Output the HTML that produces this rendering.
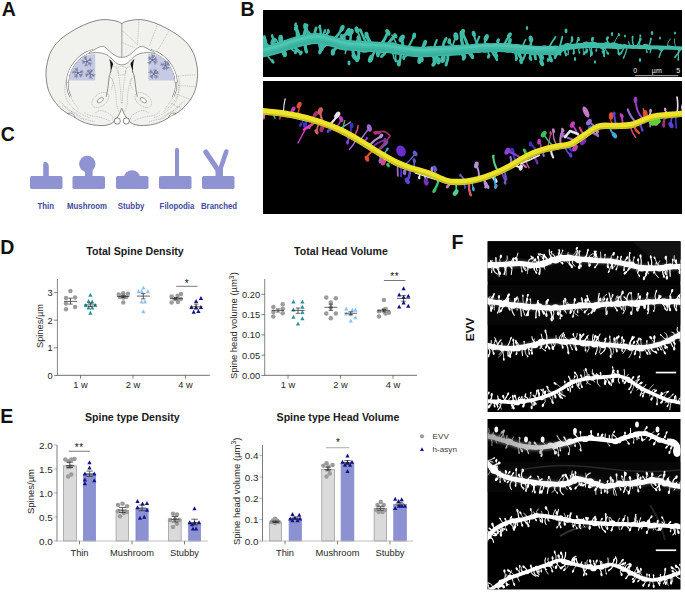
<!DOCTYPE html>
<html><head><meta charset="utf-8"><title>Figure</title>
<style>html,body{margin:0;padding:0;background:#fff;}body{width:685px;height:592px;overflow:hidden;font-family:"Liberation Sans", sans-serif;}svg{display:block;font-family:"Liberation Sans", sans-serif;}</style>
</head><body>
<svg width="685" height="592" viewBox="0 0 685 592">
<defs>
<filter id="bl" x="-5%" y="-20%" width="110%" height="140%"><feGaussianBlur stdDeviation="0.45"/></filter>
<filter id="bl3" x="-20%" y="-20%" width="140%" height="140%"><feGaussianBlur stdDeviation="0.3"/></filter>
<filter id="bl2" x="-5%" y="-20%" width="110%" height="140%"><feGaussianBlur stdDeviation="0.6"/></filter>
<filter id="glow" x="-5%" y="-50%" width="110%" height="200%"><feGaussianBlur stdDeviation="1.6"/></filter>
<clipPath id="cB1"><rect x="263" y="10" width="419" height="67"/></clipPath>
<clipPath id="cB2"><rect x="263" y="81" width="419" height="133"/></clipPath>
<clipPath id="cF1"><rect x="487.5" y="241.5" width="193" height="170.5"/></clipPath>
<clipPath id="cF2"><rect x="487.5" y="419" width="193" height="170.5"/></clipPath>
</defs>
<rect width="685" height="592" fill="#fff"/>
<text x="1.7" y="16" font-size="19.5" font-weight="bold" fill="#111" text-anchor="start">A</text>
<text x="240.4" y="16" font-size="19.5" font-weight="bold" fill="#111" text-anchor="start">B</text>
<text x="0.85" y="140.8" font-size="19.5" font-weight="bold" fill="#111" text-anchor="start">C</text>
<text x="0.2" y="253.5" font-size="19.5" font-weight="bold" fill="#111" text-anchor="start">D</text>
<text x="0.35" y="422.8" font-size="19.5" font-weight="bold" fill="#111" text-anchor="start">E</text>
<text x="451.6" y="248.5" font-size="19.5" font-weight="bold" fill="#111" text-anchor="start">F</text>
<path d="M121.8 23.6C120.83 23.17 119.13 21.67 116 21C112.87 20.33 107.33 19.35 103 19.6C98.67 19.85 94.17 21.13 90 22.5C85.83 23.87 82 25.72 78 27.8C74 29.88 69.62 32.38 66 35C62.38 37.62 58.97 40.42 56.3 43.5C53.63 46.58 51.55 50.08 50 53.5C48.45 56.92 47.67 60.92 47 64C46.33 67.08 46.12 69.5 46 72C45.88 74.5 46.05 76.5 46.3 79C46.55 81.5 46.88 84.5 47.5 87C48.12 89.5 49 91.83 50 94C51 96.17 52.23 98.13 53.5 100C54.77 101.87 56.18 103.62 57.6 105.2C59.02 106.78 60.33 108.12 62 109.5C63.67 110.88 65.93 112.58 67.6 113.5C69.27 114.42 70.77 114.33 72 115C73.23 115.67 73.43 116.45 75 117.5C76.57 118.55 79.07 120.22 81.4 121.3C83.73 122.38 86.48 123.33 89 124C91.52 124.67 94.17 125.05 96.5 125.3C98.83 125.55 101.08 125.58 103 125.5C104.92 125.42 106.5 125.18 108 124.8C109.5 124.42 110.75 124 112 123.2C113.25 122.4 114.42 121.28 115.5 120C116.58 118.72 117.65 116.97 118.5 115.5C119.35 114.03 120.05 112.4 120.6 111.2C121.15 110 121.4 108.3 121.8 108.3C122.2 108.3 122.45 110 123 111.2C123.55 112.4 124.25 114.03 125.1 115.5C125.95 116.97 127.02 118.72 128.1 120C129.18 121.28 130.35 122.4 131.6 123.2C132.85 124 134.1 124.42 135.6 124.8C137.1 125.18 138.68 125.42 140.6 125.5C142.52 125.58 144.77 125.55 147.1 125.3C149.43 125.05 152.08 124.67 154.6 124C157.12 123.33 159.87 122.38 162.2 121.3C164.53 120.22 167.03 118.55 168.6 117.5C170.17 116.45 170.37 115.67 171.6 115C172.83 114.33 174.33 114.42 176 113.5C177.67 112.58 179.93 110.88 181.6 109.5C183.27 108.12 184.58 106.78 186 105.2C187.42 103.62 188.83 101.87 190.1 100C191.37 98.13 192.6 96.17 193.6 94C194.6 91.83 195.48 89.5 196.1 87C196.72 84.5 197.05 81.5 197.3 79C197.55 76.5 197.72 74.5 197.6 72C197.48 69.5 197.27 67.08 196.6 64C195.93 60.92 195.15 56.92 193.6 53.5C192.05 50.08 189.97 46.58 187.3 43.5C184.63 40.42 181.22 37.62 177.6 35C173.98 32.38 169.6 29.88 165.6 27.8C161.6 25.72 157.77 23.87 153.6 22.5C149.43 21.13 144.93 19.85 140.6 19.6C136.27 19.35 130.73 20.33 127.6 21C124.47 21.67 122.77 23.17 121.8 23.6Z" fill="#f1f1ed" stroke="#3a3a3a" stroke-width="0.6" stroke-linejoin="round"/>
<line x1="121.8" y1="23.6" x2="121.8" y2="57.5" stroke="#3a3a3a" stroke-width="0.45"/>
<path d="M138.9 20.3C138.78 22.42 138.42 28.92 138.2 33C137.98 37.08 137.7 42.83 137.6 44.8" fill="none" stroke="#777" stroke-width="0.4" stroke-dasharray="1 0.8"/>
<path d="M121.8 30.3C123.17 31.5 127.37 35.08 130 37.5C132.63 39.92 136.33 43.58 137.6 44.8" fill="none" stroke="#777" stroke-width="0.4" stroke-dasharray="1 0.8"/>
<path d="M121.8 42.2C122.83 42.67 125.8 44.05 128 45C130.2 45.95 133.83 47.42 135 47.9" fill="none" stroke="#777" stroke-width="0.4" stroke-dasharray="1 0.8"/>
<path d="M149.5 46C150.17 44.17 152.13 38.67 153.5 35C154.87 31.33 157 25.83 157.7 24" fill="none" stroke="#777" stroke-width="0.4" stroke-dasharray="1 0.8"/>
<path d="M157.7 50.4C158.67 48.75 161.62 43.73 163.5 40.5C165.38 37.27 168.08 32.58 169 31" fill="none" stroke="#777" stroke-width="0.4" stroke-dasharray="1 0.8"/>
<path d="M177.8 76.1C179.17 75.97 183.07 75.5 186 75.3C188.93 75.1 193.83 74.97 195.4 74.9" fill="none" stroke="#777" stroke-width="0.4" stroke-dasharray="1 0.8"/>
<path d="M178 85.6C179.5 85.67 184.13 85.83 187 86C189.87 86.17 193.83 86.5 195.2 86.6" fill="none" stroke="#777" stroke-width="0.4" stroke-dasharray="1 0.8"/>
<path d="M176 94C177.33 94.5 181.33 96 184 97C186.67 98 190.67 99.5 192 100" fill="none" stroke="#777" stroke-width="0.4" stroke-dasharray="1 0.8"/>
<path d="M171 103C172.17 103.67 175.67 105.75 178 107C180.33 108.25 183.83 109.92 185 110.5" fill="none" stroke="#777" stroke-width="0.4" stroke-dasharray="1 0.8"/>
<path d="M178.5 76C178.67 77.67 179.75 82.67 179.5 86C179.25 89.33 178.42 92.83 177 96C175.58 99.17 173.33 102.33 171 105C168.67 107.67 164.33 110.83 163 112" fill="none" stroke="#777" stroke-width="0.4" stroke-dasharray="1 0.8"/>
<path d="M66 80C65.8 81.67 64.63 86.67 64.8 90C64.97 93.33 65.63 97 67 100C68.37 103 70.67 105.67 73 108C75.33 110.33 78.17 112.33 81 114C83.83 115.67 88.5 117.33 90 118" fill="none" stroke="#777" stroke-width="0.4" stroke-dasharray="1 0.8"/>
<path d="M177.6 80C177.8 81.67 178.97 86.67 178.8 90C178.63 93.33 177.97 97 176.6 100C175.23 103 172.93 105.67 170.6 108C168.27 110.33 165.43 112.33 162.6 114C159.77 115.67 155.1 117.33 153.6 118" fill="none" stroke="#777" stroke-width="0.4" stroke-dasharray="1 0.8"/>
<path d="M59 101C59.67 101.5 61.5 102.5 63 104C64.5 105.5 66 108.5 68 110C70 111.5 73 111.67 75 113C77 114.33 77.83 116.83 80 118C82.17 119.17 85.5 119.33 88 120C90.5 120.67 93.83 121.67 95 122" fill="none" stroke="#777" stroke-width="0.4" stroke-dasharray="1 0.8"/>
<path d="M184.6 101C183.93 101.5 182.1 102.5 180.6 104C179.1 105.5 177.6 108.5 175.6 110C173.6 111.5 170.6 111.67 168.6 113C166.6 114.33 165.77 116.83 163.6 118C161.43 119.17 158.1 119.33 155.6 120C153.1 120.67 149.77 121.67 148.6 122" fill="none" stroke="#777" stroke-width="0.4" stroke-dasharray="1 0.8"/>
<path d="M62 106C62.83 106.25 65.33 106.5 67 107.5C68.67 108.5 70.17 110.75 72 112C73.83 113.25 76 113.75 78 115C80 116.25 83 118.75 84 119.5" fill="none" stroke="#777" stroke-width="0.4" stroke-dasharray="1 0.8"/>
<path d="M181.6 106C180.77 106.25 178.27 106.5 176.6 107.5C174.93 108.5 173.43 110.75 171.6 112C169.77 113.25 167.6 113.75 165.6 115C163.6 116.25 160.6 118.75 159.6 119.5" fill="none" stroke="#777" stroke-width="0.4" stroke-dasharray="1 0.8"/>
<path d="M84 112C85 112.58 87.83 114.75 90 115.5C92.17 116.25 94.67 116 97 116.5C99.33 117 101.83 117.75 104 118.5C106.17 119.25 109 120.58 110 121" fill="none" stroke="#777" stroke-width="0.4" stroke-dasharray="1 0.8"/>
<path d="M159.6 112C158.6 112.58 155.77 114.75 153.6 115.5C151.43 116.25 148.93 116 146.6 116.5C144.27 117 141.77 117.75 139.6 118.5C137.43 119.25 134.6 120.58 133.6 121" fill="none" stroke="#777" stroke-width="0.4" stroke-dasharray="1 0.8"/>
<path d="M95 113C95.83 112.58 98.17 110.67 100 110.5C101.83 110.33 104 111.08 106 112C108 112.92 110.75 114.67 112 116C113.25 117.33 113.25 119.33 113.5 120" fill="none" stroke="#777" stroke-width="0.4" stroke-dasharray="1 0.8"/>
<path d="M148.6 113C147.77 112.58 145.43 110.67 143.6 110.5C141.77 110.33 139.6 111.08 137.6 112C135.6 112.92 132.85 114.67 131.6 116C130.35 117.33 130.35 119.33 130.1 120" fill="none" stroke="#777" stroke-width="0.4" stroke-dasharray="1 0.8"/>
<path d="M112 78C112.42 79.33 113.83 83.17 114.5 86C115.17 88.83 115.67 92 116 95C116.33 98 116 101.17 116.5 104C117 106.83 118.58 110.67 119 112" fill="none" stroke="#777" stroke-width="0.4" stroke-dasharray="1 0.8"/>
<path d="M131.6 78C131.18 79.33 129.77 83.17 129.1 86C128.43 88.83 127.93 92 127.6 95C127.27 98 127.6 101.17 127.1 104C126.6 106.83 125.02 110.67 124.6 112" fill="none" stroke="#777" stroke-width="0.4" stroke-dasharray="1 0.8"/>
<path d="M108.5 76C109.08 76.5 111.25 77.67 112 79C112.75 80.33 113.17 82.17 113 84C112.83 85.83 111.33 89 111 90" fill="none" stroke="#777" stroke-width="0.4" stroke-dasharray="1 0.8"/>
<path d="M135.1 76C134.52 76.5 132.35 77.67 131.6 79C130.85 80.33 130.43 82.17 130.6 84C130.77 85.83 132.27 89 132.6 90" fill="none" stroke="#777" stroke-width="0.4" stroke-dasharray="1 0.8"/>
<path d="M117 68C117.33 69.67 118.42 74.33 119 78C119.58 81.67 120.08 85.67 120.5 90C120.92 94.33 121.33 101.67 121.5 104" fill="none" stroke="#777" stroke-width="0.4" stroke-dasharray="1 0.8"/>
<path d="M126.6 68C126.27 69.67 125.18 74.33 124.6 78C124.02 81.67 123.52 85.67 123.1 90C122.68 94.33 122.27 101.67 122.1 104" fill="none" stroke="#777" stroke-width="0.4" stroke-dasharray="1 0.8"/>
<ellipse cx="100.3" cy="100" rx="9.5" ry="6" transform="rotate(-38 100.3 100)" fill="none" stroke="#777" stroke-width="0.4" stroke-dasharray="1 0.8"/>
<ellipse cx="100.3" cy="100.2" rx="3.6" ry="1.9" transform="rotate(-38 100.3 100.2)" fill="#fff" stroke="#3a3a3a" stroke-width="0.45"/>
<ellipse cx="143.3" cy="100" rx="9.5" ry="6" transform="rotate(38 143.3 100)" fill="none" stroke="#777" stroke-width="0.4" stroke-dasharray="1 0.8"/>
<ellipse cx="143.3" cy="100.2" rx="3.6" ry="1.9" transform="rotate(38 143.3 100.2)" fill="#fff" stroke="#3a3a3a" stroke-width="0.45"/>
<path d="M113 66C113.67 66.25 115.53 67.42 117 67.5C118.47 67.58 120.2 66.5 121.8 66.5C123.4 66.5 125.13 67.58 126.6 67.5C128.07 67.42 129.93 66.25 130.6 66" fill="none" stroke="#777" stroke-width="0.4" stroke-dasharray="1 0.8"/>
<path d="M118 70C118.08 70.67 117.87 73.17 118.5 74C119.13 74.83 120.7 75 121.8 75C122.9 75 124.47 74.83 125.1 74C125.73 73.17 125.52 70.67 125.6 70" fill="none" stroke="#777" stroke-width="0.4" stroke-dasharray="1 0.8"/>
<path d="M93 50.6C92 50.97 89.08 51.73 87 52.8C84.92 53.87 82.5 55.38 80.5 57C78.5 58.62 76.58 60.53 75 62.5C73.42 64.47 72.1 66.63 71 68.8C69.9 70.97 69 73.22 68.4 75.5C67.8 77.78 67.57 81.33 67.4 82.5" fill="none" stroke="#4a4a4a" stroke-width="2.7"/>
<path d="M93 50.6C92 50.97 89.08 51.73 87 52.8C84.92 53.87 82.5 55.38 80.5 57C78.5 58.62 76.58 60.53 75 62.5C73.42 64.47 72.1 66.63 71 68.8C69.9 70.97 69 73.22 68.4 75.5C67.8 77.78 67.57 81.33 67.4 82.5" fill="none" stroke="#fff" stroke-width="1.9"/>
<path d="M67.4 82.5C67.5 83.75 67.48 87.58 68 90C68.52 92.42 70.08 95.83 70.5 97" fill="none" stroke="#4a4a4a" stroke-width="1.9"/>
<path d="M67.4 82.5C67.5 83.75 67.48 87.58 68 90C68.52 92.42 70.08 95.83 70.5 97" fill="none" stroke="#fff" stroke-width="1.1"/>
<path d="M70.5 97C71.17 98.08 73.08 101.5 74.5 103.5C75.92 105.5 78.25 108.08 79 109" fill="none" stroke="#777" stroke-width="0.4" stroke-dasharray="1 0.8"/>
<path d="M150.6 50.6C151.6 50.97 154.52 51.73 156.6 52.8C158.68 53.87 161.1 55.38 163.1 57C165.1 58.62 167.02 60.53 168.6 62.5C170.18 64.47 171.5 66.63 172.6 68.8C173.7 70.97 174.6 73.22 175.2 75.5C175.8 77.78 176.03 81.33 176.2 82.5" fill="none" stroke="#4a4a4a" stroke-width="2.7"/>
<path d="M150.6 50.6C151.6 50.97 154.52 51.73 156.6 52.8C158.68 53.87 161.1 55.38 163.1 57C165.1 58.62 167.02 60.53 168.6 62.5C170.18 64.47 171.5 66.63 172.6 68.8C173.7 70.97 174.6 73.22 175.2 75.5C175.8 77.78 176.03 81.33 176.2 82.5" fill="none" stroke="#fff" stroke-width="1.9"/>
<path d="M176.2 82.5C176.1 83.75 176.12 87.58 175.6 90C175.08 92.42 173.52 95.83 173.1 97" fill="none" stroke="#4a4a4a" stroke-width="1.9"/>
<path d="M176.2 82.5C176.1 83.75 176.12 87.58 175.6 90C175.08 92.42 173.52 95.83 173.1 97" fill="none" stroke="#fff" stroke-width="1.1"/>
<path d="M173.1 97C172.43 98.08 170.52 101.5 169.1 103.5C167.68 105.5 165.35 108.08 164.6 109" fill="none" stroke="#777" stroke-width="0.4" stroke-dasharray="1 0.8"/>
<path d="M89.5 52.3C90.25 51.88 92.42 50.65 94 49.8C95.58 48.95 97.53 47.77 99 47.2C100.47 46.63 101.63 46.27 102.8 46.4C103.97 46.53 104.8 47.15 106 48C107.2 48.85 108.67 50.37 110 51.5C111.33 52.63 112.67 53.92 114 54.8C115.33 55.68 116.7 56.37 118 56.8C119.3 57.23 120.53 57.4 121.8 57.4C123.07 57.4 124.3 57.23 125.6 56.8C126.9 56.37 128.27 55.68 129.6 54.8C130.93 53.92 132.27 52.63 133.6 51.5C134.93 50.37 136.4 48.85 137.6 48C138.8 47.15 139.63 46.53 140.8 46.4C141.97 46.27 143.13 46.63 144.6 47.2C146.07 47.77 148.02 48.95 149.6 49.8C151.18 50.65 153.35 51.73 154.1 52.3C154.85 52.87 155.02 53.15 154.1 53.2C153.18 53.25 150.35 52.67 148.6 52.6C146.85 52.53 145.32 52.53 143.6 52.8C141.88 53.07 139.72 53.67 138.3 54.2C136.88 54.73 136.22 55.2 135.1 56C133.98 56.8 132.73 57.95 131.6 59C130.47 60.05 129.38 61.42 128.3 62.3C127.22 63.18 126.18 63.88 125.1 64.3C124.02 64.72 122.9 64.8 121.8 64.8C120.7 64.8 119.58 64.72 118.5 64.3C117.42 63.88 116.38 63.18 115.3 62.3C114.22 61.42 113.13 60.05 112 59C110.87 57.95 109.62 56.8 108.5 56C107.38 55.2 106.72 54.73 105.3 54.2C103.88 53.67 101.72 53.07 100 52.8C98.28 52.53 96.75 52.53 95 52.6C93.25 52.67 90.42 53.1 89.5 53.2Z" fill="#fff" stroke="#3a3a3a" stroke-width="0.5" stroke-linejoin="round"/>
<path d="M109.2 58.8C109.53 59.17 110.57 60.17 111.2 61C111.83 61.83 112.8 62.88 113 63.8C113.2 64.72 112.68 65.47 112.4 66.5C112.12 67.53 111.58 68.92 111.3 70C111.02 71.08 110.82 73.5 110.7 73C110.58 72.5 110.68 68.75 110.6 67C110.52 65.25 110.27 63.25 110.2 62.5Z" fill="#111"/>
<path d="M111 71C110.7 72 109.67 74.67 109.2 77C108.73 79.33 108.5 82.67 108.2 85C107.9 87.33 107.73 89.03 107.4 91C107.07 92.97 106.4 95.83 106.2 96.8" fill="none" stroke="#3a3a3a" stroke-width="0.55"/>
<path d="M134.4 58.8C134.07 59.17 133.03 60.17 132.4 61C131.77 61.83 130.8 62.88 130.6 63.8C130.4 64.72 130.92 65.47 131.2 66.5C131.48 67.53 132.02 68.92 132.3 70C132.58 71.08 132.78 73.5 132.9 73C133.02 72.5 132.92 68.75 133 67C133.08 65.25 133.33 63.25 133.4 62.5Z" fill="#111"/>
<path d="M132.6 71C132.9 72 133.93 74.67 134.4 77C134.87 79.33 135.1 82.67 135.4 85C135.7 87.33 135.87 89.03 136.2 91C136.53 92.97 137.2 95.83 137.4 96.8" fill="none" stroke="#3a3a3a" stroke-width="0.55"/>
<path d="M95.2 53.9L95.2 80.5L69.1 80.5C69.6 75.5 70.3 72.5 71.4 70.5C72.8 67.5 74.5 65 76.4 63C78.4 60.8 80.4 58.8 82.7 57.3C85 55.8 87.5 54.8 90.2 54.4C91.8 54.1 93.5 53.9 95.2 53.9Z" fill="#c4c7e3" opacity="0.95"/>
<path d="M148.4 53.9L148.4 80.5L174.5 80.5C174 75.5 173.3 72.5 172.2 70.5C170.8 67.5 169.1 65 167.2 63C165.2 60.8 163.2 58.8 160.9 57.3C158.6 55.8 156.1 54.8 153.4 54.4C151.8 54.1 150.1 53.9 148.4 53.9Z" fill="#c4c7e3" opacity="0.95"/>
<path d="M87 61.5Q85.95 63.65 85.8 66.12M86.46 63.58L87.15 65.29M86.46 63.58L85.37 64.23M86.1 64.97L86.81 66M86.1 64.97L84.98 65.58M87 61.5Q84.79 61.27 82.57 61.93M85.01 61.69L84.41 62.9M85.01 61.69L83.41 60.57M83.68 61.82L82.94 63.57M83.68 61.82L81.87 60.29M87 61.5Q86.4 59.03 84.85 56.9M86.03 59.43L84.76 58.91M86.03 59.43L86.38 57.9M85.39 58.05L83.98 57.87M85.39 58.05L86.25 56.28M87 61.5Q89.17 60.69 90.93 59.06M88.77 60.4L89.24 59.22M88.77 60.4L90.76 60.69M89.95 59.67L90.26 58.12M89.95 59.67L91.59 60.24M87 61.5Q88.63 63.38 90.95 64.54M88.78 62.87L90.21 62.44M88.78 62.87L88.83 64.7M89.96 63.78L91.89 63.01M89.96 63.78L90.36 66.12" fill="none" stroke="#5b6088" stroke-width="0.7" stroke-linecap="round" opacity="0.8" filter="url(#bl3)"/>
<circle cx="87" cy="61.5" r="1.1" fill="#5b6088" opacity="0.8"/>
<path d="M78 73Q79.55 74.92 81.8 76.15M79.71 74.42L81.49 74.45M79.71 74.42L80.22 76.35M80.85 75.36L82.66 74.82M80.85 75.36L80.6 76.92M78 73Q76.41 74.73 75.57 77.02M76.91 74.81L77.5 76.45M76.91 74.81L74.57 74.82M76.18 76.01L76.75 77.92M76.18 76.01L74.29 76.8M78 73Q75.57 71.97 72.84 71.95M75.68 72.53L74.61 73.64M75.68 72.53L74.58 70.85M74.13 72.21L72.52 72.91M74.13 72.21L73.28 71.17M78 73Q77.35 70.61 75.78 68.58M77 71.01L75.65 70.37M77 71.01L77.73 68.89M76.33 69.69L74.78 68.91M76.33 69.69L77.23 67.61M78 73Q80.52 72.69 82.82 71.38M80.17 72.27L80.99 70.79M80.17 72.27L82.2 73.27M81.61 71.79L81.85 70.43M81.61 71.79L83 72.31" fill="none" stroke="#5b6088" stroke-width="0.7" stroke-linecap="round" opacity="0.8" filter="url(#bl3)"/>
<circle cx="78" cy="73" r="1.1" fill="#5b6088" opacity="0.8"/>
<path d="M90.1 73.6Q89.9 75.94 90.64 78.26M90.34 75.7L91.24 76.49M90.34 75.7L89.29 76.96M90.5 77.09L92.47 78.36M90.5 77.09L89.16 78.32M90.1 73.6Q87.72 73.96 85.58 75.25M88.06 74.34L86.79 76.23M88.06 74.34L86.26 73M86.71 74.83L86.34 76.46M86.71 74.83L85.52 74.26M90.1 73.6Q89.24 71.83 87.71 70.48M89.03 72.2L87.63 71.79M89.03 72.2L89.07 70.59M88.31 71.26L87.16 70.91M88.31 71.26L88.34 69.94M90.1 73.6Q91.26 72.05 91.75 70.09M90.84 72.02L89.76 70.42M90.84 72.02L92.19 71.36M91.34 70.97L90.81 69.42M91.34 70.97L93.32 69.97M90.1 73.6Q91.82 75.06 94.05 75.78M91.88 74.58L93.11 74.15M91.88 74.58L92.53 76.06M93.06 75.24L95.2 74.74M93.06 75.24L93.52 76.37" fill="none" stroke="#5b6088" stroke-width="0.7" stroke-linecap="round" opacity="0.8" filter="url(#bl3)"/>
<circle cx="90.1" cy="73.6" r="1.1" fill="#5b6088" opacity="0.8"/>
<path d="M152.5 60Q154.52 59.81 156.38 58.83M154.24 59.47L154.73 58.34M154.24 59.47L156.24 60.75M155.41 59.12L155.9 57.14M155.41 59.12L156.89 59.81M152.5 60Q153.95 62.01 156.14 63.36M154.14 61.51L156.26 61.26M154.14 61.51L154.22 62.98M155.23 62.52L157.53 61.91M155.23 62.52L154.79 64.64M152.5 60Q150.41 61.28 148.91 63.34M150.88 61.5L150.68 63.31M150.88 61.5L149.65 61.47M149.8 62.5L149.49 64.01M149.8 62.5L147.77 62.54M152.5 60Q150.92 58.41 148.78 57.5M150.82 58.88L148.71 59.97M150.82 58.88L150.98 57.25M149.71 58.13L148.25 58.3M149.71 58.13L149.31 56.74M152.5 60Q153.2 57.53 152.9 54.88M152.68 57.7L151.24 56.65M152.68 57.7L154.5 56.54M152.8 56.16L151.73 54.48M152.8 56.16L154.73 55.25" fill="none" stroke="#5b6088" stroke-width="0.7" stroke-linecap="round" opacity="0.8" filter="url(#bl3)"/>
<circle cx="152.5" cy="60" r="1.1" fill="#5b6088" opacity="0.8"/>
<path d="M165.5 65.5Q165.88 63.49 165.44 61.4M165.47 63.66L164.12 62.81M165.47 63.66L167.45 62.35M165.45 62.43L164.23 61.27M165.45 62.43L167.26 61.41M165.5 65.5Q167.41 64.88 169 63.52M167.08 64.61L167.93 62.49M167.08 64.61L168.29 65.26M168.13 64.02L168.23 61.64M168.13 64.02L169.61 64.67M165.5 65.5Q166.29 67.35 167.78 68.82M166.52 67L168.74 67.84M166.52 67L165.94 68.73M167.21 67.99L168.92 67.83M167.21 67.99L166.28 69.98M165.5 65.5Q164.22 67.17 163.66 69.28M164.67 67.2L165.1 68.63M164.67 67.2L163.2 67.54M164.12 68.33L164.59 69.61M164.12 68.33L162.5 68.44M165.5 65.5Q163.43 64.4 161.01 64.17M163.48 64.9L162.25 66.08M163.48 64.9L163.08 63.15M162.13 64.51L160.6 65.5M162.13 64.51L161.06 63.15" fill="none" stroke="#5b6088" stroke-width="0.7" stroke-linecap="round" opacity="0.8" filter="url(#bl3)"/>
<circle cx="165.5" cy="65.5" r="1.1" fill="#5b6088" opacity="0.8"/>
<path d="M153.8 73.8Q155.04 75.97 157.09 77.56M155.28 75.49L157.02 75.78M155.28 75.49L154.83 77.3M156.26 76.62L158.08 76.78M156.26 76.62L155.92 78.73M153.8 73.8Q152.13 75.42 151.18 77.64M152.62 75.53L152.81 77.05M152.62 75.53L150.81 75.5M151.83 76.68L152.42 78.71M151.83 76.68L150.11 76.53M153.8 73.8Q152.19 72.18 150 71.26M152.09 72.66L150.13 73.19M152.09 72.66L151.81 70.84M150.95 71.9L148.69 72.47M150.95 71.9L150.88 69.65M153.8 73.8Q155.11 72.15 155.72 70.05M154.66 72.11L153.74 69.97M154.66 72.11L156.02 72.01M155.24 70.99L154.91 69.29M155.24 70.99L156.57 70.32M153.8 73.8Q156.17 73.41 158.29 72.09M155.82 73.03L156.31 70.81M155.82 73.03L157.78 73.67M157.17 72.52L157.54 71.2M157.17 72.52L159.01 74" fill="none" stroke="#5b6088" stroke-width="0.7" stroke-linecap="round" opacity="0.8" filter="url(#bl3)"/>
<circle cx="153.8" cy="73.8" r="1.1" fill="#5b6088" opacity="0.8"/>
<circle cx="117.3" cy="121" r="3.1" fill="#fff" stroke="#3a3a3a" stroke-width="0.6"/>
<circle cx="126.3" cy="121" r="3.1" fill="#fff" stroke="#3a3a3a" stroke-width="0.6"/>
<path d="M67.6 113.5C68.08 113.42 69.52 112.82 70.5 113C71.48 113.18 72.75 113.88 73.5 114.6C74.25 115.32 75.25 117.13 75 117.3C74.75 117.47 72.5 115.88 72 115.6Z" fill="#fff" stroke="#3a3a3a" stroke-width="0.45"/>
<path d="M176 113.5C175.52 113.42 174.08 112.82 173.1 113C172.12 113.18 170.85 113.88 170.1 114.6C169.35 115.32 168.35 117.13 168.6 117.3C168.85 117.47 171.1 115.88 171.6 115.6Z" fill="#fff" stroke="#3a3a3a" stroke-width="0.45"/>
<rect x="30" y="176" width="32.5" height="13" rx="1.8" fill="#8f93d2"/>
<path d="M43.2 177V164.5Q43.2 161.8 45.2 161.8Q48.8 162.5 48.8 167V177Z" fill="#8f93d2"/>
<rect x="72.5" y="176" width="32.5" height="13" rx="1.8" fill="#8f93d2"/>
<circle cx="87.3" cy="164" r="8.2" fill="#8f93d2"/>
<rect x="85" y="165" width="7.6" height="12" fill="#8f93d2"/>
<rect x="116" y="176" width="32.5" height="13" rx="1.8" fill="#8f93d2"/>
<circle cx="132" cy="178.4" r="8.2" fill="#8f93d2"/>
<rect x="159" y="176" width="32.5" height="13" rx="1.8" fill="#8f93d2"/>
<rect x="175" y="148" width="4" height="29" rx="1.6" fill="#8f93d2"/>
<rect x="202" y="176" width="32.5" height="13" rx="1.8" fill="#8f93d2"/>
<path d="M205.8 152L219 171.5L219 177" stroke="#8f93d2" stroke-width="5" stroke-linecap="round" stroke-linejoin="round" fill="none"/>
<path d="M226.3 151.5L219.5 171.5" stroke="#8f93d2" stroke-width="4.6" stroke-linecap="round" fill="none"/>
<rect x="215.5" y="168" width="7.5" height="9" fill="#8f93d2"/>
<text x="0" y="0" font-size="8.9" font-weight="bold" fill="#3f4a9c" text-anchor="middle" transform="translate(45.8 209.3) scale(0.88 1)">Thin</text>
<text x="0" y="0" font-size="8.9" font-weight="bold" fill="#3f4a9c" text-anchor="middle" transform="translate(87 209.3) scale(0.88 1)">Mushroom</text>
<text x="0" y="0" font-size="8.9" font-weight="bold" fill="#3f4a9c" text-anchor="middle" transform="translate(131 209.3) scale(0.88 1)">Stubby</text>
<text x="0" y="0" font-size="8.9" font-weight="bold" fill="#3f4a9c" text-anchor="middle" transform="translate(177 209.3) scale(0.88 1)">Filopodia</text>
<text x="0" y="0" font-size="8.9" font-weight="bold" fill="#3f4a9c" text-anchor="middle" transform="translate(219 209.3) scale(0.88 1)">Branched</text>
<rect x="263" y="10" width="419" height="67" fill="#000"/>
<g clip-path="url(#cB1)">
<g filter="url(#bl)">
<path d="M258 53C260.83 52.33 269.67 50.5 275 49C280.33 47.5 285 45.5 290 44C295 42.5 300.5 40.92 305 40C309.5 39.08 312.83 38.33 317 38.5C321.17 38.67 325.33 39.92 330 41C334.67 42.08 342.5 44.33 345 45" fill="none" stroke="#41bba7" stroke-width="11" stroke-linecap="round"/>
<path d="M345 45C348.33 45.25 358.33 46.08 365 46.5C371.67 46.92 378.33 46.83 385 47.5C391.67 48.17 399.17 49.75 405 50.5C410.83 51.25 414.17 51.92 420 52C425.83 52.08 433.33 51.33 440 51C446.67 50.67 456.67 50.17 460 50" fill="none" stroke="#41bba7" stroke-width="10.5" stroke-linecap="round"/>
<path d="M460 50C463.33 49.67 473.33 48.42 480 48C486.67 47.58 493.33 47.33 500 47.5C506.67 47.67 513.33 48.5 520 49C526.67 49.5 534 50.33 540 50.5C546 50.67 553.33 50.08 556 50" fill="none" stroke="#41bba7" stroke-width="9" stroke-linecap="round"/>
<path d="M556 50C558.33 49.5 565.17 47.75 570 47C574.83 46.25 580 45.75 585 45.5C590 45.25 594.17 45.33 600 45.5C605.83 45.67 616.67 46.33 620 46.5" fill="none" stroke="#41bba7" stroke-width="5.5" stroke-linecap="round"/>
<path d="M620 46.5C623.33 46.58 633.33 46.83 640 47C646.67 47.17 652.33 47.25 660 47.5C667.67 47.75 681.67 48.33 686 48.5" fill="none" stroke="#41bba7" stroke-width="3.8" stroke-linecap="round"/>
<ellipse cx="260.31" cy="52.54" rx="5.79" ry="4.46" fill="#41bba7"/>
<path d="M259.87 54.63Q261.02 58.21 261.12 60.62" fill="none" stroke="#41bba7" stroke-width="1.67" stroke-linecap="round"/>
<ellipse cx="261.12" cy="60.62" rx="1.32" ry="2.15" fill="#41bba7" transform="rotate(21.68 261.12 60.62)"/>
<path d="M266.5 52.98Q267.63 57.23 272.64 61.37" fill="none" stroke="#41bba7" stroke-width="1.61" stroke-linecap="round"/>
<ellipse cx="272.64" cy="61.37" rx="1.53" ry="2.48" fill="#41bba7" transform="rotate(-32.89 272.64 61.37)"/>
<ellipse cx="268.93" cy="50.77" rx="5.39" ry="4.15" fill="#41bba7"/>
<path d="M267.69 48.78Q265.11 43.87 264.3 36.97" fill="none" stroke="#41bba7" stroke-width="3.29" stroke-linecap="round"/>
<path d="M269.79 48.54Q268.05 45.37 264.18 42.59" fill="none" stroke="#41bba7" stroke-width="3.02" stroke-linecap="round"/>
<ellipse cx="264.18" cy="42.59" rx="2.5" ry="4.07" fill="#41bba7" transform="rotate(24.31 264.18 42.59)"/>
<ellipse cx="274.89" cy="49.15" rx="4.61" ry="3.55" fill="#41bba7"/>
<path d="M273.86 47.27Q274.67 43.92 273.26 41.49" fill="none" stroke="#41bba7" stroke-width="1.66" stroke-linecap="round"/>
<ellipse cx="273.26" cy="41.49" rx="2.51" ry="4.08" fill="#41bba7" transform="rotate(18.06 273.26 41.49)"/>
<ellipse cx="276.15" cy="46.84" rx="4.73" ry="3.64" fill="#41bba7"/>
<path d="M276.24 46.55Q273.01 41.81 272.27 36.13" fill="none" stroke="#41bba7" stroke-width="1.74" stroke-linecap="round"/>
<ellipse cx="272.27" cy="36.13" rx="1.36" ry="2.21" fill="#41bba7" transform="rotate(-5.55 272.27 36.13)"/>
<ellipse cx="280.74" cy="48.58" rx="4.81" ry="3.7" fill="#41bba7"/>
<path d="M278.92 45.69Q278.72 42.7 275.68 39.13" fill="none" stroke="#41bba7" stroke-width="1.68" stroke-linecap="round"/>
<ellipse cx="283.18" cy="45.88" rx="4.77" ry="3.67" fill="#41bba7"/>
<path d="M282.15 44.56Q280.4 41.85 280.71 38.74" fill="none" stroke="#41bba7" stroke-width="2.17" stroke-linecap="round"/>
<ellipse cx="280.71" cy="38.74" rx="2.5" ry="4.07" fill="#41bba7" transform="rotate(-1.14 280.71 38.74)"/>
<path d="M285.16 47.47Q285.99 49.85 284.27 53.23" fill="none" stroke="#41bba7" stroke-width="1.84" stroke-linecap="round"/>
<ellipse cx="284.27" cy="53.23" rx="2.48" ry="4.03" fill="#41bba7" transform="rotate(-21.24 284.27 53.23)"/>
<path d="M289.72 45.94Q290.89 49.84 295.75 51.9" fill="none" stroke="#41bba7" stroke-width="1.93" stroke-linecap="round"/>
<ellipse cx="295.75" cy="51.9" rx="1.55" ry="2.52" fill="#41bba7" transform="rotate(22.66 295.75 51.9)"/>
<path d="M292.61 45.03Q295.65 49.11 300.87 52.94" fill="none" stroke="#41bba7" stroke-width="3.03" stroke-linecap="round"/>
<ellipse cx="300.87" cy="52.94" rx="1.58" ry="2.57" fill="#41bba7" transform="rotate(29.22 300.87 52.94)"/>
<ellipse cx="293.59" cy="42.61" rx="3.96" ry="3.04" fill="#41bba7"/>
<ellipse cx="297.08" cy="40.66" rx="5.15" ry="3.96" fill="#41bba7"/>
<path d="M296.77 39.99Q296.91 32.3 295.52 24.26" fill="none" stroke="#41bba7" stroke-width="1.75" stroke-linecap="round"/>
<ellipse cx="295.52" cy="24.26" rx="1.22" ry="1.99" fill="#41bba7" transform="rotate(28.71 295.52 24.26)"/>
<path d="M299.29 39.29Q298.57 33.15 296.02 27.74" fill="none" stroke="#41bba7" stroke-width="3.3" stroke-linecap="round"/>
<ellipse cx="296.02" cy="27.74" rx="1.94" ry="3.16" fill="#41bba7" transform="rotate(16.59 296.02 27.74)"/>
<path d="M303.27 38.57Q304.5 32.32 306.9 25.33" fill="none" stroke="#41bba7" stroke-width="3.12" stroke-linecap="round"/>
<ellipse cx="306.4" cy="40.12" rx="6.57" ry="5.06" fill="#41bba7"/>
<path d="M305.82 41.86Q304.5 47.16 306.53 51.9" fill="none" stroke="#41bba7" stroke-width="3.29" stroke-linecap="round"/>
<path d="M308.1 37.34Q307.99 31.01 305.17 26.33" fill="none" stroke="#41bba7" stroke-width="2.85" stroke-linecap="round"/>
<ellipse cx="305.17" cy="26.33" rx="2.02" ry="3.28" fill="#41bba7" transform="rotate(-1.33 305.17 26.33)"/>
<ellipse cx="311.57" cy="39.19" rx="6.26" ry="4.82" fill="#41bba7"/>
<path d="M310.84 36.92Q310.61 33.94 308.95 32.16" fill="none" stroke="#41bba7" stroke-width="1.81" stroke-linecap="round"/>
<path d="M314.85 36.53Q314.27 32.14 316.1 28.02" fill="none" stroke="#41bba7" stroke-width="2.95" stroke-linecap="round"/>
<path d="M318.31 40.38Q319.69 44.5 321.1 47.28" fill="none" stroke="#41bba7" stroke-width="3.03" stroke-linecap="round"/>
<ellipse cx="321.1" cy="47.28" rx="2.49" ry="4.05" fill="#41bba7" transform="rotate(-15.62 321.1 47.28)"/>
<ellipse cx="320.09" cy="37.84" rx="5.42" ry="4.17" fill="#41bba7"/>
<path d="M320.41 36.88Q321.44 32.64 319.75 26.47" fill="none" stroke="#41bba7" stroke-width="2.31" stroke-linecap="round"/>
<ellipse cx="319.75" cy="26.47" rx="1.24" ry="2.02" fill="#41bba7" transform="rotate(26.1 319.75 26.47)"/>
<ellipse cx="323.63" cy="38.76" rx="6.3" ry="4.84" fill="#41bba7"/>
<path d="M323.81 37.47Q322.45 34.93 324.88 31.07" fill="none" stroke="#41bba7" stroke-width="1.93" stroke-linecap="round"/>
<ellipse cx="324.88" cy="31.07" rx="1.26" ry="2.05" fill="#41bba7" transform="rotate(9.04 324.88 31.07)"/>
<ellipse cx="326.72" cy="41.24" rx="6.03" ry="4.64" fill="#41bba7"/>
<path d="M326.82 38.18Q326.28 33.68 328.32 31.14" fill="none" stroke="#41bba7" stroke-width="2.35" stroke-linecap="round"/>
<ellipse cx="328.32" cy="31.14" rx="1.44" ry="2.35" fill="#41bba7" transform="rotate(-15.94 328.32 31.14)"/>
<ellipse cx="329.36" cy="41.25" rx="6.26" ry="4.81" fill="#41bba7"/>
<path d="M328 42.35Q322.36 47.78 320.02 51.49" fill="none" stroke="#41bba7" stroke-width="2.8" stroke-linecap="round"/>
<ellipse cx="320.02" cy="51.49" rx="1.82" ry="2.95" fill="#41bba7" transform="rotate(8.79 320.02 51.49)"/>
<path d="M333.42 39.97Q339.56 34 342.14 28.18" fill="none" stroke="#41bba7" stroke-width="2.67" stroke-linecap="round"/>
<ellipse cx="342.14" cy="28.18" rx="2.18" ry="3.55" fill="#41bba7" transform="rotate(22.28 342.14 28.18)"/>
<path d="M336.64 41.18Q344.29 36.5 348.13 31.69" fill="none" stroke="#41bba7" stroke-width="2.92" stroke-linecap="round"/>
<ellipse cx="348.13" cy="31.69" rx="2.44" ry="3.96" fill="#41bba7" transform="rotate(24.9 348.13 31.69)"/>
<ellipse cx="337.85" cy="43.52" rx="4.18" ry="3.22" fill="#41bba7"/>
<path d="M339.19 41.76Q339.07 40.26 342.45 37.56" fill="none" stroke="#41bba7" stroke-width="1.81" stroke-linecap="round"/>
<ellipse cx="342.45" cy="37.56" rx="2.27" ry="3.69" fill="#41bba7" transform="rotate(-25.16 342.45 37.56)"/>
<ellipse cx="341.3" cy="45.37" rx="5.65" ry="4.34" fill="#41bba7"/>
<path d="M339.45 45.56Q334.57 48.27 333 52.09" fill="none" stroke="#41bba7" stroke-width="2.45" stroke-linecap="round"/>
<ellipse cx="333" cy="52.09" rx="2.19" ry="3.56" fill="#41bba7" transform="rotate(9.72 333 52.09)"/>
<path d="M343.87 42.79Q345.44 39.38 344.25 34.37" fill="none" stroke="#41bba7" stroke-width="1.87" stroke-linecap="round"/>
<path d="M346.4 47.22Q345.86 50.52 345.3 53.41" fill="none" stroke="#41bba7" stroke-width="1.55" stroke-linecap="round"/>
<path d="M349.89 43.58Q351.08 37.13 350.75 32.42" fill="none" stroke="#41bba7" stroke-width="2.47" stroke-linecap="round"/>
<ellipse cx="350.75" cy="32.42" rx="2.5" ry="4.06" fill="#41bba7" transform="rotate(29.64 350.75 32.42)"/>
<ellipse cx="351.97" cy="45.57" rx="5.5" ry="4.23" fill="#41bba7"/>
<path d="M353.02 47.79Q352.47 52.48 354.39 56.7" fill="none" stroke="#41bba7" stroke-width="3.17" stroke-linecap="round"/>
<ellipse cx="354.39" cy="56.7" rx="2.26" ry="3.67" fill="#41bba7" transform="rotate(-33.4 354.39 56.7)"/>
<ellipse cx="356.09" cy="45.36" rx="4.67" ry="3.59" fill="#41bba7"/>
<path d="M356.37 44.11Q355.88 41.23 358.4 38.3" fill="none" stroke="#41bba7" stroke-width="1.95" stroke-linecap="round"/>
<ellipse cx="358.4" cy="38.3" rx="1.92" ry="3.12" fill="#41bba7" transform="rotate(-4.43 358.4 38.3)"/>
<ellipse cx="358.77" cy="44.93" rx="5.3" ry="4.07" fill="#41bba7"/>
<path d="M358.54 48.15Q359.48 53.66 357.61 58.73" fill="none" stroke="#41bba7" stroke-width="3.04" stroke-linecap="round"/>
<ellipse cx="357.61" cy="58.73" rx="2.21" ry="3.59" fill="#41bba7" transform="rotate(21.74 357.61 58.73)"/>
<path d="M361.14 44.39Q361 37.9 356.87 29.86" fill="none" stroke="#41bba7" stroke-width="1.74" stroke-linecap="round"/>
<ellipse cx="356.87" cy="29.86" rx="2.19" ry="3.56" fill="#41bba7" transform="rotate(-16.84 356.87 29.86)"/>
<ellipse cx="364.54" cy="47.53" rx="6.71" ry="5.16" fill="#41bba7"/>
<ellipse cx="366.73" cy="45.57" rx="6.22" ry="4.78" fill="#41bba7"/>
<path d="M366.89 44.81Q363.76 38.17 360.58 30.49" fill="none" stroke="#41bba7" stroke-width="2.41" stroke-linecap="round"/>
<ellipse cx="360.58" cy="30.49" rx="1.46" ry="2.37" fill="#41bba7" transform="rotate(-30.06 360.58 30.49)"/>
<ellipse cx="370.8" cy="46.82" rx="4.03" ry="3.1" fill="#41bba7"/>
<path d="M370.07 44.86Q370.32 42.51 367.86 38.19" fill="none" stroke="#41bba7" stroke-width="3.17" stroke-linecap="round"/>
<ellipse cx="367.86" cy="38.19" rx="1.28" ry="2.09" fill="#41bba7" transform="rotate(31.6 367.86 38.19)"/>
<ellipse cx="373.35" cy="46.74" rx="6.48" ry="4.99" fill="#41bba7"/>
<path d="M372.65 45.16Q370.41 40.9 366.56 35.27" fill="none" stroke="#41bba7" stroke-width="1.83" stroke-linecap="round"/>
<ellipse cx="366.56" cy="35.27" rx="2.21" ry="3.58" fill="#41bba7" transform="rotate(-6.63 366.56 35.27)"/>
<ellipse cx="376.72" cy="45.22" rx="4.46" ry="3.43" fill="#41bba7"/>
<path d="M375.78 48.75Q373.74 53.58 370.67 58.8" fill="none" stroke="#41bba7" stroke-width="2.58" stroke-linecap="round"/>
<ellipse cx="370.67" cy="58.8" rx="2.54" ry="4.12" fill="#41bba7" transform="rotate(21.34 370.67 58.8)"/>
<ellipse cx="380.18" cy="48.11" rx="6.98" ry="5.37" fill="#41bba7"/>
<path d="M380.66 45.36Q385.06 39.4 387.89 32.37" fill="none" stroke="#41bba7" stroke-width="2.88" stroke-linecap="round"/>
<ellipse cx="387.89" cy="32.37" rx="2.18" ry="3.55" fill="#41bba7" transform="rotate(-30.06 387.89 32.37)"/>
<ellipse cx="381.7" cy="46.78" rx="5.48" ry="4.22" fill="#41bba7"/>
<path d="M381.54 48.94Q380.32 51.32 377.77 54.35" fill="none" stroke="#41bba7" stroke-width="2.69" stroke-linecap="round"/>
<ellipse cx="377.77" cy="54.35" rx="1.92" ry="3.13" fill="#41bba7" transform="rotate(-7.73 377.77 54.35)"/>
<path d="M386.93 46.02Q389.24 41.05 395.36 35.63" fill="none" stroke="#41bba7" stroke-width="2.83" stroke-linecap="round"/>
<ellipse cx="395.36" cy="35.63" rx="1.75" ry="2.84" fill="#41bba7" transform="rotate(-31.47 395.36 35.63)"/>
<ellipse cx="387.84" cy="47.04" rx="5.17" ry="3.98" fill="#41bba7"/>
<path d="M387.37 49.47Q384.65 54.04 381.39 56.63" fill="none" stroke="#41bba7" stroke-width="2.65" stroke-linecap="round"/>
<ellipse cx="392.13" cy="46.73" rx="5.92" ry="4.55" fill="#41bba7"/>
<path d="M392.1 50.31Q393.16 54.89 394.26 59.02" fill="none" stroke="#41bba7" stroke-width="1.61" stroke-linecap="round"/>
<ellipse cx="394.77" cy="48.36" rx="5.68" ry="4.37" fill="#41bba7"/>
<path d="M394.77 50.84Q396.1 55.33 395.71 60.64" fill="none" stroke="#41bba7" stroke-width="1.53" stroke-linecap="round"/>
<ellipse cx="395.71" cy="60.64" rx="1.26" ry="2.04" fill="#41bba7" transform="rotate(-24.04 395.71 60.64)"/>
<path d="M396.81 47.48Q396.35 42.21 391.98 35.16" fill="none" stroke="#41bba7" stroke-width="1.63" stroke-linecap="round"/>
<ellipse cx="401.44" cy="48.91" rx="5.51" ry="4.24" fill="#41bba7"/>
<path d="M400.25 51.82Q401.48 58.14 398.87 63.19" fill="none" stroke="#41bba7" stroke-width="2.59" stroke-linecap="round"/>
<ellipse cx="398.87" cy="63.19" rx="2.05" ry="3.33" fill="#41bba7" transform="rotate(-3.1 398.87 63.19)"/>
<ellipse cx="403.52" cy="48.94" rx="4.08" ry="3.14" fill="#41bba7"/>
<path d="M403.17 48.31Q402.79 43.19 401.74 38.4" fill="none" stroke="#41bba7" stroke-width="2.9" stroke-linecap="round"/>
<ellipse cx="401.74" cy="38.4" rx="2.56" ry="4.15" fill="#41bba7" transform="rotate(31.68 401.74 38.4)"/>
<path d="M407.35 48.91Q411.23 42.04 414.11 35.73" fill="none" stroke="#41bba7" stroke-width="1.99" stroke-linecap="round"/>
<ellipse cx="414.11" cy="35.73" rx="1.97" ry="3.2" fill="#41bba7" transform="rotate(6.42 414.11 35.73)"/>
<path d="M408.1 52.61Q407.55 55.93 403.68 57.73" fill="none" stroke="#41bba7" stroke-width="1.57" stroke-linecap="round"/>
<ellipse cx="403.68" cy="57.73" rx="1.57" ry="2.55" fill="#41bba7" transform="rotate(-5.24 403.68 57.73)"/>
<ellipse cx="418.46" cy="52.43" rx="6.19" ry="4.76" fill="#41bba7"/>
<path d="M418.67 53.93Q420.15 57.77 419.67 60.24" fill="none" stroke="#41bba7" stroke-width="1.63" stroke-linecap="round"/>
<ellipse cx="419.67" cy="60.24" rx="2.3" ry="3.74" fill="#41bba7" transform="rotate(8.66 419.67 60.24)"/>
<path d="M422.08 50.14Q422.95 46.78 424.88 42.82" fill="none" stroke="#41bba7" stroke-width="3.28" stroke-linecap="round"/>
<ellipse cx="424.88" cy="42.82" rx="1.95" ry="3.16" fill="#41bba7" transform="rotate(17.23 424.88 42.82)"/>
<path d="M423.55 53.77Q420.81 55.34 421.43 58.58" fill="none" stroke="#41bba7" stroke-width="2.52" stroke-linecap="round"/>
<ellipse cx="421.43" cy="58.58" rx="2.13" ry="3.46" fill="#41bba7" transform="rotate(-14.08 421.43 58.58)"/>
<ellipse cx="429.51" cy="50.91" rx="6.14" ry="4.72" fill="#41bba7"/>
<path d="M431.3 53.37Q432.41 56.95 434.66 59.63" fill="none" stroke="#41bba7" stroke-width="2.16" stroke-linecap="round"/>
<ellipse cx="434.66" cy="59.63" rx="2.16" ry="3.52" fill="#41bba7" transform="rotate(4.85 434.66 59.63)"/>
<path d="M433.93 49.5Q434.58 44.44 436.79 40.11" fill="none" stroke="#41bba7" stroke-width="2.22" stroke-linecap="round"/>
<path d="M436.79 53.16Q437.27 56.79 438.58 60.88" fill="none" stroke="#41bba7" stroke-width="1.85" stroke-linecap="round"/>
<ellipse cx="438.58" cy="60.88" rx="2.28" ry="3.71" fill="#41bba7" transform="rotate(2.84 438.58 60.88)"/>
<path d="M438.54 52.87Q435.35 57.35 433.9 63.73" fill="none" stroke="#41bba7" stroke-width="2.43" stroke-linecap="round"/>
<ellipse cx="433.9" cy="63.73" rx="1.97" ry="3.2" fill="#41bba7" transform="rotate(32.65 433.9 63.73)"/>
<path d="M442.92 48.98Q442.89 42.88 446.18 38.46" fill="none" stroke="#41bba7" stroke-width="2.83" stroke-linecap="round"/>
<ellipse cx="444.61" cy="51.64" rx="6.04" ry="4.65" fill="#41bba7"/>
<path d="M444.78 52.68Q443.98 56.33 443.01 58.92" fill="none" stroke="#41bba7" stroke-width="2.21" stroke-linecap="round"/>
<ellipse cx="443.01" cy="58.92" rx="2.52" ry="4.09" fill="#41bba7" transform="rotate(12.07 443.01 58.92)"/>
<ellipse cx="448.76" cy="51.38" rx="5.72" ry="4.4" fill="#41bba7"/>
<path d="M448.01 52.61Q448.44 59.38 446.05 64.93" fill="none" stroke="#41bba7" stroke-width="3" stroke-linecap="round"/>
<path d="M451.94 48.6Q453.62 42.36 455.93 36.43" fill="none" stroke="#41bba7" stroke-width="1.76" stroke-linecap="round"/>
<ellipse cx="455.93" cy="36.43" rx="2.55" ry="4.14" fill="#41bba7" transform="rotate(-8.71 455.93 36.43)"/>
<ellipse cx="454.17" cy="49.61" rx="4.59" ry="3.53" fill="#41bba7"/>
<path d="M453.33 48.62Q451.85 45.52 449.19 41.31" fill="none" stroke="#41bba7" stroke-width="1.82" stroke-linecap="round"/>
<ellipse cx="449.19" cy="41.31" rx="1.82" ry="2.96" fill="#41bba7" transform="rotate(5.88 449.19 41.31)"/>
<ellipse cx="459.74" cy="49.02" rx="4.52" ry="3.48" fill="#41bba7"/>
<path d="M461.19 51.77Q461.75 54.04 464.06 57.62" fill="none" stroke="#41bba7" stroke-width="2.86" stroke-linecap="round"/>
<ellipse cx="464.06" cy="57.62" rx="1.95" ry="3.16" fill="#41bba7" transform="rotate(22.2 464.06 57.62)"/>
<ellipse cx="464.07" cy="51.2" rx="4.78" ry="3.68" fill="#41bba7"/>
<path d="M463.05 47.73Q461 39.12 461.19 32.31" fill="none" stroke="#41bba7" stroke-width="3.21" stroke-linecap="round"/>
<ellipse cx="466.31" cy="48.58" rx="5.68" ry="4.37" fill="#41bba7"/>
<path d="M467.56 50.93Q469.59 53.22 471.84 56.02" fill="none" stroke="#41bba7" stroke-width="2.93" stroke-linecap="round"/>
<ellipse cx="471.84" cy="56.02" rx="2.02" ry="3.29" fill="#41bba7" transform="rotate(-23.99 471.84 56.02)"/>
<ellipse cx="468.77" cy="50.38" rx="4.99" ry="3.84" fill="#41bba7"/>
<path d="M468.49 47.21Q465.56 39.16 462.35 32.51" fill="none" stroke="#41bba7" stroke-width="2.89" stroke-linecap="round"/>
<ellipse cx="462.35" cy="32.51" rx="2.32" ry="3.77" fill="#41bba7" transform="rotate(24.23 462.35 32.51)"/>
<ellipse cx="474.41" cy="48.32" rx="5.82" ry="4.47" fill="#41bba7"/>
<path d="M475.87 46.51Q476.77 42.18 479.24 36.69" fill="none" stroke="#41bba7" stroke-width="2.07" stroke-linecap="round"/>
<ellipse cx="477.62" cy="48.28" rx="6.16" ry="4.74" fill="#41bba7"/>
<path d="M477.61 46.22Q474.94 39.23 473.78 33.94" fill="none" stroke="#41bba7" stroke-width="1.89" stroke-linecap="round"/>
<ellipse cx="473.78" cy="33.94" rx="2" ry="3.25" fill="#41bba7" transform="rotate(-9.82 473.78 33.94)"/>
<ellipse cx="485.13" cy="48.95" rx="5.02" ry="3.86" fill="#41bba7"/>
<path d="M484.6 45.8Q484.38 41.89 486.26 37.72" fill="none" stroke="#41bba7" stroke-width="2.14" stroke-linecap="round"/>
<ellipse cx="486.26" cy="37.72" rx="2.34" ry="3.81" fill="#41bba7" transform="rotate(20.96 486.26 37.72)"/>
<ellipse cx="486.77" cy="47.18" rx="5.5" ry="4.23" fill="#41bba7"/>
<path d="M487.53 49.6Q488.77 52.5 488.67 56.37" fill="none" stroke="#41bba7" stroke-width="1.71" stroke-linecap="round"/>
<ellipse cx="488.67" cy="56.37" rx="1.52" ry="2.46" fill="#41bba7" transform="rotate(31.15 488.67 56.37)"/>
<path d="M491.18 49.27Q492.53 53.38 496.76 59.12" fill="none" stroke="#41bba7" stroke-width="2.5" stroke-linecap="round"/>
<ellipse cx="496.76" cy="59.12" rx="1.33" ry="2.16" fill="#41bba7" transform="rotate(-6.84 496.76 59.12)"/>
<path d="M494.01 49.29Q493.71 51.77 496.42 54.63" fill="none" stroke="#41bba7" stroke-width="1.5" stroke-linecap="round"/>
<ellipse cx="496.48" cy="48.41" rx="5.18" ry="3.98" fill="#41bba7"/>
<path d="M496.39 49.44Q494.8 52.63 497.08 56.22" fill="none" stroke="#41bba7" stroke-width="2.54" stroke-linecap="round"/>
<path d="M498.83 45.51Q497.78 43.54 498 40.96" fill="none" stroke="#41bba7" stroke-width="1.56" stroke-linecap="round"/>
<ellipse cx="498" cy="40.96" rx="1.74" ry="2.83" fill="#41bba7" transform="rotate(20.2 498 40.96)"/>
<path d="M503.2 45.85Q506.48 40.3 509.38 35.34" fill="none" stroke="#41bba7" stroke-width="2.21" stroke-linecap="round"/>
<ellipse cx="509.38" cy="35.34" rx="2" ry="3.24" fill="#41bba7" transform="rotate(34.07 509.38 35.34)"/>
<path d="M506.32 46.1Q508.65 42.84 509.96 40.8" fill="none" stroke="#41bba7" stroke-width="1.52" stroke-linecap="round"/>
<ellipse cx="509.96" cy="40.8" rx="1.83" ry="2.97" fill="#41bba7" transform="rotate(13.8 509.96 40.8)"/>
<ellipse cx="507.9" cy="47.84" rx="6.48" ry="4.98" fill="#41bba7"/>
<path d="M514.53 50.46Q517.02 55.82 516.23 59.2" fill="none" stroke="#41bba7" stroke-width="2.73" stroke-linecap="round"/>
<ellipse cx="516.23" cy="59.2" rx="1.26" ry="2.04" fill="#41bba7" transform="rotate(22.73 516.23 59.2)"/>
<ellipse cx="516.62" cy="49.03" rx="6.38" ry="4.91" fill="#41bba7"/>
<path d="M517.96 50.59Q517.9 53.96 521.57 58.6" fill="none" stroke="#41bba7" stroke-width="3.01" stroke-linecap="round"/>
<path d="M520.26 51.01Q520.97 56.86 520.95 61.5" fill="none" stroke="#41bba7" stroke-width="1.41" stroke-linecap="round"/>
<ellipse cx="520.95" cy="61.5" rx="1.69" ry="2.75" fill="#41bba7" transform="rotate(-24.99 520.95 61.5)"/>
<ellipse cx="522.47" cy="49.32" rx="5.36" ry="4.12" fill="#41bba7"/>
<path d="M523.63 47.32Q522.76 43.88 525.6 39.77" fill="none" stroke="#41bba7" stroke-width="1.62" stroke-linecap="round"/>
<path d="M525.49 51.41Q525.05 56.42 522.55 60.42" fill="none" stroke="#41bba7" stroke-width="2.18" stroke-linecap="round"/>
<path d="M529.43 47.8Q531.78 43.5 530.89 39.09" fill="none" stroke="#41bba7" stroke-width="2.25" stroke-linecap="round"/>
<ellipse cx="530.89" cy="39.09" rx="2.24" ry="3.63" fill="#41bba7" transform="rotate(-12.55 530.89 39.09)"/>
<ellipse cx="532.89" cy="50.86" rx="5.84" ry="4.5" fill="#41bba7"/>
<path d="M531.7 51.99Q529.35 54.46 530.44 58.44" fill="none" stroke="#41bba7" stroke-width="2.12" stroke-linecap="round"/>
<ellipse cx="530.44" cy="58.44" rx="1.6" ry="2.6" fill="#41bba7" transform="rotate(-31.36 530.44 58.44)"/>
<path d="M535.19 52.25Q534.32 54.67 535.56 58.82" fill="none" stroke="#41bba7" stroke-width="2.89" stroke-linecap="round"/>
<path d="M538.63 52.35Q541.18 57.82 541.75 63.03" fill="none" stroke="#41bba7" stroke-width="2.88" stroke-linecap="round"/>
<ellipse cx="541.75" cy="63.03" rx="2.1" ry="3.41" fill="#41bba7" transform="rotate(-26.33 541.75 63.03)"/>
<path d="M541.51 52.48Q541.46 54.54 542.81 58.35" fill="none" stroke="#41bba7" stroke-width="2.86" stroke-linecap="round"/>
<ellipse cx="544.24" cy="48.94" rx="4.7" ry="3.61" fill="#41bba7"/>
<path d="M548.13 48.86Q551.68 42.37 555.45 37.06" fill="none" stroke="#41bba7" stroke-width="1.87" stroke-linecap="round"/>
<path d="M550.23 52.46Q549.2 56.72 550.79 59.46" fill="none" stroke="#41bba7" stroke-width="3.03" stroke-linecap="round"/>
<ellipse cx="550.79" cy="59.46" rx="1.9" ry="3.08" fill="#41bba7" transform="rotate(-21.59 550.79 59.46)"/>
<ellipse cx="555.68" cy="51.43" rx="5.84" ry="4.5" fill="#41bba7"/>
<path d="M555.83 51.98Q557.32 54.37 555.29 56.98" fill="none" stroke="#41bba7" stroke-width="1.51" stroke-linecap="round"/>
<ellipse cx="555.29" cy="56.98" rx="1.49" ry="2.42" fill="#41bba7" transform="rotate(14.74 555.29 56.98)"/>
<ellipse cx="558.48" cy="50.11" rx="4.15" ry="3.19" fill="#41bba7"/>
<path d="M559.52 47.58Q561.3 41.65 562.36 36.81" fill="none" stroke="#41bba7" stroke-width="1.88" stroke-linecap="round"/>
<path d="M561.28 50.74Q560.48 52.4 560.17 53.94" fill="none" stroke="#41bba7" stroke-width="1.42" stroke-linecap="round"/>
<ellipse cx="560.17" cy="53.94" rx="1.17" ry="1.9" fill="#41bba7" transform="rotate(-15.08 560.17 53.94)"/>
<ellipse cx="564.02" cy="47.33" rx="3.84" ry="2.95" fill="#41bba7"/>
<path d="M565.22 50.07Q564.42 53.22 566.13 54.78" fill="none" stroke="#41bba7" stroke-width="1.9" stroke-linecap="round"/>
<ellipse cx="566.13" cy="54.78" rx="1.06" ry="1.72" fill="#41bba7" transform="rotate(17.54 566.13 54.78)"/>
<ellipse cx="567.76" cy="46.26" rx="4.08" ry="3.14" fill="#41bba7"/>
<path d="M567.81 49.41Q569.01 52.15 567.94 54.81" fill="none" stroke="#41bba7" stroke-width="1.4" stroke-linecap="round"/>
<path d="M571.08 44.93Q570.17 42.84 571.94 40.32" fill="none" stroke="#41bba7" stroke-width="1.12" stroke-linecap="round"/>
<ellipse cx="571.94" cy="40.32" rx="1.31" ry="2.12" fill="#41bba7" transform="rotate(20.06 571.94 40.32)"/>
<path d="M573.74 48.48Q573.79 49.74 573.85 52.85" fill="none" stroke="#41bba7" stroke-width="1.49" stroke-linecap="round"/>
<ellipse cx="573.85" cy="52.85" rx="1.15" ry="1.87" fill="#41bba7" transform="rotate(26.1 573.85 52.85)"/>
<ellipse cx="575.7" cy="46.13" rx="2.56" ry="1.97" fill="#41bba7"/>
<path d="M577.16 44.2Q576.13 42.39 578.51 38.96" fill="none" stroke="#41bba7" stroke-width="1.46" stroke-linecap="round"/>
<ellipse cx="578.51" cy="38.96" rx="1.32" ry="2.15" fill="#41bba7" transform="rotate(-18.34 578.51 38.96)"/>
<ellipse cx="578.74" cy="45.19" rx="2.87" ry="2.21" fill="#41bba7"/>
<path d="M579.61 47.86Q577.92 50.84 579.52 52.55" fill="none" stroke="#41bba7" stroke-width="1.05" stroke-linecap="round"/>
<ellipse cx="579.52" cy="52.55" rx="0.82" ry="1.34" fill="#41bba7" transform="rotate(13.35 579.52 52.55)"/>
<path d="M583.1 47.58Q582.62 51.34 584.41 53.21" fill="none" stroke="#41bba7" stroke-width="0.91" stroke-linecap="round"/>
<ellipse cx="584.41" cy="53.21" rx="1.3" ry="2.11" fill="#41bba7" transform="rotate(34.03 584.41 53.21)"/>
<ellipse cx="586.13" cy="43.81" rx="3.15" ry="2.43" fill="#41bba7"/>
<path d="M585.99 47.44Q585.51 49.15 586.65 51.16" fill="none" stroke="#41bba7" stroke-width="0.95" stroke-linecap="round"/>
<ellipse cx="586.65" cy="51.16" rx="1.48" ry="2.41" fill="#41bba7" transform="rotate(18.43 586.65 51.16)"/>
<path d="M589.28 47.26Q590.23 51.36 591.48 53.72" fill="none" stroke="#41bba7" stroke-width="1.25" stroke-linecap="round"/>
<ellipse cx="591.48" cy="53.72" rx="1.47" ry="2.39" fill="#41bba7" transform="rotate(7.76 591.48 53.72)"/>
<ellipse cx="591.94" cy="43.75" rx="3.05" ry="2.35" fill="#41bba7"/>
<path d="M591.42 47.33Q592.46 51.8 590.4 56.42" fill="none" stroke="#41bba7" stroke-width="1.28" stroke-linecap="round"/>
<ellipse cx="594.07" cy="44.82" rx="3.79" ry="2.92" fill="#41bba7"/>
<path d="M593.97 43.48Q592.07 41.25 592.45 39.14" fill="none" stroke="#41bba7" stroke-width="1.19" stroke-linecap="round"/>
<ellipse cx="592.45" cy="39.14" rx="1.48" ry="2.4" fill="#41bba7" transform="rotate(12.54 592.45 39.14)"/>
<path d="M597.13 47.37Q596.17 48.5 596.31 50.53" fill="none" stroke="#41bba7" stroke-width="0.89" stroke-linecap="round"/>
<ellipse cx="596.31" cy="50.53" rx="0.9" ry="1.47" fill="#41bba7" transform="rotate(-7.49 596.31 50.53)"/>
<path d="M601.39 47.37Q604.15 49.6 603.41 52.39" fill="none" stroke="#41bba7" stroke-width="1.67" stroke-linecap="round"/>
<ellipse cx="603.41" cy="52.39" rx="1.41" ry="2.29" fill="#41bba7" transform="rotate(-33.57 603.41 52.39)"/>
<ellipse cx="602.8" cy="47.02" rx="3.02" ry="2.32" fill="#41bba7"/>
<path d="M604.57 47.41Q605.69 49.79 607.66 53.22" fill="none" stroke="#41bba7" stroke-width="0.91" stroke-linecap="round"/>
<ellipse cx="607.66" cy="53.22" rx="1.17" ry="1.89" fill="#41bba7" transform="rotate(-32.78 607.66 53.22)"/>
<ellipse cx="606.72" cy="44.49" rx="3.09" ry="2.38" fill="#41bba7"/>
<path d="M606.13 47.73Q603.7 51.07 604.1 55.59" fill="none" stroke="#41bba7" stroke-width="1.16" stroke-linecap="round"/>
<ellipse cx="604.1" cy="55.59" rx="1.02" ry="1.65" fill="#41bba7" transform="rotate(-7.94 604.1 55.59)"/>
<path d="M609.06 44.05Q606.37 40.17 607.36 38.19" fill="none" stroke="#41bba7" stroke-width="1.53" stroke-linecap="round"/>
<ellipse cx="607.36" cy="38.19" rx="1.33" ry="2.17" fill="#41bba7" transform="rotate(33.29 607.36 38.19)"/>
<ellipse cx="613.46" cy="45.12" rx="3.58" ry="2.75" fill="#41bba7"/>
<path d="M613.58 44.38Q615.18 39.76 618.9 34.61" fill="none" stroke="#41bba7" stroke-width="0.96" stroke-linecap="round"/>
<ellipse cx="618.9" cy="34.61" rx="1.01" ry="1.63" fill="#41bba7" transform="rotate(-30.79 618.9 34.61)"/>
<ellipse cx="615.61" cy="45.51" rx="2.91" ry="2.23" fill="#41bba7"/>
<ellipse cx="617.95" cy="47.04" rx="3.19" ry="2.46" fill="#41bba7"/>
<path d="M618.71 48.44Q617.45 51.23 618.97 53.7" fill="none" stroke="#41bba7" stroke-width="1.6" stroke-linecap="round"/>
<ellipse cx="618.97" cy="53.7" rx="1.25" ry="2.03" fill="#41bba7" transform="rotate(-33.39 618.97 53.7)"/>
<ellipse cx="620.74" cy="46.21" rx="2.31" ry="1.78" fill="#41bba7"/>
<ellipse cx="624.55" cy="46.02" rx="2.65" ry="2.04" fill="#41bba7"/>
<path d="M623.65 48.41Q622.65 50.26 621.12 53.06" fill="none" stroke="#41bba7" stroke-width="1.49" stroke-linecap="round"/>
<ellipse cx="621.12" cy="53.06" rx="0.83" ry="1.34" fill="#41bba7" transform="rotate(8.07 621.12 53.06)"/>
<path d="M626.92 48.61Q625.77 53.41 623.59 57.74" fill="none" stroke="#41bba7" stroke-width="1.23" stroke-linecap="round"/>
<ellipse cx="623.59" cy="57.74" rx="0.71" ry="1.15" fill="#41bba7" transform="rotate(23.07 623.59 57.74)"/>
<path d="M629.8 44.96Q629.11 42.95 628.36 41.7" fill="none" stroke="#41bba7" stroke-width="1.18" stroke-linecap="round"/>
<ellipse cx="633.06" cy="47.51" rx="2.05" ry="1.58" fill="#41bba7"/>
<path d="M633.39 44.87Q631.94 41.01 632.57 37.18" fill="none" stroke="#41bba7" stroke-width="1.47" stroke-linecap="round"/>
<ellipse cx="632.57" cy="37.18" rx="0.92" ry="1.5" fill="#41bba7" transform="rotate(4.25 632.57 37.18)"/>
<path d="M637.54 45.15Q638.22 42.88 640.39 39.75" fill="none" stroke="#41bba7" stroke-width="1.51" stroke-linecap="round"/>
<ellipse cx="640.39" cy="39.75" rx="1.13" ry="1.84" fill="#41bba7" transform="rotate(22.71 640.39 39.75)"/>
<ellipse cx="639.59" cy="47.22" rx="2.7" ry="2.08" fill="#41bba7"/>
<path d="M639.73 44.99Q638.99 39.79 640.35 35.59" fill="none" stroke="#41bba7" stroke-width="1.15" stroke-linecap="round"/>
<ellipse cx="640.35" cy="35.59" rx="0.85" ry="1.39" fill="#41bba7" transform="rotate(-26.18 640.35 35.59)"/>
<ellipse cx="641.81" cy="47.8" rx="1.86" ry="1.43" fill="#41bba7"/>
<ellipse cx="645.56" cy="45.91" rx="2.93" ry="2.25" fill="#41bba7"/>
<path d="M646.14 49.06Q646.59 51.15 646.99 52.06" fill="none" stroke="#41bba7" stroke-width="1.21" stroke-linecap="round"/>
<ellipse cx="646.99" cy="52.06" rx="0.69" ry="1.13" fill="#41bba7" transform="rotate(15.1 646.99 52.06)"/>
<ellipse cx="649.12" cy="48.43" rx="2.26" ry="1.74" fill="#41bba7"/>
<path d="M649.14 45.27Q650.53 42.69 650.93 38.79" fill="none" stroke="#41bba7" stroke-width="1.62" stroke-linecap="round"/>
<ellipse cx="650.93" cy="38.79" rx="0.77" ry="1.25" fill="#41bba7" transform="rotate(11.86 650.93 38.79)"/>
<ellipse cx="650.63" cy="47.57" rx="2.04" ry="1.57" fill="#41bba7"/>
<path d="M651.11 49.2Q650.33 51.27 650.19 52.81" fill="none" stroke="#41bba7" stroke-width="1.22" stroke-linecap="round"/>
<ellipse cx="661.06" cy="49.3" rx="2.19" ry="1.68" fill="#41bba7"/>
<ellipse cx="663.68" cy="47.56" rx="1.8" ry="1.38" fill="#41bba7"/>
<path d="M662.74 49.43Q660.02 53.13 659.03 57.27" fill="none" stroke="#41bba7" stroke-width="1.44" stroke-linecap="round"/>
<path d="M667.37 45.89Q667.46 41.67 670.37 38.74" fill="none" stroke="#41bba7" stroke-width="0.93" stroke-linecap="round"/>
<ellipse cx="668.83" cy="47.21" rx="2.5" ry="1.92" fill="#41bba7"/>
<path d="M675.35 46.1Q673.95 41.61 674.47 38.92" fill="none" stroke="#41bba7" stroke-width="0.89" stroke-linecap="round"/>
<ellipse cx="677.95" cy="48.14" rx="1.87" ry="1.44" fill="#41bba7"/>
<path d="M678.54 50.2Q678.1 55.4 678.35 59.37" fill="none" stroke="#41bba7" stroke-width="1.22" stroke-linecap="round"/>
<ellipse cx="678.35" cy="59.37" rx="0.88" ry="1.43" fill="#41bba7" transform="rotate(10.98 678.35 59.37)"/>
<path d="M680.4 49.94Q677.47 54.29 674.99 57.31" fill="none" stroke="#41bba7" stroke-width="1.54" stroke-linecap="round"/>
<ellipse cx="674.99" cy="57.31" rx="0.56" ry="0.9" fill="#41bba7" transform="rotate(-23.18 674.99 57.31)"/>
<ellipse cx="684.3" cy="49.36" rx="1.87" ry="1.44" fill="#41bba7"/>
<path d="M683.97 46.54Q685.3 43.97 682.96 43.36" fill="none" stroke="#41bba7" stroke-width="1.35" stroke-linecap="round"/>
<ellipse cx="566" cy="31" rx="1.5" ry="2.4" fill="#41bba7"/>
<ellipse cx="572" cy="38" rx="1.2" ry="1.92" fill="#41bba7"/>
<ellipse cx="612" cy="34" rx="1.2" ry="1.92" fill="#41bba7"/>
<ellipse cx="625" cy="36" rx="1" ry="1.6" fill="#41bba7"/>
<ellipse cx="652" cy="33" rx="1.3" ry="2.08" fill="#41bba7"/>
<ellipse cx="660" cy="38" rx="1" ry="1.6" fill="#41bba7"/>
<ellipse cx="527" cy="28" rx="1.2" ry="1.92" fill="#41bba7"/>
<ellipse cx="548" cy="60" rx="1.3" ry="2.08" fill="#41bba7"/>
<ellipse cx="575" cy="59" rx="1.2" ry="1.92" fill="#41bba7"/>
<ellipse cx="438" cy="61" rx="1.4" ry="2.24" fill="#41bba7"/>
<ellipse cx="349" cy="63" rx="1.5" ry="2.4" fill="#41bba7"/>
<ellipse cx="595" cy="62" rx="1.1" ry="1.76" fill="#41bba7"/>
<ellipse cx="640" cy="60" rx="1.2" ry="1.92" fill="#41bba7"/>
<ellipse cx="675" cy="33" rx="1" ry="1.6" fill="#41bba7"/>
</g>
<path d="M258 53C260.83 52.33 269.67 50.5 275 49C280.33 47.5 285 45.5 290 44C295 42.5 300.5 40.92 305 40C309.5 39.08 312.83 38.33 317 38.5C321.17 38.67 325.33 39.92 330 41C334.67 42.08 339.17 44.08 345 45C350.83 45.92 358.33 46.08 365 46.5C371.67 46.92 378.33 46.83 385 47.5C391.67 48.17 399.17 49.75 405 50.5C410.83 51.25 414.17 51.92 420 52C425.83 52.08 433.33 51.33 440 51C446.67 50.67 453.33 50.5 460 50C466.67 49.5 473.33 48.42 480 48C486.67 47.58 493.33 47.33 500 47.5C506.67 47.67 513.33 48.5 520 49C526.67 49.5 534 50.33 540 50.5C546 50.67 553.33 50.08 556 50" fill="none" stroke="#2f9f8e" stroke-width="3" opacity="0.35" transform="translate(0,3)" filter="url(#bl2)"/>
<path d="M258 53C260.83 52.33 269.67 50.5 275 49C280.33 47.5 285 45.5 290 44C295 42.5 300.5 40.92 305 40C309.5 39.08 312.83 38.33 317 38.5C321.17 38.67 325.33 39.92 330 41C334.67 42.08 339.17 44.08 345 45C350.83 45.92 358.33 46.08 365 46.5C371.67 46.92 378.33 46.83 385 47.5C391.67 48.17 399.17 49.75 405 50.5C410.83 51.25 414.17 51.92 420 52C425.83 52.08 433.33 51.33 440 51C446.67 50.67 453.33 50.5 460 50C466.67 49.5 473.33 48.42 480 48C486.67 47.58 493.33 47.33 500 47.5C506.67 47.67 513.33 48.5 520 49C526.67 49.5 534 50.33 540 50.5C546 50.67 553.33 50.08 556 50" fill="none" stroke="#63d6c2" stroke-width="2.4" opacity="0.45" transform="translate(0,-2)" filter="url(#bl2)"/>
</g>
<text x="635.1" y="72.9" font-size="7" font-weight="normal" fill="#f0f0f0" text-anchor="middle">0</text>
<text x="656.8" y="72.9" font-size="7" font-weight="normal" fill="#f0f0f0" text-anchor="middle">µm</text>
<text x="678.2" y="72.9" font-size="7" font-weight="normal" fill="#f0f0f0" text-anchor="middle">5</text>
<line x1="635.1" y1="75.7" x2="678.2" y2="75.7" stroke="#c8c8c8" stroke-width="0.9"/>
<rect x="263" y="81" width="419" height="133" fill="#000"/>
<g clip-path="url(#cB2)">
<g filter="url(#bl)">
<path d="M258.84 112.37Q257.12 117.87 253 120.85" fill="none" stroke="#c23fc0" stroke-width="2.28" stroke-linecap="round"/>
<path d="M263.21 112.87Q265.24 114.85 263.59 117.54" fill="none" stroke="#d34a8c" stroke-width="1.9" stroke-linecap="round"/>
<ellipse cx="263.59" cy="117.54" rx="1.33" ry="2.12" fill="#d34a8c" transform="rotate(-17.64 263.59 117.54)"/>
<path d="M265.84 113Q263.04 115.48 263.84 117.26" fill="none" stroke="#b58fd8" stroke-width="1.29" stroke-linecap="round"/>
<path d="M273.67 113.73Q273.4 115.11 275 118.3" fill="none" stroke="#3bbd6a" stroke-width="1.35" stroke-linecap="round"/>
<path d="M279.94 114.66Q282.06 115.7 279.82 118.15" fill="none" stroke="#a03070" stroke-width="1.52" stroke-linecap="round"/>
<ellipse cx="279.82" cy="118.15" rx="1.02" ry="1.63" fill="#a03070" transform="rotate(14.23 279.82 118.15)"/>
<path d="M283.54 112.15Q283.43 105.39 285.17 98.75" fill="none" stroke="#e8e2f0" stroke-width="1.18" stroke-linecap="round"/>
<path d="M290.81 113.39Q291.29 111.58 293.11 109.3" fill="none" stroke="#c23fc0" stroke-width="1.73" stroke-linecap="round"/>
<ellipse cx="293.11" cy="109.3" rx="1.92" ry="3.05" fill="#c23fc0" transform="rotate(36.35 293.11 109.3)"/>
<path d="M297.08 114.48Q300.08 109.06 299.15 105.13" fill="none" stroke="#e05030" stroke-width="1.25" stroke-linecap="round"/>
<ellipse cx="299.15" cy="105.13" rx="2.17" ry="3.45" fill="#e05030" transform="rotate(28.78 299.15 105.13)"/>
<path d="M302.85 118.82Q303.81 121.28 300.59 124.7" fill="none" stroke="#4030c0" stroke-width="1.23" stroke-linecap="round"/>
<ellipse cx="300.59" cy="124.7" rx="1.46" ry="2.32" fill="#4030c0" transform="rotate(23.9 300.59 124.7)"/>
<path d="M306.35 119.69Q306.76 121.37 304.97 125.55" fill="none" stroke="#4030c0" stroke-width="2.39" stroke-linecap="round"/>
<ellipse cx="304.97" cy="125.55" rx="2.09" ry="3.32" fill="#4030c0" transform="rotate(-12.49 304.97 125.55)"/>
<path d="M311.1 118.1Q314.07 116.98 315.66 114.04" fill="none" stroke="#a03070" stroke-width="2.27" stroke-linecap="round"/>
<ellipse cx="315.66" cy="114.04" rx="2.08" ry="3.3" fill="#a03070" transform="rotate(35.98 315.66 114.04)"/>
<path d="M312.94 121.5Q310.75 124.6 312.07 125.64" fill="none" stroke="#7a2fb8" stroke-width="1.3" stroke-linecap="round"/>
<path d="M315.37 122Q313.33 124.04 309.4 127.17" fill="none" stroke="#d06060" stroke-width="1.51" stroke-linecap="round"/>
<ellipse cx="309.4" cy="127.17" rx="1.23" ry="1.96" fill="#d06060" transform="rotate(-9.84 309.4 127.17)"/>
<path d="M319.26 123.5Q317.07 126.45 316.48 131.86" fill="none" stroke="#d06060" stroke-width="1.82" stroke-linecap="round"/>
<ellipse cx="316.48" cy="131.86" rx="1.75" ry="2.77" fill="#d06060" transform="rotate(-34.95 316.48 131.86)"/>
<path d="M322.62 121.71Q320.44 116.54 320.2 111.02" fill="none" stroke="#d06060" stroke-width="2.27" stroke-linecap="round"/>
<ellipse cx="320.2" cy="111.02" rx="2.44" ry="3.87" fill="#d06060" transform="rotate(17.28 320.2 111.02)"/>
<path d="M325.11 125.39Q323.28 127.96 321.7 128.88" fill="none" stroke="#a03070" stroke-width="2.04" stroke-linecap="round"/>
<ellipse cx="321.7" cy="128.88" rx="2.2" ry="3.49" fill="#a03070" transform="rotate(11.79 321.7 128.88)"/>
<path d="M330.25 124.32Q335.42 119.27 337.3 115.13" fill="none" stroke="#e8e2f0" stroke-width="2.32" stroke-linecap="round"/>
<ellipse cx="337.3" cy="115.13" rx="2.43" ry="3.86" fill="#e8e2f0" transform="rotate(36.52 337.3 115.13)"/>
<path d="M331.44 127.81Q331.93 129.42 328.05 131.16" fill="none" stroke="#5b43d6" stroke-width="2.11" stroke-linecap="round"/>
<ellipse cx="328.05" cy="131.16" rx="1.27" ry="2.01" fill="#5b43d6" transform="rotate(22.43 328.05 131.16)"/>
<path d="M336.43 126.78Q340.18 123.3 341.19 118.99" fill="none" stroke="#c23fc0" stroke-width="1.37" stroke-linecap="round"/>
<ellipse cx="341.19" cy="118.99" rx="1.92" ry="3.05" fill="#c23fc0" transform="rotate(-25.54 341.19 118.99)"/>
<path d="M340.02 128.63Q347.66 124.31 350.5 121.99" fill="none" stroke="#b58fd8" stroke-width="1.26" stroke-linecap="round"/>
<path d="M342.24 129.43Q344.26 123.77 344.67 120.69" fill="none" stroke="#3bbd6a" stroke-width="1.43" stroke-linecap="round"/>
<path d="M347.82 135.5Q349.35 138.57 347.56 142.4" fill="none" stroke="#8b3fd0" stroke-width="1.87" stroke-linecap="round"/>
<ellipse cx="347.56" cy="142.4" rx="1.45" ry="2.3" fill="#8b3fd0" transform="rotate(1.01 347.56 142.4)"/>
<path d="M350.95 134.16Q350.79 130.18 351.54 125.81" fill="none" stroke="#4030c0" stroke-width="1.62" stroke-linecap="round"/>
<ellipse cx="351.54" cy="125.81" rx="1.88" ry="2.99" fill="#4030c0" transform="rotate(5.11 351.54 125.81)"/>
<path d="M354.3 135.94Q358.17 129.18 358.11 125.42" fill="none" stroke="#d34a8c" stroke-width="1.56" stroke-linecap="round"/>
<path d="M355.86 140.3Q352.36 146.25 349.56 149.33" fill="none" stroke="#9a6ad0" stroke-width="1.51" stroke-linecap="round"/>
<path d="M360.56 139.6Q363.74 135.23 369.32 127.99" fill="none" stroke="#9a6ad0" stroke-width="1.45" stroke-linecap="round"/>
<ellipse cx="369.32" cy="127.99" rx="2.39" ry="3.79" fill="#9a6ad0" transform="rotate(-15.4 369.32 127.99)"/>
<path d="M363.58 141.43Q367.49 138.91 366.79 137.91" fill="none" stroke="#8b3fd0" stroke-width="2.19" stroke-linecap="round"/>
<path d="M369.52 145.22Q374.06 139.96 381.15 136.09" fill="none" stroke="#b58fd8" stroke-width="2.11" stroke-linecap="round"/>
<ellipse cx="381.15" cy="136.09" rx="1.73" ry="2.75" fill="#b58fd8" transform="rotate(39.4 381.15 136.09)"/>
<path d="M372.5 147.22Q376.21 142.53 384.75 140.08" fill="none" stroke="#7a2fb8" stroke-width="1.85" stroke-linecap="round"/>
<ellipse cx="384.75" cy="140.08" rx="1.45" ry="2.3" fill="#7a2fb8" transform="rotate(2.39 384.75 140.08)"/>
<path d="M373.13 150.98Q367.73 154.08 366.96 158.66" fill="none" stroke="#e05030" stroke-width="2.06" stroke-linecap="round"/>
<ellipse cx="366.96" cy="158.66" rx="2.01" ry="3.2" fill="#e05030" transform="rotate(-24.71 366.96 158.66)"/>
<path d="M378 150.56Q384.18 147.11 385.82 142.76" fill="none" stroke="#6060c0" stroke-width="1.77" stroke-linecap="round"/>
<ellipse cx="385.82" cy="142.76" rx="2.06" ry="3.27" fill="#6060c0" transform="rotate(31.91 385.82 142.76)"/>
<path d="M379.92 154.9Q381.47 158.13 380.23 160.86" fill="none" stroke="#9a6ad0" stroke-width="2.37" stroke-linecap="round"/>
<ellipse cx="380.23" cy="160.86" rx="1.71" ry="2.72" fill="#9a6ad0" transform="rotate(3.93 380.23 160.86)"/>
<path d="M383.65 153.95Q387.07 150.19 387.37 149.01" fill="none" stroke="#42a8d8" stroke-width="1.47" stroke-linecap="round"/>
<ellipse cx="387.37" cy="149.01" rx="1.11" ry="1.76" fill="#42a8d8" transform="rotate(35.37 387.37 149.01)"/>
<path d="M385.06 158.27Q384.19 158.92 383.46 161.83" fill="none" stroke="#d34a8c" stroke-width="1.41" stroke-linecap="round"/>
<ellipse cx="383.46" cy="161.83" rx="2.4" ry="3.81" fill="#d34a8c" transform="rotate(17 383.46 161.83)"/>
<path d="M390.71 161.48Q388.93 162.34 388.02 165.23" fill="none" stroke="#3bbd6a" stroke-width="1.16" stroke-linecap="round"/>
<ellipse cx="388.02" cy="165.23" rx="1.57" ry="2.49" fill="#3bbd6a" transform="rotate(-34.24 388.02 165.23)"/>
<path d="M397.71 164.75Q397.45 169.71 397.88 175.78" fill="none" stroke="#9a6ad0" stroke-width="1.79" stroke-linecap="round"/>
<path d="M400.85 166.09Q401.62 170.83 401.09 175.53" fill="none" stroke="#4030c0" stroke-width="1.87" stroke-linecap="round"/>
<ellipse cx="401.09" cy="175.53" rx="1.11" ry="1.77" fill="#4030c0" transform="rotate(-21.15 401.09 175.53)"/>
<path d="M404.97 164.72Q411.87 158.91 415.13 153.38" fill="none" stroke="#6060c0" stroke-width="1.35" stroke-linecap="round"/>
<ellipse cx="415.13" cy="153.38" rx="1.97" ry="3.12" fill="#6060c0" transform="rotate(-33.18 415.13 153.38)"/>
<path d="M406.51 168.36Q404.23 171.47 404.58 172.31" fill="none" stroke="#9a6ad0" stroke-width="2.45" stroke-linecap="round"/>
<ellipse cx="404.58" cy="172.31" rx="1.79" ry="2.84" fill="#9a6ad0" transform="rotate(3.37 404.58 172.31)"/>
<path d="M410.02 169.58Q410.13 175.98 407.29 180.87" fill="none" stroke="#5b43d6" stroke-width="2.46" stroke-linecap="round"/>
<ellipse cx="407.29" cy="180.87" rx="2.21" ry="3.5" fill="#5b43d6" transform="rotate(-28.82 407.29 180.87)"/>
<path d="M413.74 167.64Q414.6 163.65 414.31 160.58" fill="none" stroke="#6060c0" stroke-width="1.63" stroke-linecap="round"/>
<ellipse cx="414.31" cy="160.58" rx="1.54" ry="2.44" fill="#6060c0" transform="rotate(-16.33 414.31 160.58)"/>
<path d="M417.33 171.48Q420.72 173.73 419.19 177.7" fill="none" stroke="#e8e2f0" stroke-width="1.65" stroke-linecap="round"/>
<ellipse cx="419.19" cy="177.7" rx="1.07" ry="1.7" fill="#e8e2f0" transform="rotate(-23.81 419.19 177.7)"/>
<path d="M423.91 173.28Q425.3 179.2 426.98 182.79" fill="none" stroke="#50d090" stroke-width="1.55" stroke-linecap="round"/>
<ellipse cx="426.98" cy="182.79" rx="1.3" ry="2.06" fill="#50d090" transform="rotate(12.27 426.98 182.79)"/>
<path d="M429.26 175.36Q425.72 179.68 426.08 182.08" fill="none" stroke="#7a2fb8" stroke-width="2.04" stroke-linecap="round"/>
<ellipse cx="426.08" cy="182.08" rx="2.32" ry="3.68" fill="#7a2fb8" transform="rotate(-12.46 426.08 182.08)"/>
<path d="M432.8 173.83Q432.16 172.34 431.95 168.75" fill="none" stroke="#b58fd8" stroke-width="1.27" stroke-linecap="round"/>
<ellipse cx="431.95" cy="168.75" rx="1.44" ry="2.29" fill="#b58fd8" transform="rotate(13.96 431.95 168.75)"/>
<path d="M435.93 175.2Q434.08 170.61 434.92 168.56" fill="none" stroke="#6060c0" stroke-width="2.38" stroke-linecap="round"/>
<ellipse cx="434.92" cy="168.56" rx="2" ry="3.18" fill="#6060c0" transform="rotate(-25.24 434.92 168.56)"/>
<path d="M438.71 179.45Q437.89 184.09 434.31 190.66" fill="none" stroke="#3bbd6a" stroke-width="2.42" stroke-linecap="round"/>
<ellipse cx="434.31" cy="190.66" rx="1.64" ry="2.61" fill="#3bbd6a" transform="rotate(38.03 434.31 190.66)"/>
<path d="M448.47 182.9Q450.44 184.74 447.51 186.46" fill="none" stroke="#c080c0" stroke-width="2.42" stroke-linecap="round"/>
<ellipse cx="447.51" cy="186.46" rx="1.36" ry="2.16" fill="#c080c0" transform="rotate(24.26 447.51 186.46)"/>
<path d="M455.62 183.59Q457.04 186.72 455.65 192.56" fill="none" stroke="#50d090" stroke-width="1.72" stroke-linecap="round"/>
<ellipse cx="455.65" cy="192.56" rx="2.28" ry="3.63" fill="#50d090" transform="rotate(36.01 455.65 192.56)"/>
<path d="M462.96 183.3Q466 186.48 464.78 187.91" fill="none" stroke="#5b43d6" stroke-width="1.86" stroke-linecap="round"/>
<path d="M464.84 180.45Q462.83 177.78 460.43 175.19" fill="none" stroke="#6060c0" stroke-width="1.83" stroke-linecap="round"/>
<ellipse cx="460.43" cy="175.19" rx="1.04" ry="1.65" fill="#6060c0" transform="rotate(20.49 460.43 175.19)"/>
<path d="M469.31 182.6Q468.12 188.57 470.53 194.64" fill="none" stroke="#d06060" stroke-width="2.25" stroke-linecap="round"/>
<ellipse cx="470.53" cy="194.64" rx="1.21" ry="1.92" fill="#d06060" transform="rotate(-33.44 470.53 194.64)"/>
<path d="M472.66 181.99Q471.74 184.19 473.38 189.03" fill="none" stroke="#42a8d8" stroke-width="1.17" stroke-linecap="round"/>
<ellipse cx="473.38" cy="189.03" rx="1.43" ry="2.28" fill="#42a8d8" transform="rotate(-10.1 473.38 189.03)"/>
<path d="M478.83 177.46Q479.58 171.66 476.37 164.93" fill="none" stroke="#b58fd8" stroke-width="1.9" stroke-linecap="round"/>
<ellipse cx="476.37" cy="164.93" rx="2.2" ry="3.49" fill="#b58fd8" transform="rotate(12.44 476.37 164.93)"/>
<path d="M483.2 179.27Q487.3 182.91 488.28 187.26" fill="none" stroke="#b58fd8" stroke-width="1.55" stroke-linecap="round"/>
<ellipse cx="488.28" cy="187.26" rx="1.22" ry="1.94" fill="#b58fd8" transform="rotate(-0.18 488.28 187.26)"/>
<path d="M485.69 178.49Q483.46 181.39 485.95 186.56" fill="none" stroke="#b58fd8" stroke-width="2.26" stroke-linecap="round"/>
<ellipse cx="485.95" cy="186.56" rx="1.39" ry="2.21" fill="#b58fd8" transform="rotate(36.12 485.95 186.56)"/>
<path d="M492.81 175.96Q492.45 178.48 495.45 180.29" fill="none" stroke="#e8e2f0" stroke-width="2.12" stroke-linecap="round"/>
<ellipse cx="495.45" cy="180.29" rx="1.79" ry="2.84" fill="#e8e2f0" transform="rotate(-26.3 495.45 180.29)"/>
<path d="M495.25 174.88Q493.62 180.11 495.82 186.43" fill="none" stroke="#42a8d8" stroke-width="1.75" stroke-linecap="round"/>
<ellipse cx="495.82" cy="186.43" rx="1.66" ry="2.63" fill="#42a8d8" transform="rotate(21.4 495.82 186.43)"/>
<path d="M497.84 170.6Q493.58 164.31 493.29 156.13" fill="none" stroke="#50d090" stroke-width="2.06" stroke-linecap="round"/>
<ellipse cx="493.29" cy="156.13" rx="1.02" ry="1.62" fill="#50d090" transform="rotate(32.72 493.29 156.13)"/>
<path d="M502.08 171.95Q502.06 175.77 505.03 177.65" fill="none" stroke="#7a2fb8" stroke-width="1.89" stroke-linecap="round"/>
<ellipse cx="505.03" cy="177.65" rx="2.11" ry="3.34" fill="#7a2fb8" transform="rotate(-20.68 505.03 177.65)"/>
<path d="M504.53 170.65Q506.56 176.97 505.09 182.58" fill="none" stroke="#6060c0" stroke-width="1.59" stroke-linecap="round"/>
<ellipse cx="505.09" cy="182.58" rx="1.36" ry="2.17" fill="#6060c0" transform="rotate(-9.47 505.09 182.58)"/>
<path d="M510.49 164.53Q511.98 161.49 510.5 156.93" fill="none" stroke="#9a6ad0" stroke-width="2.06" stroke-linecap="round"/>
<path d="M514.78 164.92Q517.85 166.56 520.8 167.68" fill="none" stroke="#e8e2f0" stroke-width="2.24" stroke-linecap="round"/>
<ellipse cx="520.8" cy="167.68" rx="2" ry="3.18" fill="#e8e2f0" transform="rotate(8.82 520.8 167.68)"/>
<path d="M515.8 161.07Q513.79 156.98 512.29 151.17" fill="none" stroke="#4030c0" stroke-width="2.04" stroke-linecap="round"/>
<ellipse cx="512.29" cy="151.17" rx="2.17" ry="3.45" fill="#4030c0" transform="rotate(-10.98 512.29 151.17)"/>
<path d="M520.26 161.7Q521.01 163.18 525.98 167.14" fill="none" stroke="#c080c0" stroke-width="1.95" stroke-linecap="round"/>
<path d="M520.77 158.25Q516.21 153.93 507.35 151.21" fill="none" stroke="#8b3fd0" stroke-width="2.15" stroke-linecap="round"/>
<ellipse cx="507.35" cy="151.21" rx="2.4" ry="3.82" fill="#8b3fd0" transform="rotate(31.77 507.35 151.21)"/>
<path d="M525.61 158.72Q525.87 163.36 529.04 167.9" fill="none" stroke="#d34a8c" stroke-width="1.43" stroke-linecap="round"/>
<path d="M527.26 154.5Q524.37 153.09 524.7 150.76" fill="none" stroke="#3bbd6a" stroke-width="2.37" stroke-linecap="round"/>
<ellipse cx="524.7" cy="150.76" rx="1.58" ry="2.51" fill="#3bbd6a" transform="rotate(-31.29 524.7 150.76)"/>
<path d="M531.99 155.51Q536.57 158.65 537.28 163.51" fill="none" stroke="#7a2fb8" stroke-width="2.22" stroke-linecap="round"/>
<path d="M536.44 150.54Q534.22 147.37 530.44 143.78" fill="none" stroke="#4030c0" stroke-width="2.12" stroke-linecap="round"/>
<ellipse cx="530.44" cy="143.78" rx="1.63" ry="2.6" fill="#4030c0" transform="rotate(2.3 530.44 143.78)"/>
<path d="M540.39 149.09Q542.04 144.42 539.02 141.63" fill="none" stroke="#c23fc0" stroke-width="1.31" stroke-linecap="round"/>
<ellipse cx="539.02" cy="141.63" rx="1.82" ry="2.89" fill="#c23fc0" transform="rotate(5.07 539.02 141.63)"/>
<path d="M543.82 151.08Q542.83 151.9 543.55 155.27" fill="none" stroke="#9a6ad0" stroke-width="1.29" stroke-linecap="round"/>
<ellipse cx="543.55" cy="155.27" rx="1.13" ry="1.79" fill="#9a6ad0" transform="rotate(-24.85 543.55 155.27)"/>
<path d="M547.53 147.23Q549.7 141.09 550.71 133.16" fill="none" stroke="#d34a8c" stroke-width="1.1" stroke-linecap="round"/>
<ellipse cx="550.71" cy="133.16" rx="1.18" ry="1.88" fill="#d34a8c" transform="rotate(-13.14 550.71 133.16)"/>
<path d="M550.92 149.39Q551.16 154.22 553.18 157.43" fill="none" stroke="#e8e2f0" stroke-width="2.1" stroke-linecap="round"/>
<path d="M552.93 146.11Q546.3 138.84 543.64 134.18" fill="none" stroke="#3bbd6a" stroke-width="1.55" stroke-linecap="round"/>
<ellipse cx="543.64" cy="134.18" rx="2.31" ry="3.66" fill="#3bbd6a" transform="rotate(39.03 543.64 134.18)"/>
<path d="M556.84 145.2Q552.66 139.41 553.42 130.74" fill="none" stroke="#c080c0" stroke-width="1.29" stroke-linecap="round"/>
<ellipse cx="553.42" cy="130.74" rx="1.57" ry="2.49" fill="#c080c0" transform="rotate(-12.59 553.42 130.74)"/>
<path d="M560.74 144.62Q559.32 138.2 562.74 129.94" fill="none" stroke="#c080c0" stroke-width="2.15" stroke-linecap="round"/>
<ellipse cx="562.74" cy="129.94" rx="1.52" ry="2.41" fill="#c080c0" transform="rotate(-28.67 562.74 129.94)"/>
<path d="M564.79 146.94Q565.74 150.75 570.6 155.12" fill="none" stroke="#5b43d6" stroke-width="1.83" stroke-linecap="round"/>
<ellipse cx="570.6" cy="155.12" rx="1.63" ry="2.59" fill="#5b43d6" transform="rotate(-20.97 570.6 155.12)"/>
<path d="M568.24 146.31Q569.96 149.94 571.91 150.65" fill="none" stroke="#4030c0" stroke-width="2.28" stroke-linecap="round"/>
<path d="M571.69 145.14Q574.99 145.47 575.11 147.96" fill="none" stroke="#c23fc0" stroke-width="1.13" stroke-linecap="round"/>
<ellipse cx="575.11" cy="147.96" rx="2.4" ry="3.82" fill="#c23fc0" transform="rotate(29.45 575.11 147.96)"/>
<path d="M575.07 140.31Q569.02 139.09 562.78 135.13" fill="none" stroke="#9a6ad0" stroke-width="1.81" stroke-linecap="round"/>
<ellipse cx="562.78" cy="135.13" rx="1.59" ry="2.52" fill="#9a6ad0" transform="rotate(22.28 562.78 135.13)"/>
<path d="M578.61 137.59Q576.19 129.69 572.42 124.56" fill="none" stroke="#c23fc0" stroke-width="1.69" stroke-linecap="round"/>
<ellipse cx="572.42" cy="124.56" rx="2.19" ry="3.48" fill="#c23fc0" transform="rotate(25.89 572.42 124.56)"/>
<path d="M582.37 138.44Q581.09 139.63 583.16 141.78" fill="none" stroke="#7a2fb8" stroke-width="2.19" stroke-linecap="round"/>
<ellipse cx="583.16" cy="141.78" rx="2.42" ry="3.85" fill="#7a2fb8" transform="rotate(39.53 583.16 141.78)"/>
<path d="M584 133.86Q580.81 131.28 579.76 127.7" fill="none" stroke="#d34a8c" stroke-width="2.18" stroke-linecap="round"/>
<path d="M591.73 131.98Q595.46 134.47 597.7 135.47" fill="none" stroke="#9a6ad0" stroke-width="2.45" stroke-linecap="round"/>
<ellipse cx="597.7" cy="135.47" rx="1.22" ry="1.93" fill="#9a6ad0" transform="rotate(-21.08 597.7 135.47)"/>
<path d="M594.47 130.17Q595.58 130.5 597.39 132.23" fill="none" stroke="#c080c0" stroke-width="1.57" stroke-linecap="round"/>
<ellipse cx="597.39" cy="132.23" rx="1.44" ry="2.29" fill="#c080c0" transform="rotate(31.7 597.39 132.23)"/>
<path d="M595 126.71Q591.47 123.81 588.95 122.08" fill="none" stroke="#9a6ad0" stroke-width="1.87" stroke-linecap="round"/>
<ellipse cx="588.95" cy="122.08" rx="2.28" ry="3.62" fill="#9a6ad0" transform="rotate(37.2 588.95 122.08)"/>
<path d="M610.2 127.23Q609.9 130.42 614.45 135.34" fill="none" stroke="#42a8d8" stroke-width="1.81" stroke-linecap="round"/>
<ellipse cx="614.45" cy="135.34" rx="2.17" ry="3.44" fill="#42a8d8" transform="rotate(-35.52 614.45 135.34)"/>
<path d="M612.64 124.55Q609.49 119.64 611.13 115.94" fill="none" stroke="#e05030" stroke-width="1.24" stroke-linecap="round"/>
<ellipse cx="611.13" cy="115.94" rx="2.33" ry="3.7" fill="#e05030" transform="rotate(5.5 611.13 115.94)"/>
<path d="M616.05 124.47Q614.52 120.07 614.21 113.59" fill="none" stroke="#5b43d6" stroke-width="2" stroke-linecap="round"/>
<ellipse cx="614.21" cy="113.59" rx="1.33" ry="2.11" fill="#5b43d6" transform="rotate(9.54 614.21 113.59)"/>
<path d="M622.88 124.27Q622.04 118.7 621.64 115.76" fill="none" stroke="#c23fc0" stroke-width="1.89" stroke-linecap="round"/>
<ellipse cx="621.64" cy="115.76" rx="1.68" ry="2.66" fill="#c23fc0" transform="rotate(-35.21 621.64 115.76)"/>
<path d="M630.51 126.55Q631.9 132.75 635.54 137.24" fill="none" stroke="#d34a8c" stroke-width="1.47" stroke-linecap="round"/>
<path d="M634.03 125.7Q635.33 130.48 639 133.01" fill="none" stroke="#e05030" stroke-width="2.38" stroke-linecap="round"/>
<path d="M635.59 122.05Q629.86 115.83 627.9 109.86" fill="none" stroke="#9a6ad0" stroke-width="2.04" stroke-linecap="round"/>
<ellipse cx="627.9" cy="109.86" rx="1.06" ry="1.68" fill="#9a6ad0" transform="rotate(-7.09 627.9 109.86)"/>
<path d="M639.99 123.38Q641.34 127.38 642.32 130.19" fill="none" stroke="#5b43d6" stroke-width="2.11" stroke-linecap="round"/>
<ellipse cx="642.32" cy="130.19" rx="1.08" ry="1.72" fill="#5b43d6" transform="rotate(17.26 642.32 130.19)"/>
<path d="M642.7 119.14Q645.21 114.46 643.16 108.7" fill="none" stroke="#d06060" stroke-width="1.27" stroke-linecap="round"/>
<path d="M645.67 117.89Q645.55 116.85 645.27 113.39" fill="none" stroke="#e05030" stroke-width="1.63" stroke-linecap="round"/>
<ellipse cx="645.27" cy="113.39" rx="2.38" ry="3.79" fill="#e05030" transform="rotate(-14.83 645.27 113.39)"/>
<path d="M649.27 116.62Q650.65 113.44 650.63 110.62" fill="none" stroke="#d8a0d0" stroke-width="2.01" stroke-linecap="round"/>
<ellipse cx="650.63" cy="110.62" rx="1.22" ry="1.94" fill="#d8a0d0" transform="rotate(-0.7 650.63 110.62)"/>
<path d="M651.85 118.44Q649.24 121.83 650.17 126.62" fill="none" stroke="#9a6ad0" stroke-width="1.8" stroke-linecap="round"/>
<path d="M655.62 117.71Q654.63 119.52 656.13 122.46" fill="none" stroke="#d34a8c" stroke-width="1.37" stroke-linecap="round"/>
<ellipse cx="656.13" cy="122.46" rx="2.24" ry="3.56" fill="#d34a8c" transform="rotate(1.3 656.13 122.46)"/>
<path d="M658.43 117.2Q658.83 117.99 657.34 121.11" fill="none" stroke="#d34a8c" stroke-width="1.24" stroke-linecap="round"/>
<ellipse cx="657.34" cy="121.11" rx="2.24" ry="3.56" fill="#d34a8c" transform="rotate(6.6 657.34 121.11)"/>
<path d="M665.32 116.68Q663.28 120.77 663.63 125.41" fill="none" stroke="#a03070" stroke-width="2.34" stroke-linecap="round"/>
<ellipse cx="663.63" cy="125.41" rx="1.44" ry="2.29" fill="#a03070" transform="rotate(-13.03 663.63 125.41)"/>
<path d="M668.14 113.68Q664.35 110.31 665.16 109.38" fill="none" stroke="#d8a0d0" stroke-width="1.67" stroke-linecap="round"/>
<ellipse cx="665.16" cy="109.38" rx="1.12" ry="1.78" fill="#d8a0d0" transform="rotate(-6.26 665.16 109.38)"/>
<path d="M672.18 116.1Q670.7 120.16 670.99 125.05" fill="none" stroke="#5b43d6" stroke-width="1.75" stroke-linecap="round"/>
<ellipse cx="670.99" cy="125.05" rx="2.13" ry="3.38" fill="#5b43d6" transform="rotate(-30.82 670.99 125.05)"/>
<path d="M675.82 115.83Q675.69 121.14 676.19 127.81" fill="none" stroke="#4030c0" stroke-width="1.74" stroke-linecap="round"/>
<path d="M682.71 112.29Q681.43 108.4 683.35 106.35" fill="none" stroke="#d8a0d0" stroke-width="1.2" stroke-linecap="round"/>
<ellipse cx="683.35" cy="106.35" rx="2.26" ry="3.58" fill="#d8a0d0" transform="rotate(11.3 683.35 106.35)"/>
<path d="M685.82 115Q684.18 119.14 684.99 125.29" fill="none" stroke="#d06060" stroke-width="1.74" stroke-linecap="round"/>
<ellipse cx="684.99" cy="125.29" rx="2.05" ry="3.25" fill="#d06060" transform="rotate(-32.13 684.99 125.29)"/>
<ellipse cx="401" cy="151" rx="4.6" ry="5.8" fill="#6a2ed0" transform="rotate(-25 401 151)"/>
<ellipse cx="586" cy="112" rx="2.6" ry="6" fill="#c77ac8" transform="rotate(-25 586 112)"/>
<ellipse cx="591" cy="128" rx="3.2" ry="2.6" fill="#2b55c8"/>
<ellipse cx="655" cy="122" rx="6" ry="3.4" fill="#58d03a" transform="rotate(-15 655 122)"/>
<path d="M565 137L570 131L578 134" fill="none" stroke="#e6e2ee" stroke-width="2.6" stroke-linecap="round" stroke-linejoin="round"/>
<path d="M636 104Q637 112 642 118" fill="none" stroke="#9a3ed0" stroke-width="2" stroke-linecap="round"/>
<ellipse cx="635.5" cy="100" rx="1.8" ry="3.2" fill="#9a3ed0"/>
<path d="M677 97Q679 108 676 116" fill="none" stroke="#e8e2f0" stroke-width="1.6" stroke-linecap="round"/>
<path d="M306 128L298 143" fill="none" stroke="#d040c8" stroke-width="1.4" stroke-linecap="round"/>
<path d="M312 124L303 130L309 127" fill="#e040c8" stroke="#e040c8" stroke-width="2"/>
<path d="M375 134Q384 128 390 136Q386 142 378 150" fill="none" stroke="#a0306a" stroke-width="1.8" stroke-linecap="round"/>
<ellipse cx="377" cy="132.5" rx="4" ry="1.8" fill="#b03070"/>
<path d="M415 173Q430 178 447 183" fill="none" stroke="#f0f0f0" stroke-width="1.2"/>
<path d="M478 181Q490 178 500 173" fill="none" stroke="#f0f0f0" stroke-width="1.2"/>
<path d="M520 164Q530 160 540 155" fill="none" stroke="#f0f0f0" stroke-width="1.4"/>
<path d="M258 111C260.83 111.25 268.5 111.67 275 112.5C281.5 113.33 289.83 114.5 297 116C304.17 117.5 310.83 119.17 318 121.5C325.17 123.83 333 126.75 340 130C347 133.25 353.33 137.08 360 141C366.67 144.92 374.17 150 380 153.5C385.83 157 390 159.58 395 162C400 164.42 404.5 166.12 410 168C415.5 169.88 421.83 171.13 428 173.3C434.17 175.47 441.67 179.55 447 181C452.33 182.45 455.83 182.07 460 182C464.17 181.93 467.83 181.4 472 180.6C476.17 179.8 480.83 178.53 485 177.2C489.17 175.87 492.83 174.42 497 172.6C501.17 170.78 505.83 168.57 510 166.3C514.17 164.03 518 161.22 522 159C526 156.78 530 154.67 534 153C538 151.33 542 150.08 546 149C550 147.92 553.83 147.33 558 146.5C562.17 145.67 566.5 145.92 571 144C575.5 142.08 580.33 137.92 585 135C589.67 132.08 594 128 599 126.5C604 125 609.67 126.25 615 126C620.33 125.75 626.33 125.92 631 125C635.67 124.08 639.17 121.92 643 120.5C646.83 119.08 649.83 117.42 654 116.5C658.17 115.58 662.67 115.5 668 115C673.33 114.5 683 113.75 686 113.5" fill="none" stroke="#ece32b" stroke-width="6.4" stroke-linecap="round" stroke-linejoin="round"/>
<path d="M258 111C260.83 111.25 268.5 111.67 275 112.5C281.5 113.33 289.83 114.5 297 116C304.17 117.5 310.83 119.17 318 121.5C325.17 123.83 333 126.75 340 130C347 133.25 353.33 137.08 360 141C366.67 144.92 374.17 150 380 153.5C385.83 157 390 159.58 395 162C400 164.42 404.5 166.12 410 168C415.5 169.88 421.83 171.13 428 173.3C434.17 175.47 441.67 179.55 447 181C452.33 182.45 455.83 182.07 460 182C464.17 181.93 467.83 181.4 472 180.6C476.17 179.8 480.83 178.53 485 177.2C489.17 175.87 492.83 174.42 497 172.6C501.17 170.78 505.83 168.57 510 166.3C514.17 164.03 518 161.22 522 159C526 156.78 530 154.67 534 153C538 151.33 542 150.08 546 149C550 147.92 553.83 147.33 558 146.5C562.17 145.67 566.5 145.92 571 144C575.5 142.08 580.33 137.92 585 135C589.67 132.08 594 128 599 126.5C604 125 609.67 126.25 615 126C620.33 125.75 626.33 125.92 631 125C635.67 124.08 639.17 121.92 643 120.5C646.83 119.08 649.83 117.42 654 116.5C658.17 115.58 662.67 115.5 668 115C673.33 114.5 683 113.75 686 113.5" fill="none" stroke="#a8a020" stroke-width="1.6" opacity="0.55" transform="translate(0,2.2)"/>
</g>
</g>
<text x="135" y="254.6" font-size="10.6" font-weight="bold" fill="#1a1a1a" text-anchor="middle">Total Spine Density</text>
<line x1="54.2" y1="292.6" x2="57.4" y2="292.6" stroke="#5e5e5e" stroke-width="0.8"/>
<line x1="54.2" y1="320.2" x2="57.4" y2="320.2" stroke="#5e5e5e" stroke-width="0.8"/>
<line x1="54.2" y1="347.8" x2="57.4" y2="347.8" stroke="#5e5e5e" stroke-width="0.8"/>
<line x1="54.2" y1="375.5" x2="57.4" y2="375.5" stroke="#5e5e5e" stroke-width="0.8"/>
<line x1="57.4" y1="279" x2="57.4" y2="375.7" stroke="#5e5e5e" stroke-width="0.75"/>
<text x="52.6" y="295.9" font-size="9.3" font-weight="normal" fill="#262626" text-anchor="end">3</text>
<text x="52.6" y="323.5" font-size="9.3" font-weight="normal" fill="#262626" text-anchor="end">2</text>
<text x="52.6" y="351.1" font-size="9.3" font-weight="normal" fill="#262626" text-anchor="end">1</text>
<text x="52.6" y="378.8" font-size="9.3" font-weight="normal" fill="#262626" text-anchor="end">0</text>
<line x1="57" y1="375.3" x2="209.8" y2="375.3" stroke="#5e5e5e" stroke-width="0.9"/>
<line x1="80.5" y1="375.3" x2="80.5" y2="378.7" stroke="#5e5e5e" stroke-width="0.8"/>
<text x="80.5" y="388" font-size="9.3" font-weight="normal" fill="#262626" text-anchor="middle">1 w</text>
<line x1="133" y1="375.3" x2="133" y2="378.7" stroke="#5e5e5e" stroke-width="0.8"/>
<text x="133" y="388" font-size="9.3" font-weight="normal" fill="#262626" text-anchor="middle">2 w</text>
<line x1="185.5" y1="375.3" x2="185.5" y2="378.7" stroke="#5e5e5e" stroke-width="0.8"/>
<text x="185.5" y="388" font-size="9.3" font-weight="normal" fill="#262626" text-anchor="middle">4 w</text>
<text x="42.8" y="326" font-size="9.3" font-weight="normal" fill="#262626" text-anchor="middle" transform="rotate(-90 42.8 326)">Spines/µm</text>
<circle cx="70.4" cy="291.1" r="2.25" fill="#9c9c9c"/>
<circle cx="66" cy="298" r="2.25" fill="#9c9c9c"/>
<circle cx="75.1" cy="297.4" r="2.25" fill="#9c9c9c"/>
<circle cx="66" cy="303.6" r="2.25" fill="#9c9c9c"/>
<circle cx="75.1" cy="307" r="2.25" fill="#9c9c9c"/>
<circle cx="66" cy="309.2" r="2.25" fill="#9c9c9c"/>
<line x1="64" y1="301.4" x2="77" y2="301.4" stroke="#222" stroke-width="0.7"/>
<line x1="70.5" y1="298.2" x2="70.5" y2="304.1" stroke="#222" stroke-width="0.7"/>
<line x1="68.3" y1="298.2" x2="72.7" y2="298.2" stroke="#222" stroke-width="0.7"/>
<line x1="68.3" y1="304.1" x2="72.7" y2="304.1" stroke="#222" stroke-width="0.7"/>
<path d="M90.4 292.71L92.5 296.7L88.3 296.7Z" fill="#2f8f96"/>
<path d="M88.6 299.11L90.7 303.1L86.5 303.1Z" fill="#2f8f96"/>
<path d="M92.2 299.41L94.3 303.4L90.1 303.4Z" fill="#2f8f96"/>
<path d="M85.8 303.11L87.9 307.1L83.7 307.1Z" fill="#2f8f96"/>
<path d="M95.2 303.11L97.3 307.1L93.1 307.1Z" fill="#2f8f96"/>
<path d="M88.6 305.41L90.7 309.4L86.5 309.4Z" fill="#2f8f96"/>
<path d="M92.2 305.41L94.3 309.4L90.1 309.4Z" fill="#2f8f96"/>
<path d="M90.4 310.71L92.5 314.7L88.3 314.7Z" fill="#2f8f96"/>
<line x1="84.1" y1="304.9" x2="96.7" y2="304.9" stroke="#222" stroke-width="0.7"/>
<line x1="90.4" y1="303.2" x2="90.4" y2="306.5" stroke="#222" stroke-width="0.7"/>
<line x1="88.2" y1="303.2" x2="92.6" y2="303.2" stroke="#222" stroke-width="0.7"/>
<line x1="88.2" y1="306.5" x2="92.6" y2="306.5" stroke="#222" stroke-width="0.7"/>
<circle cx="118.75" cy="294.5" r="2.25" fill="#9c9c9c"/>
<circle cx="123.25" cy="293.25" r="2.25" fill="#9c9c9c"/>
<circle cx="128" cy="293.75" r="2.25" fill="#9c9c9c"/>
<circle cx="120" cy="297" r="2.25" fill="#9c9c9c"/>
<circle cx="126.2" cy="297" r="2.25" fill="#9c9c9c"/>
<circle cx="123.25" cy="297.5" r="2.25" fill="#9c9c9c"/>
<circle cx="123.25" cy="302.5" r="2.25" fill="#9c9c9c"/>
<line x1="117.25" y1="296.5" x2="129.25" y2="296.5" stroke="#222" stroke-width="0.7"/>
<line x1="123.25" y1="295.3" x2="123.25" y2="297.7" stroke="#222" stroke-width="0.7"/>
<line x1="121.05" y1="295.3" x2="125.45" y2="295.3" stroke="#222" stroke-width="0.7"/>
<line x1="121.05" y1="297.7" x2="125.45" y2="297.7" stroke="#222" stroke-width="0.7"/>
<path d="M143.3 285.61L145.4 289.6L141.2 289.6Z" fill="#8fc2f6"/>
<path d="M138.6 289.31L140.7 293.3L136.5 293.3Z" fill="#8fc2f6"/>
<path d="M141.7 289.31L143.8 293.3L139.6 293.3Z" fill="#8fc2f6"/>
<path d="M147.9 289.31L150 293.3L145.8 293.3Z" fill="#8fc2f6"/>
<path d="M141.6 299.61L143.7 303.6L139.5 303.6Z" fill="#8fc2f6"/>
<path d="M144.9 299.61L147 303.6L142.8 303.6Z" fill="#8fc2f6"/>
<path d="M143.3 309.21L145.4 313.2L141.2 313.2Z" fill="#8fc2f6"/>
<line x1="136.8" y1="296.1" x2="149.8" y2="296.1" stroke="#222" stroke-width="0.7"/>
<line x1="143.3" y1="293.6" x2="143.3" y2="298.9" stroke="#222" stroke-width="0.7"/>
<line x1="141.1" y1="293.6" x2="145.5" y2="293.6" stroke="#222" stroke-width="0.7"/>
<line x1="141.1" y1="298.9" x2="145.5" y2="298.9" stroke="#222" stroke-width="0.7"/>
<circle cx="171.6" cy="296.4" r="2.25" fill="#9c9c9c"/>
<circle cx="181" cy="293.9" r="2.25" fill="#9c9c9c"/>
<circle cx="177.7" cy="295.7" r="2.25" fill="#9c9c9c"/>
<circle cx="171.6" cy="302.4" r="2.25" fill="#9c9c9c"/>
<circle cx="177.9" cy="302" r="2.25" fill="#9c9c9c"/>
<circle cx="174.5" cy="298.9" r="2.25" fill="#9c9c9c"/>
<circle cx="180.8" cy="299.1" r="2.25" fill="#9c9c9c"/>
<line x1="169.9" y1="298.6" x2="182.7" y2="298.6" stroke="#222" stroke-width="0.7"/>
<line x1="176.3" y1="297.5" x2="176.3" y2="299.7" stroke="#222" stroke-width="0.7"/>
<line x1="174.1" y1="297.5" x2="178.5" y2="297.5" stroke="#222" stroke-width="0.7"/>
<line x1="174.1" y1="299.7" x2="178.5" y2="299.7" stroke="#222" stroke-width="0.7"/>
<path d="M200.9 296.01L203 300L198.8 300Z" fill="#12128c"/>
<path d="M196.1 298.91L198.2 302.9L194 302.9Z" fill="#12128c"/>
<path d="M191.5 305.11L193.6 309.1L189.4 309.1Z" fill="#12128c"/>
<path d="M196.1 305.11L198.2 309.1L194 309.1Z" fill="#12128c"/>
<path d="M200.9 305.11L203 309.1L198.8 309.1Z" fill="#12128c"/>
<path d="M193.7 309.81L195.8 313.8L191.6 313.8Z" fill="#12128c"/>
<path d="M198.4 309.01L200.5 313L196.3 313Z" fill="#12128c"/>
<line x1="189.8" y1="306.7" x2="202.4" y2="306.7" stroke="#222" stroke-width="0.7"/>
<line x1="196.1" y1="304.1" x2="196.1" y2="309.2" stroke="#222" stroke-width="0.7"/>
<line x1="193.9" y1="304.1" x2="198.3" y2="304.1" stroke="#222" stroke-width="0.7"/>
<line x1="193.9" y1="309.2" x2="198.3" y2="309.2" stroke="#222" stroke-width="0.7"/>
<line x1="176.2" y1="286.3" x2="197.5" y2="286.3" stroke="#555" stroke-width="0.8"/>
<text x="186.7" y="286.6" font-size="10" font-weight="normal" fill="#111" text-anchor="middle">*</text>
<text x="341" y="254.6" font-size="10.6" font-weight="bold" fill="#1a1a1a" text-anchor="middle">Total Head Volume</text>
<line x1="261.5" y1="294.3" x2="264.7" y2="294.3" stroke="#5e5e5e" stroke-width="0.8"/>
<line x1="261.5" y1="314.6" x2="264.7" y2="314.6" stroke="#5e5e5e" stroke-width="0.8"/>
<line x1="261.5" y1="334.9" x2="264.7" y2="334.9" stroke="#5e5e5e" stroke-width="0.8"/>
<line x1="261.5" y1="355.2" x2="264.7" y2="355.2" stroke="#5e5e5e" stroke-width="0.8"/>
<line x1="261.5" y1="375.5" x2="264.7" y2="375.5" stroke="#5e5e5e" stroke-width="0.8"/>
<line x1="264.7" y1="279" x2="264.7" y2="375.7" stroke="#5e5e5e" stroke-width="0.75"/>
<text x="260.2" y="297.6" font-size="9.3" font-weight="normal" fill="#262626" text-anchor="end">0.20</text>
<text x="260.2" y="317.9" font-size="9.3" font-weight="normal" fill="#262626" text-anchor="end">0.15</text>
<text x="260.2" y="338.2" font-size="9.3" font-weight="normal" fill="#262626" text-anchor="end">0.10</text>
<text x="260.2" y="358.5" font-size="9.3" font-weight="normal" fill="#262626" text-anchor="end">0.05</text>
<text x="260.2" y="378.8" font-size="9.3" font-weight="normal" fill="#262626" text-anchor="end">0.00</text>
<line x1="264.3" y1="375.3" x2="417" y2="375.3" stroke="#5e5e5e" stroke-width="0.9"/>
<line x1="288" y1="375.3" x2="288" y2="378.7" stroke="#5e5e5e" stroke-width="0.8"/>
<text x="288" y="388" font-size="9.3" font-weight="normal" fill="#262626" text-anchor="middle">1 w</text>
<line x1="340.5" y1="375.3" x2="340.5" y2="378.7" stroke="#5e5e5e" stroke-width="0.8"/>
<text x="340.5" y="388" font-size="9.3" font-weight="normal" fill="#262626" text-anchor="middle">2 w</text>
<line x1="393" y1="375.3" x2="393" y2="378.7" stroke="#5e5e5e" stroke-width="0.8"/>
<text x="393" y="388" font-size="9.3" font-weight="normal" fill="#262626" text-anchor="middle">4 w</text>
<text x="237" y="325.6" font-size="9.45" fill="#262626" text-anchor="middle" transform="rotate(-90 237 325.6)">Spine head volume (µm<tspan font-size="6.8" dy="-3.4">3</tspan><tspan dy="3.4">)</tspan></text>
<circle cx="273.3" cy="307" r="2.25" fill="#9c9c9c"/>
<circle cx="282.7" cy="304.2" r="2.25" fill="#9c9c9c"/>
<circle cx="282.7" cy="308.7" r="2.25" fill="#9c9c9c"/>
<circle cx="273.3" cy="312.1" r="2.25" fill="#9c9c9c"/>
<circle cx="282.7" cy="313.3" r="2.25" fill="#9c9c9c"/>
<circle cx="273.3" cy="316.5" r="2.25" fill="#9c9c9c"/>
<line x1="271.8" y1="310.4" x2="284.2" y2="310.4" stroke="#222" stroke-width="0.7"/>
<line x1="278" y1="308.9" x2="278" y2="312" stroke="#222" stroke-width="0.7"/>
<line x1="275.8" y1="308.9" x2="280.2" y2="308.9" stroke="#222" stroke-width="0.7"/>
<line x1="275.8" y1="312" x2="280.2" y2="312" stroke="#222" stroke-width="0.7"/>
<path d="M293.4 299.61L295.5 303.6L291.3 303.6Z" fill="#2f8f96"/>
<path d="M302.4 299.41L304.5 303.4L300.3 303.4Z" fill="#2f8f96"/>
<path d="M302.4 304.71L304.5 308.7L300.3 308.7Z" fill="#2f8f96"/>
<path d="M293.4 307.51L295.5 311.5L291.3 311.5Z" fill="#2f8f96"/>
<path d="M302.4 310.11L304.5 314.1L300.3 314.1Z" fill="#2f8f96"/>
<path d="M293.4 314.71L295.5 318.7L291.3 318.7Z" fill="#2f8f96"/>
<path d="M302.4 316.31L304.5 320.3L300.3 320.3Z" fill="#2f8f96"/>
<path d="M298 321.41L300.1 325.4L295.9 325.4Z" fill="#2f8f96"/>
<line x1="291.5" y1="310.4" x2="304.5" y2="310.4" stroke="#222" stroke-width="0.7"/>
<line x1="298" y1="308" x2="298" y2="313.3" stroke="#222" stroke-width="0.7"/>
<line x1="295.8" y1="308" x2="300.2" y2="308" stroke="#222" stroke-width="0.7"/>
<line x1="295.8" y1="313.3" x2="300.2" y2="313.3" stroke="#222" stroke-width="0.7"/>
<circle cx="326.3" cy="297.6" r="2.25" fill="#9c9c9c"/>
<circle cx="335.8" cy="298.2" r="2.25" fill="#9c9c9c"/>
<circle cx="330.8" cy="302.4" r="2.25" fill="#9c9c9c"/>
<circle cx="330.8" cy="307.4" r="2.25" fill="#9c9c9c"/>
<circle cx="326.3" cy="313.6" r="2.25" fill="#9c9c9c"/>
<circle cx="335.8" cy="313.6" r="2.25" fill="#9c9c9c"/>
<circle cx="330.8" cy="318.3" r="2.25" fill="#9c9c9c"/>
<line x1="324.4" y1="307.3" x2="337.4" y2="307.3" stroke="#222" stroke-width="0.7"/>
<line x1="330.9" y1="304.2" x2="330.9" y2="310.4" stroke="#222" stroke-width="0.7"/>
<line x1="328.7" y1="304.2" x2="333.1" y2="304.2" stroke="#222" stroke-width="0.7"/>
<line x1="328.7" y1="310.4" x2="333.1" y2="310.4" stroke="#222" stroke-width="0.7"/>
<path d="M346.25 306.56L348.35 310.55L344.15 310.55Z" fill="#8fc2f6"/>
<path d="M352.5 307.81L354.6 311.8L350.4 311.8Z" fill="#8fc2f6"/>
<path d="M355.5 307.81L357.6 311.8L353.4 311.8Z" fill="#8fc2f6"/>
<path d="M346.25 311.56L348.35 315.55L344.15 315.55Z" fill="#8fc2f6"/>
<path d="M350.75 312.31L352.85 316.3L348.65 316.3Z" fill="#8fc2f6"/>
<path d="M355.5 315.31L357.6 319.3L353.4 319.3Z" fill="#8fc2f6"/>
<path d="M350.75 318.56L352.85 322.55L348.65 322.55Z" fill="#8fc2f6"/>
<line x1="344.55" y1="313.25" x2="356.95" y2="313.25" stroke="#222" stroke-width="0.7"/>
<line x1="350.75" y1="311.8" x2="350.75" y2="314.7" stroke="#222" stroke-width="0.7"/>
<line x1="348.55" y1="311.8" x2="352.95" y2="311.8" stroke="#222" stroke-width="0.7"/>
<line x1="348.55" y1="314.7" x2="352.95" y2="314.7" stroke="#222" stroke-width="0.7"/>
<circle cx="383.9" cy="300" r="2.25" fill="#9c9c9c"/>
<circle cx="379" cy="311.3" r="2.25" fill="#9c9c9c"/>
<circle cx="383.9" cy="309.7" r="2.25" fill="#9c9c9c"/>
<circle cx="385.7" cy="309" r="2.25" fill="#9c9c9c"/>
<circle cx="388.9" cy="312.8" r="2.25" fill="#9c9c9c"/>
<circle cx="379" cy="316.4" r="2.25" fill="#9c9c9c"/>
<circle cx="385.5" cy="313.5" r="2.25" fill="#9c9c9c"/>
<line x1="377.5" y1="310.7" x2="390.1" y2="310.7" stroke="#222" stroke-width="0.7"/>
<line x1="383.8" y1="309.4" x2="383.8" y2="312" stroke="#222" stroke-width="0.7"/>
<line x1="381.6" y1="309.4" x2="386" y2="309.4" stroke="#222" stroke-width="0.7"/>
<line x1="381.6" y1="312" x2="386" y2="312" stroke="#222" stroke-width="0.7"/>
<path d="M403.6 286.21L405.7 290.2L401.5 290.2Z" fill="#12128c"/>
<path d="M399.2 292.41L401.3 296.4L397.1 296.4Z" fill="#12128c"/>
<path d="M408.3 293.71L410.4 297.7L406.2 297.7Z" fill="#12128c"/>
<path d="M403.6 295.01L405.7 299L401.5 299Z" fill="#12128c"/>
<path d="M403.6 300.61L405.7 304.6L401.5 304.6Z" fill="#12128c"/>
<path d="M399.2 304.41L401.3 308.4L397.1 308.4Z" fill="#12128c"/>
<path d="M408.3 303.71L410.4 307.7L406.2 307.7Z" fill="#12128c"/>
<line x1="397" y1="298.4" x2="410.2" y2="298.4" stroke="#222" stroke-width="0.7"/>
<line x1="403.6" y1="295.6" x2="403.6" y2="301.2" stroke="#222" stroke-width="0.7"/>
<line x1="401.4" y1="295.6" x2="405.8" y2="295.6" stroke="#222" stroke-width="0.7"/>
<line x1="401.4" y1="301.2" x2="405.8" y2="301.2" stroke="#222" stroke-width="0.7"/>
<line x1="383.9" y1="280.5" x2="405.4" y2="280.5" stroke="#555" stroke-width="0.8"/>
<text x="394.8" y="279.8" font-size="10" font-weight="normal" fill="#111" text-anchor="middle" letter-spacing="0.6">**</text>
<text x="132.3" y="421.2" font-size="10.6" font-weight="bold" fill="#1a1a1a" text-anchor="middle">Spine type Density</text>
<rect x="63.55" y="465.85" width="12.9" height="75.15" fill="#dadada" stroke="#959595" stroke-width="0.7"/>
<rect x="83.35" y="474.05" width="12.3" height="66.95" fill="#8c91d2" stroke="#7f85cc" stroke-width="0.7"/>
<rect x="116.05" y="510.35" width="12.3" height="30.65" fill="#dadada" stroke="#959595" stroke-width="0.7"/>
<rect x="135.95" y="508.35" width="12.2" height="32.65" fill="#8c91d2" stroke="#7f85cc" stroke-width="0.7"/>
<rect x="168.45" y="519.6" width="12.7" height="21.4" fill="#dadada" stroke="#959595" stroke-width="0.7"/>
<rect x="188.55" y="523.05" width="12" height="17.95" fill="#8c91d2" stroke="#7f85cc" stroke-width="0.7"/>
<line x1="53.8" y1="445" x2="57" y2="445" stroke="#a0a0a0" stroke-width="0.8"/>
<line x1="53.8" y1="469" x2="57" y2="469" stroke="#a0a0a0" stroke-width="0.8"/>
<line x1="53.8" y1="493" x2="57" y2="493" stroke="#a0a0a0" stroke-width="0.8"/>
<line x1="53.8" y1="517" x2="57" y2="517" stroke="#a0a0a0" stroke-width="0.8"/>
<line x1="53.8" y1="541" x2="57" y2="541" stroke="#a0a0a0" stroke-width="0.8"/>
<line x1="57" y1="445" x2="57" y2="541.4" stroke="#505050" stroke-width="0.75"/>
<text x="52.8" y="448.51" font-size="9.9" font-weight="normal" fill="#262626" text-anchor="end">2.0</text>
<text x="52.8" y="472.51" font-size="9.9" font-weight="normal" fill="#262626" text-anchor="end">1.5</text>
<text x="52.8" y="496.51" font-size="9.9" font-weight="normal" fill="#262626" text-anchor="end">1.0</text>
<text x="52.8" y="520.51" font-size="9.9" font-weight="normal" fill="#262626" text-anchor="end">0.5</text>
<text x="52.8" y="544.51" font-size="9.9" font-weight="normal" fill="#262626" text-anchor="end">0.0</text>
<line x1="56.6" y1="541" x2="207.7" y2="541" stroke="#b8b8b8" stroke-width="0.9"/>
<line x1="79.5" y1="541" x2="79.5" y2="544.4" stroke="#5e5e5e" stroke-width="0.8"/>
<text x="79.5" y="556" font-size="9.3" font-weight="normal" fill="#262626" text-anchor="middle">Thin</text>
<line x1="132" y1="541" x2="132" y2="544.4" stroke="#5e5e5e" stroke-width="0.8"/>
<text x="132" y="556" font-size="9.3" font-weight="normal" fill="#262626" text-anchor="middle">Mushroom</text>
<line x1="184.5" y1="541" x2="184.5" y2="544.4" stroke="#5e5e5e" stroke-width="0.8"/>
<text x="184.5" y="556" font-size="9.3" font-weight="normal" fill="#262626" text-anchor="middle">Stubby</text>
<text x="33.8" y="491.5" font-size="9.5" font-weight="normal" fill="#262626" text-anchor="middle" transform="rotate(-90 33.8 491.5)">Spines/µm</text>
<circle cx="65.3" cy="459.5" r="2.25" fill="#9c9c9c"/>
<circle cx="71.3" cy="459.5" r="2.25" fill="#9c9c9c"/>
<circle cx="74.5" cy="459.1" r="2.25" fill="#9c9c9c"/>
<circle cx="68.6" cy="461.3" r="2.25" fill="#9c9c9c"/>
<circle cx="70.7" cy="466.4" r="2.25" fill="#9c9c9c"/>
<circle cx="68.2" cy="467" r="2.25" fill="#9c9c9c"/>
<circle cx="71.3" cy="474.5" r="2.25" fill="#9c9c9c"/>
<circle cx="68.2" cy="476.4" r="2.25" fill="#9c9c9c"/>
<line x1="65.7" y1="465.7" x2="74.1" y2="465.7" stroke="#222" stroke-width="0.7"/>
<line x1="69.9" y1="462.2" x2="69.9" y2="467.5" stroke="#222" stroke-width="0.7"/>
<line x1="66.7" y1="462.2" x2="73.1" y2="462.2" stroke="#222" stroke-width="0.7"/>
<line x1="66.7" y1="467.5" x2="73.1" y2="467.5" stroke="#222" stroke-width="0.7"/>
<path d="M89.5 460.31L91.6 464.3L87.4 464.3Z" fill="#12128c"/>
<path d="M89.5 465.61L91.6 469.6L87.4 469.6Z" fill="#12128c"/>
<path d="M84.9 471.61L87 475.6L82.8 475.6Z" fill="#12128c"/>
<path d="M94.3 471.61L96.4 475.6L92.2 475.6Z" fill="#12128c"/>
<path d="M84.9 477.51L87 481.5L82.8 481.5Z" fill="#12128c"/>
<path d="M94.3 478.21L96.4 482.2L92.2 482.2Z" fill="#12128c"/>
<path d="M84.9 481.31L87 485.3L82.8 485.3Z" fill="#12128c"/>
<line x1="85.4" y1="473.9" x2="93.8" y2="473.9" stroke="#222" stroke-width="0.7"/>
<line x1="89.6" y1="471.1" x2="89.6" y2="476.4" stroke="#222" stroke-width="0.7"/>
<line x1="86.4" y1="471.1" x2="92.8" y2="471.1" stroke="#222" stroke-width="0.7"/>
<line x1="86.4" y1="476.4" x2="92.8" y2="476.4" stroke="#222" stroke-width="0.7"/>
<circle cx="118" cy="505" r="2.25" fill="#9c9c9c"/>
<circle cx="122.5" cy="503.75" r="2.25" fill="#9c9c9c"/>
<circle cx="127" cy="506.25" r="2.25" fill="#9c9c9c"/>
<circle cx="118" cy="511.25" r="2.25" fill="#9c9c9c"/>
<circle cx="127" cy="512" r="2.25" fill="#9c9c9c"/>
<circle cx="120" cy="516.25" r="2.25" fill="#9c9c9c"/>
<circle cx="123.75" cy="513" r="2.25" fill="#9c9c9c"/>
<line x1="118.2" y1="510" x2="126.6" y2="510" stroke="#222" stroke-width="0.7"/>
<line x1="122.4" y1="507.5" x2="122.4" y2="512.5" stroke="#222" stroke-width="0.7"/>
<line x1="119.2" y1="507.5" x2="125.6" y2="507.5" stroke="#222" stroke-width="0.7"/>
<line x1="119.2" y1="512.5" x2="125.6" y2="512.5" stroke="#222" stroke-width="0.7"/>
<path d="M137.5 499.06L139.6 503.05L135.4 503.05Z" fill="#12128c"/>
<path d="M142.5 501.56L144.6 505.55L140.4 505.55Z" fill="#12128c"/>
<path d="M147 501.06L149.1 505.05L144.9 505.05Z" fill="#12128c"/>
<path d="M137.5 505.31L139.6 509.3L135.4 509.3Z" fill="#12128c"/>
<path d="M147 507.81L149.1 511.8L144.9 511.8Z" fill="#12128c"/>
<path d="M140 515.81L142.1 519.8L137.9 519.8Z" fill="#12128c"/>
<path d="M144.25 514.81L146.35 518.8L142.15 518.8Z" fill="#12128c"/>
<line x1="137.9" y1="508" x2="146.3" y2="508" stroke="#222" stroke-width="0.7"/>
<line x1="142.1" y1="505" x2="142.1" y2="510.7" stroke="#222" stroke-width="0.7"/>
<line x1="138.9" y1="505" x2="145.3" y2="505" stroke="#222" stroke-width="0.7"/>
<line x1="138.9" y1="510.7" x2="145.3" y2="510.7" stroke="#222" stroke-width="0.7"/>
<circle cx="173" cy="513.75" r="2.25" fill="#9c9c9c"/>
<circle cx="177" cy="514.5" r="2.25" fill="#9c9c9c"/>
<circle cx="170" cy="520" r="2.25" fill="#9c9c9c"/>
<circle cx="175" cy="519.5" r="2.25" fill="#9c9c9c"/>
<circle cx="179.25" cy="520" r="2.25" fill="#9c9c9c"/>
<circle cx="177" cy="523.75" r="2.25" fill="#9c9c9c"/>
<circle cx="173" cy="527" r="2.25" fill="#9c9c9c"/>
<line x1="170.7" y1="519.25" x2="179.1" y2="519.25" stroke="#222" stroke-width="0.7"/>
<line x1="174.9" y1="516.5" x2="174.9" y2="522" stroke="#222" stroke-width="0.7"/>
<line x1="171.7" y1="516.5" x2="178.1" y2="516.5" stroke="#222" stroke-width="0.7"/>
<line x1="171.7" y1="522" x2="178.1" y2="522" stroke="#222" stroke-width="0.7"/>
<path d="M194.5 506.31L196.6 510.3L192.4 510.3Z" fill="#12128c"/>
<path d="M189.7 520.21L191.8 524.2L187.6 524.2Z" fill="#12128c"/>
<path d="M194.5 520.51L196.6 524.5L192.4 524.5Z" fill="#12128c"/>
<path d="M199 520.21L201.1 524.2L196.9 524.2Z" fill="#12128c"/>
<path d="M193 526.61L195.1 530.6L190.9 530.6Z" fill="#12128c"/>
<path d="M196.1 526.61L198.2 530.6L194 530.6Z" fill="#12128c"/>
<path d="M192 522.31L194.1 526.3L189.9 526.3Z" fill="#12128c"/>
<line x1="190.4" y1="522.7" x2="198.8" y2="522.7" stroke="#222" stroke-width="0.7"/>
<line x1="194.6" y1="519.2" x2="194.6" y2="525" stroke="#222" stroke-width="0.7"/>
<line x1="191.4" y1="519.2" x2="197.8" y2="519.2" stroke="#222" stroke-width="0.7"/>
<line x1="191.4" y1="525" x2="197.8" y2="525" stroke="#222" stroke-width="0.7"/>
<line x1="68.75" y1="451.25" x2="90" y2="451.25" stroke="#555" stroke-width="0.8"/>
<text x="79.3" y="451.4" font-size="10" font-weight="normal" fill="#111" text-anchor="middle" letter-spacing="0.6">**</text>
<text x="338" y="421.4" font-size="10.6" font-weight="bold" fill="#1a1a1a" text-anchor="middle">Spine type Head Volume</text>
<rect x="269.6" y="522.1" width="12.05" height="18.9" fill="#dadada" stroke="#959595" stroke-width="0.7"/>
<rect x="289.1" y="518.35" width="12.3" height="22.65" fill="#8c91d2" stroke="#7f85cc" stroke-width="0.7"/>
<rect x="321.75" y="469.35" width="12.7" height="71.65" fill="#dadada" stroke="#959595" stroke-width="0.7"/>
<rect x="341.1" y="462.85" width="12.8" height="78.15" fill="#8c91d2" stroke="#7f85cc" stroke-width="0.7"/>
<rect x="374.1" y="508.6" width="12.55" height="32.4" fill="#dadada" stroke="#959595" stroke-width="0.7"/>
<rect x="393.75" y="504.25" width="12.6" height="36.75" fill="#8c91d2" stroke="#7f85cc" stroke-width="0.7"/>
<line x1="259.3" y1="455.6" x2="262.5" y2="455.6" stroke="#a0a0a0" stroke-width="0.8"/>
<line x1="259.3" y1="477" x2="262.5" y2="477" stroke="#a0a0a0" stroke-width="0.8"/>
<line x1="259.3" y1="498.3" x2="262.5" y2="498.3" stroke="#a0a0a0" stroke-width="0.8"/>
<line x1="259.3" y1="519.6" x2="262.5" y2="519.6" stroke="#a0a0a0" stroke-width="0.8"/>
<line x1="259.3" y1="541" x2="262.5" y2="541" stroke="#a0a0a0" stroke-width="0.8"/>
<line x1="262.5" y1="445" x2="262.5" y2="541.4" stroke="#505050" stroke-width="0.75"/>
<text x="258.4" y="459.11" font-size="9.9" font-weight="normal" fill="#262626" text-anchor="end">0.4</text>
<text x="258.4" y="480.51" font-size="9.9" font-weight="normal" fill="#262626" text-anchor="end">0.3</text>
<text x="258.4" y="501.81" font-size="9.9" font-weight="normal" fill="#262626" text-anchor="end">0.2</text>
<text x="258.4" y="523.11" font-size="9.9" font-weight="normal" fill="#262626" text-anchor="end">0.1</text>
<text x="258.4" y="544.51" font-size="9.9" font-weight="normal" fill="#262626" text-anchor="end">0.0</text>
<line x1="262.1" y1="541" x2="413" y2="541" stroke="#b8b8b8" stroke-width="0.9"/>
<line x1="285" y1="541" x2="285" y2="544.4" stroke="#5e5e5e" stroke-width="0.8"/>
<text x="285" y="556" font-size="9.3" font-weight="normal" fill="#262626" text-anchor="middle">Thin</text>
<line x1="337.5" y1="541" x2="337.5" y2="544.4" stroke="#5e5e5e" stroke-width="0.8"/>
<text x="337.5" y="556" font-size="9.3" font-weight="normal" fill="#262626" text-anchor="middle">Mushroom</text>
<line x1="390" y1="541" x2="390" y2="544.4" stroke="#5e5e5e" stroke-width="0.8"/>
<text x="390" y="556" font-size="9.3" font-weight="normal" fill="#262626" text-anchor="middle">Stubby</text>
<text x="239.6" y="491.3" font-size="9.5" fill="#262626" text-anchor="middle" transform="rotate(-90 239.6 491.3)">Spine head volume (µm<tspan font-size="6.8" dy="-3.4">3</tspan><tspan dy="3.4">)</tspan></text>
<circle cx="275" cy="518.75" r="2.25" fill="#9c9c9c"/>
<circle cx="271.5" cy="522" r="2.25" fill="#9c9c9c"/>
<circle cx="278.75" cy="522" r="2.25" fill="#9c9c9c"/>
<circle cx="275" cy="523" r="2.25" fill="#9c9c9c"/>
<circle cx="273" cy="520.5" r="2.25" fill="#9c9c9c"/>
<circle cx="277" cy="520.5" r="2.25" fill="#9c9c9c"/>
<line x1="271.6" y1="521.75" x2="279.6" y2="521.75" stroke="#222" stroke-width="0.7"/>
<line x1="275.6" y1="521" x2="275.6" y2="522.5" stroke="#222" stroke-width="0.7"/>
<line x1="272.6" y1="521" x2="278.6" y2="521" stroke="#222" stroke-width="0.7"/>
<line x1="272.6" y1="522.5" x2="278.6" y2="522.5" stroke="#222" stroke-width="0.7"/>
<path d="M292.5 512.06L294.6 516.05L290.4 516.05Z" fill="#12128c"/>
<path d="M299.25 512.81L301.35 516.8L297.15 516.8Z" fill="#12128c"/>
<path d="M290.3 516.56L292.4 520.55L288.2 520.55Z" fill="#12128c"/>
<path d="M295 515.81L297.1 519.8L292.9 519.8Z" fill="#12128c"/>
<path d="M300 516.56L302.1 520.55L297.9 520.55Z" fill="#12128c"/>
<path d="M292.5 518.31L294.6 522.3L290.4 522.3Z" fill="#12128c"/>
<path d="M297.5 518.31L299.6 522.3L295.4 522.3Z" fill="#12128c"/>
<line x1="291.2" y1="518" x2="299.2" y2="518" stroke="#222" stroke-width="0.7"/>
<line x1="295.2" y1="517" x2="295.2" y2="519" stroke="#222" stroke-width="0.7"/>
<line x1="292.2" y1="517" x2="298.2" y2="517" stroke="#222" stroke-width="0.7"/>
<line x1="292.2" y1="519" x2="298.2" y2="519" stroke="#222" stroke-width="0.7"/>
<circle cx="323.4" cy="465.7" r="2.25" fill="#9c9c9c"/>
<circle cx="326.5" cy="463.2" r="2.25" fill="#9c9c9c"/>
<circle cx="332.6" cy="465.1" r="2.25" fill="#9c9c9c"/>
<circle cx="328.4" cy="466.4" r="2.25" fill="#9c9c9c"/>
<circle cx="329.7" cy="473.6" r="2.25" fill="#9c9c9c"/>
<circle cx="326.5" cy="476.4" r="2.25" fill="#9c9c9c"/>
<line x1="324.5" y1="469.6" x2="331.3" y2="469.6" stroke="#222" stroke-width="0.7"/>
<line x1="327.9" y1="467.2" x2="327.9" y2="470.8" stroke="#222" stroke-width="0.7"/>
<line x1="325.3" y1="467.2" x2="330.5" y2="467.2" stroke="#222" stroke-width="0.7"/>
<line x1="325.3" y1="470.8" x2="330.5" y2="470.8" stroke="#222" stroke-width="0.7"/>
<path d="M347.5 453.56L349.6 457.55L345.4 457.55Z" fill="#12128c"/>
<path d="M342.5 459.81L344.6 463.8L340.4 463.8Z" fill="#12128c"/>
<path d="M347.5 460.31L349.6 464.3L345.4 464.3Z" fill="#12128c"/>
<path d="M352 459.81L354.1 463.8L349.9 463.8Z" fill="#12128c"/>
<path d="M345 462.81L347.1 466.8L342.9 466.8Z" fill="#12128c"/>
<path d="M350 462.81L352.1 466.8L347.9 466.8Z" fill="#12128c"/>
<path d="M347.5 469.06L349.6 473.05L345.4 473.05Z" fill="#12128c"/>
<line x1="343.3" y1="462.5" x2="351.7" y2="462.5" stroke="#222" stroke-width="0.7"/>
<line x1="347.5" y1="460.5" x2="347.5" y2="464.5" stroke="#222" stroke-width="0.7"/>
<line x1="344.3" y1="460.5" x2="350.7" y2="460.5" stroke="#222" stroke-width="0.7"/>
<line x1="344.3" y1="464.5" x2="350.7" y2="464.5" stroke="#222" stroke-width="0.7"/>
<circle cx="380.75" cy="502" r="2.25" fill="#9c9c9c"/>
<circle cx="377.5" cy="505" r="2.25" fill="#9c9c9c"/>
<circle cx="383.75" cy="505" r="2.25" fill="#9c9c9c"/>
<circle cx="376.25" cy="510" r="2.25" fill="#9c9c9c"/>
<circle cx="385" cy="510" r="2.25" fill="#9c9c9c"/>
<circle cx="378.75" cy="512" r="2.25" fill="#9c9c9c"/>
<circle cx="382.5" cy="512" r="2.25" fill="#9c9c9c"/>
<line x1="376.2" y1="508.25" x2="384.6" y2="508.25" stroke="#222" stroke-width="0.7"/>
<line x1="380.4" y1="506.25" x2="380.4" y2="510.2" stroke="#222" stroke-width="0.7"/>
<line x1="377.2" y1="506.25" x2="383.6" y2="506.25" stroke="#222" stroke-width="0.7"/>
<line x1="377.2" y1="510.2" x2="383.6" y2="510.2" stroke="#222" stroke-width="0.7"/>
<path d="M395.2 496.71L397.3 500.7L393.1 500.7Z" fill="#12128c"/>
<path d="M401.7 497.31L403.8 501.3L399.6 501.3Z" fill="#12128c"/>
<path d="M398.6 498.91L400.7 502.9L396.5 502.9Z" fill="#12128c"/>
<path d="M395.2 505.91L397.3 509.9L393.1 509.9Z" fill="#12128c"/>
<path d="M398.9 503.71L401 507.7L396.8 507.7Z" fill="#12128c"/>
<path d="M401.7 503.71L403.8 507.7L399.6 507.7Z" fill="#12128c"/>
<path d="M404.8 503.71L406.9 507.7L402.7 507.7Z" fill="#12128c"/>
<line x1="395.8" y1="503.9" x2="404.2" y2="503.9" stroke="#222" stroke-width="0.7"/>
<line x1="400" y1="502.3" x2="400" y2="505.5" stroke="#222" stroke-width="0.7"/>
<line x1="396.8" y1="502.3" x2="403.2" y2="502.3" stroke="#222" stroke-width="0.7"/>
<line x1="396.8" y1="505.5" x2="403.2" y2="505.5" stroke="#222" stroke-width="0.7"/>
<line x1="326.25" y1="447.7" x2="349.25" y2="447.7" stroke="#b0b0b0" stroke-width="1.1"/>
<text x="338" y="446" font-size="10" font-weight="normal" fill="#111" text-anchor="middle">*</text>
<circle cx="422" cy="436.3" r="2.1" fill="#9c9c9c"/>
<text x="432.6" y="439.2" font-size="8.1" font-weight="normal" fill="#3a3a3a" text-anchor="start">EVV</text>
<path d="M422 447.31L424 451.11L420 451.11Z" fill="#12128c"/>
<text x="432.6" y="452" font-size="8.1" font-weight="normal" fill="#3a3a3a" text-anchor="start">h-asyn</text>
<rect x="487.6" y="241.1" width="192.8" height="170.9" fill="#000"/>
<rect x="487.5" y="419" width="193" height="170.5" fill="#000"/>
<text x="474.3" y="329.4" font-size="11.8" font-weight="bold" fill="#111" text-anchor="middle" transform="rotate(-90 474.3 329.4)">EVV</text>
<g clip-path="url(#cF1)">
<rect x="487.5" y="241.5" width="193" height="40" fill="#040404"/>
<rect x="487.5" y="285" width="193" height="40" fill="#070707"/>
<path d="M632 241L681 241L681 262L650 257Z" fill="#111"/>
<path d="M484 265.5C486.67 265.33 494 264.83 500 264.5C506 264.17 514.17 263.42 520 263.5C525.83 263.58 530.83 265.17 535 265C539.17 264.83 541.67 263.42 545 262.5C548.33 261.58 551.17 260.28 555 259.5C558.83 258.72 563.83 257.88 568 257.8C572.17 257.72 575.5 258.55 580 259C584.5 259.45 590 260.17 595 260.5C600 260.83 605 260.42 610 261C615 261.58 620 262.95 625 264C630 265.05 635.5 266.63 640 267.3C644.5 267.97 647.83 268 652 268C656.17 268 659.67 267.58 665 267.3C670.33 267.02 680.83 266.47 684 266.3" fill="none" stroke="#8a8a8a" stroke-width="6.5" stroke-linecap="round" filter="url(#glow)" opacity="0.6"/>
<g filter="url(#bl)">
<path d="M484.96 266.64Q487.16 270.21 485.62 274.12" fill="none" stroke="#fff" stroke-width="1.13" stroke-linecap="round"/>
<path d="M485.81 264.39Q483.9 262.88 482.9 260.66" fill="none" stroke="#fff" stroke-width="1" stroke-linecap="round"/>
<ellipse cx="482.9" cy="260.66" rx="1.11" ry="1.8" fill="#fff" transform="rotate(-37.89 482.9 260.66)"/>
<path d="M488.85 264.19Q490.63 262.99 490.82 260.84" fill="none" stroke="#fff" stroke-width="1.18" stroke-linecap="round"/>
<ellipse cx="490.82" cy="260.84" rx="0.62" ry="1.01" fill="#fff" transform="rotate(30.48 490.82 260.84)"/>
<path d="M490.49 264.05Q490.97 261.96 492.39 260.37" fill="none" stroke="#fff" stroke-width="0.74" stroke-linecap="round"/>
<path d="M491.64 266.21Q492.51 269.26 491.65 272.32" fill="none" stroke="#fff" stroke-width="0.94" stroke-linecap="round"/>
<ellipse cx="491.65" cy="272.32" rx="0.62" ry="1.01" fill="#fff" transform="rotate(179.91 491.65 272.32)"/>
<path d="M493.81 266Q492.32 271.42 497.32 274.01" fill="none" stroke="#fff" stroke-width="1.19" stroke-linecap="round"/>
<path d="M495.62 265.84Q497.81 269.37 499.7 273.07" fill="none" stroke="#fff" stroke-width="1.15" stroke-linecap="round"/>
<ellipse cx="499.7" cy="273.07" rx="1.19" ry="1.94" fill="#fff" transform="rotate(150.52 499.7 273.07)"/>
<path d="M496.58 263.5Q495.68 260.83 495.93 258.03" fill="none" stroke="#fff" stroke-width="1.25" stroke-linecap="round"/>
<ellipse cx="495.93" cy="258.03" rx="0.62" ry="1" fill="#fff" transform="rotate(-6.77 495.93 258.03)"/>
<path d="M498.5 265.79Q498.91 271.14 499.16 276.5" fill="none" stroke="#fff" stroke-width="0.98" stroke-linecap="round"/>
<path d="M500.23 263.3Q498.58 259.7 500.84 256.44" fill="none" stroke="#fff" stroke-width="0.75" stroke-linecap="round"/>
<ellipse cx="500.84" cy="256.44" rx="1.19" ry="1.94" fill="#fff" transform="rotate(5.12 500.84 256.44)"/>
<path d="M502.43 265.42Q505.54 266.56 505.06 269.83" fill="none" stroke="#fff" stroke-width="1.14" stroke-linecap="round"/>
<path d="M503.99 263.18Q508.45 260.85 507.13 255.99" fill="none" stroke="#fff" stroke-width="0.89" stroke-linecap="round"/>
<path d="M505.3 265.36Q506.71 270.11 506.07 275.01" fill="none" stroke="#fff" stroke-width="0.8" stroke-linecap="round"/>
<path d="M506.59 265.21Q505.56 269.58 504.27 273.87" fill="none" stroke="#fff" stroke-width="1.15" stroke-linecap="round"/>
<ellipse cx="504.27" cy="273.87" rx="0.77" ry="1.24" fill="#fff" transform="rotate(194.99 504.27 273.87)"/>
<path d="M509.26 264.94Q511.04 266.39 511.67 268.61" fill="none" stroke="#fff" stroke-width="1.19" stroke-linecap="round"/>
<path d="M510.86 262.77Q512.1 260.7 513.13 258.52" fill="none" stroke="#fff" stroke-width="1.09" stroke-linecap="round"/>
<ellipse cx="513.13" cy="258.52" rx="0.74" ry="1.2" fill="#fff" transform="rotate(28.08 513.13 258.52)"/>
<path d="M511.92 264.93Q512.21 269.79 511.29 274.57" fill="none" stroke="#fff" stroke-width="1" stroke-linecap="round"/>
<path d="M514.02 262.49Q512.48 259.48 515.36 257.72" fill="none" stroke="#fff" stroke-width="1.06" stroke-linecap="round"/>
<path d="M517.18 262.32Q515.58 257.49 517.88 252.96" fill="none" stroke="#fff" stroke-width="0.89" stroke-linecap="round"/>
<path d="M518.22 262.44Q515.59 261.55 516.3 258.86" fill="none" stroke="#fff" stroke-width="0.92" stroke-linecap="round"/>
<ellipse cx="516.3" cy="258.86" rx="1.16" ry="1.88" fill="#fff" transform="rotate(-28.24 516.3 258.86)"/>
<path d="M520.71 264.69Q521.36 268 521.94 271.32" fill="none" stroke="#fff" stroke-width="0.78" stroke-linecap="round"/>
<ellipse cx="521.94" cy="271.32" rx="0.72" ry="1.17" fill="#fff" transform="rotate(169.46 521.94 271.32)"/>
<path d="M522.73 264.67Q523.14 268.3 525.84 270.75" fill="none" stroke="#fff" stroke-width="1.17" stroke-linecap="round"/>
<path d="M524.36 264.85Q524.26 268.28 526.86 270.52" fill="none" stroke="#fff" stroke-width="0.76" stroke-linecap="round"/>
<path d="M526.05 265.06Q527.59 267.22 528.14 269.8" fill="none" stroke="#fff" stroke-width="0.84" stroke-linecap="round"/>
<path d="M528.01 263.28Q528.28 259.09 532.34 258" fill="none" stroke="#fff" stroke-width="1.01" stroke-linecap="round"/>
<ellipse cx="532.34" cy="258" rx="1.07" ry="1.74" fill="#fff" transform="rotate(39.37 532.34 258)"/>
<path d="M528.71 265.65Q527.57 269.53 527.27 273.56" fill="none" stroke="#fff" stroke-width="0.69" stroke-linecap="round"/>
<path d="M531.41 263.81Q531.7 260.59 534.86 259.91" fill="none" stroke="#fff" stroke-width="0.7" stroke-linecap="round"/>
<ellipse cx="534.86" cy="259.91" rx="1.12" ry="1.82" fill="#fff" transform="rotate(41.49 534.86 259.91)"/>
<path d="M532.85 265.97Q533.71 269.69 536.24 272.55" fill="none" stroke="#fff" stroke-width="0.92" stroke-linecap="round"/>
<ellipse cx="536.24" cy="272.55" rx="0.85" ry="1.38" fill="#fff" transform="rotate(152.71 536.24 272.55)"/>
<path d="M534.07 266.2Q535.17 268.09 534.31 270.1" fill="none" stroke="#fff" stroke-width="1.07" stroke-linecap="round"/>
<path d="M535.96 266.13Q536.55 268.42 537.02 270.74" fill="none" stroke="#fff" stroke-width="1.03" stroke-linecap="round"/>
<path d="M537.48 263.56Q539.99 260.56 538 257.19" fill="none" stroke="#fff" stroke-width="1.12" stroke-linecap="round"/>
<ellipse cx="538" cy="257.19" rx="1.09" ry="1.76" fill="#fff" transform="rotate(4.69 538 257.19)"/>
<path d="M539.09 265.59Q541.02 269.55 539.39 273.63" fill="none" stroke="#fff" stroke-width="1.2" stroke-linecap="round"/>
<ellipse cx="539.39" cy="273.63" rx="0.99" ry="1.61" fill="#fff" transform="rotate(177.88 539.39 273.63)"/>
<path d="M539.73 263.17Q534.48 261.19 531.34 256.55" fill="none" stroke="#fff" stroke-width="0.84" stroke-linecap="round"/>
<ellipse cx="531.34" cy="256.55" rx="0.69" ry="1.13" fill="#fff" transform="rotate(-51.72 531.34 256.55)"/>
<path d="M542.52 262.19Q544.17 259.92 543.54 257.18" fill="none" stroke="#fff" stroke-width="0.93" stroke-linecap="round"/>
<ellipse cx="543.54" cy="257.18" rx="1.21" ry="1.97" fill="#fff" transform="rotate(11.43 543.54 257.18)"/>
<path d="M544.06 264.02Q543.54 266.77 544.81 269.28" fill="none" stroke="#fff" stroke-width="0.81" stroke-linecap="round"/>
<path d="M544.75 261.44Q542.83 256.94 538.71 254.32" fill="none" stroke="#fff" stroke-width="0.77" stroke-linecap="round"/>
<ellipse cx="538.71" cy="254.32" rx="0.78" ry="1.26" fill="#fff" transform="rotate(-40.35 538.71 254.32)"/>
<path d="M546.69 260.74Q546.11 257.62 544.32 255" fill="none" stroke="#fff" stroke-width="0.82" stroke-linecap="round"/>
<ellipse cx="544.32" cy="255" rx="0.85" ry="1.38" fill="#fff" transform="rotate(-22.48 544.32 255)"/>
<path d="M547.83 260.55Q545.53 255.13 539.76 253.96" fill="none" stroke="#fff" stroke-width="1.21" stroke-linecap="round"/>
<path d="M551.94 259.06Q550.1 255.49 551.61 251.78" fill="none" stroke="#fff" stroke-width="0.65" stroke-linecap="round"/>
<ellipse cx="551.61" cy="251.78" rx="0.66" ry="1.07" fill="#fff" transform="rotate(-2.61 551.61 251.78)"/>
<path d="M553.17 258.7Q548.45 255.38 549.36 249.69" fill="none" stroke="#fff" stroke-width="1.13" stroke-linecap="round"/>
<path d="M554.92 258.3Q554.44 256.1 553.53 254.05" fill="none" stroke="#fff" stroke-width="0.79" stroke-linecap="round"/>
<path d="M556.13 258.25Q553.28 254.28 549.44 251.24" fill="none" stroke="#fff" stroke-width="0.7" stroke-linecap="round"/>
<path d="M559.41 259.73Q559.81 262.32 562.29 263.16" fill="none" stroke="#fff" stroke-width="1.01" stroke-linecap="round"/>
<ellipse cx="562.29" cy="263.16" rx="0.9" ry="1.46" fill="#fff" transform="rotate(139.88 562.29 263.16)"/>
<path d="M559.93 257.41Q558.25 255.38 558.35 252.75" fill="none" stroke="#fff" stroke-width="1.03" stroke-linecap="round"/>
<path d="M562.09 257.11Q560.53 253.7 562.6 250.59" fill="none" stroke="#fff" stroke-width="0.81" stroke-linecap="round"/>
<ellipse cx="562.6" cy="250.59" rx="0.62" ry="1.01" fill="#fff" transform="rotate(4.47 562.6 250.59)"/>
<path d="M563.09 257.06Q558.88 255.05 559.3 250.4" fill="none" stroke="#fff" stroke-width="1.21" stroke-linecap="round"/>
<ellipse cx="559.3" cy="250.4" rx="0.86" ry="1.4" fill="#fff" transform="rotate(-29.67 559.3 250.4)"/>
<path d="M566.05 258.93Q566.28 262.77 569.75 264.44" fill="none" stroke="#fff" stroke-width="0.78" stroke-linecap="round"/>
<ellipse cx="569.75" cy="264.44" rx="0.83" ry="1.34" fill="#fff" transform="rotate(146.11 569.75 264.44)"/>
<path d="M567.32 256.66Q567.75 254.5 568.23 252.35" fill="none" stroke="#fff" stroke-width="0.75" stroke-linecap="round"/>
<path d="M569.16 258.93Q568.61 263.28 571.7 266.39" fill="none" stroke="#fff" stroke-width="1.19" stroke-linecap="round"/>
<ellipse cx="571.7" cy="266.39" rx="1.18" ry="1.92" fill="#fff" transform="rotate(161.22 571.7 266.39)"/>
<path d="M571.14 256.86Q576.12 254.03 576.85 248.36" fill="none" stroke="#fff" stroke-width="0.66" stroke-linecap="round"/>
<ellipse cx="576.85" cy="248.36" rx="0.99" ry="1.61" fill="#fff" transform="rotate(33.9 576.85 248.36)"/>
<path d="M572.52 259.14Q570.87 263.62 574.74 266.41" fill="none" stroke="#fff" stroke-width="0.97" stroke-linecap="round"/>
<path d="M574.39 257.12Q577.23 254.69 577.43 250.96" fill="none" stroke="#fff" stroke-width="1.18" stroke-linecap="round"/>
<ellipse cx="577.43" cy="250.96" rx="0.65" ry="1.06" fill="#fff" transform="rotate(26.3 577.43 250.96)"/>
<path d="M576.13 257.39Q577.08 254.04 579.48 251.53" fill="none" stroke="#fff" stroke-width="0.73" stroke-linecap="round"/>
<ellipse cx="579.48" cy="251.53" rx="0.87" ry="1.41" fill="#fff" transform="rotate(29.73 579.48 251.53)"/>
<path d="M577.47 259.84Q580.9 263.07 579.1 267.43" fill="none" stroke="#fff" stroke-width="1.21" stroke-linecap="round"/>
<ellipse cx="579.1" cy="267.43" rx="1.17" ry="1.91" fill="#fff" transform="rotate(167.89 579.1 267.43)"/>
<path d="M578.94 257.68Q579.63 255.32 579.05 252.93" fill="none" stroke="#fff" stroke-width="1.11" stroke-linecap="round"/>
<path d="M580.65 260.26Q580.84 263.23 580.92 266.2" fill="none" stroke="#fff" stroke-width="0.81" stroke-linecap="round"/>
<ellipse cx="580.92" cy="266.2" rx="0.89" ry="1.45" fill="#fff" transform="rotate(177.42 580.92 266.2)"/>
<path d="M584.44 258.32Q587.8 254.87 587.88 250.06" fill="none" stroke="#fff" stroke-width="1.25" stroke-linecap="round"/>
<ellipse cx="587.88" cy="250.06" rx="0.85" ry="1.38" fill="#fff" transform="rotate(22.59 587.88 250.06)"/>
<path d="M588.14 258.88Q588.97 254.97 592.69 253.52" fill="none" stroke="#fff" stroke-width="0.79" stroke-linecap="round"/>
<path d="M589.11 261.18Q587.95 263.2 589.32 265.09" fill="none" stroke="#fff" stroke-width="0.95" stroke-linecap="round"/>
<ellipse cx="589.32" cy="265.09" rx="0.85" ry="1.38" fill="#fff" transform="rotate(176.94 589.32 265.09)"/>
<path d="M591.35 259.11Q594.9 256.57 595.42 252.24" fill="none" stroke="#fff" stroke-width="0.87" stroke-linecap="round"/>
<ellipse cx="595.42" cy="252.24" rx="1.1" ry="1.79" fill="#fff" transform="rotate(30.59 595.42 252.24)"/>
<path d="M591.85 261.35Q589.27 262.51 589.67 265.32" fill="none" stroke="#fff" stroke-width="0.7" stroke-linecap="round"/>
<ellipse cx="589.67" cy="265.32" rx="1.01" ry="1.63" fill="#fff" transform="rotate(208.89 589.67 265.32)"/>
<path d="M594.48 259.29Q594.28 256.68 595.9 254.61" fill="none" stroke="#fff" stroke-width="0.78" stroke-linecap="round"/>
<ellipse cx="595.9" cy="254.61" rx="0.92" ry="1.49" fill="#fff" transform="rotate(16.91 595.9 254.61)"/>
<path d="M595.64 259.36Q596.07 255.28 594.44 251.52" fill="none" stroke="#fff" stroke-width="0.87" stroke-linecap="round"/>
<ellipse cx="594.44" cy="251.52" rx="0.69" ry="1.12" fill="#fff" transform="rotate(-8.69 594.44 251.52)"/>
<path d="M597.03 259.52Q597.67 256.02 594.61 254.21" fill="none" stroke="#fff" stroke-width="1.04" stroke-linecap="round"/>
<ellipse cx="594.61" cy="254.21" rx="1.06" ry="1.73" fill="#fff" transform="rotate(-24.47 594.61 254.21)"/>
<path d="M598.58 261.66Q597.47 264.77 595.12 267.11" fill="none" stroke="#fff" stroke-width="1.03" stroke-linecap="round"/>
<ellipse cx="595.12" cy="267.11" rx="0.83" ry="1.36" fill="#fff" transform="rotate(212.39 595.12 267.11)"/>
<path d="M600.87 259.45Q600.78 255.7 600.5 251.95" fill="none" stroke="#fff" stroke-width="0.78" stroke-linecap="round"/>
<path d="M604.47 259.48Q605.11 257.22 605.02 254.87" fill="none" stroke="#fff" stroke-width="0.7" stroke-linecap="round"/>
<ellipse cx="605.02" cy="254.87" rx="0.71" ry="1.15" fill="#fff" transform="rotate(6.88 605.02 254.87)"/>
<path d="M606.39 261.86Q609.3 263.7 607.99 266.88" fill="none" stroke="#fff" stroke-width="0.76" stroke-linecap="round"/>
<ellipse cx="607.99" cy="266.88" rx="1" ry="1.62" fill="#fff" transform="rotate(162.33 607.99 266.88)"/>
<path d="M607.6 261.99Q608.95 264.2 607.2 266.1" fill="none" stroke="#fff" stroke-width="0.89" stroke-linecap="round"/>
<path d="M609.87 262.05Q612.6 264.57 612.45 268.28" fill="none" stroke="#fff" stroke-width="1.01" stroke-linecap="round"/>
<ellipse cx="612.45" cy="268.28" rx="0.73" ry="1.19" fill="#fff" transform="rotate(157.57 612.45 268.28)"/>
<path d="M611.5 260.01Q609.83 255.93 613.66 253.77" fill="none" stroke="#fff" stroke-width="0.83" stroke-linecap="round"/>
<ellipse cx="613.66" cy="253.77" rx="1.18" ry="1.92" fill="#fff" transform="rotate(19.15 613.66 253.77)"/>
<path d="M612.59 262.58Q610.79 264.25 611.97 266.4" fill="none" stroke="#fff" stroke-width="1.11" stroke-linecap="round"/>
<ellipse cx="611.97" cy="266.4" rx="0.72" ry="1.16" fill="#fff" transform="rotate(189.25 611.97 266.4)"/>
<path d="M613.86 262.74Q609.59 266.33 608.71 271.84" fill="none" stroke="#fff" stroke-width="0.97" stroke-linecap="round"/>
<ellipse cx="608.71" cy="271.84" rx="0.82" ry="1.33" fill="#fff" transform="rotate(209.54 608.71 271.84)"/>
<path d="M615.48 263.04Q615.92 266.69 612.42 267.82" fill="none" stroke="#fff" stroke-width="0.82" stroke-linecap="round"/>
<ellipse cx="612.42" cy="267.82" rx="0.81" ry="1.31" fill="#fff" transform="rotate(212.57 612.42 267.82)"/>
<path d="M617.77 261.19Q616.12 259.06 617.71 256.9" fill="none" stroke="#fff" stroke-width="1.05" stroke-linecap="round"/>
<ellipse cx="617.71" cy="256.9" rx="0.75" ry="1.22" fill="#fff" transform="rotate(-0.74 617.71 256.9)"/>
<path d="M618.92 263.84Q617.01 266.2 616.34 269.16" fill="none" stroke="#fff" stroke-width="0.93" stroke-linecap="round"/>
<ellipse cx="616.34" cy="269.16" rx="0.83" ry="1.35" fill="#fff" transform="rotate(205.88 616.34 269.16)"/>
<path d="M621.13 261.94Q619.67 259.34 621.23 256.81" fill="none" stroke="#fff" stroke-width="1.2" stroke-linecap="round"/>
<ellipse cx="621.23" cy="256.81" rx="0.73" ry="1.18" fill="#fff" transform="rotate(1.17 621.23 256.81)"/>
<path d="M624.9 262.78Q624.74 259.8 627.02 257.89" fill="none" stroke="#fff" stroke-width="1.04" stroke-linecap="round"/>
<ellipse cx="627.02" cy="257.89" rx="1.07" ry="1.74" fill="#fff" transform="rotate(23.51 627.02 257.89)"/>
<path d="M625.69 265.37Q623.41 267.22 624.07 270.08" fill="none" stroke="#fff" stroke-width="1.06" stroke-linecap="round"/>
<ellipse cx="624.07" cy="270.08" rx="0.81" ry="1.32" fill="#fff" transform="rotate(198.96 624.07 270.08)"/>
<path d="M628.25 263.53Q630.19 262.08 630.09 259.67" fill="none" stroke="#fff" stroke-width="1.06" stroke-linecap="round"/>
<path d="M629.43 263.8Q628.48 258.39 629.73 253.04" fill="none" stroke="#fff" stroke-width="1.24" stroke-linecap="round"/>
<ellipse cx="629.73" cy="253.04" rx="0.85" ry="1.39" fill="#fff" transform="rotate(1.59 629.73 253.04)"/>
<path d="M630.38 266.4Q628.58 268.14 627.65 270.47" fill="none" stroke="#fff" stroke-width="1.1" stroke-linecap="round"/>
<path d="M631.83 266.63Q628.54 269.79 625.24 272.95" fill="none" stroke="#fff" stroke-width="1.07" stroke-linecap="round"/>
<ellipse cx="625.24" cy="272.95" rx="1.22" ry="1.98" fill="#fff" transform="rotate(226.21 625.24 272.95)"/>
<path d="M634.33 264.98Q631.73 261.17 634.16 257.24" fill="none" stroke="#fff" stroke-width="0.88" stroke-linecap="round"/>
<ellipse cx="634.16" cy="257.24" rx="0.6" ry="0.98" fill="#fff" transform="rotate(-1.25 634.16 257.24)"/>
<path d="M636.4 267.69Q636.83 272.09 639.19 275.82" fill="none" stroke="#fff" stroke-width="0.72" stroke-linecap="round"/>
<ellipse cx="639.19" cy="275.82" rx="0.79" ry="1.28" fill="#fff" transform="rotate(161.09 639.19 275.82)"/>
<path d="M637.76 265.7Q639.16 262.87 638.13 259.88" fill="none" stroke="#fff" stroke-width="0.72" stroke-linecap="round"/>
<ellipse cx="638.13" cy="259.88" rx="1.05" ry="1.7" fill="#fff" transform="rotate(3.66 638.13 259.88)"/>
<path d="M638.99 268.34Q639.08 270.91 637.53 272.96" fill="none" stroke="#fff" stroke-width="1.07" stroke-linecap="round"/>
<path d="M640.98 266.25Q641.89 261.11 640.52 256.07" fill="none" stroke="#fff" stroke-width="1.14" stroke-linecap="round"/>
<ellipse cx="640.52" cy="256.07" rx="1.1" ry="1.79" fill="#fff" transform="rotate(-2.59 640.52 256.07)"/>
<path d="M644.74 268.95Q647.75 270.9 646.19 274.13" fill="none" stroke="#fff" stroke-width="1.13" stroke-linecap="round"/>
<ellipse cx="646.19" cy="274.13" rx="0.97" ry="1.57" fill="#fff" transform="rotate(164.32 646.19 274.13)"/>
<path d="M645.88 269.08Q647.56 274.18 644.04 278.24" fill="none" stroke="#fff" stroke-width="1.11" stroke-linecap="round"/>
<ellipse cx="644.04" cy="278.24" rx="1.19" ry="1.94" fill="#fff" transform="rotate(191.35 644.04 278.24)"/>
<path d="M647.93 269.16Q646.86 271.58 648.37 273.76" fill="none" stroke="#fff" stroke-width="1.16" stroke-linecap="round"/>
<path d="M649.25 266.82Q648.35 264.34 648.09 261.72" fill="none" stroke="#fff" stroke-width="1.17" stroke-linecap="round"/>
<path d="M651.16 266.8Q652.57 261.73 650.71 256.8" fill="none" stroke="#fff" stroke-width="1.12" stroke-linecap="round"/>
<ellipse cx="650.71" cy="256.8" rx="0.99" ry="1.62" fill="#fff" transform="rotate(-2.57 650.71 256.8)"/>
<path d="M653.5 269.04Q654.36 274.27 658.38 277.71" fill="none" stroke="#fff" stroke-width="0.94" stroke-linecap="round"/>
<path d="M654.99 266.81Q656.52 265.13 656.32 262.87" fill="none" stroke="#fff" stroke-width="0.67" stroke-linecap="round"/>
<ellipse cx="656.32" cy="262.87" rx="0.69" ry="1.12" fill="#fff" transform="rotate(18.64 656.32 262.87)"/>
<path d="M655.75 268.93Q653.22 269.83 653.92 272.42" fill="none" stroke="#fff" stroke-width="0.91" stroke-linecap="round"/>
<ellipse cx="653.92" cy="272.42" rx="0.83" ry="1.35" fill="#fff" transform="rotate(207.65 653.92 272.42)"/>
<path d="M658.28 266.59Q657.31 263.26 659.68 260.73" fill="none" stroke="#fff" stroke-width="0.83" stroke-linecap="round"/>
<path d="M659.15 266.58Q656.18 262.51 654.56 257.75" fill="none" stroke="#fff" stroke-width="0.84" stroke-linecap="round"/>
<ellipse cx="654.56" cy="257.75" rx="0.83" ry="1.34" fill="#fff" transform="rotate(-27.47 654.56 257.75)"/>
<path d="M662.08 268.51Q666.07 269.82 665.9 274.02" fill="none" stroke="#fff" stroke-width="0.77" stroke-linecap="round"/>
<ellipse cx="665.9" cy="274.02" rx="0.82" ry="1.33" fill="#fff" transform="rotate(145.24 665.9 274.02)"/>
<path d="M663.21 268.61Q661.74 272.61 663.93 276.27" fill="none" stroke="#fff" stroke-width="1.06" stroke-linecap="round"/>
<ellipse cx="663.93" cy="276.27" rx="0.99" ry="1.62" fill="#fff" transform="rotate(174.57 663.93 276.27)"/>
<path d="M664.91 266.12Q668.49 262.22 665.8 257.66" fill="none" stroke="#fff" stroke-width="0.81" stroke-linecap="round"/>
<ellipse cx="665.8" cy="257.66" rx="1.23" ry="1.99" fill="#fff" transform="rotate(5.97 665.8 257.66)"/>
<path d="M666.23 268.39Q666.71 270.58 665.36 272.36" fill="none" stroke="#fff" stroke-width="1.1" stroke-linecap="round"/>
<ellipse cx="665.36" cy="272.36" rx="0.94" ry="1.53" fill="#fff" transform="rotate(192.34 665.36 272.36)"/>
<path d="M668.04 268.32Q666.44 272.92 666.91 277.77" fill="none" stroke="#fff" stroke-width="0.72" stroke-linecap="round"/>
<ellipse cx="666.91" cy="277.77" rx="1.22" ry="1.98" fill="#fff" transform="rotate(186.83 666.91 277.77)"/>
<path d="M669.93 268.24Q669.71 272.26 670.25 276.25" fill="none" stroke="#fff" stroke-width="1.23" stroke-linecap="round"/>
<path d="M671.78 265.77Q673.2 263.03 672.76 259.98" fill="none" stroke="#fff" stroke-width="0.81" stroke-linecap="round"/>
<ellipse cx="672.76" cy="259.98" rx="0.88" ry="1.42" fill="#fff" transform="rotate(9.62 672.76 259.98)"/>
<path d="M675.16 265.59Q677.62 263.68 675.84 261.12" fill="none" stroke="#fff" stroke-width="1.21" stroke-linecap="round"/>
<ellipse cx="675.84" cy="261.12" rx="1.15" ry="1.87" fill="#fff" transform="rotate(8.73 675.84 261.12)"/>
<path d="M677.33 267.69Q680.98 271.15 682.7 275.86" fill="none" stroke="#fff" stroke-width="0.87" stroke-linecap="round"/>
<ellipse cx="682.7" cy="275.86" rx="0.87" ry="1.42" fill="#fff" transform="rotate(146.72 682.7 275.86)"/>
<path d="M677.94 265.48Q673.47 261.65 674.17 255.81" fill="none" stroke="#fff" stroke-width="0.85" stroke-linecap="round"/>
<path d="M680 267.7Q678.92 269.84 679.72 272.09" fill="none" stroke="#fff" stroke-width="1.05" stroke-linecap="round"/>
<ellipse cx="679.72" cy="272.09" rx="1.21" ry="1.97" fill="#fff" transform="rotate(183.53 679.72 272.09)"/>
<path d="M681.85 265.22Q679.49 260.32 682.5 255.78" fill="none" stroke="#fff" stroke-width="0.89" stroke-linecap="round"/>
<path d="M682.97 265.24Q682.39 263.1 681.15 261.27" fill="none" stroke="#fff" stroke-width="1.04" stroke-linecap="round"/>
<ellipse cx="681.15" cy="261.27" rx="0.86" ry="1.39" fill="#fff" transform="rotate(-24.58 681.15 261.27)"/>
<path d="M484 265.5C486.67 265.33 494 264.83 500 264.5C506 264.17 514.17 263.42 520 263.5C525.83 263.58 530.83 265.17 535 265C539.17 264.83 541.67 263.42 545 262.5C548.33 261.58 551.17 260.28 555 259.5C558.83 258.72 563.83 257.88 568 257.8C572.17 257.72 575.5 258.55 580 259C584.5 259.45 590 260.17 595 260.5C600 260.83 605 260.42 610 261C615 261.58 620 262.95 625 264C630 265.05 635.5 266.63 640 267.3C644.5 267.97 647.83 268 652 268C656.17 268 659.67 267.58 665 267.3C670.33 267.02 680.83 266.47 684 266.3" fill="none" stroke="#fff" stroke-width="5" stroke-linecap="round" stroke-linejoin="round"/>
<ellipse cx="488.65" cy="265.19" rx="3.82" ry="2.94" fill="#fff"/>
<ellipse cx="492.41" cy="264.01" rx="2.81" ry="2.16" fill="#fff"/>
<ellipse cx="496.32" cy="265.43" rx="3.79" ry="2.91" fill="#fff"/>
<ellipse cx="500.17" cy="264.28" rx="2.75" ry="2.12" fill="#fff"/>
<ellipse cx="509.91" cy="263.83" rx="3.06" ry="2.35" fill="#fff"/>
<ellipse cx="513.49" cy="264.02" rx="2.78" ry="2.14" fill="#fff"/>
<ellipse cx="530.22" cy="265.48" rx="3.77" ry="2.9" fill="#fff"/>
<ellipse cx="537.61" cy="265.33" rx="3.46" ry="2.66" fill="#fff"/>
<ellipse cx="542.28" cy="264.33" rx="4.02" ry="3.09" fill="#fff"/>
<ellipse cx="545.65" cy="263.54" rx="3.22" ry="2.48" fill="#fff"/>
<ellipse cx="548.68" cy="262.15" rx="3.26" ry="2.51" fill="#fff"/>
<ellipse cx="552.34" cy="259.45" rx="3.41" ry="2.62" fill="#fff"/>
<ellipse cx="555.62" cy="260.61" rx="3.81" ry="2.93" fill="#fff"/>
<ellipse cx="559.19" cy="258.48" rx="4.04" ry="3.11" fill="#fff"/>
<ellipse cx="562.27" cy="257.48" rx="3.07" ry="2.36" fill="#fff"/>
<ellipse cx="564.58" cy="258.26" rx="4.29" ry="3.3" fill="#fff"/>
<ellipse cx="568.7" cy="257.77" rx="4.36" ry="3.35" fill="#fff"/>
<ellipse cx="578.91" cy="260.03" rx="4.06" ry="3.13" fill="#fff"/>
<ellipse cx="585.52" cy="259.12" rx="3.36" ry="2.58" fill="#fff"/>
<ellipse cx="590.01" cy="258.95" rx="2.91" ry="2.24" fill="#fff"/>
<ellipse cx="610.67" cy="260.51" rx="2.77" ry="2.13" fill="#fff"/>
<ellipse cx="627.41" cy="264.22" rx="3.48" ry="2.68" fill="#fff"/>
<ellipse cx="631.35" cy="264.26" rx="3.47" ry="2.67" fill="#fff"/>
<ellipse cx="635.39" cy="266.33" rx="2.83" ry="2.18" fill="#fff"/>
<ellipse cx="641.75" cy="268.47" rx="3.88" ry="2.99" fill="#fff"/>
<ellipse cx="647.41" cy="268.56" rx="3.74" ry="2.88" fill="#fff"/>
<ellipse cx="651.07" cy="268.23" rx="3.91" ry="3.01" fill="#fff"/>
<ellipse cx="654.84" cy="268.75" rx="2.67" ry="2.05" fill="#fff"/>
<ellipse cx="659.38" cy="268.85" rx="3.55" ry="2.73" fill="#fff"/>
<ellipse cx="662.86" cy="268.17" rx="3.86" ry="2.97" fill="#fff"/>
<ellipse cx="666.36" cy="266.66" rx="3.46" ry="2.66" fill="#fff"/>
<ellipse cx="669.99" cy="266.46" rx="3.75" ry="2.89" fill="#fff"/>
<ellipse cx="676.23" cy="267.06" rx="2.89" ry="2.22" fill="#fff"/>
</g>
<path d="M484 300.5C486.67 300.92 494 302.17 500 303C506 303.83 513.33 304.75 520 305.5C526.67 306.25 534.17 307.08 540 307.5C545.83 307.92 550 308.12 555 308C560 307.88 565 307.17 570 306.8C575 306.43 580 306.13 585 305.8C590 305.47 595 305.13 600 304.8C605 304.47 610 304.1 615 303.8C620 303.5 625 303.27 630 303C635 302.73 640 302.48 645 302.2C650 301.92 655.83 301.42 660 301.3C664.17 301.18 666 301.3 670 301.5C674 301.7 681.67 302.33 684 302.5" fill="none" stroke="#8a8a8a" stroke-width="6.3" stroke-linecap="round" filter="url(#glow)" opacity="0.6"/>
<g filter="url(#bl)">
<path d="M485 301.82Q483.04 305.26 485.81 308.08" fill="none" stroke="#fff" stroke-width="0.74" stroke-linecap="round"/>
<ellipse cx="485.81" cy="308.08" rx="0.63" ry="1.02" fill="#fff" transform="rotate(172.53 485.81 308.08)"/>
<path d="M487.26 299.96Q489.18 298.51 490.15 296.31" fill="none" stroke="#fff" stroke-width="0.77" stroke-linecap="round"/>
<path d="M488.53 302.33Q491.04 306.56 491.18 311.47" fill="none" stroke="#fff" stroke-width="0.9" stroke-linecap="round"/>
<path d="M490.49 300.43Q490.49 297.75 492.86 296.51" fill="none" stroke="#fff" stroke-width="1.16" stroke-linecap="round"/>
<ellipse cx="492.86" cy="296.51" rx="0.95" ry="1.55" fill="#fff" transform="rotate(31.16 492.86 296.51)"/>
<path d="M491.93 300.58Q493.43 297.57 494.04 294.26" fill="none" stroke="#fff" stroke-width="0.89" stroke-linecap="round"/>
<ellipse cx="494.04" cy="294.26" rx="0.8" ry="1.3" fill="#fff" transform="rotate(18.45 494.04 294.26)"/>
<path d="M492.94 303.15Q490.19 306.21 491.17 310.2" fill="none" stroke="#fff" stroke-width="0.74" stroke-linecap="round"/>
<ellipse cx="491.17" cy="310.2" rx="0.89" ry="1.45" fill="#fff" transform="rotate(194.05 491.17 310.2)"/>
<path d="M494.82 303.45Q493.71 306.67 494.32 310.02" fill="none" stroke="#fff" stroke-width="0.74" stroke-linecap="round"/>
<path d="M495.83 303.44Q491.72 304.16 491.85 308.33" fill="none" stroke="#fff" stroke-width="0.91" stroke-linecap="round"/>
<ellipse cx="491.85" cy="308.33" rx="1.2" ry="1.95" fill="#fff" transform="rotate(219.15 491.85 308.33)"/>
<path d="M498.4 301.56Q499.45 299.27 498.92 296.8" fill="none" stroke="#fff" stroke-width="0.69" stroke-linecap="round"/>
<ellipse cx="498.92" cy="296.8" rx="1.07" ry="1.73" fill="#fff" transform="rotate(6.18 498.92 296.8)"/>
<path d="M499.88 304.19Q498.24 308.17 499.36 312.32" fill="none" stroke="#fff" stroke-width="0.94" stroke-linecap="round"/>
<path d="M501.17 304.33Q499.47 308.52 497.64 312.65" fill="none" stroke="#fff" stroke-width="1.02" stroke-linecap="round"/>
<ellipse cx="497.64" cy="312.65" rx="0.65" ry="1.05" fill="#fff" transform="rotate(203.01 497.64 312.65)"/>
<path d="M503.97 302.44Q506.59 298.99 508.58 295.14" fill="none" stroke="#fff" stroke-width="1.25" stroke-linecap="round"/>
<ellipse cx="508.58" cy="295.14" rx="1.23" ry="1.99" fill="#fff" transform="rotate(32.3 508.58 295.14)"/>
<path d="M504.42 304.72Q502.6 307.71 500.99 310.82" fill="none" stroke="#fff" stroke-width="1.12" stroke-linecap="round"/>
<ellipse cx="500.99" cy="310.82" rx="1.03" ry="1.68" fill="#fff" transform="rotate(209.34 500.99 310.82)"/>
<path d="M507.07 302.75Q505.85 300.34 508.26 299.11" fill="none" stroke="#fff" stroke-width="0.83" stroke-linecap="round"/>
<ellipse cx="508.26" cy="299.11" rx="1.09" ry="1.77" fill="#fff" transform="rotate(18.16 508.26 299.11)"/>
<path d="M508.65 305.28Q508.35 307.39 509.54 309.15" fill="none" stroke="#fff" stroke-width="1.2" stroke-linecap="round"/>
<ellipse cx="509.54" cy="309.15" rx="0.99" ry="1.61" fill="#fff" transform="rotate(167.08 509.54 309.15)"/>
<path d="M509.54 303.24Q507.17 302.18 507.78 299.66" fill="none" stroke="#fff" stroke-width="1.18" stroke-linecap="round"/>
<ellipse cx="507.78" cy="299.66" rx="0.99" ry="1.61" fill="#fff" transform="rotate(-26.13 507.78 299.66)"/>
<path d="M512.04 305.7Q510.92 311.04 514.38 315.26" fill="none" stroke="#fff" stroke-width="1.16" stroke-linecap="round"/>
<path d="M513.97 303.66Q514.31 300.83 516.35 298.83" fill="none" stroke="#fff" stroke-width="1.02" stroke-linecap="round"/>
<ellipse cx="516.35" cy="298.83" rx="1.23" ry="2" fill="#fff" transform="rotate(26.2 516.35 298.83)"/>
<path d="M515.07 303.74Q514.51 301.56 514.83 299.32" fill="none" stroke="#fff" stroke-width="1.08" stroke-linecap="round"/>
<ellipse cx="514.83" cy="299.32" rx="0.96" ry="1.56" fill="#fff" transform="rotate(-3.07 514.83 299.32)"/>
<path d="M516.87 303.94Q520.2 300.27 517.15 296.37" fill="none" stroke="#fff" stroke-width="0.73" stroke-linecap="round"/>
<path d="M518.17 306.48Q516.45 308.05 517.02 310.31" fill="none" stroke="#fff" stroke-width="0.86" stroke-linecap="round"/>
<path d="M520.33 306.71Q521.03 311.4 521.41 316.12" fill="none" stroke="#fff" stroke-width="1.11" stroke-linecap="round"/>
<path d="M522.25 306.86Q523.26 311.44 525.06 315.77" fill="none" stroke="#fff" stroke-width="0.91" stroke-linecap="round"/>
<path d="M523.49 304.7Q522.73 300.24 522.84 295.71" fill="none" stroke="#fff" stroke-width="0.71" stroke-linecap="round"/>
<ellipse cx="522.84" cy="295.71" rx="0.73" ry="1.18" fill="#fff" transform="rotate(-4.14 522.84 295.71)"/>
<path d="M525.54 304.92Q526.23 299.95 527.81 295.2" fill="none" stroke="#fff" stroke-width="0.72" stroke-linecap="round"/>
<ellipse cx="527.81" cy="295.2" rx="0.96" ry="1.56" fill="#fff" transform="rotate(13.13 527.81 295.2)"/>
<path d="M526.99 305.07Q525.98 302.3 527.15 299.59" fill="none" stroke="#fff" stroke-width="0.87" stroke-linecap="round"/>
<ellipse cx="527.15" cy="299.59" rx="1.15" ry="1.86" fill="#fff" transform="rotate(1.67 527.15 299.59)"/>
<path d="M528.55 307.65Q529.38 311.33 527.97 314.83" fill="none" stroke="#fff" stroke-width="0.94" stroke-linecap="round"/>
<ellipse cx="527.97" cy="314.83" rx="0.8" ry="1.29" fill="#fff" transform="rotate(184.61 527.97 314.83)"/>
<path d="M530.34 305.43Q531.18 302.45 530.34 299.48" fill="none" stroke="#fff" stroke-width="0.82" stroke-linecap="round"/>
<ellipse cx="530.34" cy="299.48" rx="0.72" ry="1.18" fill="#fff" transform="rotate(0 530.34 299.48)"/>
<path d="M531.4 307.82Q527.71 310.05 527.4 314.36" fill="none" stroke="#fff" stroke-width="1.24" stroke-linecap="round"/>
<ellipse cx="527.4" cy="314.36" rx="1.21" ry="1.97" fill="#fff" transform="rotate(211.48 527.4 314.36)"/>
<path d="M534.4 305.97Q538.22 304.88 537.86 300.92" fill="none" stroke="#fff" stroke-width="1.13" stroke-linecap="round"/>
<ellipse cx="537.86" cy="300.92" rx="0.68" ry="1.1" fill="#fff" transform="rotate(34.41 537.86 300.92)"/>
<path d="M535.92 308.21Q540.78 310.41 539.29 315.54" fill="none" stroke="#fff" stroke-width="1.25" stroke-linecap="round"/>
<ellipse cx="539.29" cy="315.54" rx="0.63" ry="1.02" fill="#fff" transform="rotate(155.26 539.29 315.54)"/>
<path d="M536.96 308.46Q535.55 312.85 535.87 317.45" fill="none" stroke="#fff" stroke-width="1.21" stroke-linecap="round"/>
<ellipse cx="535.87" cy="317.45" rx="0.74" ry="1.2" fill="#fff" transform="rotate(186.95 535.87 317.45)"/>
<path d="M538.91 308.6Q538.55 311.66 539.48 314.58" fill="none" stroke="#fff" stroke-width="1.22" stroke-linecap="round"/>
<path d="M539.93 306.48Q540.12 303.98 537.92 302.78" fill="none" stroke="#fff" stroke-width="0.8" stroke-linecap="round"/>
<ellipse cx="537.92" cy="302.78" rx="0.9" ry="1.46" fill="#fff" transform="rotate(-28.41 537.92 302.78)"/>
<path d="M542.54 308.8Q541.54 311.3 543.74 312.85" fill="none" stroke="#fff" stroke-width="1.14" stroke-linecap="round"/>
<ellipse cx="543.74" cy="312.85" rx="1.22" ry="1.98" fill="#fff" transform="rotate(163.44 543.74 312.85)"/>
<path d="M544.45 306.7Q546.03 303.6 547.72 300.57" fill="none" stroke="#fff" stroke-width="0.67" stroke-linecap="round"/>
<ellipse cx="547.72" cy="300.57" rx="1.14" ry="1.86" fill="#fff" transform="rotate(28.07 547.72 300.57)"/>
<path d="M545.73 309.04Q546.85 311.97 546.43 315.07" fill="none" stroke="#fff" stroke-width="0.79" stroke-linecap="round"/>
<ellipse cx="546.43" cy="315.07" rx="1.21" ry="1.97" fill="#fff" transform="rotate(173.34 546.43 315.07)"/>
<path d="M547.14 306.74Q547.23 304.5 546.63 302.34" fill="none" stroke="#fff" stroke-width="0.88" stroke-linecap="round"/>
<ellipse cx="546.63" cy="302.34" rx="1.16" ry="1.88" fill="#fff" transform="rotate(-6.73 546.63 302.34)"/>
<path d="M549.25 309.16Q552.45 313.87 551.61 319.5" fill="none" stroke="#fff" stroke-width="0.85" stroke-linecap="round"/>
<ellipse cx="551.61" cy="319.5" rx="1.23" ry="1.99" fill="#fff" transform="rotate(167.15 551.61 319.5)"/>
<path d="M550.99 309.18Q550.89 314.28 553.48 318.67" fill="none" stroke="#fff" stroke-width="1.08" stroke-linecap="round"/>
<ellipse cx="553.48" cy="318.67" rx="0.62" ry="1" fill="#fff" transform="rotate(165.26 553.48 318.67)"/>
<path d="M552.43 309.23Q555.39 313.11 552.76 317.23" fill="none" stroke="#fff" stroke-width="0.97" stroke-linecap="round"/>
<ellipse cx="552.76" cy="317.23" rx="0.81" ry="1.31" fill="#fff" transform="rotate(177.63 552.76 317.23)"/>
<path d="M556.22 309.09Q559.04 310.67 558.05 313.75" fill="none" stroke="#fff" stroke-width="0.67" stroke-linecap="round"/>
<ellipse cx="558.05" cy="313.75" rx="1.23" ry="2" fill="#fff" transform="rotate(158.54 558.05 313.75)"/>
<path d="M559.54 308.93Q557.73 313.25 561.71 315.71" fill="none" stroke="#fff" stroke-width="1.13" stroke-linecap="round"/>
<ellipse cx="561.71" cy="315.71" rx="0.88" ry="1.42" fill="#fff" transform="rotate(162.29 561.71 315.71)"/>
<path d="M560.8 308.84Q559.98 313.6 560.26 318.42" fill="none" stroke="#fff" stroke-width="0.97" stroke-linecap="round"/>
<ellipse cx="560.26" cy="318.42" rx="0.66" ry="1.07" fill="#fff" transform="rotate(183.24 560.26 318.42)"/>
<path d="M563.24 308.48Q563.75 310.94 565.84 312.33" fill="none" stroke="#fff" stroke-width="0.9" stroke-linecap="round"/>
<path d="M564.16 306.13Q563.61 303.78 563.76 301.37" fill="none" stroke="#fff" stroke-width="1.12" stroke-linecap="round"/>
<ellipse cx="563.76" cy="301.37" rx="0.95" ry="1.54" fill="#fff" transform="rotate(-4.81 563.76 301.37)"/>
<path d="M566 308.35Q563.93 310.81 566.22 313.06" fill="none" stroke="#fff" stroke-width="0.71" stroke-linecap="round"/>
<path d="M567.53 305.8Q569.16 303.63 567.14 301.81" fill="none" stroke="#fff" stroke-width="0.65" stroke-linecap="round"/>
<path d="M568.76 305.8Q564.77 303.84 565.3 299.43" fill="none" stroke="#fff" stroke-width="0.96" stroke-linecap="round"/>
<ellipse cx="565.3" cy="299.43" rx="1.02" ry="1.66" fill="#fff" transform="rotate(-28.56 565.3 299.43)"/>
<path d="M571.77 307.67Q572.83 313.21 577.95 315.57" fill="none" stroke="#fff" stroke-width="0.82" stroke-linecap="round"/>
<path d="M572.3 307.73Q570.01 309.34 570.68 312.06" fill="none" stroke="#fff" stroke-width="1.23" stroke-linecap="round"/>
<ellipse cx="570.68" cy="312.06" rx="1.19" ry="1.94" fill="#fff" transform="rotate(200.55 570.68 312.06)"/>
<path d="M574.49 305.29Q573.86 302.58 574.79 299.96" fill="none" stroke="#fff" stroke-width="1.14" stroke-linecap="round"/>
<ellipse cx="574.79" cy="299.96" rx="1.15" ry="1.88" fill="#fff" transform="rotate(3.26 574.79 299.96)"/>
<path d="M576.43 307.54Q578.77 309.26 577.62 311.93" fill="none" stroke="#fff" stroke-width="0.85" stroke-linecap="round"/>
<ellipse cx="577.62" cy="311.93" rx="0.79" ry="1.29" fill="#fff" transform="rotate(164.91 577.62 311.93)"/>
<path d="M577.3 307.35Q573.08 310.89 573.03 316.4" fill="none" stroke="#fff" stroke-width="0.79" stroke-linecap="round"/>
<ellipse cx="573.03" cy="316.4" rx="0.89" ry="1.45" fill="#fff" transform="rotate(205.29 573.03 316.4)"/>
<path d="M580.15 307.17Q580.13 309.45 582.19 310.42" fill="none" stroke="#fff" stroke-width="0.66" stroke-linecap="round"/>
<path d="M581.28 304.85Q583.31 301.85 581.67 298.62" fill="none" stroke="#fff" stroke-width="1.14" stroke-linecap="round"/>
<ellipse cx="581.67" cy="298.62" rx="0.89" ry="1.45" fill="#fff" transform="rotate(3.6 581.67 298.62)"/>
<path d="M583.35 304.82Q586 303.12 585.25 300.06" fill="none" stroke="#fff" stroke-width="1.15" stroke-linecap="round"/>
<ellipse cx="585.25" cy="300.06" rx="0.82" ry="1.33" fill="#fff" transform="rotate(21.77 585.25 300.06)"/>
<path d="M584.08 304.74Q581.58 303.78 582.4 301.23" fill="none" stroke="#fff" stroke-width="0.92" stroke-linecap="round"/>
<path d="M586.51 304.53Q586.28 302 587.36 299.7" fill="none" stroke="#fff" stroke-width="0.75" stroke-linecap="round"/>
<ellipse cx="587.36" cy="299.7" rx="1.18" ry="1.91" fill="#fff" transform="rotate(10.03 587.36 299.7)"/>
<path d="M587.47 306.68Q588.3 310.31 584.92 311.88" fill="none" stroke="#fff" stroke-width="0.73" stroke-linecap="round"/>
<ellipse cx="584.92" cy="311.88" rx="1.09" ry="1.77" fill="#fff" transform="rotate(206.07 584.92 311.88)"/>
<path d="M589.06 304.46Q585.06 302.9 585.51 298.62" fill="none" stroke="#fff" stroke-width="0.68" stroke-linecap="round"/>
<path d="M590.89 304.28Q588.22 300.49 587.13 295.98" fill="none" stroke="#fff" stroke-width="1.13" stroke-linecap="round"/>
<ellipse cx="587.13" cy="295.98" rx="0.72" ry="1.18" fill="#fff" transform="rotate(-24.39 587.13 295.98)"/>
<path d="M592.52 306.32Q593.68 312.08 588.25 314.35" fill="none" stroke="#fff" stroke-width="0.68" stroke-linecap="round"/>
<ellipse cx="588.25" cy="314.35" rx="0.61" ry="0.99" fill="#fff" transform="rotate(207.99 588.25 314.35)"/>
<path d="M594.33 306.26Q593.46 309.59 591.75 312.59" fill="none" stroke="#fff" stroke-width="1.11" stroke-linecap="round"/>
<ellipse cx="591.75" cy="312.59" rx="0.88" ry="1.44" fill="#fff" transform="rotate(202.13 591.75 312.59)"/>
<path d="M596.05 306.16Q595.82 308.46 594.46 310.32" fill="none" stroke="#fff" stroke-width="1.2" stroke-linecap="round"/>
<ellipse cx="594.46" cy="310.32" rx="1.13" ry="1.84" fill="#fff" transform="rotate(200.87 594.46 310.32)"/>
<path d="M598.27 303.73Q597.97 298.52 599.17 293.43" fill="none" stroke="#fff" stroke-width="1.24" stroke-linecap="round"/>
<path d="M599.95 303.61Q598.63 301.5 600.23 299.58" fill="none" stroke="#fff" stroke-width="0.69" stroke-linecap="round"/>
<ellipse cx="600.23" cy="299.58" rx="1.2" ry="1.96" fill="#fff" transform="rotate(3.95 600.23 299.58)"/>
<path d="M602.1 303.62Q601.11 297.31 606.74 294.29" fill="none" stroke="#fff" stroke-width="0.73" stroke-linecap="round"/>
<path d="M603.48 303.4Q602.19 300.9 604.3 299.04" fill="none" stroke="#fff" stroke-width="0.71" stroke-linecap="round"/>
<ellipse cx="604.3" cy="299.04" rx="0.97" ry="1.58" fill="#fff" transform="rotate(10.67 604.3 299.04)"/>
<path d="M605.43 303.36Q607.39 301.86 607.14 299.41" fill="none" stroke="#fff" stroke-width="0.87" stroke-linecap="round"/>
<ellipse cx="607.14" cy="299.41" rx="1.03" ry="1.68" fill="#fff" transform="rotate(23.36 607.14 299.41)"/>
<path d="M606.71 305.54Q604.93 308.65 607.02 311.56" fill="none" stroke="#fff" stroke-width="0.66" stroke-linecap="round"/>
<ellipse cx="607.02" cy="311.56" rx="0.62" ry="1.01" fill="#fff" transform="rotate(177.09 607.02 311.56)"/>
<path d="M608.12 305.41Q603.85 308.75 606.54 313.45" fill="none" stroke="#fff" stroke-width="0.76" stroke-linecap="round"/>
<ellipse cx="606.54" cy="313.45" rx="1.1" ry="1.79" fill="#fff" transform="rotate(191.09 606.54 313.45)"/>
<path d="M610.38 302.96Q611.14 299.1 612.6 295.45" fill="none" stroke="#fff" stroke-width="0.88" stroke-linecap="round"/>
<ellipse cx="612.6" cy="295.45" rx="0.86" ry="1.4" fill="#fff" transform="rotate(16.44 612.6 295.45)"/>
<path d="M611.46 302.84Q610.05 297.85 609.04 292.77" fill="none" stroke="#fff" stroke-width="1.12" stroke-linecap="round"/>
<path d="M614.02 304.94Q615.31 307.71 616.98 310.28" fill="none" stroke="#fff" stroke-width="1.14" stroke-linecap="round"/>
<ellipse cx="616.98" cy="310.28" rx="0.8" ry="1.3" fill="#fff" transform="rotate(150.93 616.98 310.28)"/>
<path d="M615.74 302.76Q618.17 300.52 618.92 297.31" fill="none" stroke="#fff" stroke-width="1.2" stroke-linecap="round"/>
<ellipse cx="618.92" cy="297.31" rx="0.88" ry="1.43" fill="#fff" transform="rotate(30.29 618.92 297.31)"/>
<path d="M616.94 302.5Q614.34 298.74 617.6 295.53" fill="none" stroke="#fff" stroke-width="0.77" stroke-linecap="round"/>
<path d="M618.3 302.42Q619.74 299.15 617.21 296.63" fill="none" stroke="#fff" stroke-width="0.89" stroke-linecap="round"/>
<path d="M620.52 304.67Q619.27 307.1 621.55 308.62" fill="none" stroke="#fff" stroke-width="0.81" stroke-linecap="round"/>
<ellipse cx="621.55" cy="308.62" rx="0.73" ry="1.18" fill="#fff" transform="rotate(165.5 621.55 308.62)"/>
<path d="M621.99 302.22Q619.05 297.16 622.58 292.49" fill="none" stroke="#fff" stroke-width="1.13" stroke-linecap="round"/>
<ellipse cx="622.58" cy="292.49" rx="1.2" ry="1.96" fill="#fff" transform="rotate(3.47 622.58 292.49)"/>
<path d="M623.59 304.53Q622.43 307.52 623.46 310.57" fill="none" stroke="#fff" stroke-width="1.03" stroke-linecap="round"/>
<path d="M625.08 304.42Q626.84 309.61 623.17 313.68" fill="none" stroke="#fff" stroke-width="0.93" stroke-linecap="round"/>
<path d="M627.28 301.99Q625.94 296.79 629.41 292.71" fill="none" stroke="#fff" stroke-width="1.07" stroke-linecap="round"/>
<path d="M628 302.1Q626.77 298.82 623.99 296.69" fill="none" stroke="#fff" stroke-width="1.15" stroke-linecap="round"/>
<path d="M630.51 304.17Q634.27 308.35 631.27 313.09" fill="none" stroke="#fff" stroke-width="0.75" stroke-linecap="round"/>
<ellipse cx="631.27" cy="313.09" rx="1.19" ry="1.94" fill="#fff" transform="rotate(175.15 631.27 313.09)"/>
<path d="M631.98 301.7Q631.98 297.31 631.03 293.03" fill="none" stroke="#fff" stroke-width="0.67" stroke-linecap="round"/>
<ellipse cx="631.03" cy="293.03" rx="0.86" ry="1.39" fill="#fff" transform="rotate(-6.21 631.03 293.03)"/>
<path d="M634.34 303.88Q637.51 305.99 637.26 309.79" fill="none" stroke="#fff" stroke-width="0.7" stroke-linecap="round"/>
<ellipse cx="637.26" cy="309.79" rx="1.14" ry="1.85" fill="#fff" transform="rotate(153.73 637.26 309.79)"/>
<path d="M635.87 301.57Q639.14 298.32 638.39 293.78" fill="none" stroke="#fff" stroke-width="0.95" stroke-linecap="round"/>
<ellipse cx="638.39" cy="293.78" rx="0.71" ry="1.15" fill="#fff" transform="rotate(17.9 638.39 293.78)"/>
<path d="M637.27 303.82Q638.82 307.35 637.66 311.02" fill="none" stroke="#fff" stroke-width="0.75" stroke-linecap="round"/>
<path d="M639.12 301.35Q640.72 299.49 639.88 297.17" fill="none" stroke="#fff" stroke-width="0.97" stroke-linecap="round"/>
<ellipse cx="639.88" cy="297.17" rx="1.15" ry="1.87" fill="#fff" transform="rotate(10.39 639.88 297.17)"/>
<path d="M640.19 303.57Q639.15 305.52 638.68 307.69" fill="none" stroke="#fff" stroke-width="0.76" stroke-linecap="round"/>
<ellipse cx="638.68" cy="307.69" rx="1.13" ry="1.83" fill="#fff" transform="rotate(200.04 638.68 307.69)"/>
<path d="M642.91 301.32Q647.81 299.51 647.09 294.34" fill="none" stroke="#fff" stroke-width="0.84" stroke-linecap="round"/>
<ellipse cx="647.09" cy="294.34" rx="0.84" ry="1.37" fill="#fff" transform="rotate(30.91 647.09 294.34)"/>
<path d="M644.09 303.45Q642.75 306.08 644.5 308.46" fill="none" stroke="#fff" stroke-width="0.98" stroke-linecap="round"/>
<path d="M645.46 303.34Q645.92 305.44 644.72 307.22" fill="none" stroke="#fff" stroke-width="0.78" stroke-linecap="round"/>
<ellipse cx="644.72" cy="307.22" rx="1.23" ry="2" fill="#fff" transform="rotate(190.82 644.72 307.22)"/>
<path d="M647.42 303.25Q650.01 308.24 647.76 313.39" fill="none" stroke="#fff" stroke-width="1.11" stroke-linecap="round"/>
<ellipse cx="647.76" cy="313.39" rx="0.64" ry="1.05" fill="#fff" transform="rotate(178.13 647.76 313.39)"/>
<path d="M648.87 300.76Q645.79 297.5 647.57 293.38" fill="none" stroke="#fff" stroke-width="0.75" stroke-linecap="round"/>
<ellipse cx="647.57" cy="293.38" rx="0.92" ry="1.49" fill="#fff" transform="rotate(-10.04 647.57 293.38)"/>
<path d="M650.34 302.94Q646.62 305.25 647.78 309.47" fill="none" stroke="#fff" stroke-width="0.96" stroke-linecap="round"/>
<ellipse cx="647.78" cy="309.47" rx="0.92" ry="1.5" fill="#fff" transform="rotate(201.39 647.78 309.47)"/>
<path d="M652.64 302.9Q656.59 306.5 653.77 311.04" fill="none" stroke="#fff" stroke-width="0.89" stroke-linecap="round"/>
<ellipse cx="653.77" cy="311.04" rx="0.64" ry="1.04" fill="#fff" transform="rotate(172.1 653.77 311.04)"/>
<path d="M655.93 300.29Q654.01 295.54 656.45 291.04" fill="none" stroke="#fff" stroke-width="1.03" stroke-linecap="round"/>
<ellipse cx="656.45" cy="291.04" rx="0.75" ry="1.21" fill="#fff" transform="rotate(3.21 656.45 291.04)"/>
<path d="M658.17 300.37Q657.78 297.74 660.27 296.82" fill="none" stroke="#fff" stroke-width="1.23" stroke-linecap="round"/>
<ellipse cx="660.27" cy="296.82" rx="1.07" ry="1.75" fill="#fff" transform="rotate(30.57 660.27 296.82)"/>
<path d="M659.23 300.12Q658.96 297.86 659.1 295.59" fill="none" stroke="#fff" stroke-width="1.19" stroke-linecap="round"/>
<ellipse cx="659.1" cy="295.59" rx="0.6" ry="0.98" fill="#fff" transform="rotate(-1.67 659.1 295.59)"/>
<path d="M661.56 302.32Q664.19 305.2 665.33 308.94" fill="none" stroke="#fff" stroke-width="1.08" stroke-linecap="round"/>
<ellipse cx="665.33" cy="308.94" rx="0.8" ry="1.3" fill="#fff" transform="rotate(150.33 665.33 308.94)"/>
<path d="M666.31 302.49Q667.84 304.19 667.15 306.37" fill="none" stroke="#fff" stroke-width="0.98" stroke-linecap="round"/>
<ellipse cx="667.15" cy="306.37" rx="0.95" ry="1.54" fill="#fff" transform="rotate(167.89 667.15 306.37)"/>
<path d="M668.07 302.55Q669.68 305.84 669.94 309.5" fill="none" stroke="#fff" stroke-width="1.1" stroke-linecap="round"/>
<ellipse cx="669.94" cy="309.5" rx="1.13" ry="1.83" fill="#fff" transform="rotate(164.96 669.94 309.5)"/>
<path d="M669.75 300.31Q669.13 295.09 672.14 290.79" fill="none" stroke="#fff" stroke-width="0.87" stroke-linecap="round"/>
<ellipse cx="672.14" cy="290.79" rx="1.08" ry="1.76" fill="#fff" transform="rotate(14.12 672.14 290.79)"/>
<path d="M670.63 302.64Q668.68 306.15 667.11 309.84" fill="none" stroke="#fff" stroke-width="0.82" stroke-linecap="round"/>
<ellipse cx="667.11" cy="309.84" rx="0.88" ry="1.43" fill="#fff" transform="rotate(206.05 667.11 309.84)"/>
<path d="M672.34 300.59Q670.46 299.01 670.41 296.56" fill="none" stroke="#fff" stroke-width="1.22" stroke-linecap="round"/>
<ellipse cx="670.41" cy="296.56" rx="0.88" ry="1.43" fill="#fff" transform="rotate(-25.49 670.41 296.56)"/>
<path d="M674.81 302.96Q673.41 306.82 676.29 309.73" fill="none" stroke="#fff" stroke-width="1.13" stroke-linecap="round"/>
<ellipse cx="676.29" cy="309.73" rx="0.96" ry="1.55" fill="#fff" transform="rotate(167.61 676.29 309.73)"/>
<path d="M676.91 300.91Q676.86 295.34 682 293.2" fill="none" stroke="#fff" stroke-width="1.19" stroke-linecap="round"/>
<ellipse cx="682" cy="293.2" rx="0.67" ry="1.09" fill="#fff" transform="rotate(33.49 682 293.2)"/>
<path d="M677.64 303.2Q675.3 304.74 676.63 307.21" fill="none" stroke="#fff" stroke-width="1.12" stroke-linecap="round"/>
<path d="M679.54 300.97Q681.09 298.44 679.16 296.2" fill="none" stroke="#fff" stroke-width="1.25" stroke-linecap="round"/>
<ellipse cx="679.16" cy="296.2" rx="0.96" ry="1.56" fill="#fff" transform="rotate(-4.53 679.16 296.2)"/>
<path d="M681.77 303.41Q684.97 305.41 684.04 309.06" fill="none" stroke="#fff" stroke-width="0.74" stroke-linecap="round"/>
<ellipse cx="684.04" cy="309.06" rx="0.66" ry="1.07" fill="#fff" transform="rotate(158.15 684.04 309.06)"/>
<path d="M682.62 303.56Q682.11 305.44 681.33 307.22" fill="none" stroke="#fff" stroke-width="1.1" stroke-linecap="round"/>
<ellipse cx="681.33" cy="307.22" rx="0.84" ry="1.37" fill="#fff" transform="rotate(199.5 681.33 307.22)"/>
<path d="M484 300.5C486.67 300.92 494 302.17 500 303C506 303.83 513.33 304.75 520 305.5C526.67 306.25 534.17 307.08 540 307.5C545.83 307.92 550 308.12 555 308C560 307.88 565 307.17 570 306.8C575 306.43 580 306.13 585 305.8C590 305.47 595 305.13 600 304.8C605 304.47 610 304.1 615 303.8C620 303.5 625 303.27 630 303C635 302.73 640 302.48 645 302.2C650 301.92 655.83 301.42 660 301.3C664.17 301.18 666 301.3 670 301.5C674 301.7 681.67 302.33 684 302.5" fill="none" stroke="#fff" stroke-width="4.8" stroke-linecap="round" stroke-linejoin="round"/>
<ellipse cx="486.09" cy="300.2" rx="3.99" ry="3.07" fill="#fff"/>
<ellipse cx="490.04" cy="301.92" rx="3.6" ry="2.77" fill="#fff"/>
<ellipse cx="499.49" cy="302.01" rx="2.82" ry="2.17" fill="#fff"/>
<ellipse cx="502.55" cy="304.17" rx="3.92" ry="3.02" fill="#fff"/>
<ellipse cx="505.65" cy="302.95" rx="3.92" ry="3.02" fill="#fff"/>
<ellipse cx="509.01" cy="304.77" rx="3.51" ry="2.7" fill="#fff"/>
<ellipse cx="513.21" cy="305.54" rx="4.08" ry="3.14" fill="#fff"/>
<ellipse cx="520.6" cy="305.77" rx="3.86" ry="2.97" fill="#fff"/>
<ellipse cx="523.92" cy="305.98" rx="2.77" ry="2.13" fill="#fff"/>
<ellipse cx="526.7" cy="307.3" rx="4.21" ry="3.24" fill="#fff"/>
<ellipse cx="533.69" cy="307.01" rx="3.48" ry="2.68" fill="#fff"/>
<ellipse cx="538.62" cy="306.3" rx="3.85" ry="2.96" fill="#fff"/>
<ellipse cx="548.21" cy="306.84" rx="2.64" ry="2.03" fill="#fff"/>
<ellipse cx="551.2" cy="308.27" rx="3.39" ry="2.61" fill="#fff"/>
<ellipse cx="555.53" cy="306.97" rx="3.66" ry="2.82" fill="#fff"/>
<ellipse cx="568.87" cy="306.66" rx="3.7" ry="2.84" fill="#fff"/>
<ellipse cx="572.98" cy="305.72" rx="2.58" ry="1.99" fill="#fff"/>
<ellipse cx="579.82" cy="305.02" rx="3.58" ry="2.76" fill="#fff"/>
<ellipse cx="582.98" cy="305.09" rx="3.36" ry="2.59" fill="#fff"/>
<ellipse cx="587.32" cy="304.82" rx="2.9" ry="2.23" fill="#fff"/>
<ellipse cx="594.22" cy="306.14" rx="3.92" ry="3.02" fill="#fff"/>
<ellipse cx="597" cy="305.3" rx="4.2" ry="3.23" fill="#fff"/>
<ellipse cx="604.54" cy="303.86" rx="2.58" ry="1.98" fill="#fff"/>
<ellipse cx="606.99" cy="303.73" rx="3.36" ry="2.58" fill="#fff"/>
<ellipse cx="611.77" cy="304.87" rx="2.66" ry="2.04" fill="#fff"/>
<ellipse cx="618.21" cy="303.75" rx="4.11" ry="3.16" fill="#fff"/>
<ellipse cx="621.06" cy="303.81" rx="3.12" ry="2.4" fill="#fff"/>
<ellipse cx="631.27" cy="303.62" rx="3.95" ry="3.04" fill="#fff"/>
<ellipse cx="636.11" cy="303.87" rx="4.18" ry="3.22" fill="#fff"/>
<ellipse cx="638.9" cy="303.12" rx="3.65" ry="2.8" fill="#fff"/>
<ellipse cx="643.2" cy="303.39" rx="3.29" ry="2.53" fill="#fff"/>
<ellipse cx="647.08" cy="301.75" rx="2.95" ry="2.27" fill="#fff"/>
<ellipse cx="649.16" cy="301.8" rx="3.45" ry="2.66" fill="#fff"/>
<ellipse cx="653.67" cy="302.3" rx="3.27" ry="2.51" fill="#fff"/>
<ellipse cx="663.95" cy="301.56" rx="3.86" ry="2.97" fill="#fff"/>
<ellipse cx="667.19" cy="302.41" rx="4.1" ry="3.16" fill="#fff"/>
<ellipse cx="669.82" cy="302.06" rx="3.12" ry="2.4" fill="#fff"/>
<ellipse cx="673.72" cy="301.71" rx="3.06" ry="2.35" fill="#fff"/>
<ellipse cx="677.79" cy="300.85" rx="3.36" ry="2.58" fill="#fff"/>
<ellipse cx="681.35" cy="302.5" rx="3.41" ry="2.63" fill="#fff"/>
</g>
<path d="M484 346C486.67 346.3 494.83 347.47 500 347.8C505.17 348.13 510 348.38 515 348C520 347.62 525 346.5 530 345.5C535 344.5 540.83 342.75 545 342C549.17 341.25 550.83 341.03 555 341C559.17 340.97 565 341.47 570 341.8C575 342.13 580 342.58 585 343C590 343.42 595 343.87 600 344.3C605 344.73 610 345.15 615 345.6C620 346.05 625.5 346.68 630 347C634.5 347.32 637.83 347.75 642 347.5C646.17 347.25 651.17 346.42 655 345.5C658.83 344.58 661.67 343.42 665 342C668.33 340.58 671.83 338.67 675 337C678.17 335.33 682.5 332.83 684 332" fill="none" stroke="#8a8a8a" stroke-width="6" stroke-linecap="round" filter="url(#glow)" opacity="0.6"/>
<g filter="url(#bl)">
<path d="M484.33 347.18Q482.16 351.66 480.06 356.18" fill="none" stroke="#fff" stroke-width="0.99" stroke-linecap="round"/>
<path d="M486.37 347.5Q488.52 351.05 485.5 353.89" fill="none" stroke="#fff" stroke-width="0.95" stroke-linecap="round"/>
<path d="M488.25 347.73Q491.37 351.67 488.47 355.78" fill="none" stroke="#fff" stroke-width="1.14" stroke-linecap="round"/>
<ellipse cx="488.47" cy="355.78" rx="0.99" ry="1.61" fill="#fff" transform="rotate(178.45 488.47 355.78)"/>
<path d="M490.15 345.57Q491.78 343.3 491.22 340.57" fill="none" stroke="#fff" stroke-width="1.06" stroke-linecap="round"/>
<path d="M493.35 348.35Q492.05 351.04 493.67 353.54" fill="none" stroke="#fff" stroke-width="1.18" stroke-linecap="round"/>
<ellipse cx="493.67" cy="353.54" rx="0.96" ry="1.55" fill="#fff" transform="rotate(176.46 493.67 353.54)"/>
<path d="M495.03 346.14Q492.85 343.26 495.3 340.6" fill="none" stroke="#fff" stroke-width="0.84" stroke-linecap="round"/>
<ellipse cx="495.3" cy="340.6" rx="0.68" ry="1.11" fill="#fff" transform="rotate(2.82 495.3 340.6)"/>
<path d="M497.25 346.48Q498.1 342.51 501.07 339.76" fill="none" stroke="#fff" stroke-width="1.12" stroke-linecap="round"/>
<path d="M497.95 346.54Q497.31 341.66 494.72 337.47" fill="none" stroke="#fff" stroke-width="1" stroke-linecap="round"/>
<path d="M500.44 346.67Q502.67 345.2 501.81 342.67" fill="none" stroke="#fff" stroke-width="1.05" stroke-linecap="round"/>
<path d="M501.95 349.09Q504.23 354.01 503.8 359.41" fill="none" stroke="#fff" stroke-width="0.83" stroke-linecap="round"/>
<ellipse cx="503.8" cy="359.41" rx="0.88" ry="1.42" fill="#fff" transform="rotate(169.85 503.8 359.41)"/>
<path d="M502.79 349.02Q501.8 352.21 499.32 354.45" fill="none" stroke="#fff" stroke-width="0.8" stroke-linecap="round"/>
<path d="M504.44 349.06Q502.87 354.09 498.6 357.17" fill="none" stroke="#fff" stroke-width="0.65" stroke-linecap="round"/>
<path d="M507.29 347.04Q509.72 342.7 511.05 337.9" fill="none" stroke="#fff" stroke-width="1.02" stroke-linecap="round"/>
<ellipse cx="511.05" cy="337.9" rx="0.72" ry="1.17" fill="#fff" transform="rotate(22.35 511.05 337.9)"/>
<path d="M508.49 349.38Q507.48 352.56 508.25 355.79" fill="none" stroke="#fff" stroke-width="1.21" stroke-linecap="round"/>
<ellipse cx="508.25" cy="355.79" rx="0.66" ry="1.07" fill="#fff" transform="rotate(182.13 508.25 355.79)"/>
<path d="M510.23 349.39Q509.17 352.88 510.22 356.37" fill="none" stroke="#fff" stroke-width="1.03" stroke-linecap="round"/>
<ellipse cx="510.22" cy="356.37" rx="0.99" ry="1.6" fill="#fff" transform="rotate(180.15 510.22 356.37)"/>
<path d="M511.64 349.32Q512.01 352.58 510.11 355.26" fill="none" stroke="#fff" stroke-width="1.2" stroke-linecap="round"/>
<ellipse cx="510.11" cy="355.26" rx="0.96" ry="1.56" fill="#fff" transform="rotate(194.43 510.11 355.26)"/>
<path d="M513.58 346.89Q514.08 343.48 513.29 340.13" fill="none" stroke="#fff" stroke-width="1.1" stroke-linecap="round"/>
<ellipse cx="513.29" cy="340.13" rx="1.01" ry="1.64" fill="#fff" transform="rotate(-2.52 513.29 340.13)"/>
<path d="M514.79 346.9Q513.55 345.29 512.98 343.34" fill="none" stroke="#fff" stroke-width="0.73" stroke-linecap="round"/>
<path d="M516.77 346.63Q517.86 344.13 515.84 342.3" fill="none" stroke="#fff" stroke-width="1.15" stroke-linecap="round"/>
<ellipse cx="515.84" cy="342.3" rx="0.85" ry="1.38" fill="#fff" transform="rotate(-12.12 515.84 342.3)"/>
<path d="M518.3 348.72Q516.59 350.95 516.48 353.75" fill="none" stroke="#fff" stroke-width="0.68" stroke-linecap="round"/>
<ellipse cx="516.48" cy="353.75" rx="0.9" ry="1.47" fill="#fff" transform="rotate(199.89 516.48 353.75)"/>
<path d="M519.72 346.35Q518.35 343.23 515.95 340.83" fill="none" stroke="#fff" stroke-width="0.9" stroke-linecap="round"/>
<ellipse cx="515.95" cy="340.83" rx="0.74" ry="1.2" fill="#fff" transform="rotate(-34.25 515.95 340.83)"/>
<path d="M522.13 348.26Q521.95 351.62 522.45 354.95" fill="none" stroke="#fff" stroke-width="1.08" stroke-linecap="round"/>
<ellipse cx="522.45" cy="354.95" rx="0.61" ry="0.99" fill="#fff" transform="rotate(177.23 522.45 354.95)"/>
<path d="M523.84 345.55Q525 343.69 524.15 341.66" fill="none" stroke="#fff" stroke-width="0.87" stroke-linecap="round"/>
<ellipse cx="524.15" cy="341.66" rx="0.63" ry="1.02" fill="#fff" transform="rotate(4.66 524.15 341.66)"/>
<path d="M525.68 347.6Q523.52 352.7 527.69 356.35" fill="none" stroke="#fff" stroke-width="0.9" stroke-linecap="round"/>
<ellipse cx="527.69" cy="356.35" rx="0.66" ry="1.07" fill="#fff" transform="rotate(167.05 527.69 356.35)"/>
<path d="M527.84 347.02Q528.82 349.25 530.83 350.64" fill="none" stroke="#fff" stroke-width="1.18" stroke-linecap="round"/>
<path d="M528.83 346.95Q527.73 350.37 529.35 353.57" fill="none" stroke="#fff" stroke-width="0.91" stroke-linecap="round"/>
<ellipse cx="529.35" cy="353.57" rx="0.8" ry="1.3" fill="#fff" transform="rotate(175.52 529.35 353.57)"/>
<path d="M532.06 346.26Q531.6 349.76 532 353.26" fill="none" stroke="#fff" stroke-width="1.23" stroke-linecap="round"/>
<ellipse cx="532" cy="353.26" rx="0.97" ry="1.57" fill="#fff" transform="rotate(180.51 532 353.26)"/>
<path d="M533.85 343.48Q533.35 341.1 534.33 338.88" fill="none" stroke="#fff" stroke-width="0.81" stroke-linecap="round"/>
<path d="M536.34 342.87Q532.08 341.1 531.93 336.48" fill="none" stroke="#fff" stroke-width="1.05" stroke-linecap="round"/>
<path d="M539.49 344.32Q540.8 348.88 545.24 350.57" fill="none" stroke="#fff" stroke-width="0.91" stroke-linecap="round"/>
<ellipse cx="545.24" cy="350.57" rx="0.62" ry="1" fill="#fff" transform="rotate(137.37 545.24 350.57)"/>
<path d="M541.58 343.77Q542.68 346.75 539.98 348.43" fill="none" stroke="#fff" stroke-width="1.17" stroke-linecap="round"/>
<path d="M543.29 341.12Q541.85 337.72 541.2 334.08" fill="none" stroke="#fff" stroke-width="0.98" stroke-linecap="round"/>
<path d="M545.95 342.96Q547.38 345.7 549.25 348.15" fill="none" stroke="#fff" stroke-width="1.17" stroke-linecap="round"/>
<ellipse cx="549.25" cy="348.15" rx="0.98" ry="1.6" fill="#fff" transform="rotate(147.57 549.25 348.15)"/>
<path d="M546.81 340.47Q547.42 335.63 545.46 331.18" fill="none" stroke="#fff" stroke-width="1.13" stroke-linecap="round"/>
<ellipse cx="545.46" cy="331.18" rx="1" ry="1.63" fill="#fff" transform="rotate(-8.25 545.46 331.18)"/>
<path d="M548.18 342.49Q546.3 344.47 546.12 347.19" fill="none" stroke="#fff" stroke-width="0.97" stroke-linecap="round"/>
<ellipse cx="546.12" cy="347.19" rx="0.97" ry="1.58" fill="#fff" transform="rotate(203.63 546.12 347.19)"/>
<path d="M550.75 342.33Q551.94 345.14 552.82 348.07" fill="none" stroke="#fff" stroke-width="0.78" stroke-linecap="round"/>
<ellipse cx="552.82" cy="348.07" rx="1.23" ry="1.99" fill="#fff" transform="rotate(160.23 552.82 348.07)"/>
<path d="M552.67 342.1Q553.09 344.33 554.87 345.73" fill="none" stroke="#fff" stroke-width="0.91" stroke-linecap="round"/>
<path d="M555.14 342.16Q555.85 344.75 553.96 346.66" fill="none" stroke="#fff" stroke-width="0.72" stroke-linecap="round"/>
<ellipse cx="553.96" cy="346.66" rx="0.63" ry="1.02" fill="#fff" transform="rotate(194.73 553.96 346.66)"/>
<path d="M556.87 339.86Q555.68 337.87 555.86 335.57" fill="none" stroke="#fff" stroke-width="0.78" stroke-linecap="round"/>
<path d="M559.45 340.05Q558.55 335.05 563.34 333.4" fill="none" stroke="#fff" stroke-width="0.89" stroke-linecap="round"/>
<ellipse cx="563.34" cy="333.4" rx="0.8" ry="1.3" fill="#fff" transform="rotate(30.37 563.34 333.4)"/>
<path d="M560.93 340.03Q561.19 337.71 562.43 335.73" fill="none" stroke="#fff" stroke-width="0.7" stroke-linecap="round"/>
<ellipse cx="562.43" cy="335.73" rx="0.89" ry="1.45" fill="#fff" transform="rotate(19.13 562.43 335.73)"/>
<path d="M562.33 342.46Q561.51 344.93 562.69 347.24" fill="none" stroke="#fff" stroke-width="1.23" stroke-linecap="round"/>
<ellipse cx="562.69" cy="347.24" rx="0.99" ry="1.61" fill="#fff" transform="rotate(175.69 562.69 347.24)"/>
<path d="M564.01 340.18Q563.13 337.52 564.34 334.99" fill="none" stroke="#fff" stroke-width="0.84" stroke-linecap="round"/>
<ellipse cx="564.34" cy="334.99" rx="0.66" ry="1.07" fill="#fff" transform="rotate(3.62 564.34 334.99)"/>
<path d="M565.91 342.66Q568.3 347.46 568.34 352.82" fill="none" stroke="#fff" stroke-width="1.19" stroke-linecap="round"/>
<ellipse cx="568.34" cy="352.82" rx="1.03" ry="1.68" fill="#fff" transform="rotate(166.54 568.34 352.82)"/>
<path d="M566.73 340.57Q566.98 337.81 564.48 336.62" fill="none" stroke="#fff" stroke-width="0.99" stroke-linecap="round"/>
<path d="M569.48 342.84Q570.42 346.33 572.26 349.44" fill="none" stroke="#fff" stroke-width="0.94" stroke-linecap="round"/>
<ellipse cx="572.26" cy="349.44" rx="0.61" ry="0.99" fill="#fff" transform="rotate(157.23 572.26 349.44)"/>
<path d="M571.45 340.9Q577.13 339.22 577.34 333.3" fill="none" stroke="#fff" stroke-width="0.84" stroke-linecap="round"/>
<path d="M572.96 343.04Q573.61 346.67 576.19 349.3" fill="none" stroke="#fff" stroke-width="0.69" stroke-linecap="round"/>
<ellipse cx="576.19" cy="349.3" rx="1.08" ry="1.75" fill="#fff" transform="rotate(152.71 576.19 349.3)"/>
<path d="M573.98 340.9Q575.29 337.49 573.3 334.42" fill="none" stroke="#fff" stroke-width="0.84" stroke-linecap="round"/>
<ellipse cx="573.3" cy="334.42" rx="0.86" ry="1.4" fill="#fff" transform="rotate(-5.99 573.3 334.42)"/>
<path d="M575.85 343.43Q574.73 345.77 576.05 347.99" fill="none" stroke="#fff" stroke-width="0.93" stroke-linecap="round"/>
<ellipse cx="576.05" cy="347.99" rx="0.69" ry="1.13" fill="#fff" transform="rotate(177.51 576.05 347.99)"/>
<path d="M578.25 341.43Q581.19 338.2 583.74 334.64" fill="none" stroke="#fff" stroke-width="0.95" stroke-linecap="round"/>
<path d="M579.75 341.45Q579.88 336.98 583.47 334.33" fill="none" stroke="#fff" stroke-width="1.17" stroke-linecap="round"/>
<ellipse cx="583.47" cy="334.33" rx="0.72" ry="1.17" fill="#fff" transform="rotate(27.62 583.47 334.33)"/>
<path d="M580.76 341.46Q578.99 338.47 580.13 335.18" fill="none" stroke="#fff" stroke-width="0.93" stroke-linecap="round"/>
<ellipse cx="580.13" cy="335.18" rx="0.98" ry="1.6" fill="#fff" transform="rotate(-5.79 580.13 335.18)"/>
<path d="M583.29 341.83Q586.35 339 588.18 335.26" fill="none" stroke="#fff" stroke-width="1.08" stroke-linecap="round"/>
<path d="M584.84 341.88Q584.62 338.3 587.73 336.5" fill="none" stroke="#fff" stroke-width="0.92" stroke-linecap="round"/>
<path d="M585.89 344.28Q584.27 347.14 585.54 350.18" fill="none" stroke="#fff" stroke-width="0.72" stroke-linecap="round"/>
<ellipse cx="585.54" cy="350.18" rx="0.87" ry="1.42" fill="#fff" transform="rotate(183.47 585.54 350.18)"/>
<path d="M587.5 342.04Q589.49 339.22 586.83 337.02" fill="none" stroke="#fff" stroke-width="0.66" stroke-linecap="round"/>
<ellipse cx="586.83" cy="337.02" rx="0.61" ry="0.99" fill="#fff" transform="rotate(-7.59 586.83 337.02)"/>
<path d="M589.06 344.53Q589.93 348.8 587.12 352.14" fill="none" stroke="#fff" stroke-width="0.89" stroke-linecap="round"/>
<path d="M591.64 342.47Q594.97 340.4 595.04 336.48" fill="none" stroke="#fff" stroke-width="1.12" stroke-linecap="round"/>
<ellipse cx="595.04" cy="336.48" rx="1.07" ry="1.74" fill="#fff" transform="rotate(29.58 595.04 336.48)"/>
<path d="M592.79 342.47Q592.15 338.3 593.15 334.21" fill="none" stroke="#fff" stroke-width="1.04" stroke-linecap="round"/>
<path d="M595.03 342.77Q597.65 338.42 600.1 333.98" fill="none" stroke="#fff" stroke-width="1.07" stroke-linecap="round"/>
<path d="M596.49 342.82Q594.95 339.32 598.22 337.35" fill="none" stroke="#fff" stroke-width="0.72" stroke-linecap="round"/>
<path d="M597.56 345.28Q597.48 349.75 595.65 353.82" fill="none" stroke="#fff" stroke-width="1.04" stroke-linecap="round"/>
<ellipse cx="595.65" cy="353.82" rx="0.69" ry="1.12" fill="#fff" transform="rotate(192.63 595.65 353.82)"/>
<path d="M599.5 345.46Q601.44 349.16 599.43 352.82" fill="none" stroke="#fff" stroke-width="0.73" stroke-linecap="round"/>
<path d="M600.62 343.36Q598.11 341.02 597.43 337.66" fill="none" stroke="#fff" stroke-width="0.77" stroke-linecap="round"/>
<ellipse cx="597.43" cy="337.66" rx="1.19" ry="1.94" fill="#fff" transform="rotate(-29.24 597.43 337.66)"/>
<path d="M603.4 343.46Q605.98 341.93 605.45 338.98" fill="none" stroke="#fff" stroke-width="1.03" stroke-linecap="round"/>
<ellipse cx="605.45" cy="338.98" rx="0.98" ry="1.6" fill="#fff" transform="rotate(24.55 605.45 338.98)"/>
<path d="M605.63 345.84Q605.55 351.57 600.33 353.92" fill="none" stroke="#fff" stroke-width="1.08" stroke-linecap="round"/>
<path d="M608.25 346.16Q612.46 350.62 610.6 356.47" fill="none" stroke="#fff" stroke-width="1.06" stroke-linecap="round"/>
<ellipse cx="610.6" cy="356.47" rx="1" ry="1.62" fill="#fff" transform="rotate(167.18 610.6 356.47)"/>
<path d="M609.69 343.93Q610.78 340.37 609.75 336.8" fill="none" stroke="#fff" stroke-width="0.98" stroke-linecap="round"/>
<ellipse cx="609.75" cy="336.8" rx="0.73" ry="1.19" fill="#fff" transform="rotate(0.47 609.75 336.8)"/>
<path d="M611.51 346.47Q615.48 350.11 612.45 354.56" fill="none" stroke="#fff" stroke-width="0.67" stroke-linecap="round"/>
<path d="M613.7 344.41Q613.17 338.87 618.39 336.93" fill="none" stroke="#fff" stroke-width="0.76" stroke-linecap="round"/>
<ellipse cx="618.39" cy="336.93" rx="1.1" ry="1.78" fill="#fff" transform="rotate(32.08 618.39 336.93)"/>
<path d="M614.7 344.38Q616.22 341.64 614.43 339.07" fill="none" stroke="#fff" stroke-width="1" stroke-linecap="round"/>
<ellipse cx="614.43" cy="339.07" rx="1.18" ry="1.92" fill="#fff" transform="rotate(-2.92 614.43 339.07)"/>
<path d="M616.53 346.93Q614.84 348.97 616.77 350.79" fill="none" stroke="#fff" stroke-width="0.94" stroke-linecap="round"/>
<ellipse cx="616.77" cy="350.79" rx="1.03" ry="1.67" fill="#fff" transform="rotate(176.39 616.77 350.79)"/>
<path d="M617.95 344.71Q616.64 341.44 616.83 337.93" fill="none" stroke="#fff" stroke-width="0.73" stroke-linecap="round"/>
<ellipse cx="616.83" cy="337.93" rx="0.93" ry="1.5" fill="#fff" transform="rotate(-9.33 616.83 337.93)"/>
<path d="M620.15 344.91Q622.87 341.77 622.11 337.68" fill="none" stroke="#fff" stroke-width="0.93" stroke-linecap="round"/>
<ellipse cx="622.11" cy="337.68" rx="0.93" ry="1.52" fill="#fff" transform="rotate(15.17 622.11 337.68)"/>
<path d="M622.07 345.16Q623.69 343.39 624.17 341.04" fill="none" stroke="#fff" stroke-width="0.83" stroke-linecap="round"/>
<ellipse cx="624.17" cy="341.04" rx="0.64" ry="1.04" fill="#fff" transform="rotate(26.97 624.17 341.04)"/>
<path d="M623.02 347.59Q621.15 349.24 622.37 351.41" fill="none" stroke="#fff" stroke-width="1.23" stroke-linecap="round"/>
<path d="M624.68 345.39Q621.99 343.12 623.64 340.02" fill="none" stroke="#fff" stroke-width="0.7" stroke-linecap="round"/>
<ellipse cx="623.64" cy="340.02" rx="0.74" ry="1.2" fill="#fff" transform="rotate(-10.95 623.64 340.02)"/>
<path d="M626.04 347.78Q625.22 350.93 623.06 353.35" fill="none" stroke="#fff" stroke-width="0.93" stroke-linecap="round"/>
<path d="M628.93 345.85Q630.04 340.35 634.49 336.94" fill="none" stroke="#fff" stroke-width="1.15" stroke-linecap="round"/>
<path d="M630.31 345.84Q629.36 341.28 632.51 337.84" fill="none" stroke="#fff" stroke-width="1.24" stroke-linecap="round"/>
<ellipse cx="632.51" cy="337.84" rx="1.23" ry="1.99" fill="#fff" transform="rotate(15.4 632.51 337.84)"/>
<path d="M632.21 346.05Q632.91 344.04 634.05 342.23" fill="none" stroke="#fff" stroke-width="0.78" stroke-linecap="round"/>
<ellipse cx="634.05" cy="342.23" rx="1.02" ry="1.66" fill="#fff" transform="rotate(25.77 634.05 342.23)"/>
<path d="M632.92 348.37Q632 353.4 629.1 357.61" fill="none" stroke="#fff" stroke-width="0.75" stroke-linecap="round"/>
<path d="M635.56 346.3Q637.69 342.96 638.74 339.14" fill="none" stroke="#fff" stroke-width="0.77" stroke-linecap="round"/>
<ellipse cx="638.74" cy="339.14" rx="1.02" ry="1.67" fill="#fff" transform="rotate(23.96 638.74 339.14)"/>
<path d="M637.12 348.65Q641.99 351.83 639.69 357.17" fill="none" stroke="#fff" stroke-width="0.78" stroke-linecap="round"/>
<ellipse cx="639.69" cy="357.17" rx="0.78" ry="1.27" fill="#fff" transform="rotate(163.24 639.69 357.17)"/>
<path d="M637.88 348.61Q634.83 350.3 634.92 353.79" fill="none" stroke="#fff" stroke-width="1.11" stroke-linecap="round"/>
<ellipse cx="634.92" cy="353.79" rx="0.95" ry="1.55" fill="#fff" transform="rotate(209.72 634.92 353.79)"/>
<path d="M639.66 346.49Q638.28 344.12 637.31 341.56" fill="none" stroke="#fff" stroke-width="0.84" stroke-linecap="round"/>
<ellipse cx="637.31" cy="341.56" rx="0.83" ry="1.35" fill="#fff" transform="rotate(-25.47 637.31 341.56)"/>
<path d="M641.71 346.32Q640.71 342.85 640.73 339.24" fill="none" stroke="#fff" stroke-width="0.73" stroke-linecap="round"/>
<ellipse cx="640.73" cy="339.24" rx="0.81" ry="1.31" fill="#fff" transform="rotate(-7.85 640.73 339.24)"/>
<path d="M644.2 348.4Q645.2 351.23 647.31 353.37" fill="none" stroke="#fff" stroke-width="0.89" stroke-linecap="round"/>
<ellipse cx="647.31" cy="353.37" rx="0.99" ry="1.6" fill="#fff" transform="rotate(147.94 647.31 353.37)"/>
<path d="M645.56 346.05Q647.8 344.01 646.86 341.12" fill="none" stroke="#fff" stroke-width="0.8" stroke-linecap="round"/>
<ellipse cx="646.86" cy="341.12" rx="0.7" ry="1.14" fill="#fff" transform="rotate(14.74 646.86 341.12)"/>
<path d="M647.46 348.08Q648.36 351.09 650.16 353.67" fill="none" stroke="#fff" stroke-width="1.12" stroke-linecap="round"/>
<path d="M648.82 347.93Q651.12 351.04 649.91 354.72" fill="none" stroke="#fff" stroke-width="0.71" stroke-linecap="round"/>
<path d="M651.14 347.33Q651.78 351.57 656 352.32" fill="none" stroke="#fff" stroke-width="1.24" stroke-linecap="round"/>
<ellipse cx="656" cy="352.32" rx="1.04" ry="1.7" fill="#fff" transform="rotate(135.75 656 352.32)"/>
<path d="M653.74 344.62Q654.62 341 654.36 337.28" fill="none" stroke="#fff" stroke-width="1.18" stroke-linecap="round"/>
<ellipse cx="654.36" cy="337.28" rx="1.22" ry="1.99" fill="#fff" transform="rotate(4.82 654.36 337.28)"/>
<path d="M655.96 346.43Q658.26 347.22 658.11 349.65" fill="none" stroke="#fff" stroke-width="0.88" stroke-linecap="round"/>
<ellipse cx="658.11" cy="349.65" rx="0.79" ry="1.28" fill="#fff" transform="rotate(146.33 658.11 349.65)"/>
<path d="M657.74 345.88Q660.84 346.45 661.08 349.59" fill="none" stroke="#fff" stroke-width="0.84" stroke-linecap="round"/>
<ellipse cx="661.08" cy="349.59" rx="0.69" ry="1.12" fill="#fff" transform="rotate(137.97 661.08 349.59)"/>
<path d="M657.67 343.7Q652.42 342.69 650.78 337.6" fill="none" stroke="#fff" stroke-width="0.68" stroke-linecap="round"/>
<ellipse cx="650.78" cy="337.6" rx="1.16" ry="1.88" fill="#fff" transform="rotate(-48.43 650.78 337.6)"/>
<path d="M660.72 345.01Q662.6 349.04 664.79 352.92" fill="none" stroke="#fff" stroke-width="0.82" stroke-linecap="round"/>
<ellipse cx="664.79" cy="352.92" rx="1.01" ry="1.64" fill="#fff" transform="rotate(152.76 664.79 352.92)"/>
<path d="M662.72 344.06Q665.22 345.16 666.99 347.24" fill="none" stroke="#fff" stroke-width="1.2" stroke-linecap="round"/>
<ellipse cx="666.99" cy="347.24" rx="0.77" ry="1.25" fill="#fff" transform="rotate(126.73 666.99 347.24)"/>
<path d="M663.74 343.83Q665.34 345.53 665.16 347.85" fill="none" stroke="#fff" stroke-width="0.72" stroke-linecap="round"/>
<ellipse cx="665.16" cy="347.85" rx="0.82" ry="1.33" fill="#fff" transform="rotate(160.47 665.16 347.85)"/>
<path d="M665.26 343.19Q664.32 346.8 667.17 349.22" fill="none" stroke="#fff" stroke-width="0.73" stroke-linecap="round"/>
<path d="M666.25 340.17Q668.92 335.75 664.92 332.47" fill="none" stroke="#fff" stroke-width="0.8" stroke-linecap="round"/>
<path d="M667.05 339.88Q663.01 338.55 660.79 334.93" fill="none" stroke="#fff" stroke-width="0.89" stroke-linecap="round"/>
<ellipse cx="660.79" cy="334.93" rx="0.68" ry="1.1" fill="#fff" transform="rotate(-51.66 660.79 334.93)"/>
<path d="M670.03 340.96Q671.34 343.93 672.82 346.82" fill="none" stroke="#fff" stroke-width="1.1" stroke-linecap="round"/>
<path d="M671.76 340.05Q673.3 341.53 674.32 343.42" fill="none" stroke="#fff" stroke-width="1.07" stroke-linecap="round"/>
<ellipse cx="674.32" cy="343.42" rx="0.74" ry="1.2" fill="#fff" transform="rotate(142.72 674.32 343.42)"/>
<path d="M673.02 339.4Q673.8 341.73 675.01 343.86" fill="none" stroke="#fff" stroke-width="0.8" stroke-linecap="round"/>
<ellipse cx="675.01" cy="343.86" rx="0.64" ry="1.03" fill="#fff" transform="rotate(155.97 675.01 343.86)"/>
<path d="M674.06 338.71Q674.9 343.64 674.23 348.61" fill="none" stroke="#fff" stroke-width="0.75" stroke-linecap="round"/>
<ellipse cx="674.23" cy="348.61" rx="1.19" ry="1.94" fill="#fff" transform="rotate(179.02 674.23 348.61)"/>
<path d="M674.8 335.77Q675.06 332.46 671.79 331.91" fill="none" stroke="#fff" stroke-width="0.91" stroke-linecap="round"/>
<path d="M677.81 336.82Q680.78 337.89 681.33 340.99" fill="none" stroke="#fff" stroke-width="0.79" stroke-linecap="round"/>
<ellipse cx="681.33" cy="340.99" rx="1.17" ry="1.9" fill="#fff" transform="rotate(139.79 681.33 340.99)"/>
<path d="M678.94 336.21Q680.49 338.34 680.69 340.96" fill="none" stroke="#fff" stroke-width="0.66" stroke-linecap="round"/>
<ellipse cx="680.69" cy="340.96" rx="1.12" ry="1.82" fill="#fff" transform="rotate(159.75 680.69 340.96)"/>
<path d="M679.57 333.14Q676.07 331.29 677.42 327.58" fill="none" stroke="#fff" stroke-width="1.03" stroke-linecap="round"/>
<path d="M681.7 334.6Q683.01 338.42 683.09 342.47" fill="none" stroke="#fff" stroke-width="0.72" stroke-linecap="round"/>
<ellipse cx="683.09" cy="342.47" rx="1.01" ry="1.65" fill="#fff" transform="rotate(169.95 683.09 342.47)"/>
<path d="M683 333.78Q685.94 337.23 683.18 340.82" fill="none" stroke="#fff" stroke-width="1.06" stroke-linecap="round"/>
<ellipse cx="683.18" cy="340.82" rx="1.13" ry="1.83" fill="#fff" transform="rotate(178.53 683.18 340.82)"/>
<path d="M484 346C486.67 346.3 494.83 347.47 500 347.8C505.17 348.13 510 348.38 515 348C520 347.62 525 346.5 530 345.5C535 344.5 540.83 342.75 545 342C549.17 341.25 550.83 341.03 555 341C559.17 340.97 565 341.47 570 341.8C575 342.13 580 342.58 585 343C590 343.42 595 343.87 600 344.3C605 344.73 610 345.15 615 345.6C620 346.05 625.5 346.68 630 347C634.5 347.32 637.83 347.75 642 347.5C646.17 347.25 651.17 346.42 655 345.5C658.83 344.58 661.67 343.42 665 342C668.33 340.58 671.83 338.67 675 337C678.17 335.33 682.5 332.83 684 332" fill="none" stroke="#fff" stroke-width="4.5" stroke-linecap="round" stroke-linejoin="round"/>
<ellipse cx="486.31" cy="345.53" rx="3.46" ry="2.66" fill="#fff"/>
<ellipse cx="488.54" cy="345.74" rx="3.5" ry="2.7" fill="#fff"/>
<ellipse cx="493.45" cy="347.02" rx="3.8" ry="2.93" fill="#fff"/>
<ellipse cx="499.87" cy="347.23" rx="2.53" ry="1.95" fill="#fff"/>
<ellipse cx="502.15" cy="348.37" rx="3.53" ry="2.71" fill="#fff"/>
<ellipse cx="506.36" cy="348.73" rx="2.81" ry="2.16" fill="#fff"/>
<ellipse cx="513.72" cy="349.19" rx="2.86" ry="2.2" fill="#fff"/>
<ellipse cx="517.76" cy="348.41" rx="3.67" ry="2.82" fill="#fff"/>
<ellipse cx="521.17" cy="346.64" rx="2.58" ry="1.98" fill="#fff"/>
<ellipse cx="524.25" cy="347.76" rx="3.03" ry="2.33" fill="#fff"/>
<ellipse cx="528.01" cy="345.36" rx="2.46" ry="1.89" fill="#fff"/>
<ellipse cx="534.57" cy="345.29" rx="3.75" ry="2.89" fill="#fff"/>
<ellipse cx="538.04" cy="342.93" rx="2.67" ry="2.05" fill="#fff"/>
<ellipse cx="541.8" cy="341.87" rx="3.96" ry="3.05" fill="#fff"/>
<ellipse cx="543.64" cy="342.32" rx="2.47" ry="1.9" fill="#fff"/>
<ellipse cx="558.77" cy="341.04" rx="2.39" ry="1.84" fill="#fff"/>
<ellipse cx="561.27" cy="342.29" rx="2.73" ry="2.1" fill="#fff"/>
<ellipse cx="565.57" cy="342.01" rx="3.94" ry="3.03" fill="#fff"/>
<ellipse cx="573.27" cy="340.99" rx="3.73" ry="2.87" fill="#fff"/>
<ellipse cx="576.11" cy="342.92" rx="2.77" ry="2.13" fill="#fff"/>
<ellipse cx="583.17" cy="343.36" rx="3.96" ry="3.05" fill="#fff"/>
<ellipse cx="586.54" cy="343.84" rx="3.36" ry="2.58" fill="#fff"/>
<ellipse cx="589.41" cy="343.07" rx="2.88" ry="2.21" fill="#fff"/>
<ellipse cx="594.31" cy="344.9" rx="3.25" ry="2.5" fill="#fff"/>
<ellipse cx="596.96" cy="343.64" rx="3.01" ry="2.32" fill="#fff"/>
<ellipse cx="601.05" cy="344.21" rx="2.68" ry="2.06" fill="#fff"/>
<ellipse cx="603.28" cy="345.58" rx="3.32" ry="2.55" fill="#fff"/>
<ellipse cx="609.96" cy="344.73" rx="2.86" ry="2.2" fill="#fff"/>
<ellipse cx="624.86" cy="345.99" rx="3.28" ry="2.52" fill="#fff"/>
<ellipse cx="631.11" cy="347.8" rx="3.87" ry="2.98" fill="#fff"/>
<ellipse cx="635.75" cy="347.56" rx="2.42" ry="1.86" fill="#fff"/>
<ellipse cx="639.39" cy="347.88" rx="3.98" ry="3.06" fill="#fff"/>
<ellipse cx="641.25" cy="348.58" rx="3.78" ry="2.91" fill="#fff"/>
<ellipse cx="659.12" cy="344.28" rx="3.05" ry="2.34" fill="#fff"/>
<ellipse cx="668.03" cy="341.12" rx="3.58" ry="2.76" fill="#fff"/>
<ellipse cx="672.55" cy="338.52" rx="2.84" ry="2.19" fill="#fff"/>
<ellipse cx="675.61" cy="336.83" rx="2.49" ry="1.92" fill="#fff"/>
<ellipse cx="678.41" cy="336.36" rx="3" ry="2.31" fill="#fff"/>
</g>
<g filter="url(#bl)">
<path d="M484.44 399.9Q482.7 398.54 483.15 396.38" fill="none" stroke="#fff" stroke-width="1.1" stroke-linecap="round"/>
<ellipse cx="483.15" cy="396.38" rx="0.8" ry="1.31" fill="#fff" transform="rotate(-20.17 483.15 396.38)"/>
<path d="M486.87 399.92Q486.32 395.87 488.85 392.67" fill="none" stroke="#fff" stroke-width="0.92" stroke-linecap="round"/>
<ellipse cx="488.85" cy="392.67" rx="0.78" ry="1.27" fill="#fff" transform="rotate(15.33 488.85 392.67)"/>
<path d="M488.18 402.32Q486.62 405.22 487.85 408.28" fill="none" stroke="#fff" stroke-width="1.16" stroke-linecap="round"/>
<path d="M490.26 400.01Q492.31 397.7 491.69 394.68" fill="none" stroke="#fff" stroke-width="1.15" stroke-linecap="round"/>
<ellipse cx="491.69" cy="394.68" rx="1.11" ry="1.8" fill="#fff" transform="rotate(15.02 491.69 394.68)"/>
<path d="M491.12 402.3Q491.59 405.06 489.13 406.42" fill="none" stroke="#fff" stroke-width="1.22" stroke-linecap="round"/>
<ellipse cx="489.13" cy="406.42" rx="1.23" ry="2" fill="#fff" transform="rotate(205.85 489.13 406.42)"/>
<path d="M493.64 402.43Q494.35 404.21 494.56 406.12" fill="none" stroke="#fff" stroke-width="0.79" stroke-linecap="round"/>
<ellipse cx="494.56" cy="406.12" rx="0.93" ry="1.52" fill="#fff" transform="rotate(165.92 494.56 406.12)"/>
<path d="M495.63 402.37Q497.66 402.9 497.04 404.91" fill="none" stroke="#fff" stroke-width="1.24" stroke-linecap="round"/>
<ellipse cx="497.04" cy="404.91" rx="0.75" ry="1.22" fill="#fff" transform="rotate(150.92 497.04 404.91)"/>
<path d="M497.36 402.41Q501.17 404.75 501.39 409.21" fill="none" stroke="#fff" stroke-width="0.69" stroke-linecap="round"/>
<path d="M498.28 402.63Q496.7 404.52 497.69 406.78" fill="none" stroke="#fff" stroke-width="1" stroke-linecap="round"/>
<ellipse cx="497.69" cy="406.78" rx="0.64" ry="1.04" fill="#fff" transform="rotate(187.99 497.69 406.78)"/>
<path d="M499.66 400.41Q497.61 398.65 497.69 395.94" fill="none" stroke="#fff" stroke-width="1.2" stroke-linecap="round"/>
<path d="M501.35 402.7Q500.9 406.59 498.33 409.55" fill="none" stroke="#fff" stroke-width="1.07" stroke-linecap="round"/>
<ellipse cx="498.33" cy="409.55" rx="0.68" ry="1.11" fill="#fff" transform="rotate(203.82 498.33 409.55)"/>
<path d="M504.13 400.68Q506.38 397.35 508.14 393.74" fill="none" stroke="#fff" stroke-width="1.2" stroke-linecap="round"/>
<ellipse cx="508.14" cy="393.74" rx="0.92" ry="1.5" fill="#fff" transform="rotate(29.98 508.14 393.74)"/>
<path d="M504.81 400.73Q503.53 398.82 503.27 396.53" fill="none" stroke="#fff" stroke-width="0.94" stroke-linecap="round"/>
<ellipse cx="503.27" cy="396.53" rx="1.08" ry="1.76" fill="#fff" transform="rotate(-20.23 503.27 396.53)"/>
<path d="M507.66 401.05Q509.24 399.03 510.81 397.01" fill="none" stroke="#fff" stroke-width="0.92" stroke-linecap="round"/>
<path d="M510.91 403.27Q511.05 406.04 513.36 407.57" fill="none" stroke="#fff" stroke-width="1.11" stroke-linecap="round"/>
<ellipse cx="513.36" cy="407.57" rx="1.19" ry="1.93" fill="#fff" transform="rotate(150.3 513.36 407.57)"/>
<path d="M512.11 403.5Q512.69 404.97 512.34 406.51" fill="none" stroke="#fff" stroke-width="1.08" stroke-linecap="round"/>
<path d="M513.55 401.13Q512.97 398.66 512.86 396.12" fill="none" stroke="#fff" stroke-width="1.23" stroke-linecap="round"/>
<ellipse cx="512.86" cy="396.12" rx="0.86" ry="1.4" fill="#fff" transform="rotate(-7.84 512.86 396.12)"/>
<path d="M514.8 403.31Q513.98 406.08 511.94 408.11" fill="none" stroke="#fff" stroke-width="1.12" stroke-linecap="round"/>
<path d="M516.72 401.06Q516.03 398.61 515.05 396.26" fill="none" stroke="#fff" stroke-width="1.04" stroke-linecap="round"/>
<ellipse cx="515.05" cy="396.26" rx="1.05" ry="1.71" fill="#fff" transform="rotate(-19.17 515.05 396.26)"/>
<path d="M518.99 400.88Q517.4 398.7 519.56 397.09" fill="none" stroke="#fff" stroke-width="1.19" stroke-linecap="round"/>
<path d="M520.81 400.74Q520.34 398.57 521.84 396.94" fill="none" stroke="#fff" stroke-width="1.06" stroke-linecap="round"/>
<ellipse cx="521.84" cy="396.94" rx="0.62" ry="1.01" fill="#fff" transform="rotate(15.19 521.84 396.94)"/>
<path d="M522.4 400.52Q522.77 399.08 522.92 397.6" fill="none" stroke="#fff" stroke-width="0.73" stroke-linecap="round"/>
<path d="M524.15 400.31Q525.81 397.67 525.53 394.56" fill="none" stroke="#fff" stroke-width="0.95" stroke-linecap="round"/>
<ellipse cx="525.53" cy="394.56" rx="0.75" ry="1.22" fill="#fff" transform="rotate(13.47 525.53 394.56)"/>
<path d="M525.05 402.33Q523.37 403.65 523.47 405.78" fill="none" stroke="#fff" stroke-width="1.21" stroke-linecap="round"/>
<ellipse cx="523.47" cy="405.78" rx="1.2" ry="1.96" fill="#fff" transform="rotate(204.66 523.47 405.78)"/>
<path d="M527.7 399.87Q531.94 397.43 530.77 392.68" fill="none" stroke="#fff" stroke-width="0.79" stroke-linecap="round"/>
<ellipse cx="530.77" cy="392.68" rx="0.63" ry="1.03" fill="#fff" transform="rotate(23.07 530.77 392.68)"/>
<path d="M528.09 399.81Q527.36 397.13 524.74 396.21" fill="none" stroke="#fff" stroke-width="1.17" stroke-linecap="round"/>
<path d="M530.75 401.58Q533.27 404.33 531.61 407.66" fill="none" stroke="#fff" stroke-width="1.02" stroke-linecap="round"/>
<ellipse cx="531.61" cy="407.66" rx="1.05" ry="1.71" fill="#fff" transform="rotate(172 531.61 407.66)"/>
<path d="M533.08 400.94Q533.17 403.16 535.39 403.37" fill="none" stroke="#fff" stroke-width="0.65" stroke-linecap="round"/>
<ellipse cx="535.39" cy="403.37" rx="1.03" ry="1.68" fill="#fff" transform="rotate(136.52 535.39 403.37)"/>
<path d="M534.31 398.57Q536.58 395.03 536.99 390.84" fill="none" stroke="#fff" stroke-width="0.95" stroke-linecap="round"/>
<ellipse cx="536.99" cy="390.84" rx="0.82" ry="1.33" fill="#fff" transform="rotate(19.15 536.99 390.84)"/>
<path d="M535.26 400.47Q533.19 402.11 534.17 404.56" fill="none" stroke="#fff" stroke-width="0.97" stroke-linecap="round"/>
<ellipse cx="534.17" cy="404.56" rx="0.94" ry="1.52" fill="#fff" transform="rotate(194.91 534.17 404.56)"/>
<path d="M536.32 398.08Q535.5 396.31 533.65 395.68" fill="none" stroke="#fff" stroke-width="0.83" stroke-linecap="round"/>
<ellipse cx="533.65" cy="395.68" rx="0.78" ry="1.27" fill="#fff" transform="rotate(-48 533.65 395.68)"/>
<path d="M538.77 397.23Q538.76 394 538.36 390.8" fill="none" stroke="#fff" stroke-width="0.9" stroke-linecap="round"/>
<ellipse cx="538.36" cy="390.8" rx="0.92" ry="1.49" fill="#fff" transform="rotate(-3.67 538.36 390.8)"/>
<path d="M540.07 396.83Q539.49 395.11 538.83 393.42" fill="none" stroke="#fff" stroke-width="0.91" stroke-linecap="round"/>
<ellipse cx="538.83" cy="393.42" rx="1.11" ry="1.81" fill="#fff" transform="rotate(-20.05 538.83 393.42)"/>
<path d="M542.27 396.28Q543.45 392.99 543.15 389.5" fill="none" stroke="#fff" stroke-width="1.16" stroke-linecap="round"/>
<ellipse cx="543.15" cy="389.5" rx="0.65" ry="1.06" fill="#fff" transform="rotate(7.44 543.15 389.5)"/>
<path d="M544.03 395.8Q545.43 394.23 544.97 392.19" fill="none" stroke="#fff" stroke-width="1.16" stroke-linecap="round"/>
<ellipse cx="544.97" cy="392.19" rx="1.12" ry="1.81" fill="#fff" transform="rotate(14.5 544.97 392.19)"/>
<path d="M545.03 397.59Q546.58 402.18 542.91 405.32" fill="none" stroke="#fff" stroke-width="0.81" stroke-linecap="round"/>
<ellipse cx="542.91" cy="405.32" rx="1.15" ry="1.87" fill="#fff" transform="rotate(195.37 542.91 405.32)"/>
<path d="M546.13 395.01Q543.49 392.76 541.38 390" fill="none" stroke="#fff" stroke-width="0.76" stroke-linecap="round"/>
<ellipse cx="541.38" cy="390" rx="0.78" ry="1.26" fill="#fff" transform="rotate(-43.45 541.38 390)"/>
<path d="M549.16 396.35Q551.45 399.04 552.65 402.37" fill="none" stroke="#fff" stroke-width="0.9" stroke-linecap="round"/>
<ellipse cx="552.65" cy="402.37" rx="1.05" ry="1.7" fill="#fff" transform="rotate(149.94 552.65 402.37)"/>
<path d="M549.37 393.78Q549.51 391.26 546.99 390.98" fill="none" stroke="#fff" stroke-width="0.66" stroke-linecap="round"/>
<path d="M551.87 395.25Q553.66 398.07 552.63 401.25" fill="none" stroke="#fff" stroke-width="0.69" stroke-linecap="round"/>
<path d="M552.46 392.49Q547.78 391.75 547.39 387.02" fill="none" stroke="#fff" stroke-width="1.18" stroke-linecap="round"/>
<ellipse cx="547.39" cy="387.02" rx="0.9" ry="1.46" fill="#fff" transform="rotate(-42.82 547.39 387.02)"/>
<path d="M554.96 393.82Q553.79 395.39 555.31 396.62" fill="none" stroke="#fff" stroke-width="0.87" stroke-linecap="round"/>
<ellipse cx="555.31" cy="396.62" rx="1.12" ry="1.81" fill="#fff" transform="rotate(172.87 555.31 396.62)"/>
<path d="M557.13 392.71Q558.96 395.93 562.06 397.96" fill="none" stroke="#fff" stroke-width="1.01" stroke-linecap="round"/>
<ellipse cx="562.06" cy="397.96" rx="0.74" ry="1.2" fill="#fff" transform="rotate(136.77 562.06 397.96)"/>
<path d="M558.77 391.69Q561.29 394.98 565.24 396.24" fill="none" stroke="#fff" stroke-width="1.12" stroke-linecap="round"/>
<path d="M559.46 391.32Q559.24 394.05 560.37 396.55" fill="none" stroke="#fff" stroke-width="1.07" stroke-linecap="round"/>
<ellipse cx="560.37" cy="396.55" rx="1.16" ry="1.89" fill="#fff" transform="rotate(170.11 560.37 396.55)"/>
<path d="M561.15 390.38Q562.77 391.28 562.19 393.04" fill="none" stroke="#fff" stroke-width="0.76" stroke-linecap="round"/>
<path d="M561.19 387.71Q558.58 384.88 555 383.44" fill="none" stroke="#fff" stroke-width="0.67" stroke-linecap="round"/>
<ellipse cx="555" cy="383.44" rx="1.03" ry="1.68" fill="#fff" transform="rotate(-55.37 555 383.44)"/>
<path d="M564.95 385.34Q565.4 383.54 564.74 381.8" fill="none" stroke="#fff" stroke-width="0.67" stroke-linecap="round"/>
<ellipse cx="564.74" cy="381.8" rx="0.78" ry="1.26" fill="#fff" transform="rotate(-3.39 564.74 381.8)"/>
<path d="M566.91 386.68Q566.82 388.42 568.17 389.52" fill="none" stroke="#fff" stroke-width="0.89" stroke-linecap="round"/>
<ellipse cx="568.17" cy="389.52" rx="1" ry="1.63" fill="#fff" transform="rotate(156.05 568.17 389.52)"/>
<path d="M568.21 385.81Q571.43 388.13 570.11 391.87" fill="none" stroke="#fff" stroke-width="1.09" stroke-linecap="round"/>
<path d="M570.02 384.82Q571.19 386.18 572.06 387.76" fill="none" stroke="#fff" stroke-width="0.98" stroke-linecap="round"/>
<path d="M570.49 381.96Q570.43 378.99 568.69 376.59" fill="none" stroke="#fff" stroke-width="1.2" stroke-linecap="round"/>
<ellipse cx="568.69" cy="376.59" rx="0.61" ry="0.99" fill="#fff" transform="rotate(-18.51 568.69 376.59)"/>
<path d="M572.43 383.63Q572.71 385.11 572.42 386.58" fill="none" stroke="#fff" stroke-width="0.65" stroke-linecap="round"/>
<ellipse cx="572.42" cy="386.58" rx="0.93" ry="1.52" fill="#fff" transform="rotate(180.29 572.42 386.58)"/>
<path d="M574.19 380.64Q573.42 378.54 574.74 376.73" fill="none" stroke="#fff" stroke-width="0.91" stroke-linecap="round"/>
<ellipse cx="574.74" cy="376.73" rx="0.85" ry="1.39" fill="#fff" transform="rotate(8.06 574.74 376.73)"/>
<path d="M576.2 382.32Q576.29 386.18 579.45 388.39" fill="none" stroke="#fff" stroke-width="0.88" stroke-linecap="round"/>
<ellipse cx="579.45" cy="388.39" rx="0.62" ry="1.01" fill="#fff" transform="rotate(151.76 579.45 388.39)"/>
<path d="M576.92 379.6Q578.43 375.56 575.02 372.93" fill="none" stroke="#fff" stroke-width="1.01" stroke-linecap="round"/>
<ellipse cx="575.02" cy="372.93" rx="0.9" ry="1.47" fill="#fff" transform="rotate(-15.93 575.02 372.93)"/>
<path d="M578.77 381.48Q579.84 383.31 578.43 384.9" fill="none" stroke="#fff" stroke-width="1.15" stroke-linecap="round"/>
<ellipse cx="578.43" cy="384.9" rx="1.17" ry="1.9" fill="#fff" transform="rotate(185.58 578.43 384.9)"/>
<path d="M580.75 381.05Q580.41 384.01 581.81 386.65" fill="none" stroke="#fff" stroke-width="1.08" stroke-linecap="round"/>
<ellipse cx="581.81" cy="386.65" rx="0.94" ry="1.52" fill="#fff" transform="rotate(169.34 581.81 386.65)"/>
<path d="M581.84 378.35Q582.13 376.77 581 375.62" fill="none" stroke="#fff" stroke-width="1.15" stroke-linecap="round"/>
<ellipse cx="581" cy="375.62" rx="0.82" ry="1.33" fill="#fff" transform="rotate(-17.1 581 375.62)"/>
<path d="M583.86 377.98Q586.11 374.04 583.89 370.09" fill="none" stroke="#fff" stroke-width="0.67" stroke-linecap="round"/>
<path d="M586.33 379.79Q586.55 383.77 590.48 384.44" fill="none" stroke="#fff" stroke-width="0.67" stroke-linecap="round"/>
<path d="M587.03 377.44Q588.23 373.26 585.84 369.63" fill="none" stroke="#fff" stroke-width="0.9" stroke-linecap="round"/>
<ellipse cx="585.84" cy="369.63" rx="1.05" ry="1.7" fill="#fff" transform="rotate(-8.7 585.84 369.63)"/>
<path d="M588.46 379.51Q588.03 381.92 586.69 383.97" fill="none" stroke="#fff" stroke-width="0.79" stroke-linecap="round"/>
<path d="M590.06 377.09Q588.66 376.18 588.83 374.52" fill="none" stroke="#fff" stroke-width="1.23" stroke-linecap="round"/>
<path d="M592.91 378.99Q592.69 381.3 594.86 382.12" fill="none" stroke="#fff" stroke-width="0.78" stroke-linecap="round"/>
<path d="M593.74 376.61Q591.07 373.5 592.38 369.61" fill="none" stroke="#fff" stroke-width="0.85" stroke-linecap="round"/>
<path d="M595.03 376.61Q594.77 374.75 593.24 373.66" fill="none" stroke="#fff" stroke-width="0.74" stroke-linecap="round"/>
<ellipse cx="593.24" cy="373.66" rx="0.76" ry="1.24" fill="#fff" transform="rotate(-31.26 593.24 373.66)"/>
<path d="M597.7 378.66Q595.82 383.46 600.05 386.4" fill="none" stroke="#fff" stroke-width="0.9" stroke-linecap="round"/>
<path d="M598.4 376.39Q598.68 374.14 596.52 373.44" fill="none" stroke="#fff" stroke-width="0.96" stroke-linecap="round"/>
<path d="M600.67 376.09Q601.19 374.56 600.5 373.11" fill="none" stroke="#fff" stroke-width="1.11" stroke-linecap="round"/>
<ellipse cx="600.5" cy="373.11" rx="0.8" ry="1.3" fill="#fff" transform="rotate(-3.4 600.5 373.11)"/>
<path d="M603.16 378.14Q605.29 379.01 605.53 381.29" fill="none" stroke="#fff" stroke-width="0.98" stroke-linecap="round"/>
<ellipse cx="605.53" cy="381.29" rx="0.86" ry="1.39" fill="#fff" transform="rotate(143.13 605.53 381.29)"/>
<path d="M604.3 378.25Q606.01 380.81 605.04 383.74" fill="none" stroke="#fff" stroke-width="0.66" stroke-linecap="round"/>
<ellipse cx="605.04" cy="383.74" rx="0.97" ry="1.58" fill="#fff" transform="rotate(172.25 605.04 383.74)"/>
<path d="M606.44 377.96Q608.31 380.25 609.4 383" fill="none" stroke="#fff" stroke-width="0.86" stroke-linecap="round"/>
<ellipse cx="609.4" cy="383" rx="1.22" ry="1.99" fill="#fff" transform="rotate(149.58 609.4 383)"/>
<path d="M607.07 377.87Q607.96 381.03 605.12 382.66" fill="none" stroke="#fff" stroke-width="0.66" stroke-linecap="round"/>
<ellipse cx="605.12" cy="382.66" rx="1.16" ry="1.88" fill="#fff" transform="rotate(202.17 605.12 382.66)"/>
<path d="M609.49 377.74Q613.41 380.74 611.25 385.19" fill="none" stroke="#fff" stroke-width="0.86" stroke-linecap="round"/>
<ellipse cx="611.25" cy="385.19" rx="0.63" ry="1.03" fill="#fff" transform="rotate(166.66 611.25 385.19)"/>
<path d="M611.4 375.29Q612.39 373.28 613.28 371.23" fill="none" stroke="#fff" stroke-width="1.09" stroke-linecap="round"/>
<ellipse cx="613.28" cy="371.23" rx="1.18" ry="1.91" fill="#fff" transform="rotate(24.8 613.28 371.23)"/>
<path d="M612.63 377.4Q613.8 378.91 612.74 380.49" fill="none" stroke="#fff" stroke-width="1.15" stroke-linecap="round"/>
<ellipse cx="612.74" cy="380.49" rx="1.22" ry="1.98" fill="#fff" transform="rotate(178.06 612.74 380.49)"/>
<path d="M613.99 377.22Q614.22 379.16 613.1 380.77" fill="none" stroke="#fff" stroke-width="0.8" stroke-linecap="round"/>
<ellipse cx="613.1" cy="380.77" rx="1.14" ry="1.86" fill="#fff" transform="rotate(194.1 613.1 380.77)"/>
<path d="M615.55 374.85Q612.46 371.64 612.58 367.18" fill="none" stroke="#fff" stroke-width="0.87" stroke-linecap="round"/>
<ellipse cx="612.58" cy="367.18" rx="0.61" ry="0.99" fill="#fff" transform="rotate(-21.15 612.58 367.18)"/>
<path d="M617.69 374.78Q618.76 373.12 617.7 371.45" fill="none" stroke="#fff" stroke-width="0.69" stroke-linecap="round"/>
<ellipse cx="617.7" cy="371.45" rx="1.11" ry="1.8" fill="#fff" transform="rotate(0.23 617.7 371.45)"/>
<path d="M619.4 377.35Q617.21 380.32 619.53 383.19" fill="none" stroke="#fff" stroke-width="1.03" stroke-linecap="round"/>
<path d="M621.39 377.63Q623.06 378.79 622.34 380.69" fill="none" stroke="#fff" stroke-width="0.7" stroke-linecap="round"/>
<path d="M622.74 378.2Q624.07 379.52 622.94 381.01" fill="none" stroke="#fff" stroke-width="0.75" stroke-linecap="round"/>
<ellipse cx="622.94" cy="381.01" rx="0.91" ry="1.48" fill="#fff" transform="rotate(175.99 622.94 381.01)"/>
<path d="M624.22 376.47Q624.99 372.94 624.17 369.42" fill="none" stroke="#fff" stroke-width="0.87" stroke-linecap="round"/>
<path d="M626.37 377.35Q626.95 375.81 628.02 374.55" fill="none" stroke="#fff" stroke-width="0.89" stroke-linecap="round"/>
<path d="M626.58 380.13Q626.17 381.68 624.84 382.57" fill="none" stroke="#fff" stroke-width="0.74" stroke-linecap="round"/>
<ellipse cx="624.84" cy="382.57" rx="1.08" ry="1.76" fill="#fff" transform="rotate(215.57 624.84 382.57)"/>
<path d="M627.74 380.69Q626.23 381.26 625.12 382.42" fill="none" stroke="#fff" stroke-width="0.99" stroke-linecap="round"/>
<path d="M630.94 380.03Q632.33 378.96 633.16 377.39" fill="none" stroke="#fff" stroke-width="1.14" stroke-linecap="round"/>
<ellipse cx="633.16" cy="377.39" rx="0.91" ry="1.48" fill="#fff" transform="rotate(40.07 633.16 377.39)"/>
<path d="M631.19 383.04Q631.94 386.59 629.22 388.99" fill="none" stroke="#fff" stroke-width="1.14" stroke-linecap="round"/>
<ellipse cx="629.22" cy="388.99" rx="0.82" ry="1.33" fill="#fff" transform="rotate(198.39 629.22 388.99)"/>
<path d="M633.81 381.97Q637.94 380.96 638.69 376.77" fill="none" stroke="#fff" stroke-width="0.7" stroke-linecap="round"/>
<ellipse cx="638.69" cy="376.77" rx="1.11" ry="1.8" fill="#fff" transform="rotate(43.16 638.69 376.77)"/>
<path d="M633.96 384.87Q633.77 389.24 630.83 392.47" fill="none" stroke="#fff" stroke-width="0.68" stroke-linecap="round"/>
<ellipse cx="630.83" cy="392.47" rx="0.72" ry="1.17" fill="#fff" transform="rotate(202.42 630.83 392.47)"/>
<path d="M636.47 383.65Q636.66 380.96 638.94 379.51" fill="none" stroke="#fff" stroke-width="1.21" stroke-linecap="round"/>
<ellipse cx="638.94" cy="379.51" rx="0.61" ry="0.99" fill="#fff" transform="rotate(30.85 638.94 379.51)"/>
<path d="M638.28 384.93Q639.16 383.12 641.17 383" fill="none" stroke="#fff" stroke-width="1.06" stroke-linecap="round"/>
<ellipse cx="641.17" cy="383" rx="1.06" ry="1.73" fill="#fff" transform="rotate(56.28 641.17 383)"/>
<path d="M639.24 388.2Q637.76 388.77 636.97 390.14" fill="none" stroke="#fff" stroke-width="0.86" stroke-linecap="round"/>
<path d="M642.53 387.5Q645.22 387.08 646.05 384.49" fill="none" stroke="#fff" stroke-width="0.86" stroke-linecap="round"/>
<path d="M642.62 390.2Q640.95 392.82 640.13 395.82" fill="none" stroke="#fff" stroke-width="1.12" stroke-linecap="round"/>
<path d="M644.3 391.06Q644.44 393.75 643 396.03" fill="none" stroke="#fff" stroke-width="0.86" stroke-linecap="round"/>
<ellipse cx="643" cy="396.03" rx="0.93" ry="1.51" fill="#fff" transform="rotate(194.7 643 396.03)"/>
<path d="M645.17 391.38Q644.03 393.42 641.75 393.98" fill="none" stroke="#fff" stroke-width="1.03" stroke-linecap="round"/>
<path d="M648.44 390.48Q650.56 387.23 653.42 384.62" fill="none" stroke="#fff" stroke-width="0.72" stroke-linecap="round"/>
<path d="M649.34 393.31Q650.69 394.59 649.68 396.16" fill="none" stroke="#fff" stroke-width="0.69" stroke-linecap="round"/>
<path d="M651.64 392.06Q651.98 389.12 654.94 389.16" fill="none" stroke="#fff" stroke-width="0.76" stroke-linecap="round"/>
<path d="M653.2 392.81Q654.46 392 655.5 390.92" fill="none" stroke="#fff" stroke-width="0.98" stroke-linecap="round"/>
<ellipse cx="655.5" cy="390.92" rx="1.13" ry="1.84" fill="#fff" transform="rotate(50.56 655.5 390.92)"/>
<path d="M653.28 395.37Q653.49 397.7 651.53 398.96" fill="none" stroke="#fff" stroke-width="0.84" stroke-linecap="round"/>
<ellipse cx="651.53" cy="398.96" rx="1.08" ry="1.76" fill="#fff" transform="rotate(206.08 651.53 398.96)"/>
<path d="M656.92 396.9Q657.72 400.48 656.97 404.08" fill="none" stroke="#fff" stroke-width="1" stroke-linecap="round"/>
<ellipse cx="656.97" cy="404.08" rx="0.89" ry="1.44" fill="#fff" transform="rotate(179.6 656.97 404.08)"/>
<path d="M659.47 395.71Q660.71 394.95 661.89 394.1" fill="none" stroke="#fff" stroke-width="1.1" stroke-linecap="round"/>
<ellipse cx="661.89" cy="394.1" rx="1.01" ry="1.63" fill="#fff" transform="rotate(56.46 661.89 394.1)"/>
<path d="M661.02 396.33Q662.85 392.1 667.44 391.81" fill="none" stroke="#fff" stroke-width="0.8" stroke-linecap="round"/>
<ellipse cx="667.44" cy="391.81" rx="0.69" ry="1.12" fill="#fff" transform="rotate(54.89 667.44 391.81)"/>
<path d="M661.61 396.45Q660.09 394.94 661.57 393.4" fill="none" stroke="#fff" stroke-width="0.82" stroke-linecap="round"/>
<ellipse cx="661.57" cy="393.4" rx="1" ry="1.62" fill="#fff" transform="rotate(-0.71 661.57 393.4)"/>
<path d="M663.92 397.3Q665.68 394.4 667.95 391.87" fill="none" stroke="#fff" stroke-width="0.71" stroke-linecap="round"/>
<ellipse cx="667.95" cy="391.87" rx="0.81" ry="1.31" fill="#fff" transform="rotate(36.59 667.95 391.87)"/>
<path d="M663.96 399.72Q661.71 399.94 661.53 402.19" fill="none" stroke="#fff" stroke-width="1.13" stroke-linecap="round"/>
<ellipse cx="661.53" cy="402.19" rx="1.03" ry="1.68" fill="#fff" transform="rotate(224.46 661.53 402.19)"/>
<path d="M667.35 398.68Q671.11 397.91 672.75 394.43" fill="none" stroke="#fff" stroke-width="0.91" stroke-linecap="round"/>
<ellipse cx="672.75" cy="394.43" rx="0.67" ry="1.09" fill="#fff" transform="rotate(51.82 672.75 394.43)"/>
<path d="M667.16 400.76Q665.37 401.14 664.93 402.91" fill="none" stroke="#fff" stroke-width="0.73" stroke-linecap="round"/>
<path d="M669.23 401.53Q668.98 403.99 667.54 405.99" fill="none" stroke="#fff" stroke-width="0.94" stroke-linecap="round"/>
<ellipse cx="667.54" cy="405.99" rx="0.82" ry="1.33" fill="#fff" transform="rotate(200.77 667.54 405.99)"/>
<path d="M671.1 402.02Q670.06 405.77 669.79 409.66" fill="none" stroke="#fff" stroke-width="0.85" stroke-linecap="round"/>
<path d="M673.46 400.13Q675.52 399.04 675.03 396.76" fill="none" stroke="#fff" stroke-width="0.94" stroke-linecap="round"/>
<ellipse cx="675.03" cy="396.76" rx="0.82" ry="1.34" fill="#fff" transform="rotate(24.89 675.03 396.76)"/>
<path d="M674.59 400.39Q675.2 398.8 674.54 397.24" fill="none" stroke="#fff" stroke-width="1.24" stroke-linecap="round"/>
<path d="M676.15 400.75Q676.44 397.99 675.59 395.35" fill="none" stroke="#fff" stroke-width="0.89" stroke-linecap="round"/>
<path d="M678.38 401.16Q679.17 399.84 679.48 398.34" fill="none" stroke="#fff" stroke-width="0.93" stroke-linecap="round"/>
<path d="M680.06 401.51Q681.55 400.09 681.47 398.03" fill="none" stroke="#fff" stroke-width="0.7" stroke-linecap="round"/>
<ellipse cx="681.47" cy="398.03" rx="0.89" ry="1.45" fill="#fff" transform="rotate(22.02 681.47 398.03)"/>
<path d="M681.15 401.76Q681.27 399.87 680.77 398.05" fill="none" stroke="#fff" stroke-width="1.19" stroke-linecap="round"/>
<ellipse cx="680.77" cy="398.05" rx="0.89" ry="1.44" fill="#fff" transform="rotate(-5.93 680.77 398.05)"/>
<path d="M683.52 402.23Q684.77 401.25 684.93 399.68" fill="none" stroke="#fff" stroke-width="0.99" stroke-linecap="round"/>
<ellipse cx="684.93" cy="399.68" rx="0.66" ry="1.08" fill="#fff" transform="rotate(28.86 684.93 399.68)"/>
<path d="M484 401C486.67 401.08 494.83 401.28 500 401.5C505.17 401.72 510 402.47 515 402.3C520 402.13 525.5 401.3 530 400.5C534.5 399.7 538.17 398.67 542 397.5C545.83 396.33 549.67 395 553 393.5C556.33 392 559.17 390.17 562 388.5C564.83 386.83 567 384.92 570 383.5C573 382.08 576.33 380.92 580 380C583.67 379.08 587.83 378.5 592 378C596.17 377.5 600.67 377.33 605 377C609.33 376.67 614.5 375.75 618 376C621.5 376.25 623.33 377.25 626 378.5C628.67 379.75 631.33 381.83 634 383.5C636.67 385.17 639.33 387 642 388.5C644.67 390 647 391.08 650 392.5C653 393.92 656.67 395.67 660 397C663.33 398.33 666 399.42 670 400.5C674 401.58 681.67 403 684 403.5" fill="none" stroke="#fff" stroke-width="3.7" stroke-linecap="round" stroke-linejoin="round"/>
<ellipse cx="485.26" cy="401.31" rx="2" ry="1.54" fill="#fff"/>
<ellipse cx="492.61" cy="401.83" rx="2.12" ry="1.63" fill="#fff"/>
<ellipse cx="495.45" cy="402.53" rx="2.5" ry="1.93" fill="#fff"/>
<ellipse cx="499.06" cy="400.84" rx="2.6" ry="2" fill="#fff"/>
<ellipse cx="505.78" cy="401.13" rx="2.16" ry="1.66" fill="#fff"/>
<ellipse cx="513.46" cy="401.32" rx="2.3" ry="1.77" fill="#fff"/>
<ellipse cx="517.29" cy="402.94" rx="2.95" ry="2.27" fill="#fff"/>
<ellipse cx="521.63" cy="401.03" rx="3.23" ry="2.49" fill="#fff"/>
<ellipse cx="523.61" cy="401.58" rx="3.11" ry="2.39" fill="#fff"/>
<ellipse cx="531.85" cy="400.54" rx="2.58" ry="1.99" fill="#fff"/>
<ellipse cx="541.84" cy="398.72" rx="2.07" ry="1.59" fill="#fff"/>
<ellipse cx="553.67" cy="393.06" rx="2.3" ry="1.77" fill="#fff"/>
<ellipse cx="569.24" cy="383.59" rx="2.16" ry="1.66" fill="#fff"/>
<ellipse cx="572.56" cy="381.65" rx="2.74" ry="2.11" fill="#fff"/>
<ellipse cx="586.98" cy="377.88" rx="2.73" ry="2.1" fill="#fff"/>
<ellipse cx="592.31" cy="378.82" rx="2.6" ry="2" fill="#fff"/>
<ellipse cx="596.34" cy="376.57" rx="3.12" ry="2.4" fill="#fff"/>
<ellipse cx="599.63" cy="376.89" rx="2.11" ry="1.62" fill="#fff"/>
<ellipse cx="604.02" cy="376.73" rx="2.36" ry="1.82" fill="#fff"/>
<ellipse cx="614.39" cy="375.4" rx="2.83" ry="2.17" fill="#fff"/>
<ellipse cx="617.96" cy="375.01" rx="2.22" ry="1.7" fill="#fff"/>
<ellipse cx="627.68" cy="379" rx="2.84" ry="2.18" fill="#fff"/>
<ellipse cx="629.99" cy="380.91" rx="2.87" ry="2.2" fill="#fff"/>
<ellipse cx="638.06" cy="386.44" rx="2.61" ry="2.01" fill="#fff"/>
<ellipse cx="641.94" cy="389.41" rx="2.15" ry="1.66" fill="#fff"/>
<ellipse cx="647.33" cy="391.66" rx="2.09" ry="1.61" fill="#fff"/>
<ellipse cx="667.7" cy="400.9" rx="2.28" ry="1.75" fill="#fff"/>
<ellipse cx="671.96" cy="401.13" rx="2.16" ry="1.66" fill="#fff"/>
</g>
</g>
<rect x="655.8" y="371.7" width="20.4" height="1.7" fill="#fff"/>
<g clip-path="url(#cF2)">
<rect x="487.5" y="462" width="193" height="30" fill="#070707"/>
<path d="M520 470Q560 462 600 468T680 470" fill="none" stroke="#2a2a2a" stroke-width="1.6" filter="url(#bl2)"/>
<path d="M560 536Q572 528 590 526" fill="none" stroke="#303030" stroke-width="2" filter="url(#bl2)"/>
<path d="M650 505Q660 520 665 540" fill="none" stroke="#222" stroke-width="2" filter="url(#bl2)"/>
<path d="M484 435C485.83 435.5 490.67 436.75 495 438C499.33 439.25 505.5 441.17 510 442.5C514.5 443.83 517.83 445.17 522 446C526.17 446.83 530.67 447.42 535 447.5C539.33 447.58 543.83 447 548 446.5C552.17 446 556.33 445.17 560 444.5C563.67 443.83 568.33 442.83 570 442.5" fill="none" stroke="#7a7a7a" stroke-width="7" stroke-linecap="round" filter="url(#glow)" opacity="0.8"/>
<linearGradient id="gb1" gradientUnits="userSpaceOnUse" x1="488" y1="0" x2="600" y2="0"><stop offset="0" stop-color="#a6a6a6"/><stop offset="0.45" stop-color="#c8c8c8"/><stop offset="0.8" stop-color="#fff"/><stop offset="1" stop-color="#fff"/></linearGradient>
<g filter="url(#bl)">
<path d="M487.93 434.82Q490.43 432.01 488.78 428.64" fill="none" stroke="url(#gb1)" stroke-width="0.82" stroke-linecap="round"/>
<path d="M490.51 437.86Q492.93 441.43 492.03 445.66" fill="none" stroke="url(#gb1)" stroke-width="0.85" stroke-linecap="round"/>
<path d="M492.95 436.18Q492.41 434.39 493.41 432.8" fill="none" stroke="url(#gb1)" stroke-width="1.05" stroke-linecap="round"/>
<path d="M495.63 439.23Q495.92 441.42 496.88 443.41" fill="none" stroke="url(#gb1)" stroke-width="0.69" stroke-linecap="round"/>
<path d="M498.41 437.79Q499.69 434.73 501.85 432.2" fill="none" stroke="url(#gb1)" stroke-width="0.66" stroke-linecap="round"/>
<ellipse cx="501.85" cy="432.2" rx="0.97" ry="1.57" fill="url(#gb1)" transform="rotate(31.61 501.85 432.2)"/>
<path d="M500.72 438.45Q503.4 435.45 503.56 431.43" fill="none" stroke="url(#gb1)" stroke-width="1.19" stroke-linecap="round"/>
<ellipse cx="503.56" cy="431.43" rx="1.22" ry="1.98" fill="url(#gb1)" transform="rotate(22.04 503.56 431.43)"/>
<path d="M504.96 439.91Q503.75 436.6 503.31 433.11" fill="none" stroke="url(#gb1)" stroke-width="0.66" stroke-linecap="round"/>
<path d="M507.61 440.63Q506.11 438.15 507.04 435.41" fill="none" stroke="url(#gb1)" stroke-width="1.04" stroke-linecap="round"/>
<path d="M509.5 443.52Q506.38 444.35 506.42 447.58" fill="none" stroke="url(#gb1)" stroke-width="1.04" stroke-linecap="round"/>
<ellipse cx="506.42" cy="447.58" rx="0.83" ry="1.36" fill="url(#gb1)" transform="rotate(217.19 506.42 447.58)"/>
<path d="M512.85 442.15Q510.93 439.22 513.49 436.83" fill="none" stroke="url(#gb1)" stroke-width="0.86" stroke-linecap="round"/>
<path d="M517.88 446.09Q518.81 449.43 519.1 452.88" fill="none" stroke="url(#gb1)" stroke-width="0.86" stroke-linecap="round"/>
<ellipse cx="519.1" cy="452.88" rx="0.66" ry="1.07" fill="url(#gb1)" transform="rotate(169.83 519.1 452.88)"/>
<path d="M520.55 446.73Q519.52 449.28 521.85 450.74" fill="none" stroke="url(#gb1)" stroke-width="0.93" stroke-linecap="round"/>
<ellipse cx="521.85" cy="450.74" rx="1.1" ry="1.78" fill="url(#gb1)" transform="rotate(161.99 521.85 450.74)"/>
<path d="M522.29 445.02Q517.91 442.7 519.65 438.06" fill="none" stroke="url(#gb1)" stroke-width="0.9" stroke-linecap="round"/>
<ellipse cx="519.65" cy="438.06" rx="0.89" ry="1.45" fill="url(#gb1)" transform="rotate(-20.79 519.65 438.06)"/>
<path d="M525.79 447.67Q527.65 450.24 528.47 453.3" fill="none" stroke="url(#gb1)" stroke-width="1.17" stroke-linecap="round"/>
<ellipse cx="528.47" cy="453.3" rx="0.66" ry="1.08" fill="url(#gb1)" transform="rotate(154.57 528.47 453.3)"/>
<path d="M528.13 445.79Q529.8 444.36 528.98 442.32" fill="none" stroke="url(#gb1)" stroke-width="1.13" stroke-linecap="round"/>
<path d="M532.44 446.38Q529.55 445.42 530.23 442.45" fill="none" stroke="url(#gb1)" stroke-width="0.77" stroke-linecap="round"/>
<ellipse cx="530.23" cy="442.45" rx="0.8" ry="1.3" fill="url(#gb1)" transform="rotate(-29.3 530.23 442.45)"/>
<path d="M537.51 446.49Q536.61 444.5 534.97 443.06" fill="none" stroke="url(#gb1)" stroke-width="1.06" stroke-linecap="round"/>
<ellipse cx="534.97" cy="443.06" rx="1.11" ry="1.81" fill="url(#gb1)" transform="rotate(-36.55 534.97 443.06)"/>
<path d="M540.7 448.48Q541.77 450.46 540.34 452.2" fill="none" stroke="url(#gb1)" stroke-width="1.19" stroke-linecap="round"/>
<ellipse cx="540.34" cy="452.2" rx="1.18" ry="1.92" fill="url(#gb1)" transform="rotate(185.63 540.34 452.2)"/>
<path d="M543.14 448.21Q540.92 451.35 541.55 455.15" fill="none" stroke="url(#gb1)" stroke-width="1" stroke-linecap="round"/>
<ellipse cx="541.55" cy="455.15" rx="1.14" ry="1.86" fill="url(#gb1)" transform="rotate(192.93 541.55 455.15)"/>
<path d="M545.65 445.59Q542.2 442.79 543.58 438.56" fill="none" stroke="url(#gb1)" stroke-width="0.73" stroke-linecap="round"/>
<path d="M551.9 447Q553.37 450.19 556.16 452.33" fill="none" stroke="url(#gb1)" stroke-width="0.95" stroke-linecap="round"/>
<ellipse cx="556.16" cy="452.33" rx="1.01" ry="1.64" fill="url(#gb1)" transform="rotate(141.3 556.16 452.33)"/>
<path d="M553.91 446.83Q553.65 450 554.94 452.92" fill="none" stroke="url(#gb1)" stroke-width="0.7" stroke-linecap="round"/>
<ellipse cx="554.94" cy="452.92" rx="1.12" ry="1.82" fill="url(#gb1)" transform="rotate(170.46 554.94 452.92)"/>
<path d="M556.54 446.36Q559.28 450.31 558.49 455.06" fill="none" stroke="url(#gb1)" stroke-width="0.89" stroke-linecap="round"/>
<ellipse cx="558.49" cy="455.06" rx="0.9" ry="1.46" fill="url(#gb1)" transform="rotate(167.33 558.49 455.06)"/>
<path d="M559.15 445.87Q560.74 447.87 560.4 450.4" fill="none" stroke="url(#gb1)" stroke-width="0.77" stroke-linecap="round"/>
<ellipse cx="560.4" cy="450.4" rx="0.74" ry="1.21" fill="url(#gb1)" transform="rotate(164.53 560.4 450.4)"/>
<path d="M563.16 442.9Q559.03 440.59 557.29 436.2" fill="none" stroke="url(#gb1)" stroke-width="0.99" stroke-linecap="round"/>
<ellipse cx="557.29" cy="436.2" rx="0.62" ry="1.01" fill="url(#gb1)" transform="rotate(-41.21 557.29 436.2)"/>
<path d="M566.74 444.49Q571.61 448.42 568.68 453.93" fill="none" stroke="url(#gb1)" stroke-width="0.87" stroke-linecap="round"/>
<ellipse cx="568.68" cy="453.93" rx="0.88" ry="1.42" fill="url(#gb1)" transform="rotate(168.43 568.68 453.93)"/>
<path d="M568.24 441.86Q565.07 440.75 564.33 437.47" fill="none" stroke="url(#gb1)" stroke-width="1.16" stroke-linecap="round"/>
<ellipse cx="564.33" cy="437.47" rx="0.84" ry="1.36" fill="url(#gb1)" transform="rotate(-41.69 564.33 437.47)"/>
<path d="M574.19 442.09Q575.32 443.82 575.12 445.88" fill="none" stroke="url(#gb1)" stroke-width="0.81" stroke-linecap="round"/>
<ellipse cx="575.12" cy="445.88" rx="0.79" ry="1.28" fill="url(#gb1)" transform="rotate(166.14 575.12 445.88)"/>
<path d="M576.78 441.05Q582.06 444.11 580.62 450.04" fill="none" stroke="url(#gb1)" stroke-width="0.91" stroke-linecap="round"/>
<ellipse cx="580.62" cy="450.04" rx="0.96" ry="1.57" fill="url(#gb1)" transform="rotate(156.84 580.62 450.04)"/>
<path d="M578.05 438.43Q576.67 435.98 574.47 434.22" fill="none" stroke="url(#gb1)" stroke-width="1.16" stroke-linecap="round"/>
<ellipse cx="574.47" cy="434.22" rx="0.94" ry="1.53" fill="url(#gb1)" transform="rotate(-40.34 574.47 434.22)"/>
<path d="M581.23 437.79Q580.01 435.21 580.43 432.38" fill="none" stroke="url(#gb1)" stroke-width="0.73" stroke-linecap="round"/>
<ellipse cx="580.43" cy="432.38" rx="0.94" ry="1.53" fill="url(#gb1)" transform="rotate(-8.43 580.43 432.38)"/>
<path d="M589.66 437.4Q591.6 436.05 591.23 433.71" fill="none" stroke="url(#gb1)" stroke-width="1.19" stroke-linecap="round"/>
<path d="M591.67 437.34Q591.93 434.44 591.1 431.65" fill="none" stroke="url(#gb1)" stroke-width="0.86" stroke-linecap="round"/>
<ellipse cx="591.1" cy="431.65" rx="0.98" ry="1.59" fill="url(#gb1)" transform="rotate(-5.72 591.1 431.65)"/>
<path d="M597.26 437.78Q599.22 436.48 598.09 434.42" fill="none" stroke="url(#gb1)" stroke-width="0.71" stroke-linecap="round"/>
<ellipse cx="598.09" cy="434.42" rx="0.98" ry="1.59" fill="url(#gb1)" transform="rotate(13.93 598.09 434.42)"/>
<path d="M600.19 438.21Q601.67 437.08 602.04 435.25" fill="none" stroke="url(#gb1)" stroke-width="1.23" stroke-linecap="round"/>
<ellipse cx="602.04" cy="435.25" rx="1.16" ry="1.89" fill="url(#gb1)" transform="rotate(31.95 602.04 435.25)"/>
<path d="M604.82 438.68Q605.34 436.31 605.27 433.89" fill="none" stroke="url(#gb1)" stroke-width="1.03" stroke-linecap="round"/>
<path d="M607.73 441.42Q607.16 444.11 609.46 445.62" fill="none" stroke="url(#gb1)" stroke-width="0.68" stroke-linecap="round"/>
<ellipse cx="609.46" cy="445.62" rx="0.62" ry="1.01" fill="url(#gb1)" transform="rotate(157.65 609.46 445.62)"/>
<path d="M609.71 439.53Q609.04 437.5 609.27 435.37" fill="none" stroke="url(#gb1)" stroke-width="1.16" stroke-linecap="round"/>
<path d="M612.66 439.81Q610.46 435.16 614.26 431.69" fill="none" stroke="url(#gb1)" stroke-width="0.93" stroke-linecap="round"/>
<ellipse cx="614.26" cy="431.69" rx="0.77" ry="1.25" fill="url(#gb1)" transform="rotate(11.15 614.26 431.69)"/>
<path d="M616.83 439.44Q616.87 436.15 613.67 435.39" fill="none" stroke="url(#gb1)" stroke-width="0.97" stroke-linecap="round"/>
<ellipse cx="613.67" cy="435.39" rx="0.69" ry="1.12" fill="url(#gb1)" transform="rotate(-37.93 613.67 435.39)"/>
<path d="M623.41 439.41Q627.62 439.46 628.63 443.54" fill="none" stroke="url(#gb1)" stroke-width="0.93" stroke-linecap="round"/>
<ellipse cx="628.63" cy="443.54" rx="0.93" ry="1.51" fill="url(#gb1)" transform="rotate(128.34 628.63 443.54)"/>
<path d="M624.96 436.66Q625.11 434.87 625.02 433.08" fill="none" stroke="url(#gb1)" stroke-width="0.7" stroke-linecap="round"/>
<ellipse cx="625.02" cy="433.08" rx="0.95" ry="1.54" fill="url(#gb1)" transform="rotate(0.95 625.02 433.08)"/>
<path d="M629.93 434.94Q631.07 431.64 630.39 428.22" fill="none" stroke="url(#gb1)" stroke-width="1.05" stroke-linecap="round"/>
<path d="M632.54 436.59Q635.13 439.3 633.55 442.7" fill="none" stroke="url(#gb1)" stroke-width="0.81" stroke-linecap="round"/>
<ellipse cx="633.55" cy="442.7" rx="0.7" ry="1.13" fill="url(#gb1)" transform="rotate(170.66 633.55 442.7)"/>
<path d="M635.32 435.86Q637.69 437.22 637.01 439.86" fill="none" stroke="url(#gb1)" stroke-width="1.06" stroke-linecap="round"/>
<path d="M637.85 435.26Q637.22 437.46 639.23 438.57" fill="none" stroke="url(#gb1)" stroke-width="1.17" stroke-linecap="round"/>
<path d="M640.34 434.82Q642.22 436.93 642.06 439.75" fill="none" stroke="url(#gb1)" stroke-width="1.18" stroke-linecap="round"/>
<ellipse cx="642.06" cy="439.75" rx="1.09" ry="1.77" fill="url(#gb1)" transform="rotate(160.79 642.06 439.75)"/>
<path d="M645.42 432.53Q643.84 429.5 646.64 427.56" fill="none" stroke="url(#gb1)" stroke-width="1.02" stroke-linecap="round"/>
<ellipse cx="646.64" cy="427.56" rx="0.97" ry="1.58" fill="url(#gb1)" transform="rotate(13.88 646.64 427.56)"/>
<path d="M647 435.25Q647.48 438.81 644 439.72" fill="none" stroke="url(#gb1)" stroke-width="0.67" stroke-linecap="round"/>
<ellipse cx="644" cy="439.72" rx="0.71" ry="1.15" fill="url(#gb1)" transform="rotate(213.82 644 439.72)"/>
<path d="M651.03 434.25Q652.83 433.36 653.91 431.68" fill="none" stroke="url(#gb1)" stroke-width="0.75" stroke-linecap="round"/>
<path d="M651.75 437.03Q650.98 439.09 649.11 440.26" fill="none" stroke="url(#gb1)" stroke-width="1.09" stroke-linecap="round"/>
<path d="M655.69 436.55Q658.1 436.53 658.41 434.14" fill="none" stroke="url(#gb1)" stroke-width="0.9" stroke-linecap="round"/>
<ellipse cx="658.41" cy="434.14" rx="0.89" ry="1.44" fill="url(#gb1)" transform="rotate(48.37 658.41 434.14)"/>
<path d="M656.51 439.63Q655.32 441.67 654.22 443.77" fill="none" stroke="url(#gb1)" stroke-width="1" stroke-linecap="round"/>
<ellipse cx="654.22" cy="443.77" rx="1.13" ry="1.84" fill="url(#gb1)" transform="rotate(208.92 654.22 443.77)"/>
<path d="M662.5 439.53Q666.29 437.05 666.63 432.53" fill="none" stroke="url(#gb1)" stroke-width="0.99" stroke-linecap="round"/>
<ellipse cx="666.63" cy="432.53" rx="0.88" ry="1.42" fill="url(#gb1)" transform="rotate(30.55 666.63 432.53)"/>
<path d="M664.53 440.26Q665.05 438.49 665.13 436.65" fill="none" stroke="url(#gb1)" stroke-width="0.68" stroke-linecap="round"/>
<ellipse cx="665.13" cy="436.65" rx="0.88" ry="1.42" fill="url(#gb1)" transform="rotate(9.32 665.13 436.65)"/>
<path d="M668.61 444.02Q668.95 446.63 666.39 447.24" fill="none" stroke="url(#gb1)" stroke-width="0.97" stroke-linecap="round"/>
<ellipse cx="666.39" cy="447.24" rx="1.01" ry="1.65" fill="url(#gb1)" transform="rotate(214.62 666.39 447.24)"/>
<path d="M671.48 444.93Q672.09 449.14 669.47 452.49" fill="none" stroke="url(#gb1)" stroke-width="0.68" stroke-linecap="round"/>
<ellipse cx="669.47" cy="452.49" rx="1.02" ry="1.66" fill="url(#gb1)" transform="rotate(194.88 669.47 452.49)"/>
<path d="M673.46 445.38Q671.8 446.13 671.17 447.83" fill="none" stroke="url(#gb1)" stroke-width="0.88" stroke-linecap="round"/>
<ellipse cx="671.17" cy="447.83" rx="0.9" ry="1.47" fill="url(#gb1)" transform="rotate(222.95 671.17 447.83)"/>
<path d="M484 435C485.83 435.5 490.67 436.75 495 438C499.33 439.25 505.5 441.17 510 442.5C514.5 443.83 517.83 445.17 522 446C526.17 446.83 530.67 447.42 535 447.5C539.33 447.58 543.83 447 548 446.5C552.17 446 556.33 445.17 560 444.5C563.67 443.83 567 443.33 570 442.5C573 441.67 574.67 440.17 578 439.5C581.33 438.83 586 438.5 590 438.5C594 438.5 598 439.08 602 439.5C606 439.92 610.5 441.17 614 441C617.5 440.83 620 439.42 623 438.5C626 437.58 628.83 436.33 632 435.5C635.17 434.67 639 433.58 642 433.5C645 433.42 647.33 434.08 650 435C652.67 435.92 655.33 437.83 658 439C660.67 440.17 663 441 666 442C669 443 674.33 444.5 676 445" fill="none" stroke="url(#gb1)" stroke-width="4.4" stroke-linecap="round" stroke-linejoin="round"/>
<ellipse cx="488.59" cy="436.93" rx="2.5" ry="1.92" fill="url(#gb1)"/>
<ellipse cx="492.66" cy="436.79" rx="3.26" ry="2.5" fill="url(#gb1)"/>
<ellipse cx="501.82" cy="439.89" rx="2.7" ry="2.08" fill="url(#gb1)"/>
<ellipse cx="508.67" cy="441.45" rx="3.68" ry="2.83" fill="url(#gb1)"/>
<ellipse cx="526.97" cy="447.17" rx="3.27" ry="2.51" fill="url(#gb1)"/>
<ellipse cx="529.81" cy="446.75" rx="2.5" ry="1.92" fill="url(#gb1)"/>
<ellipse cx="535.77" cy="447.71" rx="2.48" ry="1.91" fill="url(#gb1)"/>
<ellipse cx="550.52" cy="445.13" rx="3.29" ry="2.53" fill="url(#gb1)"/>
<ellipse cx="554.87" cy="446.35" rx="3.39" ry="2.61" fill="url(#gb1)"/>
<ellipse cx="556.6" cy="444.59" rx="3.26" ry="2.51" fill="url(#gb1)"/>
<ellipse cx="560.15" cy="443.97" rx="3.72" ry="2.86" fill="url(#gb1)"/>
<ellipse cx="567.71" cy="442.97" rx="2.56" ry="1.97" fill="url(#gb1)"/>
<ellipse cx="570.42" cy="441.08" rx="3.48" ry="2.68" fill="url(#gb1)"/>
<ellipse cx="575.07" cy="440.52" rx="2.75" ry="2.11" fill="url(#gb1)"/>
<ellipse cx="581.68" cy="438.92" rx="3.11" ry="2.39" fill="url(#gb1)"/>
<ellipse cx="585.25" cy="439.18" rx="3.68" ry="2.83" fill="url(#gb1)"/>
<ellipse cx="590.64" cy="437.51" rx="3.55" ry="2.73" fill="url(#gb1)"/>
<ellipse cx="601.3" cy="438.64" rx="3.12" ry="2.4" fill="url(#gb1)"/>
<ellipse cx="615.39" cy="441.54" rx="3.42" ry="2.63" fill="url(#gb1)"/>
<ellipse cx="618.43" cy="441.03" rx="2.97" ry="2.29" fill="url(#gb1)"/>
<ellipse cx="622.14" cy="438.6" rx="3.1" ry="2.39" fill="url(#gb1)"/>
<ellipse cx="625.44" cy="437.02" rx="3.02" ry="2.33" fill="url(#gb1)"/>
<ellipse cx="631.55" cy="435.47" rx="3.21" ry="2.47" fill="url(#gb1)"/>
<ellipse cx="636.32" cy="434.41" rx="3.71" ry="2.85" fill="url(#gb1)"/>
<ellipse cx="638.86" cy="433.72" rx="3.13" ry="2.41" fill="url(#gb1)"/>
<ellipse cx="645.36" cy="433.41" rx="3.05" ry="2.34" fill="url(#gb1)"/>
<ellipse cx="649.82" cy="434.88" rx="2.65" ry="2.04" fill="url(#gb1)"/>
<ellipse cx="652.09" cy="437.06" rx="2.53" ry="1.94" fill="url(#gb1)"/>
<ellipse cx="655.79" cy="437.63" rx="2.3" ry="1.77" fill="url(#gb1)"/>
<ellipse cx="659.56" cy="440.12" rx="3.33" ry="2.56" fill="url(#gb1)"/>
<ellipse cx="676.01" cy="445.87" rx="2.83" ry="2.18" fill="url(#gb1)"/>
</g>
<ellipse cx="677" cy="451" rx="4" ry="6" fill="#fff" filter="url(#bl)"/>
<path d="M668 441Q678 440 679 452" fill="none" stroke="#fff" stroke-width="5" stroke-linecap="round" filter="url(#bl)"/>
<path d="M496.3 439.5L496.3 429.5" stroke="#f2f2f2" stroke-width="1.3" filter="url(#bl)"/>
<ellipse cx="496.3" cy="429.5" rx="1.9" ry="3" fill="#fff" filter="url(#bl)"/>
<path d="M526 446.5L526 439.5" stroke="#f2f2f2" stroke-width="1.3" filter="url(#bl)"/>
<ellipse cx="526" cy="439.5" rx="1.9" ry="3" fill="#fff" filter="url(#bl)"/>
<path d="M542.6 447.5L542.6 439.5" stroke="#f2f2f2" stroke-width="1.3" filter="url(#bl)"/>
<ellipse cx="542.6" cy="439.5" rx="1.9" ry="3" fill="#fff" filter="url(#bl)"/>
<path d="M575 440.5L575 431" stroke="#f2f2f2" stroke-width="1.3" filter="url(#bl)"/>
<ellipse cx="575" cy="431" rx="1.9" ry="3" fill="#fff" filter="url(#bl)"/>
<path d="M637 434.5L637 424.5" stroke="#f2f2f2" stroke-width="1.3" filter="url(#bl)"/>
<ellipse cx="637" cy="424.5" rx="1.9" ry="3" fill="#fff" filter="url(#bl)"/>
<path d="M657.5 438.5L657.5 429.5" stroke="#f2f2f2" stroke-width="1.3" filter="url(#bl)"/>
<ellipse cx="657.5" cy="429.5" rx="1.9" ry="3" fill="#fff" filter="url(#bl)"/>
<path d="M484 460C485.33 461.33 489.33 465.58 492 468C494.67 470.42 496.67 472.7 500 474.5C503.33 476.3 507.83 477.72 512 478.8C516.17 479.88 520.33 480.27 525 481C529.67 481.73 535.33 482.7 540 483.2C544.67 483.7 548.83 483.87 553 484C557.17 484.13 562 484.42 565 484C568 483.58 569 482.37 571 481.5C573 480.63 574.83 479.05 577 478.8C579.17 478.55 581.5 479.38 584 480C586.5 480.62 589.33 481.63 592 482.5C594.67 483.37 597.33 484.53 600 485.2C602.67 485.87 605 486.62 608 486.5C611 486.38 614.33 485.05 618 484.5C621.67 483.95 626 483.53 630 483.2C634 482.87 638.67 482.9 642 482.5C645.33 482.1 647.5 481.18 650 480.8C652.5 480.42 654.5 479.83 657 480.2C659.5 480.57 662.33 482.12 665 483C667.67 483.88 669.83 484.83 673 485.5C676.17 486.17 682.17 486.75 684 487" fill="none" stroke="#8a8a8a" stroke-width="6.3" stroke-linecap="round" filter="url(#glow)" opacity="0.6"/>
<g filter="url(#bl)">
<path d="M483.54 461.15Q482.3 462.58 480.4 462.61" fill="none" stroke="#fff" stroke-width="0.94" stroke-linecap="round"/>
<ellipse cx="480.4" cy="462.61" rx="1.11" ry="1.81" fill="#fff" transform="rotate(245.06 480.4 462.61)"/>
<path d="M486.97 461.43Q490.65 459.98 494.11 458.09" fill="none" stroke="#fff" stroke-width="0.96" stroke-linecap="round"/>
<ellipse cx="494.11" cy="458.09" rx="0.68" ry="1.11" fill="#fff" transform="rotate(64.95 494.11 458.09)"/>
<path d="M488.31 462.97Q490.18 460.26 492.99 461.96" fill="none" stroke="#fff" stroke-width="0.93" stroke-linecap="round"/>
<path d="M487.26 464.88Q485.28 465.18 483.5 466.11" fill="none" stroke="#fff" stroke-width="0.68" stroke-linecap="round"/>
<ellipse cx="483.5" cy="466.11" rx="0.66" ry="1.07" fill="#fff" transform="rotate(251.84 483.5 466.11)"/>
<path d="M490.8 465.37Q495.9 466.45 499.13 462.37" fill="none" stroke="#fff" stroke-width="0.93" stroke-linecap="round"/>
<ellipse cx="499.13" cy="462.37" rx="0.84" ry="1.37" fill="#fff" transform="rotate(70.2 499.13 462.37)"/>
<path d="M492.06 466.53Q495.56 464.8 499.16 463.28" fill="none" stroke="#fff" stroke-width="1.13" stroke-linecap="round"/>
<ellipse cx="499.16" cy="463.28" rx="0.97" ry="1.57" fill="#fff" transform="rotate(65.37 499.16 463.28)"/>
<path d="M491.55 469.21Q490 473.99 485.78 476.72" fill="none" stroke="#fff" stroke-width="0.69" stroke-linecap="round"/>
<path d="M493.95 468.34Q497.65 465.18 496.34 460.48" fill="none" stroke="#fff" stroke-width="0.71" stroke-linecap="round"/>
<ellipse cx="496.34" cy="460.48" rx="1.03" ry="1.67" fill="#fff" transform="rotate(16.95 496.34 460.48)"/>
<path d="M496.4 470.72Q497.92 468.69 496.93 466.35" fill="none" stroke="#fff" stroke-width="1.12" stroke-linecap="round"/>
<ellipse cx="496.93" cy="466.35" rx="0.69" ry="1.12" fill="#fff" transform="rotate(6.89 496.93 466.35)"/>
<path d="M497.4 474.2Q499.03 477.32 496.19 479.41" fill="none" stroke="#fff" stroke-width="0.69" stroke-linecap="round"/>
<ellipse cx="496.19" cy="479.41" rx="1.15" ry="1.87" fill="#fff" transform="rotate(193.05 496.19 479.41)"/>
<path d="M500.64 476.08Q499.71 479.01 500.08 482.05" fill="none" stroke="#fff" stroke-width="0.78" stroke-linecap="round"/>
<ellipse cx="500.08" cy="482.05" rx="0.64" ry="1.04" fill="#fff" transform="rotate(185.31 500.08 482.05)"/>
<path d="M501.39 476.33Q498.48 477.02 496.79 479.5" fill="none" stroke="#fff" stroke-width="0.84" stroke-linecap="round"/>
<ellipse cx="496.79" cy="479.5" rx="0.95" ry="1.55" fill="#fff" transform="rotate(235.39 496.79 479.5)"/>
<path d="M504.28 477.5Q503.15 479.51 504.95 480.95" fill="none" stroke="#fff" stroke-width="1.09" stroke-linecap="round"/>
<ellipse cx="504.95" cy="480.95" rx="0.78" ry="1.27" fill="#fff" transform="rotate(169.01 504.95 480.95)"/>
<path d="M506.48 475.99Q508.51 474.49 509.49 472.16" fill="none" stroke="#fff" stroke-width="0.77" stroke-linecap="round"/>
<ellipse cx="509.49" cy="472.16" rx="0.88" ry="1.43" fill="#fff" transform="rotate(38.14 509.49 472.16)"/>
<path d="M507.14 476.34Q504.46 474.61 505.92 471.78" fill="none" stroke="#fff" stroke-width="0.82" stroke-linecap="round"/>
<ellipse cx="505.92" cy="471.78" rx="1.06" ry="1.73" fill="#fff" transform="rotate(-14.93 505.92 471.78)"/>
<path d="M509.94 477.1Q512.24 475.72 513.21 473.21" fill="none" stroke="#fff" stroke-width="1.13" stroke-linecap="round"/>
<ellipse cx="513.21" cy="473.21" rx="0.76" ry="1.23" fill="#fff" transform="rotate(39.98 513.21 473.21)"/>
<path d="M510.11 479.41Q508.96 480.7 507.83 482" fill="none" stroke="#fff" stroke-width="0.71" stroke-linecap="round"/>
<ellipse cx="507.83" cy="482" rx="0.85" ry="1.38" fill="#fff" transform="rotate(221.36 507.83 482)"/>
<path d="M512.5 480.15Q508.25 484.4 511.3 489.58" fill="none" stroke="#fff" stroke-width="1.03" stroke-linecap="round"/>
<path d="M514.62 480.53Q516.85 482.78 515.56 485.66" fill="none" stroke="#fff" stroke-width="1.02" stroke-linecap="round"/>
<ellipse cx="515.56" cy="485.66" rx="0.8" ry="1.31" fill="#fff" transform="rotate(169.64 515.56 485.66)"/>
<path d="M516.18 478.49Q516.16 474.06 516.2 469.64" fill="none" stroke="#fff" stroke-width="0.79" stroke-linecap="round"/>
<ellipse cx="516.2" cy="469.64" rx="0.99" ry="1.61" fill="#fff" transform="rotate(0.18 516.2 469.64)"/>
<path d="M519.56 479.05Q520.8 476.9 518.99 475.19" fill="none" stroke="#fff" stroke-width="1.03" stroke-linecap="round"/>
<ellipse cx="518.99" cy="475.19" rx="0.97" ry="1.57" fill="#fff" transform="rotate(-8.38 518.99 475.19)"/>
<path d="M521.81 481.65Q519.93 485.81 523.6 488.54" fill="none" stroke="#fff" stroke-width="1.19" stroke-linecap="round"/>
<ellipse cx="523.6" cy="488.54" rx="0.78" ry="1.27" fill="#fff" transform="rotate(165.44 523.6 488.54)"/>
<path d="M523.23 479.54Q519.93 475.15 522.76 470.43" fill="none" stroke="#fff" stroke-width="1.17" stroke-linecap="round"/>
<ellipse cx="522.76" cy="470.43" rx="1.19" ry="1.93" fill="#fff" transform="rotate(-2.99 522.76 470.43)"/>
<path d="M525.18 482.21Q526.71 486.4 525.95 490.79" fill="none" stroke="#fff" stroke-width="1.05" stroke-linecap="round"/>
<ellipse cx="525.95" cy="490.79" rx="0.73" ry="1.18" fill="#fff" transform="rotate(174.91 525.95 490.79)"/>
<path d="M527.61 480.36Q527.91 477.75 530.42 476.92" fill="none" stroke="#fff" stroke-width="1.01" stroke-linecap="round"/>
<ellipse cx="530.42" cy="476.92" rx="0.95" ry="1.55" fill="#fff" transform="rotate(39.18 530.42 476.92)"/>
<path d="M528.47 482.77Q527.43 484.39 528 486.23" fill="none" stroke="#fff" stroke-width="1.19" stroke-linecap="round"/>
<ellipse cx="528" cy="486.23" rx="1.04" ry="1.68" fill="#fff" transform="rotate(187.7 528 486.23)"/>
<path d="M529.87 482.93Q527.2 485.96 526.38 489.91" fill="none" stroke="#fff" stroke-width="0.97" stroke-linecap="round"/>
<path d="M532.2 483.34Q535.37 487.61 532.31 491.97" fill="none" stroke="#fff" stroke-width="1.14" stroke-linecap="round"/>
<path d="M534.07 483.6Q533.74 487.92 534.84 492.1" fill="none" stroke="#fff" stroke-width="0.74" stroke-linecap="round"/>
<ellipse cx="534.84" cy="492.1" rx="0.91" ry="1.48" fill="#fff" transform="rotate(174.85 534.84 492.1)"/>
<path d="M535.37 483.81Q533.48 485.18 534.19 487.41" fill="none" stroke="#fff" stroke-width="1.18" stroke-linecap="round"/>
<ellipse cx="534.19" cy="487.41" rx="0.73" ry="1.19" fill="#fff" transform="rotate(198.22 534.19 487.41)"/>
<path d="M539.97 482.12Q539.64 479.81 541.89 479.19" fill="none" stroke="#fff" stroke-width="1.19" stroke-linecap="round"/>
<ellipse cx="541.89" cy="479.19" rx="0.63" ry="1.03" fill="#fff" transform="rotate(33.11 541.89 479.19)"/>
<path d="M540.6 482.23Q539.19 479.42 537.95 476.54" fill="none" stroke="#fff" stroke-width="0.96" stroke-linecap="round"/>
<ellipse cx="537.95" cy="476.54" rx="0.68" ry="1.11" fill="#fff" transform="rotate(-25.01 537.95 476.54)"/>
<path d="M542.51 484.61Q539.45 487.74 539.98 492.08" fill="none" stroke="#fff" stroke-width="1.01" stroke-linecap="round"/>
<ellipse cx="539.98" cy="492.08" rx="1.12" ry="1.83" fill="#fff" transform="rotate(198.76 539.98 492.08)"/>
<path d="M544.28 484.74Q544.34 488.9 541.59 492.02" fill="none" stroke="#fff" stroke-width="0.92" stroke-linecap="round"/>
<ellipse cx="541.59" cy="492.02" rx="1.16" ry="1.89" fill="#fff" transform="rotate(200.24 541.59 492.02)"/>
<path d="M545.82 484.72Q543.31 485.7 543.33 488.39" fill="none" stroke="#fff" stroke-width="1.03" stroke-linecap="round"/>
<path d="M548.4 482.62Q546.65 479.83 548.86 477.4" fill="none" stroke="#fff" stroke-width="0.77" stroke-linecap="round"/>
<ellipse cx="548.86" cy="477.4" rx="1.02" ry="1.66" fill="#fff" transform="rotate(5.09 548.86 477.4)"/>
<path d="M549.75 485.05Q547.53 488.8 547.35 493.16" fill="none" stroke="#fff" stroke-width="1.2" stroke-linecap="round"/>
<path d="M551.48 482.83Q550.26 480.95 550 478.72" fill="none" stroke="#fff" stroke-width="0.92" stroke-linecap="round"/>
<path d="M554.14 485.13Q553.36 489.94 557.29 492.83" fill="none" stroke="#fff" stroke-width="0.88" stroke-linecap="round"/>
<ellipse cx="557.29" cy="492.83" rx="0.7" ry="1.14" fill="#fff" transform="rotate(157.76 557.29 492.83)"/>
<path d="M555.02 485.19Q556.24 490 551.95 492.48" fill="none" stroke="#fff" stroke-width="0.77" stroke-linecap="round"/>
<path d="M557.95 483.15Q559.59 478.87 562.9 475.7" fill="none" stroke="#fff" stroke-width="0.73" stroke-linecap="round"/>
<ellipse cx="562.9" cy="475.7" rx="1.04" ry="1.69" fill="#fff" transform="rotate(33.63 562.9 475.7)"/>
<path d="M559.27 485.38Q560.66 488.02 560.17 490.95" fill="none" stroke="#fff" stroke-width="0.72" stroke-linecap="round"/>
<path d="M561.16 485.39Q558.4 490.99 563.38 494.77" fill="none" stroke="#fff" stroke-width="1.08" stroke-linecap="round"/>
<path d="M562.92 483.01Q562.34 480.04 564.04 477.53" fill="none" stroke="#fff" stroke-width="0.87" stroke-linecap="round"/>
<path d="M565 485.14Q564.6 488.08 567.16 489.57" fill="none" stroke="#fff" stroke-width="0.77" stroke-linecap="round"/>
<path d="M567.05 484.65Q569.09 486.27 570.45 488.49" fill="none" stroke="#fff" stroke-width="0.81" stroke-linecap="round"/>
<ellipse cx="570.45" cy="488.49" rx="1.17" ry="1.9" fill="#fff" transform="rotate(138.42 570.45 488.49)"/>
<path d="M567.6 481.99Q568.3 478.28 565.72 475.52" fill="none" stroke="#fff" stroke-width="1.21" stroke-linecap="round"/>
<ellipse cx="565.72" cy="475.52" rx="1.03" ry="1.67" fill="#fff" transform="rotate(-16.22 565.72 475.52)"/>
<path d="M568.93 481.22Q567.55 478.17 565.67 475.41" fill="none" stroke="#fff" stroke-width="1.02" stroke-linecap="round"/>
<ellipse cx="565.67" cy="475.41" rx="1.1" ry="1.8" fill="#fff" transform="rotate(-29.29 565.67 475.41)"/>
<path d="M570.94 480.26Q571.09 477.67 570.2 475.22" fill="none" stroke="#fff" stroke-width="0.96" stroke-linecap="round"/>
<path d="M572.64 479.42Q570.38 475.3 572.14 470.95" fill="none" stroke="#fff" stroke-width="0.86" stroke-linecap="round"/>
<path d="M573.99 478.57Q573.03 476.83 573.08 474.85" fill="none" stroke="#fff" stroke-width="1.01" stroke-linecap="round"/>
<ellipse cx="573.08" cy="474.85" rx="0.92" ry="1.49" fill="#fff" transform="rotate(-13.83 573.08 474.85)"/>
<path d="M576.67 479.98Q578.12 482.56 580.25 484.61" fill="none" stroke="#fff" stroke-width="0.82" stroke-linecap="round"/>
<ellipse cx="580.25" cy="484.61" rx="1.1" ry="1.78" fill="#fff" transform="rotate(142.27 580.25 484.61)"/>
<path d="M577.3 477.63Q574.09 475.88 575.49 472.51" fill="none" stroke="#fff" stroke-width="1.05" stroke-linecap="round"/>
<ellipse cx="575.49" cy="472.51" rx="0.89" ry="1.45" fill="#fff" transform="rotate(-19.54 575.49 472.51)"/>
<path d="M579.93 480.02Q582.86 481.53 581.73 484.62" fill="none" stroke="#fff" stroke-width="0.78" stroke-linecap="round"/>
<ellipse cx="581.73" cy="484.62" rx="1.11" ry="1.81" fill="#fff" transform="rotate(158.68 581.73 484.62)"/>
<path d="M580.61 480.3Q579.76 485.21 575.67 488.07" fill="none" stroke="#fff" stroke-width="0.95" stroke-linecap="round"/>
<ellipse cx="575.67" cy="488.07" rx="1.03" ry="1.67" fill="#fff" transform="rotate(212.42 575.67 488.07)"/>
<path d="M583.39 480.87Q586.97 483.14 585.58 487.15" fill="none" stroke="#fff" stroke-width="0.91" stroke-linecap="round"/>
<path d="M585.48 479.25Q585.94 474.49 590.45 472.92" fill="none" stroke="#fff" stroke-width="1.05" stroke-linecap="round"/>
<path d="M586.33 479.5Q586.37 476.29 585.59 473.18" fill="none" stroke="#fff" stroke-width="0.66" stroke-linecap="round"/>
<path d="M587.26 482.01Q585.71 484.12 583.36 485.27" fill="none" stroke="#fff" stroke-width="1.21" stroke-linecap="round"/>
<ellipse cx="583.36" cy="485.27" rx="0.96" ry="1.55" fill="#fff" transform="rotate(230.07 583.36 485.27)"/>
<path d="M589.84 483Q589.44 484.84 589.67 486.71" fill="none" stroke="#fff" stroke-width="0.74" stroke-linecap="round"/>
<ellipse cx="589.67" cy="486.71" rx="0.83" ry="1.36" fill="#fff" transform="rotate(182.63 589.67 486.71)"/>
<path d="M590.92 483.36Q588.71 484.09 588.81 486.41" fill="none" stroke="#fff" stroke-width="1.11" stroke-linecap="round"/>
<ellipse cx="588.81" cy="486.41" rx="0.75" ry="1.22" fill="#fff" transform="rotate(214.67 588.81 486.41)"/>
<path d="M592.44 483.78Q591 485.62 589.11 487" fill="none" stroke="#fff" stroke-width="0.8" stroke-linecap="round"/>
<ellipse cx="589.11" cy="487" rx="0.8" ry="1.29" fill="#fff" transform="rotate(225.97 589.11 487)"/>
<path d="M594.08 484.33Q593.69 487.65 590.35 487.48" fill="none" stroke="#fff" stroke-width="0.66" stroke-linecap="round"/>
<ellipse cx="590.35" cy="487.48" rx="0.79" ry="1.29" fill="#fff" transform="rotate(229.82 590.35 487.48)"/>
<path d="M596.6 485.37Q594.87 489.79 595.89 494.43" fill="none" stroke="#fff" stroke-width="0.83" stroke-linecap="round"/>
<path d="M597.79 485.78Q598.05 488.52 595.55 489.64" fill="none" stroke="#fff" stroke-width="0.92" stroke-linecap="round"/>
<ellipse cx="595.55" cy="489.64" rx="1.1" ry="1.79" fill="#fff" transform="rotate(210.2 595.55 489.64)"/>
<path d="M600.09 484.03Q598.66 482.31 599.97 480.51" fill="none" stroke="#fff" stroke-width="1.17" stroke-linecap="round"/>
<ellipse cx="599.97" cy="480.51" rx="0.83" ry="1.35" fill="#fff" transform="rotate(-1.88 599.97 480.51)"/>
<path d="M601.78 486.88Q600.41 489.76 601.33 492.81" fill="none" stroke="#fff" stroke-width="0.88" stroke-linecap="round"/>
<ellipse cx="601.33" cy="492.81" rx="0.82" ry="1.33" fill="#fff" transform="rotate(184.38 601.33 492.81)"/>
<path d="M604.38 485.16Q607.81 484.65 607.61 481.19" fill="none" stroke="#fff" stroke-width="1.04" stroke-linecap="round"/>
<ellipse cx="607.61" cy="481.19" rx="0.74" ry="1.21" fill="#fff" transform="rotate(39.12 607.61 481.19)"/>
<path d="M605.27 487.58Q604.41 489.3 604.88 491.17" fill="none" stroke="#fff" stroke-width="0.78" stroke-linecap="round"/>
<ellipse cx="604.88" cy="491.17" rx="0.94" ry="1.52" fill="#fff" transform="rotate(186.25 604.88 491.17)"/>
<path d="M608.7 487.59Q606.02 489.48 607.51 492.4" fill="none" stroke="#fff" stroke-width="1.12" stroke-linecap="round"/>
<ellipse cx="607.51" cy="492.4" rx="0.91" ry="1.48" fill="#fff" transform="rotate(193.91 607.51 492.4)"/>
<path d="M610.75 484.93Q611.03 481.5 610.65 478.08" fill="none" stroke="#fff" stroke-width="1.16" stroke-linecap="round"/>
<ellipse cx="610.65" cy="478.08" rx="1.13" ry="1.83" fill="#fff" transform="rotate(-0.81 610.65 478.08)"/>
<path d="M612.97 486.83Q616.08 490.53 616.46 495.35" fill="none" stroke="#fff" stroke-width="0.82" stroke-linecap="round"/>
<path d="M613.86 484.15Q612.85 482.51 612.6 480.59" fill="none" stroke="#fff" stroke-width="0.93" stroke-linecap="round"/>
<ellipse cx="612.6" cy="480.59" rx="1.15" ry="1.88" fill="#fff" transform="rotate(-19.56 612.6 480.59)"/>
<path d="M615.82 486.05Q611.78 490.08 614.31 495.18" fill="none" stroke="#fff" stroke-width="0.86" stroke-linecap="round"/>
<path d="M617.63 483.34Q616.3 479.22 616.54 474.88" fill="none" stroke="#fff" stroke-width="0.9" stroke-linecap="round"/>
<ellipse cx="616.54" cy="474.88" rx="1.02" ry="1.66" fill="#fff" transform="rotate(-7.33 616.54 474.88)"/>
<path d="M619.8 485.46Q618.94 487.71 620.6 489.45" fill="none" stroke="#fff" stroke-width="0.95" stroke-linecap="round"/>
<ellipse cx="620.6" cy="489.45" rx="0.8" ry="1.3" fill="#fff" transform="rotate(168.7 620.6 489.45)"/>
<path d="M622.13 484.96Q625.26 488.38 628.17 491.99" fill="none" stroke="#fff" stroke-width="0.8" stroke-linecap="round"/>
<path d="M623.42 482.68Q623.52 478.13 625.5 474.04" fill="none" stroke="#fff" stroke-width="0.88" stroke-linecap="round"/>
<ellipse cx="625.5" cy="474.04" rx="1.21" ry="1.97" fill="#fff" transform="rotate(13.54 625.5 474.04)"/>
<path d="M624.9 482.46Q624.43 477.7 624.62 472.91" fill="none" stroke="#fff" stroke-width="0.65" stroke-linecap="round"/>
<ellipse cx="624.62" cy="472.91" rx="0.82" ry="1.33" fill="#fff" transform="rotate(-1.64 624.62 472.91)"/>
<path d="M626.05 482.5Q621.35 481.29 621.94 476.48" fill="none" stroke="#fff" stroke-width="0.8" stroke-linecap="round"/>
<ellipse cx="621.94" cy="476.48" rx="0.8" ry="1.31" fill="#fff" transform="rotate(-34.32 621.94 476.48)"/>
<path d="M627.93 484.38Q624.69 487.45 623.79 491.83" fill="none" stroke="#fff" stroke-width="1.16" stroke-linecap="round"/>
<ellipse cx="623.79" cy="491.83" rx="0.75" ry="1.21" fill="#fff" transform="rotate(209.09 623.79 491.83)"/>
<path d="M630.12 484.36Q630.98 488.74 628.83 492.64" fill="none" stroke="#fff" stroke-width="1.08" stroke-linecap="round"/>
<ellipse cx="628.83" cy="492.64" rx="1.23" ry="2.01" fill="#fff" transform="rotate(188.9 628.83 492.64)"/>
<path d="M631.65 481.95Q629.24 480.56 629.96 477.89" fill="none" stroke="#fff" stroke-width="0.92" stroke-linecap="round"/>
<ellipse cx="629.96" cy="477.89" rx="1.16" ry="1.88" fill="#fff" transform="rotate(-22.49 629.96 477.89)"/>
<path d="M633.61 484.13Q631.68 486.03 632.5 488.62" fill="none" stroke="#fff" stroke-width="0.71" stroke-linecap="round"/>
<path d="M636.07 484.04Q638.41 487.07 638.3 490.89" fill="none" stroke="#fff" stroke-width="0.68" stroke-linecap="round"/>
<ellipse cx="638.3" cy="490.89" rx="1" ry="1.63" fill="#fff" transform="rotate(161.97 638.3 490.89)"/>
<path d="M637.67 481.63Q636.89 478.17 638.61 475.06" fill="none" stroke="#fff" stroke-width="1.22" stroke-linecap="round"/>
<ellipse cx="638.61" cy="475.06" rx="0.63" ry="1.03" fill="#fff" transform="rotate(8.1 638.61 475.06)"/>
<path d="M639.53 483.91Q641.3 485.25 640.15 487.15" fill="none" stroke="#fff" stroke-width="0.82" stroke-linecap="round"/>
<ellipse cx="640.15" cy="487.15" rx="1.03" ry="1.68" fill="#fff" transform="rotate(169.05 640.15 487.15)"/>
<path d="M640.94 481.4Q639.53 479.88 640.52 478.06" fill="none" stroke="#fff" stroke-width="0.93" stroke-linecap="round"/>
<ellipse cx="640.52" cy="478.06" rx="1.02" ry="1.66" fill="#fff" transform="rotate(-7.17 640.52 478.06)"/>
<path d="M642.25 481.36Q636.36 479.25 637.14 473.04" fill="none" stroke="#fff" stroke-width="1.02" stroke-linecap="round"/>
<path d="M644.28 480.9Q645.16 478.36 642.95 476.83" fill="none" stroke="#fff" stroke-width="1.01" stroke-linecap="round"/>
<ellipse cx="642.95" cy="476.83" rx="0.66" ry="1.07" fill="#fff" transform="rotate(-18.03 642.95 476.83)"/>
<path d="M646.67 480.45Q645.16 477.38 647.89 475.3" fill="none" stroke="#fff" stroke-width="0.72" stroke-linecap="round"/>
<path d="M647.93 479.99Q644.75 477.27 646.82 473.64" fill="none" stroke="#fff" stroke-width="0.79" stroke-linecap="round"/>
<ellipse cx="646.82" cy="473.64" rx="1.19" ry="1.94" fill="#fff" transform="rotate(-9.9 646.82 473.64)"/>
<path d="M650.59 481.8Q651.22 487.16 656.06 489.57" fill="none" stroke="#fff" stroke-width="0.91" stroke-linecap="round"/>
<ellipse cx="656.06" cy="489.57" rx="1.05" ry="1.7" fill="#fff" transform="rotate(144.88 656.06 489.57)"/>
<path d="M652.48 481.41Q653.95 483.19 655.55 484.86" fill="none" stroke="#fff" stroke-width="1.04" stroke-linecap="round"/>
<ellipse cx="655.55" cy="484.86" rx="0.86" ry="1.39" fill="#fff" transform="rotate(138.34 655.55 484.86)"/>
<path d="M653.23 479.05Q651.02 476.96 652.28 474.19" fill="none" stroke="#fff" stroke-width="1.18" stroke-linecap="round"/>
<ellipse cx="652.28" cy="474.19" rx="1.21" ry="1.97" fill="#fff" transform="rotate(-10.99 652.28 474.19)"/>
<path d="M655.92 481.08Q658.26 482.91 659.11 485.76" fill="none" stroke="#fff" stroke-width="0.84" stroke-linecap="round"/>
<path d="M657.8 479.28Q657.58 475.46 661.36 474.93" fill="none" stroke="#fff" stroke-width="0.94" stroke-linecap="round"/>
<path d="M658.9 481.82Q659.49 485.64 659.59 489.51" fill="none" stroke="#fff" stroke-width="1.02" stroke-linecap="round"/>
<ellipse cx="659.59" cy="489.51" rx="1.1" ry="1.78" fill="#fff" transform="rotate(174.84 659.59 489.51)"/>
<path d="M661.1 480.2Q664.5 478.72 664.16 475.03" fill="none" stroke="#fff" stroke-width="0.74" stroke-linecap="round"/>
<ellipse cx="664.16" cy="475.03" rx="1.17" ry="1.9" fill="#fff" transform="rotate(30.69 664.16 475.03)"/>
<path d="M662.44 480.74Q663.62 476.42 664.55 472.04" fill="none" stroke="#fff" stroke-width="0.96" stroke-linecap="round"/>
<ellipse cx="664.55" cy="472.04" rx="0.86" ry="1.39" fill="#fff" transform="rotate(13.65 664.55 472.04)"/>
<path d="M662.87 483.31Q659.17 484.12 657.42 487.48" fill="none" stroke="#fff" stroke-width="1.03" stroke-linecap="round"/>
<ellipse cx="657.42" cy="487.48" rx="0.79" ry="1.28" fill="#fff" transform="rotate(232.54 657.42 487.48)"/>
<path d="M666.11 482.13Q666.84 479.1 669.04 476.88" fill="none" stroke="#fff" stroke-width="0.83" stroke-linecap="round"/>
<path d="M668.71 483.19Q667.42 481.58 668.08 479.64" fill="none" stroke="#fff" stroke-width="1.11" stroke-linecap="round"/>
<ellipse cx="668.08" cy="479.64" rx="1.16" ry="1.89" fill="#fff" transform="rotate(-10.07 668.08 479.64)"/>
<path d="M670.36 486.08Q669.39 489.05 668.94 492.15" fill="none" stroke="#fff" stroke-width="0.8" stroke-linecap="round"/>
<ellipse cx="668.94" cy="492.15" rx="1.1" ry="1.78" fill="#fff" transform="rotate(193.16 668.94 492.15)"/>
<path d="M672.91 484.29Q672.27 479.53 676.44 477.15" fill="none" stroke="#fff" stroke-width="1.21" stroke-linecap="round"/>
<ellipse cx="676.44" cy="477.15" rx="1.16" ry="1.88" fill="#fff" transform="rotate(26.34 676.44 477.15)"/>
<path d="M674.85 484.75Q676.25 483.61 676.93 481.94" fill="none" stroke="#fff" stroke-width="0.88" stroke-linecap="round"/>
<path d="M675.46 487.11Q675.25 488.83 674.18 490.21" fill="none" stroke="#fff" stroke-width="0.89" stroke-linecap="round"/>
<path d="M678.34 485.22Q679.2 483.42 680.44 481.84" fill="none" stroke="#fff" stroke-width="0.68" stroke-linecap="round"/>
<path d="M679.93 487.58Q682.07 489.94 682.12 493.13" fill="none" stroke="#fff" stroke-width="0.67" stroke-linecap="round"/>
<ellipse cx="682.12" cy="493.13" rx="0.64" ry="1.04" fill="#fff" transform="rotate(158.49 682.12 493.13)"/>
<path d="M681.33 485.48Q679.4 482.82 681.58 480.36" fill="none" stroke="#fff" stroke-width="1.21" stroke-linecap="round"/>
<ellipse cx="681.58" cy="480.36" rx="0.79" ry="1.29" fill="#fff" transform="rotate(2.77 681.58 480.36)"/>
<path d="M683.05 488.08Q683.98 491.71 682.98 495.32" fill="none" stroke="#fff" stroke-width="0.83" stroke-linecap="round"/>
<path d="M484 460C485.33 461.33 489.33 465.58 492 468C494.67 470.42 496.67 472.7 500 474.5C503.33 476.3 507.83 477.72 512 478.8C516.17 479.88 520.33 480.27 525 481C529.67 481.73 535.33 482.7 540 483.2C544.67 483.7 548.83 483.87 553 484C557.17 484.13 562 484.42 565 484C568 483.58 569 482.37 571 481.5C573 480.63 574.83 479.05 577 478.8C579.17 478.55 581.5 479.38 584 480C586.5 480.62 589.33 481.63 592 482.5C594.67 483.37 597.33 484.53 600 485.2C602.67 485.87 605 486.62 608 486.5C611 486.38 614.33 485.05 618 484.5C621.67 483.95 626 483.53 630 483.2C634 482.87 638.67 482.9 642 482.5C645.33 482.1 647.5 481.18 650 480.8C652.5 480.42 654.5 479.83 657 480.2C659.5 480.57 662.33 482.12 665 483C667.67 483.88 669.83 484.83 673 485.5C676.17 486.17 682.17 486.75 684 487" fill="none" stroke="#fff" stroke-width="4.8" stroke-linecap="round" stroke-linejoin="round"/>
<ellipse cx="492.88" cy="468.21" rx="3.94" ry="3.03" fill="#fff"/>
<ellipse cx="494.45" cy="470.96" rx="3.77" ry="2.9" fill="#fff"/>
<ellipse cx="498.8" cy="472.96" rx="2.65" ry="2.04" fill="#fff"/>
<ellipse cx="507.7" cy="477.47" rx="3.11" ry="2.39" fill="#fff"/>
<ellipse cx="514.97" cy="478.87" rx="2.79" ry="2.15" fill="#fff"/>
<ellipse cx="516.78" cy="479.61" rx="2.51" ry="1.93" fill="#fff"/>
<ellipse cx="524.28" cy="482" rx="2.93" ry="2.25" fill="#fff"/>
<ellipse cx="534.31" cy="483.29" rx="3.57" ry="2.75" fill="#fff"/>
<ellipse cx="538.05" cy="482.94" rx="2.55" ry="1.96" fill="#fff"/>
<ellipse cx="542.92" cy="483.58" rx="3.03" ry="2.33" fill="#fff"/>
<ellipse cx="548.42" cy="484.52" rx="3.88" ry="2.98" fill="#fff"/>
<ellipse cx="556.45" cy="484.71" rx="2.56" ry="1.97" fill="#fff"/>
<ellipse cx="562.28" cy="484.35" rx="4.2" ry="3.23" fill="#fff"/>
<ellipse cx="567.12" cy="483.43" rx="3.49" ry="2.69" fill="#fff"/>
<ellipse cx="569.77" cy="483.05" rx="3.17" ry="2.44" fill="#fff"/>
<ellipse cx="573.59" cy="480.88" rx="3.79" ry="2.92" fill="#fff"/>
<ellipse cx="575.56" cy="478.76" rx="3.94" ry="3.03" fill="#fff"/>
<ellipse cx="578.96" cy="479.54" rx="3.16" ry="2.43" fill="#fff"/>
<ellipse cx="589.9" cy="481.32" rx="3.94" ry="3.03" fill="#fff"/>
<ellipse cx="592.92" cy="483.93" rx="3.44" ry="2.65" fill="#fff"/>
<ellipse cx="596.94" cy="483.3" rx="2.79" ry="2.14" fill="#fff"/>
<ellipse cx="601.81" cy="486.13" rx="3.33" ry="2.56" fill="#fff"/>
<ellipse cx="609.73" cy="485.23" rx="3.09" ry="2.37" fill="#fff"/>
<ellipse cx="612.24" cy="484.92" rx="2.92" ry="2.25" fill="#fff"/>
<ellipse cx="616.03" cy="484.95" rx="2.78" ry="2.14" fill="#fff"/>
<ellipse cx="619.55" cy="483.25" rx="3.62" ry="2.79" fill="#fff"/>
<ellipse cx="622.75" cy="484.97" rx="2.74" ry="2.11" fill="#fff"/>
<ellipse cx="630.48" cy="483.92" rx="3.59" ry="2.76" fill="#fff"/>
<ellipse cx="634.54" cy="483.13" rx="4.09" ry="3.15" fill="#fff"/>
<ellipse cx="637.53" cy="482.2" rx="4.18" ry="3.22" fill="#fff"/>
<ellipse cx="647.29" cy="480.53" rx="2.6" ry="2" fill="#fff"/>
<ellipse cx="652.1" cy="479.88" rx="4.13" ry="3.18" fill="#fff"/>
<ellipse cx="654.13" cy="481.27" rx="3.48" ry="2.68" fill="#fff"/>
<ellipse cx="660.42" cy="480.92" rx="3.61" ry="2.78" fill="#fff"/>
<ellipse cx="664.91" cy="483.83" rx="3.47" ry="2.67" fill="#fff"/>
<ellipse cx="667.44" cy="482.83" rx="3.47" ry="2.67" fill="#fff"/>
<ellipse cx="672.19" cy="484.74" rx="2.76" ry="2.12" fill="#fff"/>
<ellipse cx="674.94" cy="484.89" rx="2.91" ry="2.24" fill="#fff"/>
<ellipse cx="677.87" cy="485.87" rx="2.76" ry="2.13" fill="#fff"/>
<ellipse cx="681.7" cy="487.33" rx="2.67" ry="2.05" fill="#fff"/>
</g>
<g filter="url(#bl)">
<path d="M485.28 539.18Q483.11 537.44 480.81 538.98" fill="none" stroke="#fff" stroke-width="1.03" stroke-linecap="round"/>
<ellipse cx="480.81" cy="538.98" rx="0.78" ry="1.27" fill="#fff" transform="rotate(-87.46 480.81 538.98)"/>
<path d="M489.14 537.1Q493.22 538.25 493.6 542.47" fill="none" stroke="#fff" stroke-width="1.08" stroke-linecap="round"/>
<path d="M488.72 533.74Q488.03 530.45 485.12 528.75" fill="none" stroke="#fff" stroke-width="1.23" stroke-linecap="round"/>
<ellipse cx="485.12" cy="528.75" rx="1.11" ry="1.8" fill="#fff" transform="rotate(-35.79 485.12 528.75)"/>
<path d="M491.73 533.7Q493.48 536.64 496.59 535.2" fill="none" stroke="#fff" stroke-width="1.22" stroke-linecap="round"/>
<path d="M492.88 532.62Q494.01 533.59 495.45 534.02" fill="none" stroke="#fff" stroke-width="0.99" stroke-linecap="round"/>
<ellipse cx="495.45" cy="534.02" rx="1.17" ry="1.89" fill="#fff" transform="rotate(118.7 495.45 534.02)"/>
<path d="M492.13 530.16Q490.7 529.67 489.66 528.58" fill="none" stroke="#fff" stroke-width="1.11" stroke-linecap="round"/>
<ellipse cx="489.66" cy="528.58" rx="0.84" ry="1.36" fill="#fff" transform="rotate(-57.32 489.66 528.58)"/>
<path d="M494.07 528.52Q493.19 526.55 492.52 524.51" fill="none" stroke="#fff" stroke-width="1.2" stroke-linecap="round"/>
<ellipse cx="492.52" cy="524.51" rx="1.19" ry="1.94" fill="#fff" transform="rotate(-21.22 492.52 524.51)"/>
<path d="M496.92 529.23Q498.3 531.59 500.99 532.04" fill="none" stroke="#fff" stroke-width="1.1" stroke-linecap="round"/>
<ellipse cx="500.99" cy="532.04" rx="0.7" ry="1.15" fill="#fff" transform="rotate(124.71 500.99 532.04)"/>
<path d="M497.5 528.74Q496.79 530.73 497.72 532.63" fill="none" stroke="#fff" stroke-width="1.18" stroke-linecap="round"/>
<ellipse cx="497.72" cy="532.63" rx="1.07" ry="1.74" fill="#fff" transform="rotate(176.67 497.72 532.63)"/>
<path d="M499.23 527.77Q501.91 530.86 500.83 534.8" fill="none" stroke="#fff" stroke-width="1.15" stroke-linecap="round"/>
<ellipse cx="500.83" cy="534.8" rx="1.16" ry="1.89" fill="#fff" transform="rotate(167.19 500.83 534.8)"/>
<path d="M501.45 526.5Q501.9 529.21 504.65 529.22" fill="none" stroke="#fff" stroke-width="0.83" stroke-linecap="round"/>
<ellipse cx="504.65" cy="529.22" rx="0.69" ry="1.13" fill="#fff" transform="rotate(130.34 504.65 529.22)"/>
<path d="M502.22 526.09Q500.54 528.12 502.48 529.91" fill="none" stroke="#fff" stroke-width="0.66" stroke-linecap="round"/>
<ellipse cx="502.48" cy="529.91" rx="1.21" ry="1.96" fill="#fff" transform="rotate(176 502.48 529.91)"/>
<path d="M503.09 523.12Q501.29 521.08 500.08 518.64" fill="none" stroke="#fff" stroke-width="0.95" stroke-linecap="round"/>
<ellipse cx="500.08" cy="518.64" rx="0.78" ry="1.26" fill="#fff" transform="rotate(-33.93 500.08 518.64)"/>
<path d="M505.6 524.57Q504.44 527.54 506.53 529.95" fill="none" stroke="#fff" stroke-width="0.72" stroke-linecap="round"/>
<ellipse cx="506.53" cy="529.95" rx="0.75" ry="1.22" fill="#fff" transform="rotate(170.23 506.53 529.95)"/>
<path d="M506.53 521.65Q505.84 520.39 505.22 519.09" fill="none" stroke="#fff" stroke-width="1.16" stroke-linecap="round"/>
<ellipse cx="505.22" cy="519.09" rx="0.78" ry="1.27" fill="#fff" transform="rotate(-27.06 505.22 519.09)"/>
<path d="M509.48 523.09Q512.89 525.17 513.81 529.05" fill="none" stroke="#fff" stroke-width="0.84" stroke-linecap="round"/>
<ellipse cx="513.81" cy="529.05" rx="1" ry="1.63" fill="#fff" transform="rotate(143.95 513.81 529.05)"/>
<path d="M510.72 520.42Q509.35 518.44 511.37 517.12" fill="none" stroke="#fff" stroke-width="1.01" stroke-linecap="round"/>
<ellipse cx="511.37" cy="517.12" rx="0.8" ry="1.29" fill="#fff" transform="rotate(11.03 511.37 517.12)"/>
<path d="M511.87 522.29Q510.45 523.36 510.96 525.07" fill="none" stroke="#fff" stroke-width="0.87" stroke-linecap="round"/>
<path d="M513.99 521.98Q511.36 525.76 513.98 529.55" fill="none" stroke="#fff" stroke-width="0.82" stroke-linecap="round"/>
<ellipse cx="513.98" cy="529.55" rx="0.73" ry="1.18" fill="#fff" transform="rotate(180.14 513.98 529.55)"/>
<path d="M516.22 521.6Q517.54 522.87 517.46 524.7" fill="none" stroke="#fff" stroke-width="1.03" stroke-linecap="round"/>
<ellipse cx="517.46" cy="524.7" rx="0.77" ry="1.26" fill="#fff" transform="rotate(158.23 517.46 524.7)"/>
<path d="M517.13 521.34Q514.55 523.66 514.93 527.1" fill="none" stroke="#fff" stroke-width="1.17" stroke-linecap="round"/>
<ellipse cx="514.93" cy="527.1" rx="1.18" ry="1.92" fill="#fff" transform="rotate(200.9 514.93 527.1)"/>
<path d="M519.1 518.78Q518.2 514.65 517.44 510.49" fill="none" stroke="#fff" stroke-width="1.15" stroke-linecap="round"/>
<ellipse cx="517.44" cy="510.49" rx="1.1" ry="1.78" fill="#fff" transform="rotate(-11.34 517.44 510.49)"/>
<path d="M521.36 520.84Q520.7 523.24 522.26 525.18" fill="none" stroke="#fff" stroke-width="1.11" stroke-linecap="round"/>
<ellipse cx="522.26" cy="525.18" rx="0.96" ry="1.56" fill="#fff" transform="rotate(168.2 522.26 525.18)"/>
<path d="M523.71 520.17Q525.72 521.27 526.75 523.31" fill="none" stroke="#fff" stroke-width="1.07" stroke-linecap="round"/>
<ellipse cx="526.75" cy="523.31" rx="1.06" ry="1.72" fill="#fff" transform="rotate(135.85 526.75 523.31)"/>
<path d="M523.95 517.91Q521.08 516.06 520.37 512.72" fill="none" stroke="#fff" stroke-width="0.71" stroke-linecap="round"/>
<ellipse cx="520.37" cy="512.72" rx="0.98" ry="1.59" fill="#fff" transform="rotate(-34.54 520.37 512.72)"/>
<path d="M526.7 519.61Q527.24 522.7 528.41 525.62" fill="none" stroke="#fff" stroke-width="0.71" stroke-linecap="round"/>
<ellipse cx="528.41" cy="525.62" rx="1.07" ry="1.74" fill="#fff" transform="rotate(164.12 528.41 525.62)"/>
<path d="M527.3 517.1Q526.19 514.66 523.86 513.33" fill="none" stroke="#fff" stroke-width="0.89" stroke-linecap="round"/>
<path d="M529.68 518.72Q529.83 520.98 529.03 523.1" fill="none" stroke="#fff" stroke-width="1.01" stroke-linecap="round"/>
<path d="M531.45 515.85Q532.91 512.46 530.75 509.45" fill="none" stroke="#fff" stroke-width="0.72" stroke-linecap="round"/>
<ellipse cx="530.75" cy="509.45" rx="0.9" ry="1.47" fill="#fff" transform="rotate(-6.26 530.75 509.45)"/>
<path d="M534.03 517.45Q536.25 517.78 535.99 520.02" fill="none" stroke="#fff" stroke-width="0.8" stroke-linecap="round"/>
<ellipse cx="535.99" cy="520.02" rx="0.91" ry="1.48" fill="#fff" transform="rotate(142.62 535.99 520.02)"/>
<path d="M534.69 514.83Q534.78 513.24 533.85 511.95" fill="none" stroke="#fff" stroke-width="0.93" stroke-linecap="round"/>
<path d="M537.03 514.45Q535.34 511.17 538.17 508.82" fill="none" stroke="#fff" stroke-width="0.75" stroke-linecap="round"/>
<path d="M539.02 516.59Q539.37 518.91 540.72 520.83" fill="none" stroke="#fff" stroke-width="0.72" stroke-linecap="round"/>
<ellipse cx="540.72" cy="520.83" rx="1.01" ry="1.64" fill="#fff" transform="rotate(158.21 540.72 520.83)"/>
<path d="M540.66 516.7Q543.43 519.27 542.14 522.82" fill="none" stroke="#fff" stroke-width="1.22" stroke-linecap="round"/>
<path d="M542.01 514.51Q542.32 512.84 541.57 511.33" fill="none" stroke="#fff" stroke-width="0.7" stroke-linecap="round"/>
<path d="M545.79 517.38Q543.85 521.08 546.15 524.56" fill="none" stroke="#fff" stroke-width="1.09" stroke-linecap="round"/>
<path d="M547.88 517.58Q547.5 519.59 548.96 521.03" fill="none" stroke="#fff" stroke-width="1.24" stroke-linecap="round"/>
<path d="M548.88 515.54Q549.36 511.05 546.02 508" fill="none" stroke="#fff" stroke-width="0.79" stroke-linecap="round"/>
<ellipse cx="546.02" cy="508" rx="1.15" ry="1.86" fill="#fff" transform="rotate(-20.74 546.02 508)"/>
<path d="M553.26 516.02Q553.03 512.71 555.26 510.25" fill="none" stroke="#fff" stroke-width="0.78" stroke-linecap="round"/>
<ellipse cx="555.26" cy="510.25" rx="0.6" ry="0.98" fill="#fff" transform="rotate(19.08 555.26 510.25)"/>
<path d="M555.09 516.31Q557.37 515.04 556.59 512.54" fill="none" stroke="#fff" stroke-width="0.71" stroke-linecap="round"/>
<ellipse cx="556.59" cy="512.54" rx="1.01" ry="1.64" fill="#fff" transform="rotate(21.66 556.59 512.54)"/>
<path d="M556.71 516.56Q557.74 512.95 558.52 509.28" fill="none" stroke="#fff" stroke-width="1.11" stroke-linecap="round"/>
<path d="M558.52 519.19Q558.34 523.41 560.65 526.94" fill="none" stroke="#fff" stroke-width="0.67" stroke-linecap="round"/>
<ellipse cx="560.65" cy="526.94" rx="0.9" ry="1.45" fill="#fff" transform="rotate(164.6 560.65 526.94)"/>
<path d="M559.6 519.53Q561.38 524.4 557.12 527.34" fill="none" stroke="#fff" stroke-width="0.76" stroke-linecap="round"/>
<ellipse cx="557.12" cy="527.34" rx="0.79" ry="1.28" fill="#fff" transform="rotate(197.61 557.12 527.34)"/>
<path d="M561.24 519.87Q562.3 522.76 559.46 523.93" fill="none" stroke="#fff" stroke-width="0.7" stroke-linecap="round"/>
<ellipse cx="559.46" cy="523.93" rx="0.99" ry="1.61" fill="#fff" transform="rotate(203.71 559.46 523.93)"/>
<path d="M563.79 520.32Q563.75 522.3 564.76 524.01" fill="none" stroke="#fff" stroke-width="0.85" stroke-linecap="round"/>
<ellipse cx="564.76" cy="524.01" rx="1.16" ry="1.88" fill="#fff" transform="rotate(165.17 564.76 524.01)"/>
<path d="M565.06 518.37Q566.04 515.72 564.33 513.49" fill="none" stroke="#fff" stroke-width="0.81" stroke-linecap="round"/>
<path d="M567.21 518.75Q566.01 517.04 567.73 515.85" fill="none" stroke="#fff" stroke-width="0.98" stroke-linecap="round"/>
<ellipse cx="567.73" cy="515.85" rx="0.75" ry="1.22" fill="#fff" transform="rotate(10.25 567.73 515.85)"/>
<path d="M569.1 519.13Q571.21 516.84 570.7 513.77" fill="none" stroke="#fff" stroke-width="0.84" stroke-linecap="round"/>
<ellipse cx="570.7" cy="513.77" rx="0.99" ry="1.61" fill="#fff" transform="rotate(16.58 570.7 513.77)"/>
<path d="M570.42 519.39Q569.28 517.6 570.04 515.61" fill="none" stroke="#fff" stroke-width="1.17" stroke-linecap="round"/>
<ellipse cx="570.04" cy="515.61" rx="0.64" ry="1.04" fill="#fff" transform="rotate(-5.64 570.04 515.61)"/>
<path d="M572.51 522.04Q571.22 524.53 573.25 526.47" fill="none" stroke="#fff" stroke-width="0.74" stroke-linecap="round"/>
<ellipse cx="573.25" cy="526.47" rx="0.81" ry="1.32" fill="#fff" transform="rotate(170.49 573.25 526.47)"/>
<path d="M574.53 522.22Q574.59 525.56 576.76 528.1" fill="none" stroke="#fff" stroke-width="0.77" stroke-linecap="round"/>
<ellipse cx="576.76" cy="528.1" rx="0.68" ry="1.11" fill="#fff" transform="rotate(159.13 576.76 528.1)"/>
<path d="M575.37 522.41Q573.12 523.23 573.89 525.49" fill="none" stroke="#fff" stroke-width="0.77" stroke-linecap="round"/>
<ellipse cx="573.89" cy="525.49" rx="0.6" ry="0.98" fill="#fff" transform="rotate(205.58 573.89 525.49)"/>
<path d="M577.48 520.35Q578.22 518.48 576.94 516.94" fill="none" stroke="#fff" stroke-width="0.69" stroke-linecap="round"/>
<ellipse cx="576.94" cy="516.94" rx="0.98" ry="1.6" fill="#fff" transform="rotate(-9.01 576.94 516.94)"/>
<path d="M579.71 522.9Q578.13 526.35 580.99 528.86" fill="none" stroke="#fff" stroke-width="1.06" stroke-linecap="round"/>
<path d="M580.84 523.05Q580.37 524.42 579.84 525.77" fill="none" stroke="#fff" stroke-width="0.79" stroke-linecap="round"/>
<ellipse cx="579.84" cy="525.77" rx="1.01" ry="1.65" fill="#fff" transform="rotate(200.16 579.84 525.77)"/>
<path d="M583.45 523.24Q583.13 525.6 584.89 527.21" fill="none" stroke="#fff" stroke-width="0.72" stroke-linecap="round"/>
<path d="M584.46 521.16Q583.7 519.93 583.57 518.49" fill="none" stroke="#fff" stroke-width="0.93" stroke-linecap="round"/>
<path d="M586.96 521.33Q586.32 519.59 587.79 518.45" fill="none" stroke="#fff" stroke-width="0.94" stroke-linecap="round"/>
<ellipse cx="587.79" cy="518.45" rx="0.98" ry="1.59" fill="#fff" transform="rotate(16.13 587.79 518.45)"/>
<path d="M587.89 521.57Q587.14 519.98 586.35 518.41" fill="none" stroke="#fff" stroke-width="0.9" stroke-linecap="round"/>
<ellipse cx="586.35" cy="518.41" rx="1.09" ry="1.78" fill="#fff" transform="rotate(-25.89 586.35 518.41)"/>
<path d="M590.07 524.01Q590.47 525.96 589.65 527.77" fill="none" stroke="#fff" stroke-width="0.72" stroke-linecap="round"/>
<ellipse cx="589.65" cy="527.77" rx="1.19" ry="1.93" fill="#fff" transform="rotate(186.45 589.65 527.77)"/>
<path d="M592.54 521.9Q592.24 518.71 594.96 517.03" fill="none" stroke="#fff" stroke-width="1.07" stroke-linecap="round"/>
<ellipse cx="594.96" cy="517.03" rx="0.83" ry="1.35" fill="#fff" transform="rotate(26.5 594.96 517.03)"/>
<path d="M594.51 522.15Q594.4 520.17 596.32 519.69" fill="none" stroke="#fff" stroke-width="1.06" stroke-linecap="round"/>
<path d="M595.56 522.04Q594.74 520.5 595.49 518.92" fill="none" stroke="#fff" stroke-width="0.75" stroke-linecap="round"/>
<ellipse cx="595.49" cy="518.92" rx="1.22" ry="1.98" fill="#fff" transform="rotate(-1.31 595.49 518.92)"/>
<path d="M597.91 524.44Q598.96 526.13 599.63 528" fill="none" stroke="#fff" stroke-width="1.22" stroke-linecap="round"/>
<path d="M599.79 522.44Q600.36 520.48 601.79 519.03" fill="none" stroke="#fff" stroke-width="0.73" stroke-linecap="round"/>
<ellipse cx="601.79" cy="519.03" rx="0.89" ry="1.45" fill="#fff" transform="rotate(30.44 601.79 519.03)"/>
<path d="M601.54 524.65Q601.21 529.28 605.21 531.62" fill="none" stroke="#fff" stroke-width="1.21" stroke-linecap="round"/>
<ellipse cx="605.21" cy="531.62" rx="0.83" ry="1.35" fill="#fff" transform="rotate(152.22 605.21 531.62)"/>
<path d="M603.42 522.67Q606.71 520.78 607.05 517.01" fill="none" stroke="#fff" stroke-width="0.94" stroke-linecap="round"/>
<ellipse cx="607.05" cy="517.01" rx="0.63" ry="1.03" fill="#fff" transform="rotate(32.64 607.05 517.01)"/>
<path d="M605.16 524.82Q604.89 527.85 607.6 529.22" fill="none" stroke="#fff" stroke-width="0.74" stroke-linecap="round"/>
<path d="M606.28 522.66Q605.42 518.63 605.69 514.52" fill="none" stroke="#fff" stroke-width="1.13" stroke-linecap="round"/>
<ellipse cx="605.69" cy="514.52" rx="0.92" ry="1.49" fill="#fff" transform="rotate(-4.18 605.69 514.52)"/>
<path d="M607.98 525.12Q606.37 526.58 607.44 528.47" fill="none" stroke="#fff" stroke-width="1.07" stroke-linecap="round"/>
<ellipse cx="607.44" cy="528.47" rx="0.91" ry="1.47" fill="#fff" transform="rotate(189.08 607.44 528.47)"/>
<path d="M609.81 522.81Q609.16 520.05 609.06 517.21" fill="none" stroke="#fff" stroke-width="0.84" stroke-linecap="round"/>
<path d="M613.03 523.01Q612.41 519.7 610.11 517.25" fill="none" stroke="#fff" stroke-width="0.91" stroke-linecap="round"/>
<path d="M614.73 525.11Q611.73 526.61 611.66 529.96" fill="none" stroke="#fff" stroke-width="1.08" stroke-linecap="round"/>
<ellipse cx="611.66" cy="529.96" rx="1.02" ry="1.66" fill="#fff" transform="rotate(212.32 611.66 529.96)"/>
<path d="M617.61 523Q618.24 520.43 619.55 518.14" fill="none" stroke="#fff" stroke-width="0.92" stroke-linecap="round"/>
<path d="M619.05 525.32Q618.71 527.41 619.34 529.43" fill="none" stroke="#fff" stroke-width="0.68" stroke-linecap="round"/>
<path d="M621.37 523.1Q621.54 520.71 623.53 519.4" fill="none" stroke="#fff" stroke-width="0.78" stroke-linecap="round"/>
<ellipse cx="623.53" cy="519.4" rx="1.07" ry="1.74" fill="#fff" transform="rotate(30.29 623.53 519.4)"/>
<path d="M622.91 523Q624.21 519.2 625.2 515.31" fill="none" stroke="#fff" stroke-width="0.9" stroke-linecap="round"/>
<path d="M623.75 525.21Q622.24 527.05 621.31 529.23" fill="none" stroke="#fff" stroke-width="1.16" stroke-linecap="round"/>
<path d="M626.81 525.25Q626.35 527.23 628.34 527.67" fill="none" stroke="#fff" stroke-width="0.92" stroke-linecap="round"/>
<ellipse cx="628.34" cy="527.67" rx="0.68" ry="1.1" fill="#fff" transform="rotate(147.7 628.34 527.67)"/>
<path d="M627.91 523.1Q628.16 520.02 627.63 516.98" fill="none" stroke="#fff" stroke-width="1.08" stroke-linecap="round"/>
<path d="M631.22 525.59Q631.28 527.86 630.01 529.73" fill="none" stroke="#fff" stroke-width="1.01" stroke-linecap="round"/>
<ellipse cx="630.01" cy="529.73" rx="1.1" ry="1.79" fill="#fff" transform="rotate(196.36 630.01 529.73)"/>
<path d="M633.7 523.37Q636.69 520.34 635.8 516.18" fill="none" stroke="#fff" stroke-width="1.17" stroke-linecap="round"/>
<path d="M635.23 523.4Q633.87 518.93 635.74 514.64" fill="none" stroke="#fff" stroke-width="1" stroke-linecap="round"/>
<ellipse cx="635.74" cy="514.64" rx="0.62" ry="1.01" fill="#fff" transform="rotate(3.34 635.74 514.64)"/>
<path d="M636.94 523.48Q638.01 522.02 636.89 520.6" fill="none" stroke="#fff" stroke-width="1.15" stroke-linecap="round"/>
<path d="M639.1 523.6Q639.49 520.47 640.87 517.64" fill="none" stroke="#fff" stroke-width="1.05" stroke-linecap="round"/>
<path d="M640.12 525.94Q638.86 527.97 638.44 530.33" fill="none" stroke="#fff" stroke-width="1.06" stroke-linecap="round"/>
<path d="M643.45 525.91Q643.06 527.61 641.57 528.51" fill="none" stroke="#fff" stroke-width="0.78" stroke-linecap="round"/>
<ellipse cx="641.57" cy="528.51" rx="0.61" ry="0.99" fill="#fff" transform="rotate(215.89 641.57 528.51)"/>
<path d="M646.52 523.94Q646.35 522.24 647.86 521.44" fill="none" stroke="#fff" stroke-width="1.14" stroke-linecap="round"/>
<ellipse cx="647.86" cy="521.44" rx="1" ry="1.62" fill="#fff" transform="rotate(28.24 647.86 521.44)"/>
<path d="M647.61 526.24Q649.91 529.63 646.87 532.37" fill="none" stroke="#fff" stroke-width="0.83" stroke-linecap="round"/>
<ellipse cx="646.87" cy="532.37" rx="1.06" ry="1.72" fill="#fff" transform="rotate(186.86 646.87 532.37)"/>
<path d="M649.83 523.94Q647.88 519.62 651.59 516.67" fill="none" stroke="#fff" stroke-width="1.05" stroke-linecap="round"/>
<ellipse cx="651.59" cy="516.67" rx="0.92" ry="1.5" fill="#fff" transform="rotate(13.61 651.59 516.67)"/>
<path d="M650.72 524.15Q649.11 523.19 648.97 521.32" fill="none" stroke="#fff" stroke-width="0.84" stroke-linecap="round"/>
<ellipse cx="648.97" cy="521.32" rx="1.22" ry="1.98" fill="#fff" transform="rotate(-31.75 648.97 521.32)"/>
<path d="M653.24 526.43Q652.96 528.23 653.51 529.96" fill="none" stroke="#fff" stroke-width="0.81" stroke-linecap="round"/>
<path d="M655.28 526.45Q654.11 528.92 656.41 530.4" fill="none" stroke="#fff" stroke-width="0.88" stroke-linecap="round"/>
<path d="M657.02 524.2Q658.08 523.02 657.67 521.48" fill="none" stroke="#fff" stroke-width="0.97" stroke-linecap="round"/>
<ellipse cx="657.67" cy="521.48" rx="1.07" ry="1.74" fill="#fff" transform="rotate(13.4 657.67 521.48)"/>
<path d="M658.79 526.62Q657.64 528.31 659.38 529.37" fill="none" stroke="#fff" stroke-width="0.72" stroke-linecap="round"/>
<ellipse cx="659.38" cy="529.37" rx="0.87" ry="1.42" fill="#fff" transform="rotate(167.9 659.38 529.37)"/>
<path d="M659.83 526.62Q660.26 528.78 658.32 529.84" fill="none" stroke="#fff" stroke-width="1.16" stroke-linecap="round"/>
<ellipse cx="658.32" cy="529.84" rx="0.78" ry="1.26" fill="#fff" transform="rotate(205.1 658.32 529.84)"/>
<path d="M661.69 526.72Q662.17 528.46 660.62 529.38" fill="none" stroke="#fff" stroke-width="1.1" stroke-linecap="round"/>
<ellipse cx="660.62" cy="529.38" rx="0.94" ry="1.53" fill="#fff" transform="rotate(201.92 660.62 529.38)"/>
<path d="M663.38 524.63Q663.66 522.78 661.98 521.94" fill="none" stroke="#fff" stroke-width="1.19" stroke-linecap="round"/>
<path d="M665.27 524.68Q664.3 520.92 662.28 517.6" fill="none" stroke="#fff" stroke-width="0.79" stroke-linecap="round"/>
<ellipse cx="662.28" cy="517.6" rx="0.9" ry="1.46" fill="#fff" transform="rotate(-22.89 662.28 517.6)"/>
<path d="M668.24 524.9Q668.52 523.1 670.16 522.28" fill="none" stroke="#fff" stroke-width="1.19" stroke-linecap="round"/>
<ellipse cx="670.16" cy="522.28" rx="0.91" ry="1.47" fill="#fff" transform="rotate(36.13 670.16 522.28)"/>
<path d="M670.99 527.25Q671.08 529.24 670.54 531.16" fill="none" stroke="#fff" stroke-width="0.73" stroke-linecap="round"/>
<ellipse cx="670.54" cy="531.16" rx="0.73" ry="1.19" fill="#fff" transform="rotate(186.53 670.54 531.16)"/>
<path d="M673.28 527.3Q674.31 530.85 675.48 534.35" fill="none" stroke="#fff" stroke-width="1.02" stroke-linecap="round"/>
<path d="M674.47 527.43Q676.4 531.71 672.9 534.84" fill="none" stroke="#fff" stroke-width="1.14" stroke-linecap="round"/>
<path d="M676.88 527.5Q677.32 529.94 678.38 532.18" fill="none" stroke="#fff" stroke-width="0.84" stroke-linecap="round"/>
<ellipse cx="678.38" cy="532.18" rx="1.23" ry="2" fill="#fff" transform="rotate(162.3 678.38 532.18)"/>
<path d="M680.5 527.71Q681.57 529.78 681.97 532.07" fill="none" stroke="#fff" stroke-width="0.75" stroke-linecap="round"/>
<path d="M682.47 527.74Q686.46 529.57 685.67 533.89" fill="none" stroke="#fff" stroke-width="0.67" stroke-linecap="round"/>
<ellipse cx="685.67" cy="533.89" rx="0.67" ry="1.09" fill="#fff" transform="rotate(152.44 685.67 533.89)"/>
<path d="M486 540C486.67 539 488.33 535.92 490 534C491.67 532.08 493.67 530.17 496 528.5C498.33 526.83 501.33 525.22 504 524C506.67 522.78 509 521.95 512 521.2C515 520.45 519 520.12 522 519.5C525 518.88 527.33 518.17 530 517.5C532.67 516.83 535 515.67 538 515.5C541 515.33 544.67 516.08 548 516.5C551.33 516.92 554.33 517.33 558 518C561.67 518.67 566 519.83 570 520.5C574 521.17 577.83 521.55 582 522C586.17 522.45 590.33 522.87 595 523.2C599.67 523.53 605 523.83 610 524C615 524.17 620 524.07 625 524.2C630 524.33 635 524.62 640 524.8C645 524.98 650 525.1 655 525.3C660 525.5 665.17 525.75 670 526C674.83 526.25 681.67 526.67 684 526.8" fill="none" stroke="#fff" stroke-width="4.2" stroke-linecap="round" stroke-linejoin="round"/>
<ellipse cx="488.85" cy="536.69" rx="2.89" ry="2.23" fill="#fff"/>
<ellipse cx="490.88" cy="533.04" rx="2.81" ry="2.16" fill="#fff"/>
<ellipse cx="506.24" cy="523.98" rx="2.23" ry="1.72" fill="#fff"/>
<ellipse cx="512.27" cy="520.45" rx="2.77" ry="2.13" fill="#fff"/>
<ellipse cx="514.98" cy="521.38" rx="2.66" ry="2.04" fill="#fff"/>
<ellipse cx="518.75" cy="520.1" rx="3.28" ry="2.52" fill="#fff"/>
<ellipse cx="525.58" cy="518.23" rx="2.23" ry="1.71" fill="#fff"/>
<ellipse cx="532.2" cy="516.91" rx="3.22" ry="2.48" fill="#fff"/>
<ellipse cx="536.03" cy="515.45" rx="3.05" ry="2.34" fill="#fff"/>
<ellipse cx="553.57" cy="517.74" rx="2.25" ry="1.73" fill="#fff"/>
<ellipse cx="557.82" cy="518.14" rx="3.27" ry="2.51" fill="#fff"/>
<ellipse cx="560.61" cy="517.3" rx="2.56" ry="1.97" fill="#fff"/>
<ellipse cx="567.3" cy="520.1" rx="3.43" ry="2.64" fill="#fff"/>
<ellipse cx="578.14" cy="521.35" rx="3.61" ry="2.77" fill="#fff"/>
<ellipse cx="581.83" cy="521.21" rx="3.35" ry="2.57" fill="#fff"/>
<ellipse cx="591.39" cy="522.79" rx="2.87" ry="2.2" fill="#fff"/>
<ellipse cx="594.84" cy="523.48" rx="3.52" ry="2.71" fill="#fff"/>
<ellipse cx="602.62" cy="523.18" rx="2.25" ry="1.73" fill="#fff"/>
<ellipse cx="612.23" cy="522.91" rx="3.38" ry="2.6" fill="#fff"/>
<ellipse cx="620.16" cy="524.06" rx="2.49" ry="1.92" fill="#fff"/>
<ellipse cx="633.67" cy="523.84" rx="2.85" ry="2.19" fill="#fff"/>
<ellipse cx="640.09" cy="525.14" rx="3.27" ry="2.51" fill="#fff"/>
<ellipse cx="643.28" cy="523.98" rx="3.51" ry="2.7" fill="#fff"/>
<ellipse cx="646.68" cy="524.39" rx="3.18" ry="2.44" fill="#fff"/>
<ellipse cx="650.71" cy="526.01" rx="3.34" ry="2.57" fill="#fff"/>
<ellipse cx="654.55" cy="525.12" rx="3.51" ry="2.7" fill="#fff"/>
<ellipse cx="671.77" cy="526.58" rx="3.08" ry="2.37" fill="#fff"/>
<ellipse cx="676.14" cy="525.19" rx="2.99" ry="2.3" fill="#fff"/>
<ellipse cx="678.94" cy="526.76" rx="3.3" ry="2.54" fill="#fff"/>
<ellipse cx="682.09" cy="526.34" rx="2.33" ry="1.79" fill="#fff"/>
</g>
<g filter="url(#bl)">
<path d="M489.35 591.57Q490.94 594.63 492.46 597.73" fill="none" stroke="#fff" stroke-width="0.71" stroke-linecap="round"/>
<ellipse cx="492.46" cy="597.73" rx="0.72" ry="1.17" fill="#fff" transform="rotate(153.22 492.46 597.73)"/>
<path d="M489.79 588.49Q487.99 587.2 487.61 585.02" fill="none" stroke="#fff" stroke-width="1.13" stroke-linecap="round"/>
<ellipse cx="487.61" cy="585.02" rx="1.05" ry="1.71" fill="#fff" transform="rotate(-32.15 487.61 585.02)"/>
<path d="M492.89 589.34Q494.15 593.94 498.76 595.13" fill="none" stroke="#fff" stroke-width="1.13" stroke-linecap="round"/>
<ellipse cx="498.76" cy="595.13" rx="0.88" ry="1.44" fill="#fff" transform="rotate(134.6 498.76 595.13)"/>
<path d="M492.69 586.78Q491.51 582.77 487.34 582.83" fill="none" stroke="#fff" stroke-width="0.96" stroke-linecap="round"/>
<ellipse cx="487.34" cy="582.83" rx="0.83" ry="1.35" fill="#fff" transform="rotate(-53.54 487.34 582.83)"/>
<path d="M497.3 586.55Q499.22 589.48 499.89 592.93" fill="none" stroke="#fff" stroke-width="1.21" stroke-linecap="round"/>
<ellipse cx="499.89" cy="592.93" rx="0.87" ry="1.42" fill="#fff" transform="rotate(157.9 499.89 592.93)"/>
<path d="M499.47 584.89Q501.69 586.3 504.14 587.26" fill="none" stroke="#fff" stroke-width="1.24" stroke-linecap="round"/>
<ellipse cx="504.14" cy="587.26" rx="0.62" ry="1" fill="#fff" transform="rotate(116.9 504.14 587.26)"/>
<path d="M500.88 583.99Q501.9 585.11 503.21 585.87" fill="none" stroke="#fff" stroke-width="0.9" stroke-linecap="round"/>
<ellipse cx="503.21" cy="585.87" rx="1.22" ry="1.98" fill="#fff" transform="rotate(128.85 503.21 585.87)"/>
<path d="M501.9 583.28Q502.75 585.06 503.21 586.98" fill="none" stroke="#fff" stroke-width="1.18" stroke-linecap="round"/>
<ellipse cx="503.21" cy="586.98" rx="0.93" ry="1.51" fill="#fff" transform="rotate(160.59 503.21 586.98)"/>
<path d="M504.11 581.73Q505.67 584.79 509.1 584.77" fill="none" stroke="#fff" stroke-width="0.85" stroke-linecap="round"/>
<path d="M504.69 578.95Q506.23 574.93 504.43 571.02" fill="none" stroke="#fff" stroke-width="0.82" stroke-linecap="round"/>
<ellipse cx="504.43" cy="571.02" rx="1.11" ry="1.81" fill="#fff" transform="rotate(-1.89 504.43 571.02)"/>
<path d="M506.38 578.1Q504.88 576.25 506.25 574.3" fill="none" stroke="#fff" stroke-width="0.74" stroke-linecap="round"/>
<path d="M507.93 579.71Q505.05 581.79 506.88 584.82" fill="none" stroke="#fff" stroke-width="0.92" stroke-linecap="round"/>
<ellipse cx="506.88" cy="584.82" rx="1.05" ry="1.71" fill="#fff" transform="rotate(191.55 506.88 584.82)"/>
<path d="M510.17 576.67Q508.96 573.26 511.34 570.56" fill="none" stroke="#fff" stroke-width="0.99" stroke-linecap="round"/>
<path d="M512.11 578.32Q512.55 581.57 514.21 584.4" fill="none" stroke="#fff" stroke-width="0.89" stroke-linecap="round"/>
<ellipse cx="514.21" cy="584.4" rx="0.96" ry="1.55" fill="#fff" transform="rotate(160.94 514.21 584.4)"/>
<path d="M514.35 575.15Q511.84 572.34 508.52 570.56" fill="none" stroke="#fff" stroke-width="0.74" stroke-linecap="round"/>
<ellipse cx="508.52" cy="570.56" rx="1.08" ry="1.76" fill="#fff" transform="rotate(-51.81 508.52 570.56)"/>
<path d="M517.49 576.37Q517.74 578.97 519.22 581.12" fill="none" stroke="#fff" stroke-width="0.89" stroke-linecap="round"/>
<path d="M519 573.43Q520.37 570.01 519.76 566.39" fill="none" stroke="#fff" stroke-width="0.65" stroke-linecap="round"/>
<ellipse cx="519.76" cy="566.39" rx="0.87" ry="1.41" fill="#fff" transform="rotate(6.15 519.76 566.39)"/>
<path d="M519.96 573.04Q518.74 570.66 516.84 568.78" fill="none" stroke="#fff" stroke-width="0.92" stroke-linecap="round"/>
<ellipse cx="516.84" cy="568.78" rx="1.07" ry="1.74" fill="#fff" transform="rotate(-36.25 516.84 568.78)"/>
<path d="M522.3 572.21Q521.32 569.74 521.56 567.1" fill="none" stroke="#fff" stroke-width="0.7" stroke-linecap="round"/>
<path d="M523.4 571.93Q521.42 571.81 521.21 569.83" fill="none" stroke="#fff" stroke-width="1" stroke-linecap="round"/>
<path d="M527.03 570.55Q526.08 568 523.65 566.75" fill="none" stroke="#fff" stroke-width="1.18" stroke-linecap="round"/>
<ellipse cx="523.65" cy="566.75" rx="0.97" ry="1.58" fill="#fff" transform="rotate(-41.6 523.65 566.75)"/>
<path d="M530.51 571.57Q532.33 574.95 535.92 576.31" fill="none" stroke="#fff" stroke-width="1.01" stroke-linecap="round"/>
<path d="M531.22 568.91Q532.19 567.35 530.83 566.11" fill="none" stroke="#fff" stroke-width="1.12" stroke-linecap="round"/>
<ellipse cx="530.83" cy="566.11" rx="0.94" ry="1.52" fill="#fff" transform="rotate(-7.91 530.83 566.11)"/>
<path d="M533.87 570.39Q533.54 574.97 538.03 575.97" fill="none" stroke="#fff" stroke-width="1.1" stroke-linecap="round"/>
<ellipse cx="538.03" cy="575.97" rx="0.63" ry="1.02" fill="#fff" transform="rotate(143.33 538.03 575.97)"/>
<path d="M535.86 569.53Q536.33 571.41 538.27 571.55" fill="none" stroke="#fff" stroke-width="0.86" stroke-linecap="round"/>
<ellipse cx="538.27" cy="571.55" rx="0.73" ry="1.18" fill="#fff" transform="rotate(129.93 538.27 571.55)"/>
<path d="M537.15 569.22Q536.11 572.71 539.2 574.64" fill="none" stroke="#fff" stroke-width="1.04" stroke-linecap="round"/>
<path d="M538.59 568.66Q539.38 570.88 538.9 573.19" fill="none" stroke="#fff" stroke-width="1.13" stroke-linecap="round"/>
<path d="M540.57 568.01Q541.8 569.41 541.29 571.2" fill="none" stroke="#fff" stroke-width="0.97" stroke-linecap="round"/>
<ellipse cx="541.29" cy="571.2" rx="0.79" ry="1.28" fill="#fff" transform="rotate(167.21 541.29 571.2)"/>
<path d="M543.05 566.96Q545.51 567.02 546.19 569.39" fill="none" stroke="#fff" stroke-width="0.71" stroke-linecap="round"/>
<ellipse cx="546.19" cy="569.39" rx="0.61" ry="0.99" fill="#fff" transform="rotate(127.7 546.19 569.39)"/>
<path d="M544.43 566.69Q545.19 570.86 548.02 574" fill="none" stroke="#fff" stroke-width="0.86" stroke-linecap="round"/>
<path d="M545.68 563.8Q543.99 560.88 545.61 557.91" fill="none" stroke="#fff" stroke-width="1.08" stroke-linecap="round"/>
<path d="M548.18 565.37Q552.05 567.06 552.26 571.29" fill="none" stroke="#fff" stroke-width="1.02" stroke-linecap="round"/>
<ellipse cx="552.26" cy="571.29" rx="0.85" ry="1.39" fill="#fff" transform="rotate(145.41 552.26 571.29)"/>
<path d="M549.01 562.55Q546.81 560.69 548.01 558.06" fill="none" stroke="#fff" stroke-width="0.92" stroke-linecap="round"/>
<path d="M551.63 564.05Q553.17 565.48 553.6 567.53" fill="none" stroke="#fff" stroke-width="0.68" stroke-linecap="round"/>
<path d="M552.72 561.07Q552.72 559.56 552.55 558.05" fill="none" stroke="#fff" stroke-width="0.89" stroke-linecap="round"/>
<ellipse cx="552.55" cy="558.05" rx="1.04" ry="1.69" fill="#fff" transform="rotate(-3.22 552.55 558.05)"/>
<path d="M555.38 562.43Q558.42 564.88 560.68 568.06" fill="none" stroke="#fff" stroke-width="0.86" stroke-linecap="round"/>
<ellipse cx="560.68" cy="568.06" rx="0.91" ry="1.48" fill="#fff" transform="rotate(136.66 560.68 568.06)"/>
<path d="M556.13 559.75Q556.73 555.63 554.71 551.99" fill="none" stroke="#fff" stroke-width="0.9" stroke-linecap="round"/>
<ellipse cx="554.71" cy="551.99" rx="0.88" ry="1.44" fill="#fff" transform="rotate(-10.34 554.71 551.99)"/>
<path d="M557.83 561.61Q558.05 564.76 556.07 567.21" fill="none" stroke="#fff" stroke-width="0.93" stroke-linecap="round"/>
<ellipse cx="556.07" cy="567.21" rx="1.23" ry="2" fill="#fff" transform="rotate(197.39 556.07 567.21)"/>
<path d="M559.67 559.15Q557.83 558.14 558.62 556.19" fill="none" stroke="#fff" stroke-width="0.94" stroke-linecap="round"/>
<ellipse cx="558.62" cy="556.19" rx="1.17" ry="1.91" fill="#fff" transform="rotate(-19.6 558.62 556.19)"/>
<path d="M561.83 559.21Q563.45 555.99 561.14 553.24" fill="none" stroke="#fff" stroke-width="1.11" stroke-linecap="round"/>
<ellipse cx="561.14" cy="553.24" rx="1.14" ry="1.86" fill="#fff" transform="rotate(-6.62 561.14 553.24)"/>
<path d="M564.09 559.57Q565.93 556.23 565.63 552.42" fill="none" stroke="#fff" stroke-width="1.25" stroke-linecap="round"/>
<path d="M565.6 562.37Q563.24 564.7 565.24 567.35" fill="none" stroke="#fff" stroke-width="0.78" stroke-linecap="round"/>
<path d="M566.64 562.64Q564.93 565.96 561.63 567.72" fill="none" stroke="#fff" stroke-width="1.08" stroke-linecap="round"/>
<ellipse cx="561.63" cy="567.72" rx="1.06" ry="1.72" fill="#fff" transform="rotate(224.6 561.63 567.72)"/>
<path d="M568.57 563.5Q568.64 568.07 564.38 569.72" fill="none" stroke="#fff" stroke-width="0.68" stroke-linecap="round"/>
<ellipse cx="564.38" cy="569.72" rx="1.01" ry="1.65" fill="#fff" transform="rotate(213.98 564.38 569.72)"/>
<path d="M571.73 562.22Q571.56 557.64 575.99 556.43" fill="none" stroke="#fff" stroke-width="1.18" stroke-linecap="round"/>
<path d="M572.87 562.54Q573.76 561.14 572.95 559.7" fill="none" stroke="#fff" stroke-width="0.77" stroke-linecap="round"/>
<ellipse cx="572.95" cy="559.7" rx="0.98" ry="1.6" fill="#fff" transform="rotate(1.63 572.95 559.7)"/>
<path d="M574.62 563.04Q574.01 561.16 574.46 559.24" fill="none" stroke="#fff" stroke-width="1.17" stroke-linecap="round"/>
<ellipse cx="574.46" cy="559.24" rx="1.07" ry="1.74" fill="#fff" transform="rotate(-2.31 574.46 559.24)"/>
<path d="M575.95 565.78Q573.9 568.24 573.03 571.32" fill="none" stroke="#fff" stroke-width="0.72" stroke-linecap="round"/>
<ellipse cx="573.03" cy="571.32" rx="0.97" ry="1.58" fill="#fff" transform="rotate(207.75 573.03 571.32)"/>
<path d="M577.95 564.04Q576.47 561.76 576.19 559.05" fill="none" stroke="#fff" stroke-width="1.18" stroke-linecap="round"/>
<ellipse cx="576.19" cy="559.05" rx="0.76" ry="1.24" fill="#fff" transform="rotate(-19.49 576.19 559.05)"/>
<path d="M580.66 564.49Q581.44 563.26 581.76 561.84" fill="none" stroke="#fff" stroke-width="1.25" stroke-linecap="round"/>
<path d="M582.28 567.19Q585.56 570.61 583.76 574.99" fill="none" stroke="#fff" stroke-width="1.12" stroke-linecap="round"/>
<ellipse cx="583.76" cy="574.99" rx="0.82" ry="1.33" fill="#fff" transform="rotate(169.25 583.76 574.99)"/>
<path d="M584.27 567.57Q582.48 571.78 586.37 574.18" fill="none" stroke="#fff" stroke-width="0.99" stroke-linecap="round"/>
<ellipse cx="586.37" cy="574.18" rx="0.89" ry="1.45" fill="#fff" transform="rotate(162.34 586.37 574.18)"/>
<path d="M585.57 565.67Q585.03 564.04 585.04 562.32" fill="none" stroke="#fff" stroke-width="0.94" stroke-linecap="round"/>
<path d="M586.91 568.21Q585.98 569.72 584.81 571.05" fill="none" stroke="#fff" stroke-width="1.08" stroke-linecap="round"/>
<path d="M589.16 566.42Q585.47 564.05 587.36 560.08" fill="none" stroke="#fff" stroke-width="0.82" stroke-linecap="round"/>
<path d="M591.16 566.59Q590.93 563.81 590.16 561.13" fill="none" stroke="#fff" stroke-width="0.94" stroke-linecap="round"/>
<ellipse cx="590.16" cy="561.13" rx="1.22" ry="1.98" fill="#fff" transform="rotate(-10.44 590.16 561.13)"/>
<path d="M593.82 566.71Q596.62 564.59 596.65 561.07" fill="none" stroke="#fff" stroke-width="0.65" stroke-linecap="round"/>
<ellipse cx="596.65" cy="561.07" rx="1" ry="1.63" fill="#fff" transform="rotate(26.67 596.65 561.07)"/>
<path d="M594.87 566.45Q594.55 563.36 593.31 560.51" fill="none" stroke="#fff" stroke-width="1.04" stroke-linecap="round"/>
<path d="M596.29 566.36Q594.97 565.58 594.5 564.12" fill="none" stroke="#fff" stroke-width="0.82" stroke-linecap="round"/>
<ellipse cx="594.5" cy="564.12" rx="0.95" ry="1.54" fill="#fff" transform="rotate(-38.69 594.5 564.12)"/>
<path d="M599.28 568.06Q601.8 570.89 601.46 574.65" fill="none" stroke="#fff" stroke-width="1.08" stroke-linecap="round"/>
<ellipse cx="601.46" cy="574.65" rx="1.08" ry="1.75" fill="#fff" transform="rotate(161.71 601.46 574.65)"/>
<path d="M600.85 565.35Q599.55 563.27 601.13 561.4" fill="none" stroke="#fff" stroke-width="0.99" stroke-linecap="round"/>
<path d="M602.05 565.08Q601.06 563.02 599.88 561.06" fill="none" stroke="#fff" stroke-width="1.03" stroke-linecap="round"/>
<path d="M603.7 564.68Q602.61 562.64 600.87 561.12" fill="none" stroke="#fff" stroke-width="0.68" stroke-linecap="round"/>
<path d="M606.29 566.3Q604.05 569.99 606.32 573.66" fill="none" stroke="#fff" stroke-width="0.72" stroke-linecap="round"/>
<ellipse cx="606.32" cy="573.66" rx="0.63" ry="1.02" fill="#fff" transform="rotate(179.7 606.32 573.66)"/>
<path d="M608.09 563.48Q608.51 560.65 607.89 557.87" fill="none" stroke="#fff" stroke-width="0.96" stroke-linecap="round"/>
<path d="M612.39 563.56Q613.83 561.77 614.16 559.49" fill="none" stroke="#fff" stroke-width="1.23" stroke-linecap="round"/>
<ellipse cx="614.16" cy="559.49" rx="0.81" ry="1.32" fill="#fff" transform="rotate(23.48 614.16 559.49)"/>
<path d="M612.95 565.95Q611.82 568.96 608.91 570.31" fill="none" stroke="#fff" stroke-width="1.18" stroke-linecap="round"/>
<ellipse cx="608.91" cy="570.31" rx="0.79" ry="1.28" fill="#fff" transform="rotate(222.87 608.91 570.31)"/>
<path d="M615.58 564.45Q618.09 561.02 615.59 557.57" fill="none" stroke="#fff" stroke-width="1.11" stroke-linecap="round"/>
<ellipse cx="615.59" cy="557.57" rx="0.76" ry="1.24" fill="#fff" transform="rotate(0.12 615.59 557.57)"/>
<path d="M618.16 565.37Q620.63 563.02 622.62 560.25" fill="none" stroke="#fff" stroke-width="1.2" stroke-linecap="round"/>
<ellipse cx="622.62" cy="560.25" rx="1.01" ry="1.63" fill="#fff" transform="rotate(41.03 622.62 560.25)"/>
<path d="M620.11 566.19Q620.71 563.81 623.16 563.86" fill="none" stroke="#fff" stroke-width="1.09" stroke-linecap="round"/>
<ellipse cx="623.16" cy="563.86" rx="1.16" ry="1.89" fill="#fff" transform="rotate(52.64 623.16 563.86)"/>
<path d="M621.03 568.82Q619.08 571.82 621.56 574.4" fill="none" stroke="#fff" stroke-width="0.94" stroke-linecap="round"/>
<ellipse cx="621.56" cy="574.4" rx="1.07" ry="1.73" fill="#fff" transform="rotate(174.6 621.56 574.4)"/>
<path d="M623.18 567.31Q625.48 565.69 625.29 562.88" fill="none" stroke="#fff" stroke-width="0.75" stroke-linecap="round"/>
<ellipse cx="625.29" cy="562.88" rx="0.74" ry="1.21" fill="#fff" transform="rotate(25.55 625.29 562.88)"/>
<path d="M625.21 568.34Q625.41 564.23 629.5 563.9" fill="none" stroke="#fff" stroke-width="0.99" stroke-linecap="round"/>
<ellipse cx="629.5" cy="563.9" rx="0.74" ry="1.2" fill="#fff" transform="rotate(44.03 629.5 563.9)"/>
<path d="M626.89 569.15Q628.43 568.63 628.8 567.04" fill="none" stroke="#fff" stroke-width="0.87" stroke-linecap="round"/>
<ellipse cx="628.8" cy="567.04" rx="1.23" ry="2" fill="#fff" transform="rotate(42.2 628.8 567.04)"/>
<path d="M629.59 570.71Q628.81 567.75 630.49 565.2" fill="none" stroke="#fff" stroke-width="0.79" stroke-linecap="round"/>
<ellipse cx="630.49" cy="565.2" rx="1.23" ry="1.99" fill="#fff" transform="rotate(9.28 630.49 565.2)"/>
<path d="M630.22 573.74Q627.56 575.34 626.15 578.11" fill="none" stroke="#fff" stroke-width="1.23" stroke-linecap="round"/>
<ellipse cx="626.15" cy="578.11" rx="0.76" ry="1.24" fill="#fff" transform="rotate(222.97 626.15 578.11)"/>
<path d="M633.38 572.83Q636.37 571.06 637.05 567.65" fill="none" stroke="#fff" stroke-width="0.96" stroke-linecap="round"/>
<ellipse cx="637.05" cy="567.65" rx="0.71" ry="1.16" fill="#fff" transform="rotate(35.33 637.05 567.65)"/>
<path d="M635.35 574Q636.3 571.94 638.55 571.75" fill="none" stroke="#fff" stroke-width="0.85" stroke-linecap="round"/>
<ellipse cx="638.55" cy="571.75" rx="1.21" ry="1.97" fill="#fff" transform="rotate(54.94 638.55 571.75)"/>
<path d="M635.24 576.41Q634.6 578.15 632.91 578.9" fill="none" stroke="#fff" stroke-width="0.73" stroke-linecap="round"/>
<ellipse cx="632.91" cy="578.9" rx="0.84" ry="1.37" fill="#fff" transform="rotate(223.25 632.91 578.9)"/>
<path d="M637.01 577.29Q634.75 578.85 633.64 581.38" fill="none" stroke="#fff" stroke-width="0.83" stroke-linecap="round"/>
<ellipse cx="633.64" cy="581.38" rx="1.15" ry="1.87" fill="#fff" transform="rotate(219.48 633.64 581.38)"/>
<path d="M639.26 575.95Q640.6 572.52 637.93 569.97" fill="none" stroke="#fff" stroke-width="0.7" stroke-linecap="round"/>
<ellipse cx="637.93" cy="569.97" rx="1.01" ry="1.64" fill="#fff" transform="rotate(-12.54 637.93 569.97)"/>
<path d="M640.49 578.66Q640.04 580.44 638.3 581.02" fill="none" stroke="#fff" stroke-width="0.86" stroke-linecap="round"/>
<ellipse cx="638.3" cy="581.02" rx="0.89" ry="1.44" fill="#fff" transform="rotate(222.79 638.3 581.02)"/>
<path d="M642.83 577.17Q639.08 573.94 640.86 569.32" fill="none" stroke="#fff" stroke-width="0.68" stroke-linecap="round"/>
<ellipse cx="640.86" cy="569.32" rx="0.92" ry="1.5" fill="#fff" transform="rotate(-14.08 640.86 569.32)"/>
<path d="M644.66 580.01Q646.35 583.22 643.37 585.27" fill="none" stroke="#fff" stroke-width="1" stroke-linecap="round"/>
<ellipse cx="643.37" cy="585.27" rx="1.02" ry="1.65" fill="#fff" transform="rotate(193.82 643.37 585.27)"/>
<path d="M646.83 578.09Q647.03 576.29 646.93 574.47" fill="none" stroke="#fff" stroke-width="0.88" stroke-linecap="round"/>
<ellipse cx="646.93" cy="574.47" rx="0.71" ry="1.16" fill="#fff" transform="rotate(1.56 646.93 574.47)"/>
<path d="M648.82 578.47Q650.55 576.91 649.29 574.95" fill="none" stroke="#fff" stroke-width="0.9" stroke-linecap="round"/>
<ellipse cx="649.29" cy="574.95" rx="0.8" ry="1.29" fill="#fff" transform="rotate(7.7 649.29 574.95)"/>
<path d="M650.18 581.05Q650.4 583.56 648.77 585.47" fill="none" stroke="#fff" stroke-width="0.77" stroke-linecap="round"/>
<ellipse cx="648.77" cy="585.47" rx="0.93" ry="1.51" fill="#fff" transform="rotate(197.71 648.77 585.47)"/>
<path d="M652.67 581.18Q653.51 583.69 653.7 586.32" fill="none" stroke="#fff" stroke-width="0.76" stroke-linecap="round"/>
<ellipse cx="653.7" cy="586.32" rx="1.04" ry="1.68" fill="#fff" transform="rotate(168.73 653.7 586.32)"/>
<path d="M654.13 578.74Q653.14 577.2 653.56 575.42" fill="none" stroke="#fff" stroke-width="1.17" stroke-linecap="round"/>
<ellipse cx="653.56" cy="575.42" rx="0.8" ry="1.3" fill="#fff" transform="rotate(-9.8 653.56 575.42)"/>
<path d="M656.92 580.67Q657.25 582.4 658.78 583.29" fill="none" stroke="#fff" stroke-width="0.95" stroke-linecap="round"/>
<ellipse cx="658.78" cy="583.29" rx="0.9" ry="1.47" fill="#fff" transform="rotate(144.6 658.78 583.29)"/>
<path d="M658.6 580.44Q660.52 581.42 660.04 583.51" fill="none" stroke="#fff" stroke-width="1.09" stroke-linecap="round"/>
<path d="M659.86 580.16Q658.08 582.49 659.49 585.07" fill="none" stroke="#fff" stroke-width="0.68" stroke-linecap="round"/>
<ellipse cx="659.49" cy="585.07" rx="0.7" ry="1.13" fill="#fff" transform="rotate(184.33 659.49 585.07)"/>
<path d="M661.48 577.39Q659.5 576.33 660.66 574.41" fill="none" stroke="#fff" stroke-width="1.15" stroke-linecap="round"/>
<path d="M663.87 576.92Q665.22 573.25 665.24 569.33" fill="none" stroke="#fff" stroke-width="1.21" stroke-linecap="round"/>
<ellipse cx="665.24" cy="569.33" rx="0.95" ry="1.55" fill="#fff" transform="rotate(10.26 665.24 569.33)"/>
<path d="M665.11 578.74Q665.11 581.54 663.46 583.81" fill="none" stroke="#fff" stroke-width="1.06" stroke-linecap="round"/>
<path d="M667.02 578.22Q665.27 580.42 665.82 583.17" fill="none" stroke="#fff" stroke-width="0.79" stroke-linecap="round"/>
<ellipse cx="665.82" cy="583.17" rx="1.1" ry="1.78" fill="#fff" transform="rotate(193.59 665.82 583.17)"/>
<path d="M668.99 577.67Q665.29 581.22 668.2 585.45" fill="none" stroke="#fff" stroke-width="0.69" stroke-linecap="round"/>
<path d="M670.95 577.07Q671.21 579.97 671.14 582.88" fill="none" stroke="#fff" stroke-width="1.12" stroke-linecap="round"/>
<ellipse cx="671.14" cy="582.88" rx="1.12" ry="1.82" fill="#fff" transform="rotate(178.12 671.14 582.88)"/>
<path d="M672.66 576.45Q673.12 579.2 672.44 581.9" fill="none" stroke="#fff" stroke-width="0.76" stroke-linecap="round"/>
<path d="M675.48 575.31Q677.37 578.46 680.97 579.23" fill="none" stroke="#fff" stroke-width="1.09" stroke-linecap="round"/>
<ellipse cx="680.97" cy="579.23" rx="0.74" ry="1.21" fill="#fff" transform="rotate(125.5 680.97 579.23)"/>
<path d="M675.34 573.21Q673.76 572.75 672.95 571.32" fill="none" stroke="#fff" stroke-width="0.9" stroke-linecap="round"/>
<ellipse cx="672.95" cy="571.32" rx="1.04" ry="1.7" fill="#fff" transform="rotate(-51.7 672.95 571.32)"/>
<path d="M677.17 572.47Q675.96 568.79 672.19 567.89" fill="none" stroke="#fff" stroke-width="0.94" stroke-linecap="round"/>
<ellipse cx="672.19" cy="567.89" rx="1.2" ry="1.95" fill="#fff" transform="rotate(-47.43 672.19 567.89)"/>
<path d="M679.23 571.56Q680.05 567.59 676.18 566.36" fill="none" stroke="#fff" stroke-width="1.14" stroke-linecap="round"/>
<ellipse cx="676.18" cy="566.36" rx="1.13" ry="1.84" fill="#fff" transform="rotate(-30.35 676.18 566.36)"/>
<path d="M682.53 572.68Q684.68 574.5 686.89 576.25" fill="none" stroke="#fff" stroke-width="0.85" stroke-linecap="round"/>
<ellipse cx="686.89" cy="576.25" rx="0.89" ry="1.45" fill="#fff" transform="rotate(129.34 686.89 576.25)"/>
<path d="M682.83 570.17Q683.85 566.44 680.24 565.07" fill="none" stroke="#fff" stroke-width="1.09" stroke-linecap="round"/>
<ellipse cx="680.24" cy="565.07" rx="0.95" ry="1.55" fill="#fff" transform="rotate(-27.01 680.24 565.07)"/>
<path d="M488 591C489.33 590.17 493.17 587.83 496 586C498.83 584.17 501.83 581.67 505 580C508.17 578.33 511.67 577.25 515 576C518.33 574.75 521.33 573.83 525 572.5C528.67 571.17 533.17 569.38 537 568C540.83 566.62 544.5 565.45 548 564.2C551.5 562.95 555.17 561.03 558 560.5C560.83 559.97 562.67 560.5 565 561C567.33 561.5 569.17 562.67 572 563.5C574.83 564.33 578.67 565.28 582 566C585.33 566.72 588.83 567.72 592 567.8C595.17 567.88 598 567.05 601 566.5C604 565.95 607.17 564.5 610 564.5C612.83 564.5 615.33 565.58 618 566.5C620.67 567.42 623.33 568.67 626 570C628.67 571.33 631.33 573.17 634 574.5C636.67 575.83 639 577.08 642 578C645 578.92 648.67 579.92 652 580C655.33 580.08 658.67 579.25 662 578.5C665.33 577.75 668.33 576.75 672 575.5C675.67 574.25 682 571.75 684 571" fill="none" stroke="#fff" stroke-width="3.7" stroke-linecap="round" stroke-linejoin="round"/>
<ellipse cx="498.74" cy="585.5" rx="2.98" ry="2.29" fill="#fff"/>
<ellipse cx="501.66" cy="582.03" rx="3.24" ry="2.49" fill="#fff"/>
<ellipse cx="509.83" cy="576.83" rx="2.75" ry="2.11" fill="#fff"/>
<ellipse cx="516.9" cy="575.93" rx="2.14" ry="1.64" fill="#fff"/>
<ellipse cx="523.14" cy="573" rx="2.52" ry="1.94" fill="#fff"/>
<ellipse cx="526.83" cy="572.17" rx="2.7" ry="2.08" fill="#fff"/>
<ellipse cx="533.76" cy="568.85" rx="1.99" ry="1.53" fill="#fff"/>
<ellipse cx="536.87" cy="567.44" rx="2.21" ry="1.7" fill="#fff"/>
<ellipse cx="541.11" cy="566.52" rx="2.07" ry="1.59" fill="#fff"/>
<ellipse cx="543.95" cy="566.62" rx="2.33" ry="1.79" fill="#fff"/>
<ellipse cx="546.95" cy="565.09" rx="1.95" ry="1.5" fill="#fff"/>
<ellipse cx="549.57" cy="564.43" rx="3.06" ry="2.35" fill="#fff"/>
<ellipse cx="563.88" cy="561.84" rx="3.11" ry="2.4" fill="#fff"/>
<ellipse cx="567.07" cy="562.67" rx="3.09" ry="2.38" fill="#fff"/>
<ellipse cx="571.04" cy="564.04" rx="2.36" ry="1.82" fill="#fff"/>
<ellipse cx="572.45" cy="562.89" rx="1.95" ry="1.5" fill="#fff"/>
<ellipse cx="581.17" cy="565.3" rx="2.18" ry="1.68" fill="#fff"/>
<ellipse cx="586.74" cy="566.17" rx="2.07" ry="1.59" fill="#fff"/>
<ellipse cx="590.04" cy="566.6" rx="3.27" ry="2.52" fill="#fff"/>
<ellipse cx="593.46" cy="568.92" rx="3.05" ry="2.35" fill="#fff"/>
<ellipse cx="601.51" cy="567.42" rx="2.94" ry="2.26" fill="#fff"/>
<ellipse cx="604.9" cy="566.25" rx="2.31" ry="1.78" fill="#fff"/>
<ellipse cx="607.02" cy="565.83" rx="2.6" ry="2" fill="#fff"/>
<ellipse cx="618.77" cy="566.43" rx="2.29" ry="1.76" fill="#fff"/>
<ellipse cx="623.35" cy="570.34" rx="1.97" ry="1.51" fill="#fff"/>
<ellipse cx="630.49" cy="573.17" rx="3.04" ry="2.34" fill="#fff"/>
<ellipse cx="634.37" cy="573.73" rx="2.27" ry="1.75" fill="#fff"/>
<ellipse cx="636.91" cy="575.4" rx="2.29" ry="1.76" fill="#fff"/>
<ellipse cx="643.81" cy="578.88" rx="3.07" ry="2.36" fill="#fff"/>
<ellipse cx="645.88" cy="579.74" rx="2.67" ry="2.06" fill="#fff"/>
<ellipse cx="660.56" cy="580.04" rx="2.36" ry="1.81" fill="#fff"/>
<ellipse cx="664.23" cy="578.14" rx="3.16" ry="2.43" fill="#fff"/>
<ellipse cx="669.99" cy="577.15" rx="2.09" ry="1.61" fill="#fff"/>
<ellipse cx="674.01" cy="574.18" rx="2.3" ry="1.77" fill="#fff"/>
<ellipse cx="677.83" cy="573.8" rx="2.12" ry="1.63" fill="#fff"/>
<ellipse cx="680.34" cy="572.74" rx="2.1" ry="1.61" fill="#fff"/>
</g>
</g>
<rect x="655.8" y="549.4" width="20.4" height="1.7" fill="#fff"/>
</svg>
</body></html>
